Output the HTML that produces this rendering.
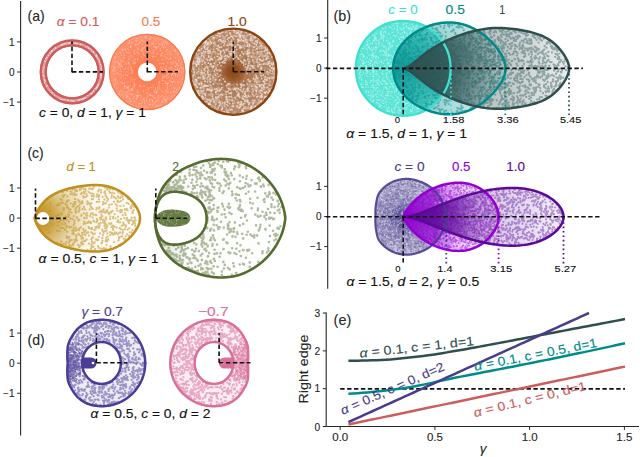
<!DOCTYPE html><html><head><meta charset="utf-8"><style>html,body{margin:0;padding:0;background:#fff;width:640px;height:457px;overflow:hidden;position:relative}</style></head><body><svg width="640" height="457" viewBox="0 0 640 457" style="display:block;position:absolute;left:0;top:0">
<rect width="640" height="457" fill="#fff"/>
<g font-family="&apos;Liberation Sans&apos;, sans-serif">
<line x1="20.6" y1="1" x2="20.6" y2="435.5" stroke="#262626" stroke-width="1.1"/>
<line x1="17.1" y1="41.9" x2="20.6" y2="41.9" stroke="#262626" stroke-width="1"/>
<text x="14.50" y="45.50" font-size="10.00" fill="#262626" stroke="#262626" stroke-width="0.12" text-anchor="end" >1</text>
<line x1="17.1" y1="72.0" x2="20.6" y2="72.0" stroke="#262626" stroke-width="1"/>
<text x="14.50" y="75.60" font-size="10.00" fill="#262626" stroke="#262626" stroke-width="0.12" text-anchor="end" >0</text>
<line x1="17.1" y1="102.1" x2="20.6" y2="102.1" stroke="#262626" stroke-width="1"/>
<text x="14.50" y="105.70" font-size="10.00" fill="#262626" stroke="#262626" stroke-width="0.12" text-anchor="end" >&#8722;1</text>
<line x1="17.1" y1="188.0" x2="20.6" y2="188.0" stroke="#262626" stroke-width="1"/>
<text x="14.50" y="191.60" font-size="10.00" fill="#262626" stroke="#262626" stroke-width="0.12" text-anchor="end" >1</text>
<line x1="17.1" y1="218.1" x2="20.6" y2="218.1" stroke="#262626" stroke-width="1"/>
<text x="14.50" y="221.70" font-size="10.00" fill="#262626" stroke="#262626" stroke-width="0.12" text-anchor="end" >0</text>
<line x1="17.1" y1="248.2" x2="20.6" y2="248.2" stroke="#262626" stroke-width="1"/>
<text x="14.50" y="251.80" font-size="10.00" fill="#262626" stroke="#262626" stroke-width="0.12" text-anchor="end" >&#8722;1</text>
<line x1="17.1" y1="333.1" x2="20.6" y2="333.1" stroke="#262626" stroke-width="1"/>
<text x="14.50" y="336.70" font-size="10.00" fill="#262626" stroke="#262626" stroke-width="0.12" text-anchor="end" >1</text>
<line x1="17.1" y1="363.2" x2="20.6" y2="363.2" stroke="#262626" stroke-width="1"/>
<text x="14.50" y="366.80" font-size="10.00" fill="#262626" stroke="#262626" stroke-width="0.12" text-anchor="end" >0</text>
<line x1="17.1" y1="393.3" x2="20.6" y2="393.3" stroke="#262626" stroke-width="1"/>
<text x="14.50" y="396.90" font-size="10.00" fill="#262626" stroke="#262626" stroke-width="0.12" text-anchor="end" >&#8722;1</text>
<line x1="327.7" y1="0" x2="327.7" y2="288.7" stroke="#262626" stroke-width="1.1"/>
<line x1="324.2" y1="38.0" x2="327.7" y2="38.0" stroke="#262626" stroke-width="1"/>
<text x="321.50" y="41.60" font-size="10.00" fill="#262626" stroke="#262626" stroke-width="0.12" text-anchor="end" >1</text>
<line x1="324.2" y1="68.1" x2="327.7" y2="68.1" stroke="#262626" stroke-width="1"/>
<text x="321.50" y="71.70" font-size="10.00" fill="#262626" stroke="#262626" stroke-width="0.12" text-anchor="end" >0</text>
<line x1="324.2" y1="98.2" x2="327.7" y2="98.2" stroke="#262626" stroke-width="1"/>
<text x="321.50" y="101.80" font-size="10.00" fill="#262626" stroke="#262626" stroke-width="0.12" text-anchor="end" >&#8722;1</text>
<line x1="324.2" y1="186.4" x2="327.7" y2="186.4" stroke="#262626" stroke-width="1"/>
<text x="321.50" y="190.00" font-size="10.00" fill="#262626" stroke="#262626" stroke-width="0.12" text-anchor="end" >1</text>
<line x1="324.2" y1="216.5" x2="327.7" y2="216.5" stroke="#262626" stroke-width="1"/>
<text x="321.50" y="220.10" font-size="10.00" fill="#262626" stroke="#262626" stroke-width="0.12" text-anchor="end" >0</text>
<line x1="324.2" y1="246.6" x2="327.7" y2="246.6" stroke="#262626" stroke-width="1"/>
<text x="321.50" y="250.20" font-size="10.00" fill="#262626" stroke="#262626" stroke-width="0.12" text-anchor="end" >&#8722;1</text>
<text x="27.50" y="21.40" font-size="15.00" fill="#262626" stroke="#262626" stroke-width="0.12" text-anchor="start" textLength="17.1" lengthAdjust="spacingAndGlyphs" >(a)</text>
<text x="333.50" y="21.10" font-size="15.00" fill="#262626" stroke="#262626" stroke-width="0.12" text-anchor="start" textLength="17.5" lengthAdjust="spacingAndGlyphs" >(b)</text>
<text x="27.50" y="157.60" font-size="15.00" fill="#262626" stroke="#262626" stroke-width="0.12" text-anchor="start" textLength="16.2" lengthAdjust="spacingAndGlyphs" >(c)</text>
<text x="27.50" y="345.20" font-size="15.00" fill="#262626" stroke="#262626" stroke-width="0.12" text-anchor="start" textLength="17.2" lengthAdjust="spacingAndGlyphs" >(d)</text>
<path d="M39.70,71.90 a32.50,32.50 0 1,0 65.00,0 a32.50,32.50 0 1,0 -65.00,0ZM46.80,71.90 a25.40,25.40 0 1,0 50.80,0 a25.40,25.40 0 1,0 -50.80,0Z" fill="#cd5c5c" fill-opacity="0.60" fill-rule="evenodd"/>
<path d="M44.3,80.5h0 M98.0,58.6h0 M42.9,70.5h0 M83.8,98.6h0 M51.8,50.2h0 M96.0,87.9h0 M97.3,88.0h0 M62.4,45.6h0 M102.1,68.5h0 M55.5,47.7h0 M87.6,95.3h0 M44.5,66.9h0 M82.7,98.4h0 M100.7,77.4h0 M44.4,82.8h0 M43.0,68.4h0 M42.7,71.9h0 M44.6,79.5h0 M102.4,71.5h0 M88.1,47.0h0 M60.8,98.0h0 M65.4,99.2h0 M75.2,43.2h0 M88.7,48.2h0 M101.0,64.1h0 M100.7,72.0h0 M96.7,56.4h0 M100.9,68.3h0 M98.5,84.9h0 M77.3,43.8h0 M96.7,86.9h0 M101.1,65.3h0 M93.3,91.2h0 M94.8,88.6h0 M80.5,44.7h0 M45.2,61.3h0 M83.0,99.5h0 M92.2,93.5h0 M93.7,91.2h0 M78.8,99.7h0 M101.5,66.5h0 M62.2,100.1h0 M79.3,99.9h0 M90.1,48.6h0 M96.6,89.7h0 M78.7,99.7h0 M76.3,43.5h0 M64.1,98.9h0 M96.9,87.6h0 M73.5,101.2h0 M52.1,92.8h0 M100.3,64.5h0 M45.5,58.4h0 M83.8,97.8h0 M97.2,55.7h0 M72.3,100.3h0 M70.2,41.9h0 M82.1,100.3h0 M93.9,52.1h0 M47.3,85.3h0 M101.4,79.2h0 M74.4,101.4h0 M70.9,101.7h0 M48.7,55.6h0 M85.6,98.3h0 M98.1,83.8h0 M44.4,61.0h0 M50.7,53.1h0 M96.9,57.8h0 M100.6,74.9h0 M45.7,81.3h0 M85.1,97.7h0 M46.8,59.5h0 M52.8,94.7h0 M101.4,68.3h0 M61.6,44.6h0 M90.0,93.6h0 M102.0,75.3h0 M63.1,43.2h0 M101.3,75.8h0 M42.8,75.2h0 M59.5,99.3h0 M98.2,85.2h0 M69.8,42.0h0 M69.8,42.4h0 M80.3,43.0h0 M54.6,95.6h0 M96.5,54.4h0 M46.4,86.7h0 M91.3,49.8h0 M51.8,51.5h0 M46.7,57.3h0 M98.0,86.1h0 M102.1,70.6h0 M68.3,43.3h0 M69.5,42.8h0 M44.4,82.8h0 M97.8,86.8h0 M101.0,77.4h0 M43.9,75.3h0 M62.9,44.3h0 M49.6,52.1h0 M71.2,99.9h0 M62.9,99.9h0 M80.5,99.0h0 M96.6,55.5h0 M44.2,82.6h0 M58.5,98.0h0 M81.4,99.3h0 M82.5,43.7h0 M93.3,52.2h0 M47.3,57.6h0 M91.3,93.9h0 M87.7,46.4h0 M64.9,42.7h0 M67.4,99.9h0 M45.0,80.6h0 M78.7,100.1h0 M51.7,51.2h0 M60.3,99.3h0 M101.0,68.6h0 M97.2,84.6h0 M91.8,51.8h0 M64.7,43.6h0 M61.4,99.6h0 M100.3,75.3h0 M45.3,79.8h0 M85.9,46.9h0 M90.0,93.7h0 M52.3,50.9h0 M52.0,50.4h0 M82.8,43.7h0 M60.8,45.8h0 M44.2,76.3h0 M101.2,73.9h0 M65.9,44.2h0 M68.2,100.4h0 M62.7,44.3h0 M49.9,52.4h0 M48.9,90.3h0 M95.6,56.2h0 M99.2,59.7h0 M92.1,93.0h0 M51.1,50.6h0 M51.3,92.3h0 M93.8,51.4h0 M99.5,61.9h0 M55.7,48.7h0 M67.0,42.6h0 M53.6,48.9h0" stroke="#fff" stroke-width="1.20" stroke-linecap="round" fill="none" opacity="0.70"/>
<circle cx="72.2" cy="71.9" r="31.4" fill="none" stroke="#cd5c5c" stroke-width="2.4"/>
<circle cx="72.2" cy="71.9" r="26.5" fill="none" stroke="#cd5c5c" stroke-width="2.4"/>
<circle cx="72.2" cy="71.9" r="1" fill="#cd5c5c"/>
<defs><radialGradient id="gco"><stop offset="0" stop-color="#fc7a4f" stop-opacity="1"/><stop offset="0.5" stop-color="#fc7a4f" stop-opacity="0.92"/><stop offset="1" stop-color="#fc7a4f" stop-opacity="0.8"/></radialGradient></defs>
<path d="M109.00,71.90 a38.20,38.20 0 1,0 76.40,0 a38.20,38.20 0 1,0 -76.40,0ZM137.90,71.90 a9.30,9.30 0 1,0 18.60,0 a9.30,9.30 0 1,0 -18.60,0Z" fill="url(#gco)" fill-rule="evenodd"/>
<circle cx="147.2" cy="71.9" r="0.9" fill="#fc7a4f"/>
<path d="M155.4,106.8h0 M184.1,67.4h0 M114.2,64.1h0 M131.8,104.5h0 M162.5,52.3h0 M170.6,85.3h0 M115.3,61.5h0 M132.1,73.1h0 M153.2,56.5h0 M153.4,52.7h0 M129.9,101.1h0 M159.5,86.9h0 M114.6,68.5h0 M164.4,44.8h0 M173.7,62.5h0 M163.6,66.5h0 M152.4,100.3h0 M139.0,103.7h0 M128.7,49.8h0 M163.6,47.3h0 M137.5,95.6h0 M167.4,42.3h0 M156.3,105.7h0 M175.5,66.2h0 M128.4,62.6h0 M119.5,65.6h0 M135.2,62.6h0 M175.3,66.4h0 M119.5,91.9h0 M121.3,61.1h0 M141.2,56.4h0 M121.6,65.5h0 M182.1,62.2h0 M143.9,99.4h0 M165.9,91.1h0 M161.6,39.1h0 M123.4,75.4h0 M158.2,100.6h0 M163.9,63.4h0 M149.9,57.2h0 M154.7,92.3h0 M137.9,49.6h0 M128.3,96.2h0 M173.2,92.0h0 M167.7,91.8h0 M147.1,92.8h0 M120.8,66.8h0 M128.5,90.5h0 M127.8,68.3h0 M156.0,101.6h0 M128.5,49.8h0 M165.4,47.3h0 M160.8,54.8h0 M145.2,37.7h0 M166.9,58.1h0 M132.8,105.2h0 M154.7,108.6h0 M161.6,59.6h0 M149.4,104.6h0 M146.1,89.6h0 M160.3,48.8h0 M151.8,53.8h0 M121.0,90.3h0 M168.0,74.2h0 M132.3,39.1h0 M165.2,68.3h0 M113.9,70.7h0 M115.2,71.3h0 M153.5,87.5h0 M159.4,81.5h0 M120.1,62.8h0 M129.7,63.8h0 M155.6,91.2h0 M167.3,40.4h0 M163.0,64.1h0 M181.2,85.8h0 M114.7,79.8h0 M134.4,96.3h0 M120.6,69.3h0 M135.5,63.3h0 M136.6,38.6h0 M158.6,96.7h0 M145.4,45.8h0 M153.9,90.6h0 M132.6,70.7h0 M173.9,50.7h0 M137.3,38.1h0 M129.2,52.9h0 M124.2,55.3h0 M181.2,68.2h0 M145.3,107.9h0 M146.0,38.2h0 M157.6,47.8h0 M175.5,50.4h0 M135.8,40.4h0 M149.7,45.8h0 M144.3,55.4h0 M132.1,95.1h0 M172.2,73.6h0 M127.3,48.3h0 M151.3,108.3h0 M134.8,50.6h0 M131.2,46.8h0 M121.9,66.6h0 M178.4,71.9h0 M137.1,40.0h0 M162.0,70.0h0 M122.5,50.0h0 M146.1,98.0h0 M167.0,78.4h0 M134.6,84.4h0 M147.0,107.8h0 M120.1,63.1h0 M176.3,65.8h0 M178.3,70.9h0 M153.4,56.1h0 M119.9,52.7h0 M182.1,82.1h0 M162.0,95.3h0 M160.9,96.5h0 M134.7,61.4h0 M172.2,62.9h0 M117.3,66.8h0 M131.7,89.3h0 M130.6,47.4h0 M140.4,103.8h0 M143.0,85.9h0 M147.7,87.6h0 M165.6,99.6h0 M119.6,94.7h0 M147.0,55.9h0 M183.7,69.3h0 M179.4,87.9h0 M122.1,83.8h0 M169.0,68.2h0 M111.1,66.6h0 M142.5,44.7h0 M181.3,67.3h0 M132.6,60.8h0 M127.8,52.7h0 M151.8,87.3h0 M128.9,68.6h0 M117.5,83.0h0 M125.4,78.1h0 M124.1,58.8h0 M152.3,43.4h0 M183.9,71.4h0 M145.0,50.0h0 M174.2,95.3h0 M153.8,41.8h0 M132.7,89.6h0 M135.4,44.7h0 M121.2,55.0h0 M147.6,51.3h0 M147.4,109.1h0 M177.8,54.0h0 M163.1,75.9h0 M143.7,98.3h0 M134.4,59.4h0 M130.9,67.5h0 M174.5,88.4h0 M117.8,62.2h0 M127.7,91.8h0 M153.3,95.9h0 M146.1,37.1h0 M163.7,80.2h0 M158.4,43.2h0 M149.7,50.7h0 M127.2,82.2h0 M156.5,48.3h0 M126.0,41.2h0 M133.8,98.0h0 M146.3,35.7h0 M124.4,83.0h0 M176.2,92.2h0 M162.4,80.1h0 M121.5,60.9h0 M137.9,50.2h0 M149.9,55.1h0 M154.4,102.6h0 M167.9,83.6h0 M142.2,40.1h0 M143.3,90.7h0 M126.7,97.4h0 M134.9,85.6h0 M139.7,43.1h0 M179.0,54.0h0 M170.3,57.9h0 M155.0,49.4h0 M136.5,95.7h0 M180.0,57.6h0 M147.5,97.1h0 M130.5,90.8h0 M126.8,87.6h0 M157.2,99.8h0 M155.7,44.0h0 M162.5,46.5h0 M162.1,101.8h0 M164.2,56.1h0 M175.6,75.9h0 M118.6,63.8h0 M177.9,65.3h0 M152.7,56.3h0 M114.7,62.1h0 M162.0,80.6h0 M144.3,36.2h0 M173.9,87.7h0 M167.7,97.9h0 M134.0,54.0h0 M153.4,104.8h0 M114.0,67.4h0 M127.8,87.0h0 M178.3,65.6h0 M118.1,73.1h0 M141.3,40.0h0 M169.9,58.5h0 M161.8,43.8h0 M167.9,44.7h0 M165.1,41.1h0 M177.3,63.7h0 M115.1,67.0h0 M155.8,46.7h0 M130.3,81.2h0 M145.1,34.6h0 M133.0,86.0h0 M154.7,97.5h0 M137.5,107.6h0 M169.4,80.6h0 M170.7,92.6h0 M150.5,51.8h0 M172.5,82.4h0 M116.1,53.8h0 M164.8,76.0h0 M155.8,91.5h0 M150.2,104.4h0 M129.3,59.8h0 M156.4,93.1h0 M162.8,101.4h0 M136.1,99.0h0 M158.6,46.5h0 M144.9,107.5h0 M168.4,59.2h0 M112.0,61.1h0 M125.8,74.2h0 M182.1,83.2h0 M155.4,47.5h0 M119.0,67.0h0 M141.5,108.8h0 M135.1,53.5h0 M174.8,73.8h0 M123.6,96.5h0 M140.2,42.2h0 M158.0,88.3h0 M137.4,92.2h0 M166.7,50.9h0 M122.8,43.6h0 M144.2,100.8h0 M166.8,99.2h0 M181.7,72.2h0 M166.8,43.5h0 M167.1,83.2h0 M143.5,54.6h0 M119.8,75.3h0 M176.1,63.6h0 M162.0,53.4h0 M153.7,46.2h0 M162.4,63.2h0 M157.0,53.1h0 M119.4,64.1h0 M166.2,100.9h0 M138.2,94.1h0 M168.3,82.8h0 M115.3,78.6h0 M126.8,96.6h0 M167.6,87.9h0 M111.3,80.7h0 M162.3,44.3h0 M172.7,73.9h0 M141.7,50.6h0 M122.0,61.2h0 M184.5,74.4h0 M153.7,51.8h0 M129.8,56.3h0 M126.5,92.4h0 M139.9,95.4h0 M122.5,91.7h0 M146.4,92.8h0 M144.4,47.7h0 M175.1,61.9h0 M143.2,47.8h0 M155.3,56.4h0 M158.4,85.5h0 M133.0,42.7h0 M158.3,95.5h0 M162.9,46.1h0 M165.5,83.5h0 M157.5,87.4h0 M133.2,81.2h0 M170.6,59.1h0 M116.0,69.6h0 M150.8,37.6h0 M128.8,88.0h0 M134.7,79.6h0 M121.0,90.8h0 M180.9,68.1h0 M130.9,46.1h0 M171.5,74.7h0 M130.0,98.1h0 M167.3,87.7h0 M113.3,69.9h0 M161.1,44.7h0 M165.5,100.0h0 M171.2,55.1h0 M130.2,94.5h0 M167.7,97.2h0 M175.7,69.5h0 M139.7,38.0h0 M159.1,106.5h0 M132.6,56.9h0 M166.4,83.0h0 M118.6,57.0h0 M129.9,103.8h0 M129.5,93.0h0 M173.6,98.0h0 M170.9,98.9h0 M118.7,63.9h0 M126.1,63.5h0 M178.7,51.7h0 M159.7,44.2h0 M172.0,96.0h0 M138.6,106.7h0 M148.9,101.7h0 M157.2,54.0h0 M131.0,66.9h0 M167.1,76.0h0 M183.6,68.9h0 M134.2,51.9h0 M131.5,42.9h0 M125.0,92.3h0 M152.1,58.0h0 M155.8,98.1h0 M163.2,92.1h0 M128.9,63.4h0 M124.7,69.1h0 M124.9,61.8h0 M137.4,59.8h0 M138.0,55.0h0 M176.6,64.2h0 M121.3,76.9h0 M124.3,49.4h0 M148.9,38.7h0 M109.9,75.2h0 M165.7,42.1h0 M124.6,86.4h0 M114.3,57.4h0 M118.7,67.2h0 M114.5,86.7h0 M140.2,86.5h0 M141.7,36.5h0 M143.8,41.8h0 M147.5,48.1h0 M133.3,62.6h0 M166.5,91.0h0 M121.2,71.5h0 M177.7,82.2h0 M125.5,68.3h0 M138.2,96.3h0 M148.7,88.5h0 M178.6,52.4h0 M129.4,41.5h0 M117.1,88.1h0 M153.0,104.5h0 M114.4,57.3h0 M174.9,91.6h0 M167.9,92.3h0 M160.6,67.6h0 M148.1,95.5h0 M139.7,86.6h0 M174.4,50.8h0 M127.2,87.0h0 M133.6,63.8h0 M182.3,78.9h0 M137.1,98.3h0 M181.2,56.9h0 M126.4,75.5h0 M137.0,106.7h0 M163.8,59.3h0 M160.3,50.6h0 M127.4,75.4h0 M174.4,46.2h0 M156.4,101.5h0 M160.0,105.0h0 M164.3,77.5h0 M143.6,48.2h0 M175.8,51.2h0 M142.9,53.5h0 M135.0,37.5h0 M131.1,77.7h0 M151.2,95.4h0 M142.1,51.7h0 M156.4,91.8h0 M129.8,42.7h0 M125.2,94.6h0 M169.8,51.9h0 M150.3,95.4h0 M175.6,57.8h0 M142.0,102.6h0 M178.6,91.8h0 M120.3,82.5h0 M131.7,68.9h0 M128.4,58.3h0 M147.0,106.1h0 M167.1,84.0h0 M148.0,49.7h0 M141.9,100.7h0 M161.1,104.9h0 M162.5,70.7h0 M114.9,79.8h0 M120.0,96.0h0 M126.9,71.9h0 M117.9,61.1h0 M127.2,96.2h0 M153.1,43.9h0 M112.3,70.7h0 M135.7,45.6h0 M166.4,65.9h0 M150.9,52.3h0 M130.1,58.1h0 M115.9,84.2h0 M154.9,38.8h0 M149.7,99.9h0 M152.6,101.4h0 M131.7,72.0h0 M120.5,53.3h0 M115.4,56.3h0 M155.5,89.5h0 M175.2,75.0h0 M122.4,82.7h0 M144.4,105.9h0 M179.5,87.7h0 M120.7,59.6h0 M152.9,50.6h0 M161.7,90.9h0 M170.4,78.2h0 M126.3,52.0h0 M144.4,101.9h0 M176.5,90.1h0 M157.8,91.7h0 M164.4,99.0h0 M163.7,42.3h0 M171.6,81.8h0 M133.1,88.0h0 M162.6,69.0h0 M113.8,74.1h0 M166.4,70.2h0 M115.4,81.1h0 M168.6,77.3h0 M162.0,59.7h0 M128.7,86.6h0 M132.1,79.7h0 M183.8,79.9h0 M149.9,39.1h0 M150.0,94.1h0 M126.3,64.8h0 M111.9,80.6h0 M131.1,90.4h0 M177.6,68.3h0 M172.5,78.4h0 M137.6,58.7h0 M129.4,98.7h0 M167.1,49.2h0 M168.0,53.9h0 M119.9,93.6h0 M122.4,94.9h0 M152.6,96.1h0 M159.1,98.7h0 M158.0,89.9h0 M153.3,98.8h0 M137.4,97.2h0 M179.1,70.6h0 M160.9,55.9h0 M134.7,83.2h0 M138.1,48.4h0 M144.9,86.5h0 M156.6,92.5h0 M118.8,94.5h0 M142.2,49.6h0 M134.6,86.9h0 M170.4,62.2h0 M150.4,39.3h0 M159.6,63.7h0 M135.9,95.0h0 M178.0,89.6h0 M131.9,101.8h0 M131.1,69.9h0 M129.9,85.5h0 M166.0,76.8h0 M134.6,63.3h0 M137.0,96.5h0 M128.9,66.7h0 M141.1,50.1h0 M142.3,40.6h0 M159.9,88.7h0 M141.0,103.8h0 M125.9,86.3h0 M161.6,55.7h0 M140.7,95.8h0 M150.5,87.2h0 M177.8,76.7h0 M115.8,58.1h0 M170.5,68.3h0 M129.9,40.1h0 M154.0,103.3h0 M128.8,40.1h0 M162.0,55.8h0 M135.5,59.0h0 M123.9,83.3h0 M171.1,81.4h0 M133.9,96.8h0 M143.5,91.3h0 M124.5,87.9h0 M163.0,99.3h0 M148.3,89.4h0 M132.7,94.2h0 M164.7,96.3h0 M138.4,43.8h0 M142.6,57.7h0 M127.6,87.8h0 M171.4,82.0h0 M173.8,81.4h0 M123.5,57.7h0 M137.0,91.8h0 M171.7,75.6h0 M170.3,53.2h0 M144.8,103.5h0 M158.0,97.3h0 M119.7,47.5h0 M127.8,94.6h0 M178.6,60.0h0 M125.8,49.8h0 M124.8,85.9h0 M141.5,106.1h0 M165.9,54.3h0 M160.3,63.5h0 M165.9,93.3h0 M138.1,95.4h0 M166.4,69.1h0 M154.9,92.2h0 M137.9,52.1h0 M176.4,72.1h0 M129.9,85.5h0 M115.9,73.2h0 M117.8,62.7h0 M115.0,59.0h0 M171.2,67.1h0 M126.9,101.1h0 M134.6,101.9h0 M136.4,41.7h0 M180.9,64.1h0 M163.8,97.8h0 M117.6,73.6h0 M131.3,88.9h0 M147.0,42.9h0 M149.0,94.1h0 M138.0,90.0h0 M128.6,70.3h0 M162.6,78.4h0 M173.1,91.3h0 M167.9,89.6h0 M151.1,44.3h0 M165.6,102.0h0 M158.2,60.1h0 M146.5,100.4h0 M154.7,47.1h0 M142.4,50.0h0 M142.0,48.1h0 M130.4,100.8h0 M166.2,43.0h0 M123.0,61.0h0 M139.0,42.2h0 M163.8,42.1h0 M165.2,90.0h0 M136.6,52.8h0 M153.0,85.3h0 M115.8,53.2h0 M165.8,68.4h0 M137.1,47.4h0 M129.6,52.8h0 M181.3,56.7h0 M178.2,81.7h0 M158.8,82.5h0 M139.8,103.9h0 M165.7,71.2h0 M139.9,85.1h0 M120.3,64.5h0 M130.5,89.0h0 M158.1,38.8h0 M141.8,97.2h0 M122.5,49.3h0 M172.8,68.8h0 M137.1,44.4h0 M153.2,53.5h0 M155.4,88.0h0 M167.6,62.8h0 M128.8,73.3h0 M140.6,85.2h0 M129.6,64.2h0 M131.0,55.6h0 M151.1,99.5h0 M132.2,88.8h0 M162.9,77.1h0 M165.9,57.0h0 M165.2,81.6h0 M109.9,75.8h0 M157.6,105.6h0 M120.9,74.5h0 M156.3,47.6h0 M174.7,82.3h0 M130.2,46.2h0 M141.0,107.9h0 M171.9,43.8h0 M114.7,84.0h0 M144.0,51.9h0 M166.9,75.3h0 M159.6,83.4h0 M126.2,97.7h0 M136.7,98.5h0 M168.4,73.3h0 M161.2,68.2h0 M113.4,66.1h0 M155.9,40.1h0 M119.6,92.1h0 M162.9,42.3h0 M165.0,70.3h0 M172.1,63.9h0 M141.0,50.4h0 M159.8,63.8h0 M128.0,61.8h0 M127.8,88.3h0 M128.3,43.3h0 M126.7,95.3h0 M133.1,90.2h0 M167.2,58.3h0 M167.6,85.6h0 M146.1,50.7h0 M145.9,42.7h0 M138.6,53.6h0 M162.3,83.8h0 M131.4,93.5h0 M175.5,73.6h0" stroke="#fff" stroke-width="1.10" stroke-linecap="round" fill="none" opacity="0.45"/>
<circle cx="147.2" cy="71.9" r="37.6" fill="none" stroke="#fc7a4f" stroke-width="1.3"/>
<defs><radialGradient id="gbr"><stop offset="0" stop-color="#8b4513" stop-opacity="1"/><stop offset="0.15" stop-color="#8b4513" stop-opacity="0.92"/><stop offset="0.32" stop-color="#8b4513" stop-opacity="0.62"/><stop offset="0.55" stop-color="#8b4513" stop-opacity="0.48"/><stop offset="1" stop-color="#8b4513" stop-opacity="0.4"/></radialGradient></defs>
<circle cx="233.3" cy="71.7" r="43.2" fill="url(#gbr)"/>
<path d="M212.9,85.9h0 M192.5,62.0h0 M244.6,110.5h0 M217.2,105.5h0 M266.5,98.6h0 M195.1,89.6h0 M238.6,99.1h0 M228.1,53.5h0 M228.1,106.9h0 M256.9,63.7h0 M243.9,95.6h0 M250.7,70.5h0 M215.5,51.6h0 M220.6,55.6h0 M203.1,44.6h0 M254.5,44.8h0 M200.7,70.7h0 M263.0,97.6h0 M222.5,44.5h0 M219.0,47.4h0 M217.4,85.8h0 M206.9,52.3h0 M223.6,70.8h0 M213.0,50.8h0 M205.5,53.2h0 M249.4,64.3h0 M191.3,80.1h0 M231.4,47.2h0 M229.7,29.1h0 M200.5,94.8h0 M263.2,102.3h0 M211.9,72.9h0 M252.0,42.3h0 M269.6,56.7h0 M242.5,42.0h0 M245.7,71.2h0 M258.2,45.2h0 M233.1,110.4h0 M202.9,80.7h0 M246.4,56.9h0 M226.9,105.8h0 M262.2,86.1h0 M240.3,42.1h0 M235.3,110.2h0 M256.5,41.8h0 M194.3,59.2h0 M238.4,54.8h0 M223.5,82.7h0 M258.4,77.6h0 M259.3,42.2h0 M247.5,84.6h0 M202.9,97.3h0 M203.0,44.3h0 M271.8,90.4h0 M242.5,104.7h0 M259.6,45.9h0 M244.8,105.1h0 M226.0,75.1h0 M220.1,92.6h0 M217.3,54.8h0 M204.6,50.0h0 M240.2,86.6h0 M223.0,43.8h0 M244.1,83.1h0 M264.8,59.5h0 M220.9,87.2h0 M269.2,70.5h0 M231.0,45.5h0 M223.0,97.6h0 M254.1,99.0h0 M198.6,89.5h0 M208.6,87.6h0 M191.6,70.0h0 M212.7,101.5h0 M236.4,104.5h0 M224.6,111.0h0 M224.3,110.5h0 M220.3,45.4h0 M258.2,60.7h0 M231.9,38.2h0 M221.6,75.6h0 M212.9,83.1h0 M194.1,87.0h0 M223.7,106.4h0 M223.0,52.4h0 M219.2,80.5h0 M250.9,58.1h0 M210.8,83.9h0 M250.3,35.8h0 M206.3,54.4h0 M266.4,95.5h0 M255.7,85.6h0 M207.4,97.7h0 M220.8,49.2h0 M266.9,46.6h0 M267.3,76.7h0 M207.5,76.8h0 M209.2,77.1h0 M217.2,42.1h0 M275.1,63.8h0 M260.7,70.4h0 M249.8,41.0h0 M220.3,30.8h0 M260.3,83.7h0 M204.8,92.0h0 M241.8,113.6h0 M240.0,97.4h0 M250.4,93.2h0 M232.6,58.0h0 M250.7,101.9h0 M206.7,45.7h0 M232.5,110.5h0 M228.7,34.0h0 M255.0,92.0h0 M273.0,75.7h0 M271.6,57.8h0 M258.9,75.6h0 M202.4,64.6h0 M262.6,96.3h0 M223.5,101.0h0 M256.4,94.7h0 M242.9,81.9h0 M209.5,69.9h0 M237.1,50.0h0 M223.3,77.7h0 M239.2,100.3h0 M205.8,61.2h0 M242.2,59.6h0 M243.8,57.3h0 M264.2,65.9h0 M205.1,90.5h0 M261.0,39.8h0 M226.9,75.6h0 M255.5,103.8h0 M229.7,35.4h0 M250.8,98.0h0 M248.4,74.4h0 M220.0,111.8h0 M208.6,40.7h0 M260.3,79.7h0 M253.2,82.4h0 M264.8,98.3h0 M218.9,98.4h0 M210.3,38.3h0 M264.1,60.9h0 M192.4,71.5h0 M214.3,86.5h0 M231.8,49.3h0 M214.0,92.8h0 M207.4,75.5h0 M206.8,84.1h0 M270.8,83.8h0 M262.5,83.6h0 M206.9,63.6h0 M235.8,86.2h0 M216.2,89.4h0 M212.1,73.8h0 M233.2,41.4h0 M261.1,73.3h0 M240.2,70.2h0 M198.2,48.4h0 M211.1,96.7h0 M216.9,89.4h0 M207.6,50.6h0 M221.1,99.8h0 M196.0,67.9h0 M246.8,76.4h0 M233.0,94.6h0 M241.3,44.4h0 M250.9,50.4h0 M225.4,106.4h0 M270.0,93.5h0 M245.6,49.8h0 M217.3,107.3h0 M241.6,38.0h0 M268.6,84.9h0 M265.9,81.8h0 M194.1,58.4h0 M227.6,65.0h0 M267.6,56.7h0 M227.3,68.4h0 M231.0,43.6h0 M215.1,33.1h0 M244.7,65.1h0 M239.0,43.4h0 M233.6,44.8h0 M206.1,81.0h0 M251.6,88.5h0 M232.1,58.9h0 M262.7,97.9h0 M217.2,43.9h0 M245.3,82.1h0 M217.8,110.8h0 M194.9,56.4h0 M240.1,99.0h0 M194.9,62.8h0 M262.1,99.9h0 M223.8,73.4h0 M208.9,82.8h0 M214.3,34.8h0 M197.5,73.1h0 M204.3,96.3h0 M262.6,94.5h0 M249.9,100.4h0 M240.9,96.3h0 M246.6,93.9h0 M207.0,54.7h0 M208.2,92.9h0 M247.7,49.8h0 M207.3,56.6h0 M258.2,68.6h0 M226.3,51.4h0 M230.7,108.5h0 M213.3,61.5h0 M269.3,87.1h0 M207.0,97.1h0 M202.3,85.6h0 M193.8,56.2h0 M258.1,55.9h0 M212.0,73.5h0 M233.6,56.8h0 M219.5,108.9h0 M268.5,79.6h0 M204.0,58.3h0 M224.5,87.0h0 M269.2,60.2h0 M238.3,58.0h0 M237.7,51.4h0 M243.2,101.8h0 M221.0,61.5h0 M236.4,38.8h0 M266.7,47.3h0 M223.5,47.2h0 M268.2,60.6h0 M223.2,110.3h0 M230.0,49.2h0 M233.3,80.3h0 M211.6,66.5h0 M227.4,93.1h0 M253.8,94.0h0 M230.0,95.0h0 M228.0,102.2h0 M246.0,58.8h0 M258.6,41.0h0 M208.6,51.4h0 M230.1,40.2h0 M211.2,36.9h0 M236.9,49.4h0 M272.5,85.6h0 M208.4,100.8h0 M236.3,100.8h0 M208.0,98.5h0 M262.3,61.0h0 M209.6,61.3h0 M238.0,113.4h0 M265.4,98.4h0 M226.2,60.9h0 M245.4,63.1h0 M218.7,65.3h0 M257.7,70.0h0 M241.8,62.9h0 M227.0,60.8h0 M265.5,77.8h0 M268.8,67.8h0 M256.8,41.6h0 M220.1,69.9h0 M214.3,68.4h0 M207.6,67.3h0 M213.4,71.8h0 M225.5,44.7h0 M220.0,72.9h0 M201.0,74.4h0 M265.3,66.1h0 M249.3,89.8h0 M214.8,102.8h0 M272.7,55.8h0 M272.7,58.9h0 M259.5,39.4h0 M263.5,75.5h0 M203.2,52.4h0 M207.6,49.7h0 M246.0,66.0h0 M191.5,66.6h0 M248.5,74.8h0 M261.9,40.8h0 M242.9,73.2h0 M250.5,40.3h0 M200.6,67.6h0 M235.1,33.0h0 M246.0,71.8h0 M244.9,30.8h0 M247.2,47.6h0 M220.1,93.9h0 M271.0,75.3h0 M230.7,104.7h0 M208.3,67.6h0 M220.0,45.6h0 M237.3,111.9h0 M241.2,87.4h0 M232.7,101.8h0 M238.6,47.0h0 M235.9,106.6h0 M231.3,103.0h0 M232.1,112.0h0 M241.9,91.3h0 M225.3,95.6h0 M228.1,36.6h0 M241.3,40.8h0 M266.5,89.6h0 M234.0,92.5h0 M196.6,93.6h0 M215.3,90.7h0 M269.6,49.0h0 M220.5,82.6h0 M242.7,34.7h0 M213.1,104.3h0 M216.1,87.9h0 M202.3,51.1h0 M194.8,77.6h0 M263.9,74.4h0 M224.2,80.2h0 M248.1,62.9h0 M244.4,110.5h0 M273.6,61.5h0 M210.6,106.5h0 M256.2,100.1h0 M251.8,65.1h0 M256.7,98.5h0 M260.5,46.9h0 M261.1,62.5h0 M222.2,83.2h0 M227.3,113.0h0 M250.7,80.1h0 M226.8,80.9h0 M226.6,89.7h0 M255.9,93.7h0 M201.7,63.5h0 M235.7,40.3h0 M246.1,67.3h0 M235.5,84.8h0 M219.6,106.7h0 M260.7,57.6h0 M246.8,93.0h0 M211.6,61.7h0 M244.6,30.8h0 M200.8,80.1h0 M250.1,47.3h0 M248.5,110.6h0 M242.2,70.5h0 M235.5,44.2h0 M250.6,77.5h0 M250.5,104.5h0 M235.3,80.0h0 M240.6,109.5h0 M198.4,71.9h0 M214.6,75.9h0 M257.4,74.0h0 M255.1,77.5h0 M213.8,53.7h0 M199.6,77.5h0 M222.6,95.5h0 M257.9,49.7h0 M205.7,87.6h0 M208.8,77.9h0 M251.7,60.6h0 M269.9,56.1h0 M246.7,59.4h0 M190.7,69.3h0 M228.8,89.8h0 M229.7,50.5h0 M217.8,62.7h0 M255.5,64.1h0 M262.7,92.2h0 M214.7,98.3h0 M192.0,72.4h0 M206.5,69.3h0 M263.9,72.0h0 M229.4,104.3h0 M213.3,49.9h0 M259.2,88.1h0 M198.9,75.7h0 M256.2,67.3h0 M220.4,76.6h0 M239.9,51.3h0 M251.7,37.8h0 M232.1,112.6h0 M204.9,71.0h0 M193.9,57.5h0 M203.2,73.6h0 M223.3,109.9h0 M207.7,71.2h0 M240.1,91.2h0 M252.8,38.3h0 M274.1,66.2h0 M218.0,36.4h0 M224.0,34.0h0 M239.3,53.8h0 M242.9,49.5h0 M234.8,112.9h0 M264.0,76.1h0 M212.1,103.7h0 M201.7,45.4h0 M264.9,57.4h0 M265.7,85.6h0 M266.2,98.7h0 M250.2,54.0h0 M247.4,104.8h0 M235.5,29.1h0 M221.7,60.4h0 M231.6,59.9h0 M258.8,43.8h0 M242.2,32.4h0 M195.4,54.1h0 M213.7,48.3h0 M213.8,89.0h0 M251.2,74.3h0 M239.3,51.3h0 M211.7,40.5h0 M222.6,42.4h0 M224.0,92.8h0 M246.6,103.8h0 M217.0,33.2h0 M213.2,107.9h0 M253.5,59.2h0 M265.8,61.6h0 M270.2,62.9h0 M221.7,91.9h0 M203.3,67.4h0 M272.3,80.5h0 M204.1,65.1h0 M232.5,49.6h0 M243.6,103.0h0 M234.7,96.8h0 M243.7,76.6h0 M213.9,96.5h0 M266.1,60.8h0 M209.4,86.0h0 M236.0,101.5h0 M248.8,67.6h0 M200.7,86.3h0 M235.8,39.5h0 M207.0,39.4h0 M251.5,59.0h0 M191.8,60.7h0 M214.1,68.3h0 M234.5,59.9h0 M252.2,97.8h0 M228.1,108.0h0 M229.7,47.2h0 M237.0,37.1h0 M225.3,43.4h0 M219.5,77.9h0 M191.8,78.3h0 M242.3,64.1h0 M254.0,81.6h0 M223.5,44.6h0 M253.0,92.2h0 M199.9,55.2h0 M204.7,91.6h0 M219.1,40.9h0 M268.2,82.2h0 M241.4,80.1h0 M225.2,73.1h0 M257.8,83.8h0 M218.5,74.7h0 M271.4,60.3h0 M200.2,74.5h0 M216.2,110.8h0 M251.0,88.3h0 M240.6,111.1h0 M205.4,70.2h0 M200.7,95.8h0 M231.5,110.0h0 M225.7,43.6h0 M214.2,93.2h0 M209.7,78.9h0 M213.4,52.1h0 M220.7,107.5h0 M204.6,80.0h0 M254.6,51.6h0 M204.3,100.4h0 M271.1,66.0h0 M204.5,92.2h0 M231.9,47.8h0 M226.5,30.3h0 M213.6,42.4h0 M201.2,85.6h0 M239.0,109.1h0 M192.0,61.3h0 M213.5,102.2h0 M261.3,74.7h0 M235.6,49.3h0 M217.5,58.0h0 M198.9,97.3h0 M246.8,110.5h0 M264.1,83.8h0 M250.4,36.2h0 M207.5,92.7h0 M224.4,35.1h0 M232.6,38.8h0 M232.9,108.0h0 M203.7,59.7h0 M250.1,70.3h0 M238.1,47.2h0 M227.2,30.2h0 M228.3,103.9h0 M203.2,66.3h0 M250.3,101.4h0 M260.9,49.9h0 M223.9,109.2h0 M218.1,80.0h0 M210.1,53.5h0 M191.2,63.7h0 M195.2,53.9h0 M210.7,101.7h0 M254.8,82.7h0 M220.5,38.2h0 M246.0,48.0h0 M229.4,97.6h0 M224.6,69.6h0 M208.6,96.6h0 M247.9,91.4h0 M262.3,41.9h0 M233.3,90.7h0 M243.5,81.0h0 M243.4,36.0h0 M230.6,102.0h0 M230.1,62.9h0 M250.1,35.5h0 M242.0,106.9h0 M225.3,47.5h0 M248.3,57.3h0 M209.0,75.7h0 M197.0,85.6h0 M202.7,57.3h0 M254.2,70.0h0 M239.1,105.3h0 M258.1,105.9h0 M217.6,96.0h0 M197.7,88.1h0 M263.9,53.7h0 M245.7,94.7h0 M227.7,51.8h0 M263.1,44.7h0 M237.2,97.8h0 M238.2,108.0h0 M267.8,82.2h0 M269.8,86.9h0 M201.4,62.8h0 M242.2,77.8h0 M207.6,105.7h0 M201.0,48.2h0 M247.0,77.4h0 M269.0,76.4h0 M243.6,92.3h0 M215.4,40.5h0 M220.2,98.4h0 M225.4,103.2h0 M217.1,92.4h0 M233.5,95.5h0 M232.7,79.8h0 M221.0,102.6h0 M231.5,87.1h0 M250.2,47.2h0 M208.8,69.9h0 M261.7,47.3h0 M208.1,47.3h0 M222.4,43.0h0 M210.0,85.9h0 M203.5,70.9h0 M202.2,66.0h0 M243.1,32.2h0 M234.7,80.4h0 M230.2,80.9h0 M243.1,39.1h0 M229.0,90.8h0 M260.0,42.7h0 M218.8,38.9h0 M232.3,42.4h0 M207.5,91.1h0 M264.6,42.5h0 M267.4,52.1h0 M252.9,81.6h0 M264.7,65.9h0 M208.9,69.4h0 M253.5,47.9h0 M246.5,70.9h0 M241.1,71.4h0 M249.6,93.6h0 M223.4,59.9h0 M194.8,55.8h0 M198.7,86.5h0 M205.6,53.7h0 M247.0,97.9h0 M262.0,50.9h0 M239.3,100.2h0 M208.8,64.8h0 M202.9,55.6h0 M254.0,74.0h0 M221.9,54.5h0 M267.1,88.3h0 M212.1,108.1h0 M219.4,66.3h0 M218.5,54.6h0 M247.8,37.9h0 M233.9,59.9h0 M270.9,79.9h0 M246.0,87.2h0 M251.2,75.1h0 M191.8,78.7h0 M223.5,92.0h0 M242.4,54.7h0 M210.9,46.2h0 M243.2,67.4h0 M208.4,61.2h0 M243.2,51.8h0 M229.1,52.9h0 M191.0,73.0h0 M234.8,94.9h0 M264.1,54.1h0 M251.0,79.5h0 M235.2,95.3h0 M253.5,41.8h0 M268.4,67.2h0 M214.5,52.2h0 M227.1,41.8h0 M261.7,82.7h0 M209.7,92.7h0 M242.2,74.5h0 M259.8,68.8h0 M224.9,87.0h0 M198.9,49.1h0 M246.3,99.5h0 M195.6,71.8h0 M213.4,63.1h0 M246.9,105.8h0 M268.6,90.6h0 M252.4,75.8h0 M194.5,79.7h0 M206.1,46.3h0 M235.8,35.1h0 M270.4,84.2h0 M244.2,86.3h0 M242.4,73.9h0 M252.6,52.9h0 M242.7,77.4h0 M252.4,44.1h0 M242.2,66.6h0 M251.2,87.0h0 M238.9,86.1h0 M243.9,104.6h0 M242.4,87.8h0 M207.2,65.8h0 M252.6,98.1h0 M206.1,70.3h0 M223.0,73.4h0 M218.5,58.7h0 M229.5,78.0h0 M258.6,50.2h0 M208.4,91.7h0 M248.8,65.6h0 M206.3,96.0h0 M208.1,97.8h0 M242.1,66.0h0 M228.2,95.0h0 M233.4,33.5h0 M220.4,32.4h0 M244.1,96.9h0 M256.0,41.6h0 M265.6,99.4h0 M230.9,31.7h0 M211.5,97.4h0 M272.7,61.2h0 M197.4,52.8h0 M272.8,71.4h0 M209.8,36.7h0 M250.5,93.5h0 M218.0,65.2h0 M235.6,59.7h0 M217.2,54.8h0 M218.4,101.9h0 M243.8,98.9h0 M260.0,38.3h0 M231.2,98.1h0 M226.5,53.4h0 M244.9,55.5h0 M209.4,62.8h0 M239.5,71.7h0 M258.4,72.0h0 M226.5,114.0h0 M225.2,62.2h0 M228.8,50.8h0 M196.9,75.9h0 M259.2,39.1h0 M211.5,83.5h0 M213.7,86.5h0 M231.7,42.1h0 M226.3,55.5h0 M242.0,30.3h0 M243.2,104.2h0 M238.6,80.3h0 M216.8,81.6h0 M229.3,39.2h0 M214.0,34.1h0 M247.0,77.0h0 M262.0,78.3h0 M249.4,39.8h0 M195.2,59.9h0 M222.5,82.9h0 M227.6,64.6h0 M234.5,81.2h0 M239.8,82.2h0 M217.2,68.5h0 M202.2,48.0h0 M224.4,84.9h0 M215.8,39.3h0 M257.4,50.2h0 M198.5,52.0h0 M214.5,33.6h0 M224.6,108.6h0 M213.3,49.6h0 M263.2,73.7h0 M230.5,105.2h0 M202.3,69.9h0 M248.8,77.7h0 M205.4,49.5h0 M271.6,69.4h0 M226.0,100.1h0 M194.7,70.3h0 M200.7,97.1h0 M205.9,74.5h0 M207.3,75.0h0 M244.3,71.7h0 M222.4,79.6h0 M225.6,55.9h0 M250.1,94.6h0 M203.1,49.2h0 M210.8,79.9h0 M205.9,101.7h0 M235.0,79.1h0 M256.1,51.8h0 M244.6,84.1h0 M262.1,48.0h0 M265.9,85.7h0 M239.8,100.0h0 M224.3,64.7h0 M256.6,61.7h0 M256.8,101.6h0 M241.2,78.2h0 M216.1,47.4h0 M264.4,49.3h0 M236.2,82.2h0 M209.6,53.7h0 M220.3,110.8h0 M242.2,105.2h0 M270.3,90.1h0 M265.6,60.9h0 M217.6,104.9h0 M264.9,49.8h0 M263.1,79.5h0 M253.7,96.4h0 M271.4,59.3h0 M233.5,103.9h0 M225.7,88.6h0 M231.8,34.1h0 M218.7,95.9h0 M221.2,36.9h0 M217.9,75.3h0 M248.6,82.2h0 M247.4,44.6h0 M217.0,50.9h0 M220.5,85.5h0 M266.6,66.4h0 M258.3,97.9h0 M205.6,52.1h0 M237.5,38.2h0 M263.5,42.0h0 M204.3,91.0h0 M213.6,91.5h0 M210.1,97.6h0 M217.7,92.5h0 M255.3,40.1h0 M215.6,36.3h0 M207.1,94.4h0 M233.1,96.4h0 M264.4,94.5h0 M254.6,60.2h0 M221.9,82.6h0 M254.9,98.6h0 M244.0,63.1h0 M232.2,109.3h0 M239.4,111.6h0 M215.3,95.6h0 M240.4,94.4h0 M212.6,82.3h0 M232.0,62.2h0 M208.5,42.1h0 M224.3,89.1h0 M243.0,80.8h0 M242.1,39.3h0 M262.5,74.5h0 M213.1,57.3h0 M260.9,77.8h0 M207.6,105.4h0 M207.0,103.6h0 M255.5,47.5h0 M260.5,99.3h0 M260.6,89.1h0 M245.0,79.9h0 M218.2,81.2h0 M266.2,70.0h0 M266.9,46.4h0 M235.0,37.0h0 M195.8,78.1h0 M224.6,56.0h0 M205.8,66.4h0 M197.0,68.2h0 M221.1,41.4h0 M242.8,33.7h0 M247.8,81.2h0 M250.6,77.0h0 M256.9,65.5h0 M205.8,82.8h0 M211.9,62.5h0 M237.8,46.9h0 M255.1,39.8h0 M265.4,71.9h0 M267.1,94.1h0 M254.0,81.3h0 M237.2,38.6h0 M219.3,47.4h0 M213.3,69.1h0 M211.5,77.0h0 M226.5,58.2h0 M246.2,86.8h0 M201.0,64.9h0 M276.0,72.5h0 M247.1,48.6h0 M254.5,104.6h0 M252.1,69.0h0 M234.8,32.8h0 M252.1,63.9h0 M246.6,84.3h0 M238.1,112.3h0 M258.6,55.7h0 M251.4,90.4h0 M235.2,106.5h0 M226.2,34.4h0 M206.2,83.0h0 M207.2,77.0h0 M199.0,81.7h0 M227.3,47.4h0 M217.5,64.6h0 M259.4,79.3h0 M227.1,79.3h0 M258.3,85.3h0 M270.2,57.7h0 M257.6,76.4h0 M216.7,89.7h0 M255.0,96.9h0 M247.6,48.8h0 M240.0,85.2h0 M270.9,75.3h0 M237.7,108.2h0 M236.8,58.4h0 M242.5,94.6h0 M237.7,34.9h0 M223.8,99.4h0 M215.0,95.3h0 M239.4,49.9h0 M248.6,33.4h0 M199.4,46.7h0 M250.5,64.6h0 M253.3,70.6h0 M238.7,56.6h0 M223.9,99.1h0 M252.2,41.5h0 M245.0,110.8h0 M253.9,48.5h0 M255.7,79.1h0 M225.9,98.9h0 M264.5,59.9h0 M238.8,60.0h0 M234.3,108.6h0 M221.9,89.6h0 M243.8,76.1h0 M206.0,88.5h0 M207.0,90.9h0 M231.2,79.6h0 M221.7,49.1h0 M206.5,73.1h0 M231.9,83.0h0 M226.4,94.7h0 M240.4,78.0h0 M224.9,72.7h0 M252.3,53.6h0 M203.8,82.6h0 M248.0,73.9h0 M240.4,40.2h0 M207.6,72.8h0 M233.5,40.9h0 M243.7,33.7h0 M262.2,49.0h0 M219.7,45.5h0 M201.1,64.8h0 M194.8,65.5h0 M240.5,62.8h0 M233.7,37.7h0 M199.9,47.9h0 M261.8,80.9h0 M203.6,101.3h0 M249.9,99.6h0 M256.4,101.2h0 M196.4,74.2h0 M219.1,109.6h0 M254.4,72.6h0 M229.1,31.6h0 M237.2,48.9h0 M265.1,89.4h0 M231.9,59.7h0 M262.2,59.1h0 M262.7,78.0h0 M225.4,84.5h0 M264.6,44.3h0 M254.0,92.1h0 M228.1,106.7h0 M252.8,87.8h0 M208.0,87.7h0 M202.6,84.9h0 M271.9,56.5h0 M266.1,50.1h0 M236.3,93.4h0 M199.7,80.4h0 M213.0,55.7h0 M257.8,70.4h0 M247.4,73.4h0 M242.6,107.4h0 M239.0,62.8h0 M235.1,93.4h0 M242.6,32.0h0 M232.1,86.6h0 M274.8,62.9h0 M227.1,42.5h0 M232.5,33.9h0 M210.3,70.4h0 M198.6,66.2h0 M217.7,102.6h0 M258.9,105.5h0 M238.4,92.2h0 M273.9,61.3h0 M268.5,53.8h0 M256.0,39.9h0 M221.3,66.4h0 M228.8,32.6h0 M238.9,62.5h0 M267.5,85.6h0 M192.7,74.8h0 M262.4,70.0h0 M217.4,40.2h0 M224.1,46.8h0 M225.2,62.0h0 M263.0,50.1h0 M242.9,43.7h0 M241.4,99.8h0 M219.7,42.6h0 M238.4,75.9h0 M215.7,84.8h0 M236.3,92.4h0 M202.2,89.9h0 M263.7,53.2h0 M273.1,76.9h0 M204.7,48.4h0 M213.6,54.6h0 M226.4,82.6h0 M227.3,61.7h0 M216.1,34.4h0 M216.7,42.4h0 M248.3,32.3h0 M249.7,32.2h0 M225.6,73.7h0 M207.3,49.0h0 M255.4,46.0h0 M228.9,76.8h0 M249.9,41.8h0 M266.5,68.6h0 M256.1,41.4h0 M262.8,70.0h0 M255.3,55.1h0 M258.3,73.5h0 M207.8,106.2h0 M215.0,85.9h0 M228.0,58.1h0 M223.9,97.5h0 M257.1,95.3h0 M199.1,89.7h0 M210.6,107.7h0 M243.9,101.5h0 M234.5,79.5h0 M220.3,110.3h0 M225.5,101.0h0 M210.8,68.3h0 M221.1,69.0h0 M219.6,90.8h0 M248.4,37.0h0 M223.1,39.9h0 M258.1,44.1h0 M248.8,77.3h0 M232.8,32.2h0 M271.2,69.2h0 M251.2,99.0h0 M209.4,48.0h0 M261.4,103.4h0 M210.5,70.2h0 M260.2,68.5h0 M265.3,86.7h0 M232.0,92.5h0 M222.4,103.6h0 M218.3,103.6h0 M268.8,47.7h0 M265.0,45.2h0 M232.5,110.8h0 M261.2,89.4h0 M246.4,78.4h0 M248.8,66.5h0 M226.9,40.9h0 M271.7,72.0h0 M270.9,86.8h0 M246.1,43.9h0 M224.5,74.8h0 M230.1,61.8h0 M192.5,64.9h0 M226.4,57.5h0 M226.8,36.1h0 M215.2,105.0h0 M208.6,58.4h0 M210.4,68.0h0 M223.9,111.2h0 M211.1,102.4h0 M220.2,86.2h0 M275.5,72.1h0 M233.7,29.1h0 M222.9,65.2h0 M239.1,81.3h0 M207.3,49.6h0 M256.3,65.1h0 M235.5,92.5h0 M239.0,79.2h0 M205.1,72.8h0 M205.0,102.6h0 M218.0,107.8h0 M218.7,68.7h0 M266.5,77.9h0 M241.3,63.7h0 M226.9,51.3h0 M218.2,35.4h0 M230.2,50.0h0 M256.8,106.8h0 M269.0,50.8h0 M222.3,68.8h0 M205.4,101.8h0 M255.1,81.5h0 M272.3,82.3h0 M225.0,82.5h0 M220.8,87.5h0 M202.3,85.5h0 M225.3,59.5h0 M221.8,69.2h0 M197.1,85.6h0 M230.2,110.7h0 M234.3,99.1h0 M235.0,65.3h0 M203.3,61.1h0 M224.1,30.8h0 M226.1,51.9h0 M242.8,100.3h0 M227.0,103.3h0 M263.7,90.9h0 M223.5,77.3h0 M263.5,100.3h0 M256.9,38.9h0 M200.5,99.0h0 M251.0,103.9h0 M252.3,64.4h0 M249.6,72.1h0 M266.7,91.1h0 M209.7,53.1h0 M259.4,94.5h0 M244.2,84.4h0 M204.5,52.4h0 M245.6,34.5h0 M249.1,90.1h0 M252.1,95.6h0 M272.8,78.8h0 M217.2,36.5h0 M192.3,74.7h0 M253.2,37.9h0 M240.4,52.3h0 M226.7,81.4h0 M236.0,41.9h0 M256.9,69.7h0 M196.9,88.5h0 M270.1,64.4h0 M263.9,43.9h0 M228.7,105.4h0 M266.0,85.5h0 M262.8,62.6h0 M253.2,97.6h0 M260.4,83.5h0 M258.0,85.3h0 M248.6,37.9h0 M251.1,48.3h0 M222.4,75.9h0 M241.2,40.0h0 M218.8,81.2h0 M221.4,74.9h0 M243.1,80.9h0 M218.2,79.4h0 M249.1,41.8h0 M254.9,47.8h0 M245.8,91.3h0 M251.0,43.7h0 M212.4,44.4h0 M252.4,77.6h0 M197.3,88.2h0 M264.5,60.1h0 M232.6,82.7h0 M207.3,61.6h0 M251.7,63.2h0 M235.6,79.5h0 M271.4,78.6h0 M245.6,58.8h0 M266.0,74.9h0 M234.1,105.6h0 M265.0,52.1h0 M227.0,104.8h0 M224.1,108.1h0 M231.2,111.8h0 M215.6,35.1h0 M209.5,106.4h0 M213.8,60.6h0 M218.5,52.2h0 M241.2,78.5h0 M216.5,57.8h0 M264.0,94.0h0 M256.8,100.9h0 M229.5,97.8h0 M269.1,55.6h0 M254.9,35.0h0 M200.2,46.5h0 M209.6,48.7h0 M221.3,95.8h0 M213.4,62.4h0 M208.2,40.5h0 M229.4,51.0h0 M259.4,76.3h0 M197.0,87.6h0 M203.4,62.6h0 M207.9,51.8h0 M219.2,42.6h0 M212.9,64.7h0 M253.9,91.9h0 M265.0,44.3h0 M224.5,103.3h0 M204.2,68.3h0 M250.0,106.2h0 M251.5,82.5h0 M229.7,91.5h0 M238.0,84.3h0 M214.8,68.9h0 M212.3,45.5h0 M212.0,50.4h0 M215.1,56.2h0 M198.4,79.7h0 M241.3,107.8h0 M196.8,50.0h0 M209.4,50.3h0 M236.0,48.2h0 M213.4,92.3h0 M229.8,35.3h0 M249.9,110.3h0 M263.7,68.3h0 M267.4,70.7h0 M222.9,81.0h0 M266.4,75.3h0 M226.6,38.4h0 M239.2,43.5h0 M231.6,38.1h0 M211.9,47.7h0 M217.2,43.6h0 M263.2,90.8h0 M225.1,44.4h0 M262.9,66.0h0 M248.9,98.6h0 M221.8,86.0h0 M247.8,59.5h0 M228.9,53.6h0 M190.6,67.1h0 M267.2,92.8h0 M275.8,73.3h0 M257.8,55.9h0 M214.2,49.2h0 M246.8,94.1h0 M195.9,86.2h0 M257.3,92.6h0 M201.6,77.4h0 M242.1,39.4h0 M214.6,109.3h0 M214.6,58.3h0 M195.0,59.9h0 M266.6,81.7h0 M209.7,73.5h0 M244.8,89.7h0 M207.1,82.5h0 M214.8,58.0h0 M211.5,51.2h0 M244.2,34.6h0 M236.7,114.1h0 M209.0,64.4h0 M232.3,108.1h0 M200.4,85.5h0 M231.8,111.6h0 M229.7,111.7h0 M207.7,82.1h0 M205.6,57.0h0 M202.3,62.1h0 M268.7,60.2h0 M269.0,95.1h0 M244.8,72.8h0 M243.0,50.7h0 M251.8,75.2h0 M193.7,72.9h0 M251.5,74.0h0 M244.8,72.6h0 M221.2,99.6h0 M267.4,64.9h0 M253.6,45.4h0 M263.3,52.8h0 M235.0,98.3h0 M218.1,73.7h0 M260.1,57.8h0 M242.7,100.7h0 M241.1,50.0h0 M221.2,64.3h0 M234.4,91.1h0 M197.5,70.5h0 M238.4,107.2h0 M201.2,52.5h0 M258.6,71.0h0 M262.6,71.0h0 M214.4,70.6h0 M263.2,89.4h0 M241.3,77.7h0 M260.9,87.8h0 M240.9,93.1h0 M236.4,42.8h0 M254.7,100.1h0 M267.4,70.6h0 M203.4,82.5h0 M221.8,34.0h0 M238.2,50.2h0 M236.1,57.0h0 M254.7,94.0h0 M246.3,101.5h0 M224.4,112.5h0 M197.7,87.5h0 M260.8,61.7h0 M236.9,41.4h0 M220.2,81.3h0 M210.9,37.0h0 M223.9,48.8h0 M207.5,67.6h0 M203.9,95.6h0 M263.4,73.0h0 M215.9,70.4h0 M230.8,49.6h0 M215.2,84.3h0 M209.9,55.3h0 M221.8,45.7h0 M240.0,40.2h0 M257.4,90.4h0 M232.9,95.7h0 M261.8,62.0h0 M232.0,53.9h0 M222.4,60.2h0 M236.2,87.8h0 M273.8,78.1h0 M259.2,65.8h0 M270.2,74.6h0 M227.6,62.4h0 M234.6,59.1h0 M237.3,109.5h0 M235.6,50.4h0 M194.8,69.7h0 M208.3,52.6h0 M238.3,83.3h0 M245.2,100.8h0 M209.0,55.0h0 M211.9,47.1h0 M216.2,49.5h0 M250.6,45.2h0" stroke="#9a4e1c" stroke-width="2.30" stroke-linecap="round" fill="none" opacity="0.45"/>
<path d="M264.5,42.5h0 M251.3,38.0h0 M221.2,41.0h0 M233.6,89.6h0 M220.6,51.5h0 M208.3,50.4h0 M210.1,53.2h0 M235.0,97.4h0 M220.0,33.3h0 M222.4,95.4h0 M205.2,81.2h0 M207.8,43.7h0 M237.6,32.9h0 M226.8,29.8h0 M204.7,81.3h0 M218.1,50.4h0 M247.3,46.0h0 M203.2,60.5h0 M224.8,81.4h0 M227.8,102.2h0 M251.9,65.8h0 M268.1,47.4h0 M239.7,47.6h0 M273.6,76.6h0 M256.6,82.4h0 M266.6,58.2h0 M251.0,36.3h0 M247.1,100.2h0 M256.6,87.4h0 M194.1,72.7h0 M224.6,106.4h0 M248.6,90.4h0 M264.7,83.8h0 M201.7,52.7h0 M196.8,91.9h0 M227.6,38.8h0 M248.2,56.5h0 M224.7,103.5h0 M199.1,47.1h0 M226.8,58.1h0 M262.1,61.2h0 M243.8,108.2h0 M205.6,42.8h0 M210.4,64.1h0 M203.2,77.4h0 M213.2,98.7h0 M247.5,91.1h0 M243.5,81.1h0 M196.3,65.8h0 M199.7,95.3h0 M205.6,49.3h0 M224.1,111.6h0 M210.3,104.2h0 M234.9,113.7h0 M224.6,52.3h0 M231.0,51.5h0 M212.1,90.3h0 M219.3,95.5h0 M248.6,96.1h0 M265.6,93.2h0 M210.9,101.0h0 M195.1,90.3h0 M260.0,46.5h0 M255.6,37.0h0 M259.7,59.3h0 M219.7,62.7h0 M215.8,91.7h0 M224.2,62.9h0 M233.7,55.1h0 M205.7,86.2h0 M252.4,42.4h0 M254.8,100.4h0 M236.5,106.2h0 M197.3,93.5h0 M209.9,79.5h0 M217.8,110.9h0 M219.6,91.0h0 M198.3,63.9h0 M249.0,65.6h0 M215.5,104.3h0 M196.9,72.8h0 M225.3,56.2h0 M253.5,78.3h0 M226.2,91.9h0 M229.1,89.7h0 M265.1,77.0h0 M234.3,51.3h0 M264.2,92.5h0 M250.6,81.1h0 M207.8,73.2h0 M240.2,40.7h0 M205.6,67.6h0 M272.0,78.5h0 M203.0,96.9h0 M256.7,90.1h0 M213.7,66.7h0 M270.5,90.5h0 M273.1,55.5h0 M197.4,61.4h0 M208.4,53.3h0 M249.9,102.8h0 M199.5,84.3h0 M257.9,78.3h0 M262.2,96.5h0 M208.3,75.0h0 M239.6,40.2h0 M226.1,99.3h0 M249.1,71.9h0 M274.4,81.4h0 M257.0,49.0h0 M263.7,59.9h0 M225.8,55.3h0 M201.6,85.1h0 M203.5,90.9h0 M213.6,101.3h0 M241.5,101.9h0 M204.3,85.8h0 M255.6,79.7h0 M228.8,51.4h0 M190.9,78.0h0 M204.5,47.9h0 M238.8,29.7h0 M211.5,90.3h0 M233.7,57.9h0 M209.1,76.5h0 M198.3,58.7h0 M253.7,47.4h0 M227.3,56.0h0 M210.9,36.6h0 M209.8,50.9h0 M204.2,69.7h0 M242.8,91.5h0 M242.2,40.9h0 M266.9,80.0h0 M250.5,40.7h0 M251.1,109.8h0 M246.5,100.7h0 M213.2,76.9h0 M231.0,93.1h0 M240.6,84.5h0 M211.5,43.3h0 M232.9,113.7h0 M206.4,85.8h0 M265.1,56.1h0 M196.5,79.7h0 M231.7,45.8h0 M267.1,87.5h0 M232.9,37.5h0 M261.2,96.9h0 M250.8,106.3h0 M208.0,47.4h0 M258.0,84.3h0 M231.3,53.4h0 M261.6,78.7h0 M254.3,43.8h0 M235.4,88.5h0 M253.9,37.7h0 M226.6,50.4h0 M233.4,58.9h0 M245.6,94.9h0 M247.2,67.8h0 M253.2,103.4h0 M235.2,47.2h0 M268.8,90.1h0 M273.7,64.1h0 M217.6,64.8h0 M231.1,36.4h0 M251.9,38.6h0 M190.8,71.0h0 M204.1,78.9h0 M208.2,42.4h0 M197.7,49.8h0 M227.8,112.2h0 M252.9,52.9h0 M267.0,77.8h0 M202.5,42.9h0 M198.6,58.4h0 M234.5,50.9h0 M218.4,45.8h0 M238.5,95.9h0 M209.0,100.1h0 M208.4,63.2h0 M269.6,84.8h0 M234.3,32.1h0 M236.9,56.1h0 M227.3,101.7h0 M221.8,109.4h0 M237.0,84.3h0 M218.7,76.3h0 M267.1,77.8h0 M207.4,51.7h0 M263.3,85.9h0 M207.8,68.0h0 M236.7,91.7h0 M205.7,74.6h0 M202.4,53.3h0 M227.7,105.6h0 M231.3,109.3h0 M243.0,104.3h0 M229.9,33.0h0 M192.8,63.8h0 M271.8,68.3h0 M217.8,90.7h0 M219.9,58.0h0 M241.1,87.4h0 M216.7,48.6h0 M267.6,53.2h0 M206.9,66.4h0 M226.7,85.6h0 M264.3,97.6h0 M229.5,83.9h0 M261.3,68.2h0 M238.0,41.8h0 M249.8,68.4h0 M198.5,77.6h0 M274.1,78.0h0 M214.3,102.4h0 M248.1,79.7h0 M266.3,91.7h0 M271.9,57.0h0 M216.2,68.4h0 M238.7,40.4h0 M240.4,37.4h0 M214.1,63.2h0 M243.9,84.9h0 M210.3,82.2h0 M247.9,67.4h0 M234.4,53.0h0 M266.3,96.7h0 M239.8,105.1h0 M208.5,57.1h0 M221.7,87.6h0 M223.9,45.4h0 M201.7,48.5h0 M259.5,85.2h0 M208.2,104.9h0 M217.4,56.6h0 M220.6,75.1h0 M217.0,70.2h0 M253.9,96.0h0 M211.4,66.4h0 M210.8,58.7h0 M228.8,57.0h0 M249.7,46.4h0 M245.1,94.1h0 M221.1,59.0h0 M252.8,59.7h0 M219.4,80.5h0 M192.7,83.2h0 M241.5,91.3h0 M199.6,61.5h0 M247.5,89.6h0 M214.6,57.4h0 M269.2,78.0h0 M259.7,43.0h0 M247.2,53.9h0 M220.7,103.5h0 M207.3,48.5h0 M211.2,64.1h0 M234.5,88.7h0 M264.8,83.6h0 M268.0,92.6h0 M252.6,66.6h0 M267.3,64.3h0 M261.6,72.7h0 M216.6,91.6h0 M254.9,81.4h0 M263.3,75.0h0 M210.2,74.4h0 M269.5,53.1h0 M194.4,71.8h0 M210.4,101.8h0 M238.1,44.8h0 M231.6,44.4h0 M246.9,97.7h0 M261.3,95.9h0 M233.0,103.2h0 M245.6,39.9h0 M264.5,51.5h0 M220.1,36.6h0 M218.2,33.2h0 M203.7,51.7h0 M202.4,61.7h0 M257.2,62.4h0 M244.9,101.1h0 M219.4,105.9h0 M225.2,62.4h0 M242.2,105.2h0 M204.6,93.6h0 M215.3,75.2h0 M217.6,32.2h0 M262.3,90.6h0 M207.2,49.1h0 M201.5,70.6h0 M273.6,69.0h0 M197.4,87.3h0 M214.0,37.9h0 M249.7,71.5h0 M238.8,94.3h0 M250.6,34.0h0 M237.9,102.6h0 M261.8,48.0h0 M198.4,50.5h0 M248.7,63.7h0 M258.1,66.3h0 M204.9,46.8h0 M226.3,96.6h0 M265.3,50.1h0 M250.6,69.1h0 M207.0,45.0h0 M269.1,61.6h0 M229.9,89.3h0 M244.6,93.2h0 M209.5,60.4h0 M243.5,85.5h0 M217.9,35.7h0 M256.1,94.1h0 M260.7,68.3h0 M195.1,63.3h0 M273.3,77.7h0 M239.0,34.7h0 M216.0,97.9h0 M248.1,65.9h0 M263.9,89.1h0 M252.5,65.8h0 M244.8,100.0h0 M241.4,39.4h0 M225.0,58.7h0 M243.9,103.8h0 M230.5,54.5h0 M255.3,85.8h0 M210.3,85.4h0 M241.3,86.2h0 M207.6,38.4h0 M205.8,40.8h0 M257.5,96.4h0 M207.0,101.6h0 M205.2,51.7h0 M269.5,50.1h0 M252.7,94.4h0 M261.8,88.7h0 M239.2,107.8h0 M225.5,81.7h0 M247.8,59.4h0 M229.6,103.6h0 M269.1,85.1h0 M229.4,53.5h0 M219.4,58.5h0 M216.1,68.4h0 M227.3,101.3h0 M199.2,61.9h0 M257.3,59.8h0 M220.1,89.9h0 M231.1,44.0h0 M238.5,92.9h0 M198.5,90.7h0 M197.1,86.6h0 M200.1,77.7h0 M232.3,100.7h0 M230.6,54.9h0 M210.3,78.5h0 M226.5,97.7h0 M244.1,103.5h0 M256.1,77.6h0 M231.5,93.0h0 M251.7,40.4h0 M248.0,59.2h0 M243.2,95.8h0 M193.8,69.6h0 M253.6,37.1h0 M247.2,73.2h0 M218.0,97.0h0 M260.6,72.8h0 M261.4,100.8h0 M239.8,97.2h0 M251.4,107.2h0 M256.1,91.1h0 M237.7,95.1h0 M270.2,70.4h0 M231.0,44.4h0 M275.2,65.7h0 M218.1,54.3h0 M264.6,81.6h0 M193.3,75.1h0 M272.5,71.3h0 M235.4,114.3h0 M222.2,62.2h0 M244.3,112.4h0 M243.9,35.7h0 M226.1,60.1h0 M256.9,61.8h0 M237.7,39.4h0 M201.1,74.1h0 M267.8,52.3h0 M201.8,96.3h0 M245.6,96.0h0 M226.8,85.3h0 M223.3,78.9h0 M271.8,64.0h0 M217.5,73.8h0 M230.2,109.8h0 M228.5,88.6h0 M203.1,86.6h0 M253.0,91.7h0 M198.0,58.6h0 M197.6,95.3h0 M231.9,109.4h0 M269.6,91.4h0 M213.1,65.8h0 M249.4,34.4h0 M261.1,101.3h0 M259.8,64.7h0 M242.6,35.8h0 M207.4,60.1h0 M218.2,107.9h0 M241.8,30.7h0 M263.7,85.6h0 M227.0,49.8h0 M273.8,77.1h0 M240.4,35.5h0 M218.5,97.6h0 M240.0,55.5h0 M227.0,35.5h0 M192.4,81.4h0 M205.8,41.8h0 M243.3,99.0h0 M225.0,102.2h0 M234.4,28.9h0 M267.1,50.3h0 M270.2,66.0h0 M231.9,54.4h0 M207.1,88.9h0 M265.7,96.9h0 M216.8,88.7h0 M261.7,87.7h0 M211.6,107.6h0 M213.6,49.5h0 M241.6,84.4h0 M220.2,39.8h0 M201.6,72.7h0 M198.5,93.6h0 M255.2,79.6h0 M240.4,46.5h0 M218.7,97.6h0 M222.5,108.1h0 M260.6,90.4h0 M227.3,45.3h0 M229.8,44.5h0 M220.4,59.2h0 M219.6,101.9h0 M209.9,52.0h0 M265.1,79.3h0 M249.7,53.2h0 M242.3,105.2h0 M235.3,89.5h0 M264.4,87.3h0 M261.5,45.9h0 M199.1,50.1h0 M247.5,51.7h0 M202.1,100.6h0 M266.2,59.3h0 M214.8,52.0h0 M255.7,86.1h0 M237.5,106.4h0 M213.7,42.8h0 M243.7,65.2h0 M238.2,88.8h0 M205.1,101.8h0 M195.3,79.5h0 M244.5,96.7h0 M241.0,47.5h0 M229.1,37.8h0 M225.4,60.1h0 M206.0,104.6h0 M215.6,89.3h0 M267.2,71.6h0 M223.0,42.3h0 M213.0,51.8h0 M229.4,96.8h0 M238.5,107.8h0 M249.2,81.5h0 M190.5,69.8h0 M240.3,36.5h0 M232.1,49.4h0 M220.0,70.8h0 M219.2,69.9h0 M247.4,84.2h0 M215.8,97.2h0 M236.6,88.1h0 M263.6,100.7h0 M274.4,67.8h0 M247.8,88.5h0 M242.9,62.6h0 M254.3,100.2h0 M273.8,62.5h0 M248.0,50.0h0 M229.0,30.2h0 M267.6,46.7h0 M236.2,33.3h0 M224.5,43.6h0 M196.0,53.3h0 M220.9,65.7h0 M195.1,84.8h0 M225.4,41.6h0 M268.0,56.5h0 M239.2,107.8h0 M241.9,62.5h0 M260.7,60.2h0 M240.8,61.1h0 M222.3,95.0h0 M240.5,106.6h0 M243.4,37.8h0 M248.9,61.8h0 M226.7,99.8h0 M243.3,35.6h0 M273.6,69.4h0 M196.5,64.6h0 M246.7,42.5h0 M216.1,35.6h0 M243.3,54.0h0 M269.4,78.6h0 M242.0,51.8h0 M255.7,41.2h0 M243.7,89.1h0 M214.3,42.6h0 M255.4,106.4h0 M241.8,110.3h0 M251.0,65.4h0 M223.3,40.3h0 M259.2,56.5h0 M213.4,83.9h0 M248.3,50.1h0 M245.5,64.1h0 M243.6,63.1h0 M226.3,30.3h0 M218.6,102.3h0 M219.5,80.0h0 M250.0,45.1h0 M237.9,58.0h0 M245.4,91.5h0 M238.8,59.2h0 M261.1,75.6h0 M203.1,97.8h0 M248.2,53.4h0 M231.9,44.2h0 M236.9,36.3h0 M261.1,84.8h0 M206.3,85.8h0 M199.1,59.3h0 M207.1,90.2h0 M250.2,39.7h0 M240.1,90.0h0 M227.6,113.3h0 M202.5,98.1h0 M269.0,63.7h0 M207.7,99.3h0 M191.3,71.2h0 M198.2,71.4h0 M219.4,39.7h0 M247.9,101.7h0 M200.8,87.4h0 M236.7,49.6h0 M216.8,89.3h0 M263.7,64.2h0 M193.1,84.8h0 M241.5,32.4h0 M214.2,71.3h0 M221.5,84.0h0 M208.8,89.5h0 M191.1,77.2h0 M213.0,67.5h0 M248.9,104.3h0 M204.4,68.8h0 M204.3,72.9h0 M218.4,41.1h0 M263.3,81.2h0 M233.3,105.4h0 M196.3,80.5h0 M269.9,63.4h0 M209.8,50.3h0 M261.6,96.0h0 M242.5,98.3h0 M212.2,59.4h0 M254.7,46.8h0 M246.7,69.4h0 M207.6,77.6h0 M201.8,55.7h0 M198.1,49.1h0 M207.3,81.8h0 M233.3,38.7h0 M228.4,112.8h0 M235.8,88.1h0 M193.3,62.0h0 M257.3,40.7h0 M208.8,51.3h0 M228.1,91.7h0 M196.3,85.6h0 M193.1,57.5h0 M243.4,40.5h0 M208.7,55.8h0 M266.3,49.9h0 M251.1,108.6h0 M221.1,47.0h0 M232.3,42.3h0 M222.3,41.9h0 M205.1,41.4h0 M257.3,52.0h0 M205.3,95.7h0 M224.5,56.4h0 M208.4,70.2h0 M220.9,55.0h0 M226.2,94.6h0 M227.0,104.4h0 M256.3,45.0h0 M210.3,41.5h0 M210.4,90.4h0 M220.3,53.5h0 M234.1,30.3h0 M245.1,60.7h0 M253.1,60.1h0 M257.0,97.0h0 M221.2,89.2h0 M208.0,51.3h0 M202.2,64.4h0 M204.8,46.0h0 M226.6,35.6h0 M247.7,44.5h0 M221.5,57.5h0 M259.7,86.6h0 M223.5,50.5h0 M257.8,65.3h0 M202.6,73.4h0 M253.2,68.0h0 M233.0,106.7h0 M215.8,92.3h0 M261.3,102.1h0 M201.8,83.6h0 M234.5,113.4h0 M262.0,94.2h0 M263.0,84.7h0 M214.2,109.1h0 M196.5,86.6h0 M256.3,76.0h0 M261.1,69.3h0 M256.9,77.5h0 M212.3,96.3h0 M214.3,89.2h0 M202.9,76.6h0 M246.4,101.0h0 M203.6,56.1h0 M231.4,41.4h0 M242.9,112.4h0 M252.3,89.1h0 M208.0,86.2h0 M243.1,110.6h0 M222.6,102.8h0 M218.4,59.5h0 M215.7,79.8h0 M197.3,61.9h0 M258.7,38.6h0 M256.4,91.6h0 M219.2,47.5h0 M262.8,60.9h0 M244.3,59.9h0 M205.4,95.2h0 M249.8,44.9h0 M257.2,42.2h0 M201.8,90.8h0 M215.0,69.8h0 M265.4,48.2h0 M251.5,57.0h0 M235.8,57.3h0 M207.6,71.7h0 M205.0,70.7h0 M205.0,62.5h0 M235.3,36.2h0 M229.5,93.4h0 M235.3,98.1h0 M205.1,86.1h0 M237.3,29.2h0 M231.5,97.1h0 M220.7,70.2h0 M223.7,60.8h0 M205.2,52.8h0 M201.6,100.4h0 M228.2,84.0h0 M251.8,86.4h0 M230.4,34.3h0 M208.6,104.0h0 M245.3,91.5h0 M204.0,57.7h0 M239.8,46.6h0 M261.8,51.4h0 M220.8,40.6h0 M241.2,104.0h0 M245.6,67.1h0 M220.8,94.4h0 M232.1,109.9h0 M221.7,56.1h0 M221.9,32.8h0" stroke="#fff" stroke-width="1.80" stroke-linecap="round" fill="none" opacity="0.60"/>
<circle cx="233.3" cy="71.7" r="43.1" fill="none" stroke="#8b4513" stroke-width="2.4"/>
<path d="M72.0,71.9 V41.5 M72.0,71.9 H103.0" stroke="#111" stroke-width="1.60" stroke-dasharray="4.4,2.5" fill="none"/>
<path d="M147.3,71.8 V41.6 M147.3,71.8 H178.0" stroke="#111" stroke-width="1.60" stroke-dasharray="4.4,2.5" fill="none"/>
<path d="M233.3,71.7 V41.7 M233.3,71.7 H264.0" stroke="#111" stroke-width="1.60" stroke-dasharray="4.4,2.5" fill="none"/>
<text x="56.80" y="26.00" font-size="12.50" fill="#cd5c5c" stroke="#cd5c5c" stroke-width="0.12" text-anchor="start" textLength="42.7" lengthAdjust="spacingAndGlyphs" ><tspan font-style="italic">&#945;</tspan> = 0.1</text>
<text x="141.40" y="25.80" font-size="12.50" fill="#fc7a4f" stroke="#fc7a4f" stroke-width="0.12" text-anchor="start" textLength="18.8" lengthAdjust="spacingAndGlyphs" >0.5</text>
<text x="227.40" y="25.80" font-size="12.50" fill="#8b4513" stroke="#8b4513" stroke-width="0.12" text-anchor="start" textLength="19.2" lengthAdjust="spacingAndGlyphs" >1.0</text>
<text x="39.10" y="117.30" font-size="12.50" fill="#111" stroke="#111" stroke-width="0.12" text-anchor="start" textLength="106.7" lengthAdjust="spacingAndGlyphs" ><tspan font-style="italic">c</tspan> = 0, <tspan font-style="italic">d</tspan> = 1, <tspan font-style="italic">&#947;</tspan> = 1</text>
<circle cx="403.2" cy="68.4" r="47.5" fill="#40e0d0" fill-opacity="0.85"/>
<path d="M412.7,104.2h0 M407.9,69.0h0 M394.4,74.7h0 M442.0,77.6h0 M426.3,65.2h0 M439.3,93.7h0 M404.0,49.8h0 M416.3,28.1h0 M405.1,61.6h0 M412.5,48.0h0 M441.2,66.8h0 M434.1,45.8h0 M439.6,72.7h0 M407.5,62.2h0 M444.8,74.3h0 M406.4,55.6h0 M399.2,46.8h0 M398.0,46.2h0 M363.4,55.7h0 M386.0,46.9h0 M407.9,48.8h0 M424.2,50.0h0 M420.9,46.2h0 M416.6,55.3h0 M404.0,47.2h0 M407.0,82.4h0 M435.7,45.5h0 M409.8,74.7h0 M438.4,66.5h0 M394.6,59.6h0 M447.3,75.9h0 M406.1,94.5h0 M413.0,70.1h0 M418.1,46.0h0 M423.9,98.8h0 M427.2,31.5h0 M386.4,108.1h0 M431.1,35.3h0 M375.9,90.2h0 M417.6,24.2h0 M406.0,39.1h0 M436.9,71.8h0 M357.4,58.6h0 M439.6,88.9h0 M381.0,82.6h0 M428.0,73.9h0 M367.1,44.5h0 M424.9,33.0h0 M391.6,109.0h0 M394.6,35.7h0 M417.3,54.2h0 M430.4,55.7h0 M434.1,99.0h0 M372.9,72.8h0 M398.1,33.0h0 M442.0,53.5h0 M413.7,27.1h0 M420.5,33.7h0 M418.5,65.5h0 M400.7,41.9h0 M370.5,100.8h0 M413.0,91.6h0 M425.7,59.1h0 M407.9,49.9h0 M417.8,61.9h0 M429.9,48.8h0 M392.1,29.1h0 M357.8,61.3h0 M391.9,104.3h0 M389.9,44.5h0 M413.6,54.9h0 M420.0,89.0h0 M428.5,53.6h0 M404.7,47.6h0 M394.9,107.3h0 M379.9,61.3h0 M441.6,63.9h0 M432.6,71.6h0 M389.1,89.1h0 M417.6,57.2h0 M436.1,89.2h0 M422.9,65.9h0 M419.2,102.8h0 M394.6,91.0h0 M421.6,68.6h0 M428.6,66.9h0 M367.5,70.6h0 M427.0,36.8h0 M399.6,99.9h0 M389.2,55.5h0 M421.9,75.3h0 M383.2,36.0h0 M395.7,105.0h0 M421.6,86.0h0 M369.8,100.7h0 M358.1,70.6h0 M394.1,107.7h0 M414.9,42.6h0 M362.3,65.8h0 M408.1,65.3h0 M410.8,27.2h0 M390.0,99.4h0 M383.4,39.1h0 M437.9,59.5h0 M387.2,56.0h0 M420.1,32.4h0 M425.7,55.0h0 M359.6,83.3h0 M380.2,104.9h0 M373.2,84.2h0 M397.2,25.9h0 M382.7,50.5h0 M429.0,93.9h0 M376.1,56.5h0 M386.3,40.8h0 M406.7,33.9h0 M385.7,48.8h0 M399.7,109.7h0 M425.4,61.8h0 M373.9,81.2h0 M428.6,89.5h0 M403.9,89.3h0 M387.5,110.5h0 M425.8,96.7h0 M406.9,107.7h0 M400.3,110.8h0 M397.9,110.8h0 M386.1,69.9h0 M408.9,73.1h0 M435.5,101.1h0 M373.3,87.8h0 M405.6,59.4h0 M409.9,29.2h0 M386.4,52.3h0 M364.3,56.7h0 M390.7,60.2h0 M445.6,73.5h0 M378.1,63.6h0 M390.3,67.0h0 M372.9,91.4h0 M443.9,80.5h0 M406.7,70.5h0 M421.1,55.9h0 M363.4,63.9h0 M433.0,84.8h0 M360.6,70.2h0 M372.9,49.6h0 M377.9,79.2h0 M423.0,104.5h0 M403.7,27.1h0 M368.2,37.9h0 M384.0,35.5h0 M436.2,55.2h0 M401.3,95.1h0 M373.2,68.5h0 M360.1,67.0h0 M443.5,74.7h0 M384.6,80.9h0 M403.4,68.2h0 M416.0,88.3h0 M420.4,96.6h0 M374.4,40.0h0 M435.4,62.3h0 M368.8,47.0h0 M433.9,46.5h0 M430.8,57.2h0 M409.0,85.7h0 M423.7,40.9h0 M419.3,37.0h0 M379.2,94.6h0 M370.6,60.3h0 M366.9,76.2h0 M372.7,55.3h0 M448.2,63.3h0 M403.3,24.4h0 M380.9,31.4h0 M414.5,35.9h0 M372.8,34.9h0 M425.8,82.7h0 M383.7,51.0h0 M382.2,72.9h0 M409.7,33.9h0 M370.6,80.3h0 M382.5,84.0h0 M406.6,23.2h0 M389.7,80.8h0 M376.8,99.6h0 M356.7,70.8h0 M410.2,39.1h0 M449.0,72.7h0 M368.5,92.4h0 M434.7,81.4h0 M434.2,101.0h0 M381.5,108.7h0 M386.7,41.0h0 M376.0,68.4h0 M376.0,85.5h0 M389.3,107.6h0 M408.9,68.0h0 M427.7,74.2h0 M398.6,37.7h0 M431.4,80.5h0 M399.8,114.3h0 M399.8,91.1h0 M371.6,55.2h0 M415.5,45.7h0 M416.8,89.0h0 M381.7,94.0h0 M437.1,64.6h0 M409.4,82.9h0 M373.3,70.8h0 M416.1,101.8h0 M381.4,37.2h0 M395.6,36.8h0 M380.5,67.4h0 M420.6,31.3h0 M372.5,65.7h0 M405.2,37.9h0 M418.3,74.5h0 M415.2,29.7h0 M405.3,46.9h0 M382.4,28.5h0 M421.2,83.1h0 M382.0,43.1h0 M449.5,73.4h0 M421.7,44.5h0 M444.8,88.9h0 M404.0,31.9h0 M397.2,23.7h0 M376.0,94.9h0 M366.7,40.7h0 M388.3,112.4h0 M371.7,60.5h0 M406.3,25.7h0 M409.1,28.0h0 M386.2,51.7h0 M384.3,52.4h0 M384.4,36.6h0 M385.9,86.4h0 M389.3,43.0h0 M384.2,46.8h0 M408.0,27.9h0 M434.8,93.1h0 M434.7,66.1h0 M376.2,38.4h0 M418.7,111.6h0 M367.1,84.2h0 M441.1,50.9h0 M391.4,95.9h0 M407.3,80.3h0 M361.6,79.9h0 M370.2,98.8h0 M429.0,82.4h0 M416.8,113.2h0 M434.1,88.7h0 M360.3,77.3h0 M449.5,63.3h0 M371.4,55.5h0 M389.0,46.7h0 M421.7,36.8h0 M399.6,68.4h0 M385.8,95.1h0 M376.8,96.9h0 M428.2,80.5h0 M378.7,84.1h0 M427.4,103.1h0 M369.0,40.7h0 M362.1,86.6h0 M389.9,87.0h0 M371.7,81.4h0 M381.8,62.6h0 M411.7,110.8h0 M374.2,95.0h0 M421.7,29.2h0 M376.8,87.8h0 M402.8,56.0h0 M438.8,46.5h0 M442.1,55.5h0 M394.5,99.9h0 M427.3,38.7h0 M393.8,73.8h0 M417.9,89.1h0 M392.9,57.2h0 M372.8,80.2h0 M387.2,95.3h0 M433.5,54.9h0 M365.5,41.2h0 M357.0,73.9h0 M398.9,73.3h0 M435.3,100.1h0 M399.3,65.6h0 M370.4,43.8h0 M373.7,47.8h0 M407.4,45.6h0 M381.5,31.8h0 M397.4,63.9h0 M401.9,64.2h0 M422.4,75.0h0 M422.2,27.7h0 M383.8,47.2h0 M401.5,60.8h0 M417.0,112.0h0 M412.0,40.0h0 M413.6,67.9h0 M382.8,97.0h0 M380.9,50.2h0 M442.9,66.4h0 M424.7,67.5h0 M381.1,54.7h0 M404.1,50.4h0 M404.6,23.8h0 M392.6,32.3h0 M401.2,71.3h0 M440.2,63.2h0 M383.9,101.1h0 M367.4,57.1h0 M426.2,108.5h0 M373.7,100.0h0 M421.7,72.6h0 M397.9,97.1h0 M400.6,110.3h0 M443.2,55.9h0 M406.8,61.8h0 M393.9,56.0h0 M386.0,83.8h0 M418.7,79.8h0 M405.2,84.5h0 M356.8,66.4h0 M421.4,90.0h0 M432.8,42.6h0 M414.5,98.6h0 M374.7,39.1h0 M376.6,71.6h0 M440.2,54.3h0 M450.0,68.4h0 M429.4,102.4h0 M393.7,83.5h0 M413.7,113.3h0 M420.9,55.2h0 M373.1,69.8h0 M437.5,71.6h0 M406.9,42.1h0 M370.0,43.8h0 M384.8,65.8h0 M444.7,46.9h0 M377.7,91.0h0 M384.3,60.4h0 M408.0,44.5h0 M378.1,97.1h0 M401.5,74.4h0 M417.9,91.2h0 M366.7,91.0h0 M380.3,33.6h0 M370.5,43.3h0 M432.6,95.3h0 M403.3,73.1h0 M426.5,76.9h0 M363.4,64.6h0 M375.3,65.6h0 M386.5,76.1h0 M418.2,50.1h0 M393.3,68.3h0 M439.9,73.8h0 M442.3,58.1h0 M377.1,82.4h0 M387.2,70.1h0 M448.6,74.1h0 M419.1,74.4h0 M391.9,23.6h0 M396.2,60.4h0 M375.6,61.6h0 M405.2,48.3h0 M407.7,77.0h0 M392.8,97.5h0 M399.0,108.1h0 M428.2,86.5h0 M371.5,87.6h0 M439.5,85.9h0 M418.6,72.4h0 M424.8,72.8h0 M431.3,36.1h0 M400.4,80.5h0 M362.7,74.3h0 M425.2,89.0h0 M416.1,77.6h0 M400.8,62.8h0 M412.8,53.2h0 M431.3,72.8h0 M397.1,69.8h0 M422.9,100.0h0 M432.8,88.0h0 M403.9,28.7h0 M400.7,92.5h0 M397.6,103.5h0 M390.0,67.0h0 M381.1,33.7h0 M410.5,33.0h0 M370.1,48.7h0 M376.6,44.0h0 M447.3,76.0h0 M418.2,44.7h0 M417.2,43.2h0 M400.8,49.7h0 M429.0,59.0h0 M387.3,37.8h0 M422.0,33.6h0 M413.1,63.2h0 M421.4,26.6h0 M440.8,82.0h0 M433.5,94.0h0 M372.2,50.9h0 M372.4,97.6h0 M445.3,75.3h0 M405.2,62.8h0 M367.7,39.3h0 M374.8,71.1h0 M378.4,57.6h0 M363.2,48.6h0 M365.8,86.8h0 M376.6,73.5h0 M359.3,74.6h0 M388.4,106.8h0 M374.4,49.3h0 M402.3,67.0h0 M383.5,37.2h0 M403.1,24.2h0 M391.7,45.7h0 M423.0,60.5h0 M413.4,76.8h0 M423.0,109.0h0 M409.0,86.7h0 M408.5,28.6h0 M434.6,71.1h0 M403.3,110.4h0 M395.4,65.7h0 M428.6,63.2h0 M396.7,90.6h0 M440.5,64.4h0 M422.2,74.2h0 M408.0,41.5h0 M382.7,45.4h0 M376.8,40.5h0 M432.9,84.5h0 M385.2,31.4h0 M419.5,91.6h0 M416.5,88.6h0 M412.4,24.2h0 M430.9,103.3h0 M371.9,57.4h0 M433.0,100.6h0 M433.5,40.2h0 M431.9,37.7h0 M388.9,95.6h0 M434.2,59.0h0 M395.0,86.8h0 M388.8,44.0h0 M373.8,78.9h0 M423.9,42.3h0 M426.1,78.2h0 M410.0,70.9h0 M394.9,22.8h0 M406.8,83.6h0 M417.1,36.5h0 M436.9,60.3h0 M360.8,84.9h0 M402.5,80.0h0 M386.7,77.2h0 M425.2,42.9h0 M366.9,82.4h0 M439.1,88.5h0 M410.9,71.4h0 M415.0,28.2h0 M427.2,29.8h0 M402.0,94.0h0 M429.7,49.4h0 M416.2,72.3h0 M402.7,77.4h0 M398.0,57.0h0 M427.9,82.2h0 M431.5,31.7h0 M403.5,68.1h0 M388.0,77.9h0 M392.4,57.5h0 M416.1,86.4h0 M440.9,55.7h0 M402.7,63.8h0 M448.9,70.0h0 M366.7,68.2h0 M415.4,28.8h0 M410.6,86.4h0 M388.9,72.1h0 M393.4,35.7h0 M416.1,72.3h0 M431.9,100.0h0 M427.3,59.1h0 M407.0,51.7h0 M363.7,56.4h0 M436.3,50.6h0 M370.3,63.5h0 M416.0,96.0h0 M360.5,65.3h0 M389.0,23.6h0 M447.4,53.8h0 M359.3,78.0h0 M375.5,47.5h0 M423.6,40.9h0 M386.4,49.9h0 M394.4,29.1h0 M444.2,45.6h0 M390.7,27.4h0 M432.5,39.2h0 M363.4,56.3h0 M400.1,76.0h0 M427.1,44.5h0 M435.2,36.4h0 M401.6,48.3h0 M409.5,45.0h0 M407.3,45.4h0 M430.3,63.5h0 M404.4,83.4h0 M380.2,39.1h0 M394.5,92.0h0 M425.0,64.6h0 M413.3,45.4h0 M445.3,81.6h0 M431.7,56.1h0 M410.6,88.2h0 M406.2,92.9h0 M381.8,95.2h0 M386.1,69.8h0 M369.7,59.3h0 M373.9,72.4h0 M418.0,86.0h0 M420.7,89.1h0 M412.8,35.8h0 M407.4,47.8h0 M356.7,69.1h0 M447.8,65.3h0 M427.7,80.0h0 M359.7,73.0h0 M384.2,106.5h0 M419.1,109.1h0 M435.9,76.2h0 M400.2,71.2h0 M386.2,101.6h0 M388.1,62.7h0 M413.4,50.6h0 M413.4,26.5h0 M430.2,91.9h0 M373.7,74.8h0 M430.3,41.2h0 M397.8,29.9h0 M418.9,87.0h0 M361.8,79.0h0 M438.8,38.2h0 M441.5,47.1h0 M427.3,39.5h0 M437.0,62.3h0 M387.0,33.8h0 M399.6,68.0h0 M410.9,29.0h0 M396.1,89.4h0 M440.3,77.3h0 M425.8,42.2h0 M376.1,69.6h0 M378.0,81.0h0 M383.4,55.2h0 M392.3,65.0h0 M378.7,43.5h0 M360.1,54.6h0 M446.0,55.4h0 M387.4,91.3h0 M377.8,92.6h0 M430.4,96.1h0 M410.6,31.4h0 M419.8,76.0h0 M401.9,93.5h0 M373.4,56.7h0 M415.6,105.7h0 M380.9,61.1h0 M405.5,64.7h0 M363.6,55.8h0 M443.7,56.7h0 M404.6,107.6h0 M411.7,111.1h0 M385.4,55.5h0 M409.2,77.0h0 M412.3,105.8h0 M404.8,73.1h0 M398.2,52.9h0 M447.3,82.2h0 M402.7,29.8h0 M416.3,25.5h0 M400.5,41.3h0 M393.0,42.2h0 M377.3,62.5h0 M367.5,45.1h0 M423.9,31.0h0 M435.8,60.1h0 M376.1,94.0h0 M391.6,55.9h0 M444.3,67.9h0 M397.1,76.8h0 M437.2,80.7h0 M386.2,102.5h0 M383.6,63.4h0 M430.0,101.5h0 M375.9,46.4h0 M404.5,74.2h0 M407.0,65.3h0 M429.5,45.0h0 M397.1,84.9h0 M439.9,45.3h0 M389.6,65.6h0 M381.4,69.6h0 M402.2,54.4h0 M367.3,73.0h0 M435.6,57.3h0 M380.2,99.3h0 M371.0,74.4h0 M428.2,69.4h0 M383.7,77.7h0 M387.8,84.3h0 M431.0,96.8h0 M428.9,33.0h0 M381.6,84.2h0 M416.0,105.4h0 M397.6,27.1h0 M406.8,51.8h0 M362.3,54.1h0 M429.0,85.7h0 M398.2,98.7h0 M395.9,82.2h0 M409.6,76.9h0 M447.1,77.9h0 M380.8,34.4h0 M408.2,36.9h0 M389.2,111.5h0 M373.4,40.7h0 M419.1,68.8h0 M441.6,52.2h0 M427.5,60.4h0 M374.4,56.3h0 M400.8,65.6h0 M411.8,86.3h0 M370.2,82.4h0 M433.6,60.0h0 M381.5,45.1h0 M413.3,32.7h0 M376.1,49.7h0 M420.9,91.2h0 M407.3,35.3h0 M389.5,27.1h0 M449.9,64.7h0 M435.0,44.5h0 M382.1,34.9h0 M392.7,85.8h0 M408.1,51.8h0 M368.3,47.0h0 M428.5,38.0h0 M419.1,68.7h0 M395.0,76.1h0 M382.7,100.3h0 M374.7,35.0h0 M367.3,52.3h0 M373.2,58.7h0 M407.8,36.2h0 M400.6,62.2h0 M408.3,99.8h0 M394.8,107.9h0 M410.6,111.3h0 M403.3,84.5h0 M365.2,58.6h0 M417.9,40.7h0 M447.4,58.7h0 M409.5,94.6h0 M385.6,87.4h0 M425.1,94.3h0 M386.1,53.3h0 M411.0,63.4h0 M400.6,74.6h0 M427.5,34.9h0 M376.2,33.3h0 M404.9,40.8h0 M398.3,93.6h0 M382.8,28.9h0 M377.9,87.7h0 M389.0,110.3h0 M370.8,49.9h0 M402.7,52.8h0 M384.0,31.1h0 M403.7,91.8h0 M414.7,55.5h0 M390.6,47.5h0 M365.1,65.8h0 M406.4,96.2h0 M441.5,55.3h0 M424.3,103.9h0 M382.5,38.1h0 M429.6,49.8h0 M403.4,21.5h0 M411.0,62.8h0 M375.9,39.5h0 M385.4,51.2h0 M388.1,53.9h0 M392.2,111.6h0 M407.8,78.8h0 M387.5,89.2h0 M396.5,35.5h0 M422.4,108.8h0 M372.1,92.5h0 M429.3,54.0h0 M405.0,113.4h0 M405.6,103.7h0 M394.0,82.3h0 M401.9,88.1h0 M425.3,88.9h0 M427.6,41.5h0 M417.6,96.1h0 M426.3,38.1h0 M407.9,22.8h0 M447.5,82.3h0 M379.3,78.0h0 M385.6,73.8h0 M430.1,102.1h0 M406.8,69.9h0 M434.2,39.1h0 M415.0,39.8h0 M386.5,95.7h0 M429.5,88.2h0 M421.8,35.3h0 M389.1,91.4h0 M375.4,37.4h0 M401.2,37.4h0 M380.9,36.1h0 M376.1,31.0h0 M395.0,53.2h0 M369.4,38.1h0 M394.1,28.1h0 M384.1,25.6h0 M425.7,32.9h0 M400.3,34.2h0 M422.4,29.4h0 M374.6,36.9h0 M427.9,93.8h0 M434.6,61.4h0 M395.5,54.5h0 M417.6,66.9h0 M422.5,62.5h0 M435.4,77.7h0 M381.6,61.1h0 M378.0,107.5h0 M360.6,59.1h0 M396.6,78.4h0 M365.9,84.5h0 M368.7,47.5h0 M385.6,28.3h0 M441.1,85.9h0 M443.6,77.1h0 M407.7,63.3h0 M407.8,52.4h0 M372.8,76.4h0 M441.5,78.3h0 M375.4,73.9h0 M371.5,102.2h0 M427.2,56.8h0 M386.6,105.0h0 M397.2,28.7h0 M419.0,61.0h0 M375.9,39.4h0 M405.9,44.8h0 M387.5,63.7h0 M443.6,76.9h0 M396.8,99.6h0 M429.1,88.3h0 M424.6,83.3h0 M430.9,44.0h0 M406.3,39.1h0 M378.3,80.2h0 M414.3,79.3h0 M385.4,32.7h0 M370.5,65.7h0 M420.9,79.7h0 M401.6,72.1h0 M371.0,69.2h0 M416.9,83.8h0 M426.1,63.3h0 M442.3,85.0h0 M381.9,61.9h0 M375.6,80.8h0 M392.7,64.7h0 M390.7,38.0h0 M411.6,89.6h0 M389.0,33.5h0 M414.0,80.0h0 M407.8,99.3h0 M412.5,109.7h0 M409.2,70.1h0 M375.6,51.7h0 M390.4,46.4h0 M381.9,38.6h0 M366.0,73.7h0 M397.2,96.9h0 M424.3,108.8h0 M418.1,108.5h0 M386.6,75.0h0 M390.0,60.9h0 M415.9,109.8h0 M362.3,60.9h0 M423.3,95.4h0 M415.2,47.8h0 M408.8,105.5h0 M411.5,77.5h0 M392.2,91.9h0 M447.4,66.0h0 M416.7,71.3h0 M380.1,106.6h0 M363.2,60.9h0 M443.1,75.2h0 M392.9,41.0h0 M391.2,91.7h0 M420.3,79.7h0 M445.5,56.1h0 M382.9,79.8h0 M443.6,87.8h0 M436.8,99.3h0 M358.3,81.4h0 M379.3,85.4h0 M430.2,97.1h0 M374.1,56.4h0 M371.0,99.3h0 M422.4,73.9h0 M407.8,90.6h0 M398.9,38.3h0 M402.8,74.3h0 M375.7,43.4h0 M361.3,83.8h0 M432.6,46.0h0 M374.5,62.0h0 M382.9,92.6h0 M379.4,45.8h0 M394.3,102.2h0 M423.2,32.3h0 M419.1,82.9h0 M371.8,47.9h0 M425.0,99.3h0 M417.7,51.3h0 M425.7,108.1h0 M408.6,79.9h0 M412.7,108.8h0 M402.1,33.1h0 M402.0,61.2h0 M420.1,67.1h0 M378.9,40.1h0 M426.6,75.1h0 M428.6,39.5h0 M398.1,32.3h0 M372.4,54.2h0 M366.1,69.6h0 M385.9,55.1h0 M365.4,80.3h0 M363.0,84.2h0 M406.3,47.3h0 M417.3,88.0h0 M438.5,96.5h0 M443.0,53.7h0 M368.3,62.0h0 M442.4,85.3h0 M366.5,92.0h0 M432.2,64.7h0 M417.2,103.3h0 M396.0,95.6h0 M409.8,95.2h0 M435.9,35.3h0 M373.9,76.5h0 M388.9,49.3h0 M376.4,56.4h0 M412.6,23.9h0 M372.2,70.8h0 M390.4,86.7h0 M442.0,92.0h0 M416.7,78.1h0 M374.3,35.4h0 M398.0,85.6h0 M399.7,68.4h0 M378.7,58.0h0 M390.8,63.8h0 M435.1,67.3h0 M367.4,41.8h0 M434.6,99.3h0 M384.7,54.2h0 M396.9,55.6h0 M426.1,85.8h0 M413.2,107.7h0 M412.4,40.8h0 M404.0,46.6h0 M365.8,82.4h0 M416.7,93.9h0 M369.9,76.1h0 M366.5,61.5h0 M390.2,54.8h0 M394.6,69.8h0 M366.6,71.0h0 M363.3,87.3h0 M359.6,66.9h0 M399.0,64.9h0 M427.2,28.6h0 M389.6,66.6h0 M372.5,64.5h0 M389.2,34.5h0 M411.5,62.4h0 M368.0,71.7h0 M377.4,74.9h0 M386.2,88.9h0 M387.8,92.7h0 M387.9,93.8h0 M426.9,61.4h0 M401.3,29.5h0 M383.9,46.0h0 M431.2,95.2h0 M415.5,93.2h0 M396.7,81.5h0 M405.3,103.9h0 M403.0,106.2h0 M392.5,45.3h0 M371.2,61.8h0 M385.3,31.7h0 M385.6,111.0h0 M429.5,60.9h0 M378.3,68.1h0 M387.5,79.6h0 M382.6,79.9h0 M428.3,47.7h0 M377.0,74.7h0 M410.1,104.2h0 M432.6,64.8h0 M402.6,95.4h0 M410.3,32.8h0 M392.1,32.3h0 M419.2,94.7h0 M416.0,26.5h0 M394.3,23.0h0 M420.4,92.2h0 M375.1,88.7h0 M417.2,109.2h0 M428.3,64.2h0 M396.5,59.2h0 M370.7,95.2h0 M405.1,93.2h0 M401.3,43.6h0 M380.5,32.5h0 M423.8,68.5h0 M392.4,113.1h0 M390.5,54.8h0 M377.1,47.5h0 M379.5,69.5h0 M395.6,65.6h0 M434.7,54.4h0 M413.2,69.5h0 M445.3,77.4h0 M443.7,55.3h0 M374.4,40.9h0 M383.5,101.1h0 M362.1,87.5h0 M393.1,42.4h0 M376.2,33.8h0 M408.4,28.3h0 M445.1,52.2h0 M385.9,26.6h0 M402.1,74.1h0 M368.1,87.2h0 M404.5,98.6h0 M397.5,54.0h0 M416.1,59.7h0 M399.0,44.6h0 M415.8,107.1h0 M388.7,56.0h0 M374.6,87.3h0 M394.7,63.1h0 M403.3,43.8h0 M442.3,70.2h0 M407.4,103.4h0 M418.3,100.2h0 M367.4,49.5h0 M376.2,69.5h0 M380.8,105.8h0 M375.9,58.0h0 M394.3,51.3h0 M422.9,67.7h0 M431.0,54.5h0 M434.8,99.8h0 M394.1,109.5h0 M408.0,103.3h0 M377.7,103.0h0 M384.7,98.5h0 M391.7,110.2h0 M438.6,57.1h0 M409.5,49.2h0 M442.3,60.7h0 M405.9,42.6h0 M424.9,71.7h0 M382.3,34.3h0 M424.1,60.9h0 M431.9,61.4h0 M408.3,89.0h0 M366.7,66.5h0 M370.6,96.1h0 M388.2,54.9h0 M364.2,47.1h0 M390.3,46.3h0 M376.1,47.9h0 M424.3,32.9h0 M403.7,82.4h0 M427.4,44.4h0 M413.3,76.5h0 M418.1,63.6h0 M398.6,65.0h0 M427.4,30.9h0 M381.5,67.8h0 M395.3,78.9h0 M393.1,112.4h0 M365.8,48.5h0 M396.1,106.9h0 M368.6,69.3h0 M430.5,67.3h0 M431.6,44.9h0 M386.8,73.0h0 M435.9,94.8h0 M413.5,88.3h0 M438.1,96.6h0 M372.3,42.6h0 M394.4,112.1h0 M385.7,97.9h0 M383.9,87.9h0 M409.9,77.4h0 M372.0,101.4h0 M376.1,33.3h0 M437.1,70.5h0 M399.6,39.4h0 M443.0,85.9h0 M437.5,58.1h0 M401.4,69.5h0 M412.1,55.1h0 M435.4,93.1h0 M419.1,75.4h0 M378.9,76.1h0 M418.8,45.6h0 M399.9,27.9h0 M419.5,62.1h0 M376.7,88.2h0 M431.3,41.9h0 M431.6,78.4h0 M393.4,25.4h0 M423.1,77.3h0 M429.0,33.7h0 M448.7,57.7h0 M396.5,22.5h0 M374.6,68.7h0 M424.4,90.0h0 M397.7,86.4h0 M434.6,40.5h0 M392.4,75.6h0 M421.3,74.8h0 M389.8,102.8h0 M414.2,46.9h0 M409.5,49.3h0 M438.9,58.1h0 M368.5,95.5h0 M373.2,101.5h0 M428.4,102.6h0 M410.0,81.9h0 M406.3,27.3h0 M402.7,36.1h0 M373.9,96.7h0 M414.0,38.2h0 M396.1,105.1h0 M363.0,57.0h0 M379.0,42.4h0 M370.3,90.3h0 M386.4,87.9h0 M390.4,93.8h0 M379.5,90.9h0 M406.8,33.2h0 M429.7,41.6h0 M360.9,72.0h0 M411.2,81.7h0 M423.3,26.1h0 M383.5,40.7h0 M439.1,46.7h0 M393.5,41.0h0 M424.9,32.8h0 M400.0,92.3h0 M390.2,42.7h0 M404.4,39.3h0 M424.6,97.9h0 M411.9,70.6h0 M411.5,55.4h0 M407.0,79.2h0 M435.9,49.2h0 M370.0,63.2h0 M360.8,50.7h0 M404.2,101.8h0 M411.5,114.2h0 M439.1,52.3h0 M373.1,87.0h0 M425.7,59.7h0 M433.3,82.0h0 M378.2,100.4h0 M381.0,101.3h0 M434.5,99.4h0 M407.7,43.8h0 M391.9,111.6h0 M372.0,94.6h0 M409.7,22.2h0 M410.4,110.0h0 M393.7,88.2h0 M436.6,98.5h0 M412.3,100.3h0 M427.4,108.1h0 M373.6,53.3h0 M402.7,21.8h0 M382.8,103.3h0 M447.9,67.5h0 M404.8,31.9h0 M406.7,109.1h0 M385.2,83.1h0 M433.0,64.2h0 M396.8,88.5h0 M372.9,53.2h0 M379.1,99.6h0 M426.6,59.3h0 M366.9,69.6h0 M383.1,80.6h0 M436.7,55.3h0 M386.9,99.1h0 M436.7,86.6h0 M387.7,108.5h0 M424.1,27.2h0 M372.1,96.2h0 M414.4,102.0h0 M418.9,108.6h0 M438.7,38.0h0 M379.4,103.8h0 M446.1,57.8h0 M428.3,41.2h0 M404.3,33.0h0 M415.1,34.8h0 M396.2,23.7h0 M448.1,79.2h0 M388.0,42.6h0 M429.9,67.5h0 M409.4,25.3h0 M390.5,65.3h0 M435.2,40.6h0 M360.8,72.0h0 M366.4,66.6h0 M396.4,46.3h0 M422.4,26.1h0 M383.8,68.0h0 M388.0,64.3h0 M445.5,70.3h0 M378.1,66.2h0 M385.4,28.3h0 M443.2,49.6h0 M363.8,60.9h0 M428.0,56.3h0 M419.4,104.3h0 M411.6,29.4h0 M419.9,45.4h0 M400.0,87.7h0 M360.8,75.5h0 M418.2,107.7h0 M427.7,79.0h0 M398.5,112.7h0 M366.8,44.2h0 M418.0,26.2h0 M428.1,50.4h0 M431.0,77.8h0 M380.2,95.8h0 M365.0,63.0h0 M362.5,63.6h0 M382.7,71.2h0 M437.8,91.4h0 M401.8,60.5h0 M424.4,104.7h0 M387.3,24.5h0 M414.4,71.7h0 M400.3,94.7h0 M439.9,69.9h0 M386.1,82.8h0 M436.2,88.3h0 M414.3,36.8h0 M424.7,77.7h0 M424.2,64.6h0 M411.8,36.0h0 M386.8,59.9h0 M369.6,47.9h0 M398.5,107.2h0 M423.8,31.0h0 M393.0,97.5h0 M423.7,45.0h0 M387.1,83.9h0 M412.1,56.3h0 M387.7,59.8h0 M388.2,96.1h0 M442.2,75.0h0 M420.5,100.8h0 M366.4,65.5h0 M395.9,79.8h0 M406.2,26.5h0 M394.6,53.2h0 M412.8,105.3h0 M363.6,72.2h0 M399.6,57.7h0 M374.3,63.8h0 M367.3,84.8h0 M383.9,103.4h0 M379.1,41.3h0 M373.9,89.8h0 M404.7,81.4h0 M389.7,71.7h0 M396.2,66.6h0 M365.9,69.7h0 M363.2,54.7h0 M403.4,27.8h0 M415.8,77.8h0 M428.2,53.5h0 M415.9,53.1h0 M373.0,85.4h0 M431.1,44.7h0 M360.9,69.5h0 M404.2,78.8h0 M427.7,52.8h0 M432.0,88.4h0 M379.2,43.2h0 M398.8,102.0h0 M438.5,71.4h0 M405.9,67.9h0 M422.8,69.9h0 M409.1,101.8h0 M366.3,69.5h0 M414.1,47.5h0 M428.4,81.5h0 M388.8,63.2h0 M408.1,29.9h0 M399.3,110.2h0 M363.5,62.9h0 M381.2,82.2h0 M373.7,70.7h0 M395.8,100.7h0 M376.2,82.6h0 M402.4,40.9h0 M392.5,45.7h0 M427.5,45.6h0 M383.9,81.5h0 M367.9,37.6h0 M387.6,83.8h0 M433.4,76.8h0 M383.1,74.4h0 M398.8,110.6h0 M444.6,86.7h0 M378.0,56.9h0 M376.2,62.7h0 M405.2,41.6h0 M414.4,95.6h0 M428.2,54.0h0 M384.0,35.3h0 M420.5,66.9h0 M412.8,26.7h0 M365.9,91.8h0 M417.2,107.9h0 M396.9,77.5h0 M396.5,103.8h0 M384.0,67.6h0 M430.2,56.4h0 M397.0,30.7h0 M446.6,68.5h0 M400.4,36.9h0 M394.7,54.5h0 M373.7,55.5h0 M389.5,81.7h0 M398.9,90.4h0 M382.9,90.7h0 M401.2,52.4h0 M413.3,66.1h0 M433.5,87.1h0 M391.6,77.0h0 M396.1,91.2h0 M370.0,73.2h0 M406.2,105.7h0 M386.4,58.7h0 M421.5,78.2h0 M402.6,77.9h0 M377.7,29.8h0 M397.2,71.2h0 M424.8,58.7h0 M387.7,111.5h0 M436.6,53.5h0 M405.7,109.0h0 M397.1,25.3h0 M393.0,86.9h0 M378.2,83.3h0 M377.7,84.3h0 M375.4,57.8h0 M432.6,74.7h0 M405.6,64.6h0 M416.7,98.2h0 M369.0,55.0h0 M403.5,36.3h0 M366.4,81.9h0 M386.0,53.0h0 M412.2,28.9h0 M368.5,91.8h0 M390.8,83.5h0 M371.6,85.8h0 M404.5,31.7h0 M368.3,44.8h0 M393.2,72.1h0 M374.4,71.3h0 M403.8,60.1h0 M417.4,69.3h0 M363.1,62.8h0 M413.8,68.8h0 M405.4,51.3h0 M438.2,65.0h0 M442.1,55.3h0 M379.7,81.4h0 M422.4,67.1h0 M415.6,34.0h0 M435.7,64.6h0 M424.2,46.8h0 M441.5,44.0h0 M425.5,49.5h0 M444.5,78.2h0 M425.2,72.8h0 M428.2,48.0h0 M391.8,83.7h0 M361.8,48.5h0 M374.7,37.9h0 M408.5,60.9h0 M412.3,83.2h0 M397.8,102.6h0 M396.3,64.7h0 M380.1,91.3h0 M379.9,51.1h0 M398.0,23.0h0 M376.9,60.2h0 M361.1,87.1h0 M376.1,80.3h0 M385.2,66.9h0 M361.6,53.8h0 M379.8,27.9h0 M434.9,61.4h0 M372.4,42.4h0 M398.3,75.9h0 M404.3,101.6h0 M406.2,86.9h0 M376.6,102.5h0 M404.8,23.8h0 M387.2,110.4h0 M383.6,32.7h0 M448.8,61.6h0 M410.2,55.4h0 M380.6,51.7h0 M443.9,67.3h0 M423.1,79.1h0 M379.3,106.6h0 M402.0,69.9h0 M382.1,73.6h0 M406.5,103.4h0 M418.8,65.2h0 M376.2,56.0h0 M431.4,65.6h0 M417.7,38.7h0 M388.0,40.1h0 M388.7,48.2h0 M392.2,85.7h0 M428.2,106.0h0 M414.0,98.7h0 M417.2,28.9h0 M372.4,43.6h0 M366.3,45.8h0 M419.1,91.3h0 M398.4,72.7h0 M416.5,85.7h0 M396.5,55.5h0 M405.2,76.0h0 M369.0,64.6h0 M403.3,92.9h0 M424.2,79.9h0 M403.3,37.5h0 M388.2,50.5h0 M401.0,28.3h0 M394.1,114.2h0 M388.3,48.5h0 M401.8,80.4h0 M438.5,86.2h0 M385.1,81.2h0 M429.4,99.6h0 M412.9,104.5h0" stroke="#fff" stroke-width="1.30" stroke-linecap="round" fill="none" opacity="0.50"/>
<defs><radialGradient id="gte" cx="403" cy="68" r="105" gradientUnits="userSpaceOnUse"><stop offset="0" stop-color="#008b8b" stop-opacity="0.85"/><stop offset="0.45" stop-color="#008b8b" stop-opacity="0.4"/><stop offset="1" stop-color="#008b8b" stop-opacity="0.1"/></radialGradient></defs>
<path d="M393.20,68.40 L393.23,66.80 L393.34,65.21 L393.51,63.61 L393.76,62.03 L394.07,60.46 L394.45,58.89 L394.91,57.34 L395.42,55.81 L396.01,54.29 L396.66,52.80 L397.38,51.32 L398.16,49.87 L399.01,48.44 L399.92,47.04 L400.89,45.66 L401.92,44.32 L403.01,43.00 L404.16,41.71 L405.36,40.45 L406.62,39.22 L407.93,38.02 L409.30,36.86 L410.71,35.74 L412.17,34.64 L413.68,33.59 L415.23,32.57 L416.83,31.59 L418.46,30.65 L420.14,29.75 L421.85,28.89 L423.59,28.08 L425.37,27.31 L427.18,26.60 L429.01,25.93 L430.87,25.31 L432.75,24.75 L434.66,24.24 L436.58,23.80 L438.52,23.41 L440.47,23.09 L442.43,22.83 L444.40,22.64 L446.38,22.51 L448.36,22.46 L450.34,22.48 L452.32,22.57 L454.30,22.74 L456.27,22.98 L458.23,23.29 L460.18,23.68 L462.12,24.15 L464.04,24.68 L465.95,25.29 L467.83,25.97 L469.69,26.72 L471.52,27.54 L473.33,28.42 L475.11,29.36 L476.85,30.36 L478.56,31.41 L480.24,32.51 L481.87,33.65 L483.47,34.84 L485.02,36.06 L486.53,37.31 L487.99,38.60 L489.40,39.90 L490.77,41.22 L492.08,42.56 L493.34,43.91 L494.54,45.26 L495.69,46.62 L496.78,47.97 L497.81,49.32 L498.78,50.67 L499.69,52.01 L500.54,53.34 L501.32,54.65 L502.04,55.96 L502.69,57.25 L503.28,58.53 L503.79,59.79 L504.25,61.05 L504.63,62.29 L504.94,63.52 L505.19,64.75 L505.36,65.97 L505.47,67.19 L505.50,68.40 L505.47,69.61 L505.36,70.83 L505.19,72.05 L504.94,73.28 L504.63,74.51 L504.25,75.75 L503.79,77.01 L503.28,78.27 L502.69,79.55 L502.04,80.84 L501.32,82.15 L500.54,83.46 L499.69,84.79 L498.78,86.13 L497.81,87.48 L496.78,88.83 L495.69,90.18 L494.54,91.54 L493.34,92.89 L492.08,94.24 L490.77,95.58 L489.40,96.90 L487.99,98.20 L486.53,99.49 L485.02,100.74 L483.47,101.96 L481.87,103.15 L480.24,104.29 L478.56,105.39 L476.85,106.44 L475.11,107.44 L473.33,108.38 L471.52,109.26 L469.69,110.08 L467.83,110.83 L465.95,111.51 L464.04,112.12 L462.12,112.65 L460.18,113.12 L458.23,113.51 L456.27,113.82 L454.30,114.06 L452.32,114.23 L450.34,114.32 L448.36,114.34 L446.38,114.29 L444.40,114.16 L442.43,113.97 L440.47,113.71 L438.52,113.39 L436.58,113.00 L434.66,112.56 L432.75,112.05 L430.87,111.49 L429.01,110.87 L427.18,110.20 L425.37,109.49 L423.59,108.72 L421.85,107.91 L420.14,107.05 L418.46,106.15 L416.83,105.21 L415.23,104.23 L413.68,103.21 L412.17,102.16 L410.71,101.06 L409.30,99.94 L407.93,98.78 L406.62,97.58 L405.36,96.35 L404.16,95.09 L403.01,93.80 L401.92,92.48 L400.89,91.14 L399.92,89.76 L399.01,88.36 L398.16,86.93 L397.38,85.48 L396.66,84.00 L396.01,82.51 L395.42,80.99 L394.91,79.46 L394.45,77.91 L394.07,76.34 L393.76,74.77 L393.51,73.19 L393.34,71.59 L393.23,70.00Z" fill="url(#gte)"/>
<path d="M467.4,57.6h0 M499.5,60.2h0 M434.9,95.4h0 M470.6,52.3h0 M450.2,58.7h0 M484.0,51.3h0 M442.6,93.7h0 M405.9,94.8h0 M455.4,84.8h0 M469.6,44.8h0 M493.0,79.4h0 M433.3,32.2h0 M425.9,35.0h0 M404.7,42.5h0 M403.9,50.8h0 M458.4,57.0h0 M470.0,43.7h0 M466.3,48.3h0 M441.3,45.7h0 M462.4,27.6h0 M404.7,43.4h0 M415.9,56.8h0 M430.8,50.8h0 M480.5,57.5h0 M494.3,86.9h0 M492.5,62.2h0 M431.1,75.8h0 M469.7,98.3h0 M455.2,33.9h0 M496.7,66.1h0 M406.5,71.5h0 M426.3,50.8h0 M457.8,82.8h0 M467.8,63.7h0 M479.4,78.2h0 M445.7,36.4h0 M427.5,29.2h0 M490.7,64.3h0 M455.7,98.4h0 M479.6,102.2h0 M446.5,76.3h0 M408.7,45.0h0 M407.3,91.1h0 M454.4,45.4h0 M478.2,57.6h0 M480.5,98.7h0 M408.2,68.7h0 M451.2,54.9h0 M417.5,46.9h0 M502.7,67.8h0 M440.5,90.5h0 M475.4,95.9h0 M481.2,50.8h0 M420.7,68.6h0 M476.2,47.1h0 M419.3,57.9h0 M413.1,34.6h0 M460.7,72.9h0 M409.3,90.5h0 M439.5,72.8h0 M492.5,68.4h0 M405.4,53.1h0 M443.9,53.3h0 M418.3,51.4h0 M405.3,69.6h0 M459.0,23.5h0 M464.8,36.2h0 M453.4,79.5h0 M499.5,74.6h0 M421.7,30.3h0 M477.7,55.0h0 M428.3,72.3h0 M468.6,78.1h0 M467.5,102.4h0 M468.3,82.9h0 M423.6,54.3h0 M498.0,51.4h0 M444.5,111.1h0 M465.1,70.3h0 M407.9,74.5h0 M473.0,37.8h0 M409.3,78.9h0 M491.0,50.2h0 M479.7,81.3h0 M407.5,87.3h0 M425.7,38.1h0 M444.6,25.7h0 M493.2,77.2h0 M434.8,66.1h0 M411.4,85.6h0 M485.1,63.5h0 M399.4,52.9h0 M490.9,87.2h0 M397.8,68.5h0 M457.4,107.9h0 M440.1,54.3h0 M452.6,30.6h0 M438.7,51.4h0 M413.1,99.4h0 M457.6,88.6h0 M461.2,43.1h0 M424.5,39.5h0 M463.8,50.6h0 M407.8,97.9h0 M430.1,84.4h0 M491.9,53.0h0 M453.3,64.1h0 M453.9,85.3h0 M479.4,57.3h0 M471.2,102.9h0 M450.5,65.7h0 M445.3,39.3h0 M461.4,46.6h0 M435.1,107.9h0 M425.6,53.1h0 M467.1,77.9h0 M422.6,38.6h0 M409.2,58.7h0 M479.5,98.9h0 M415.4,87.6h0 M414.3,64.1h0 M407.5,44.3h0 M484.6,88.4h0 M448.7,104.0h0 M405.7,49.7h0 M469.0,34.3h0 M443.4,61.7h0 M413.0,47.8h0 M422.5,72.4h0 M431.3,74.7h0 M430.1,88.7h0 M491.8,79.1h0 M486.9,65.1h0 M477.0,31.1h0 M450.5,61.8h0 M399.0,64.1h0 M406.0,86.8h0 M487.8,60.9h0 M456.0,58.6h0 M460.4,111.5h0 M419.7,77.2h0 M399.5,61.7h0 M434.4,72.6h0 M421.3,39.0h0 M452.4,97.4h0 M502.0,60.4h0 M420.6,52.0h0 M483.4,35.2h0 M495.6,68.1h0 M459.8,80.4h0 M477.3,42.0h0 M433.1,73.0h0 M464.0,88.9h0 M418.5,40.5h0 M469.0,61.5h0 M433.2,54.6h0 M427.2,39.6h0 M444.5,100.0h0 M397.1,66.5h0 M396.3,74.7h0 M415.0,36.6h0 M435.2,32.4h0 M495.8,65.3h0 M445.7,32.1h0 M406.2,54.9h0 M502.4,77.1h0 M438.1,78.5h0 M446.1,100.1h0 M403.4,75.3h0 M428.0,60.8h0 M460.4,98.9h0 M454.0,30.3h0 M405.0,83.5h0 M438.1,100.2h0 M402.4,63.6h0 M412.0,37.4h0 M444.2,93.9h0 M482.0,59.2h0 M432.2,46.3h0 M470.8,56.6h0 M472.3,33.1h0 M418.3,72.7h0 M487.6,62.5h0 M404.4,57.2h0 M432.1,55.0h0 M442.2,35.6h0 M409.1,40.5h0 M440.0,35.8h0 M409.6,75.8h0 M456.8,48.0h0 M472.4,71.4h0 M416.5,101.7h0 M457.2,35.4h0 M449.2,26.8h0 M427.8,104.0h0 M437.2,68.4h0 M396.8,63.0h0 M444.9,113.0h0 M485.4,45.2h0 M461.0,66.3h0 M418.1,40.4h0 M439.5,97.6h0 M471.6,57.0h0 M484.8,99.8h0 M431.4,106.6h0 M433.3,42.4h0 M417.9,70.9h0 M410.9,93.3h0 M494.8,55.8h0 M495.5,64.1h0 M461.4,105.8h0 M428.3,72.0h0 M475.9,40.9h0 M499.2,61.0h0 M423.0,39.3h0 M442.6,44.8h0 M417.0,64.2h0 M440.2,112.0h0 M440.6,26.4h0 M399.8,88.1h0 M452.4,76.9h0 M413.3,60.2h0 M456.7,90.8h0 M427.6,64.5h0 M416.9,77.5h0 M481.2,73.9h0 M489.5,44.5h0 M481.9,87.5h0 M490.4,73.0h0 M427.4,57.7h0 M473.9,49.2h0 M450.7,93.5h0 M434.8,55.8h0 M404.8,84.4h0 M441.7,56.6h0 M415.8,100.0h0 M408.4,62.8h0 M428.3,73.6h0 M495.1,69.4h0 M490.1,60.1h0 M487.5,44.3h0 M436.1,43.3h0 M435.5,67.6h0 M438.7,48.5h0 M475.4,80.8h0 M403.2,51.6h0 M427.5,44.1h0 M436.4,41.9h0 M446.9,47.6h0 M452.3,112.6h0 M411.1,42.0h0 M446.4,114.2h0 M413.2,96.2h0 M484.9,53.7h0 M493.8,59.2h0 M460.1,93.9h0 M478.4,74.2h0 M431.0,37.8h0 M440.0,110.7h0 M447.8,112.9h0 M450.5,81.8h0 M461.4,74.1h0 M466.6,67.9h0 M440.0,109.8h0 M436.0,79.6h0 M405.5,43.6h0 M447.9,24.7h0 M494.7,74.7h0 M465.3,110.8h0 M426.6,61.1h0 M482.2,48.4h0 M406.1,72.5h0 M412.8,100.2h0 M435.6,46.7h0 M485.4,43.8h0 M420.2,56.0h0 M396.2,77.4h0 M440.1,99.9h0 M488.2,69.5h0 M461.2,109.3h0 M433.8,108.7h0 M453.4,29.4h0 M412.7,92.5h0 M409.3,93.8h0 M436.2,77.2h0 M458.3,60.0h0 M458.3,108.8h0 M493.8,49.2h0 M429.7,62.8h0 M448.0,62.7h0 M477.6,95.6h0 M460.8,26.9h0 M443.9,50.8h0 M445.3,104.6h0 M437.4,88.4h0 M469.2,93.2h0 M477.9,44.7h0 M466.4,55.9h0 M439.5,77.6h0 M443.8,28.2h0 M461.9,48.7h0 M454.4,53.7h0 M490.5,65.2h0 M418.2,95.3h0 M447.9,78.7h0 M431.8,54.4h0 M433.9,90.9h0 M399.7,76.7h0 M444.2,56.3h0 M481.4,95.7h0 M478.9,95.3h0 M488.9,51.6h0 M456.1,50.1h0 M473.1,67.5h0 M415.3,78.0h0 M470.8,60.6h0 M484.9,66.0h0 M408.6,52.6h0 M394.3,69.4h0 M422.5,107.7h0 M446.7,65.6h0 M403.6,74.8h0 M438.6,92.7h0 M473.9,82.2h0 M486.4,63.6h0 M427.9,28.5h0 M439.9,90.3h0 M415.5,46.1h0 M483.5,86.8h0 M425.2,69.5h0 M471.7,83.7h0 M486.1,60.0h0 M497.9,80.5h0 M457.7,111.3h0 M459.4,70.2h0 M493.2,69.8h0 M436.5,37.6h0 M411.6,58.3h0 M446.7,82.4h0 M408.8,42.4h0 M435.3,28.9h0 M458.8,99.7h0 M494.4,80.3h0 M459.2,97.5h0 M453.6,69.7h0 M491.1,81.2h0 M449.6,23.9h0 M494.6,64.7h0 M397.3,78.0h0 M468.7,74.7h0 M406.4,65.7h0 M446.4,50.3h0 M471.4,99.4h0 M395.4,58.1h0 M419.6,70.6h0 M434.8,88.3h0 M437.6,37.2h0 M479.5,47.8h0 M437.8,94.2h0 M435.2,35.8h0 M440.2,33.2h0 M454.8,23.8h0 M412.8,97.4h0 M458.7,63.8h0 M422.5,46.8h0 M477.8,57.9h0 M397.0,52.7h0 M438.5,105.6h0 M431.1,77.3h0 M447.7,68.2h0 M486.3,39.2h0 M408.8,43.2h0 M433.1,48.8h0 M418.3,40.7h0 M460.9,55.6h0 M463.9,39.0h0 M431.5,40.5h0 M486.2,47.5h0 M427.1,34.0h0 M456.6,47.6h0 M469.7,58.6h0 M460.6,70.8h0 M488.9,39.7h0 M455.4,85.2h0 M439.1,36.8h0 M477.6,32.7h0 M440.5,40.0h0 M472.8,86.3h0 M482.0,70.8h0 M461.2,105.6h0 M439.9,109.5h0 M425.8,60.5h0 M443.2,88.7h0 M459.1,24.9h0 M435.5,98.4h0 M442.4,52.5h0 M421.2,91.3h0 M425.0,66.8h0 M486.5,96.1h0 M479.6,38.4h0 M456.3,48.7h0 M438.4,58.0h0 M487.6,92.5h0 M442.2,91.3h0 M483.4,47.8h0 M414.8,70.0h0 M399.6,89.3h0 M431.9,60.5h0 M492.6,43.5h0 M458.0,27.2h0 M480.6,47.0h0 M432.8,105.9h0 M402.9,53.9h0 M497.4,67.0h0 M457.9,26.3h0 M409.5,47.1h0 M434.3,58.6h0 M463.0,75.1h0 M412.8,61.8h0 M416.6,101.4h0 M451.1,67.0h0 M435.4,102.2h0 M441.5,36.4h0 M437.3,30.2h0 M427.7,46.1h0 M500.6,64.8h0 M428.9,95.5h0 M462.7,110.8h0 M437.6,102.6h0 M411.8,72.4h0 M450.9,63.8h0 M460.1,108.8h0 M426.4,53.9h0 M426.0,80.4h0 M413.7,70.2h0 M419.7,33.2h0 M468.9,35.4h0 M433.0,62.1h0 M473.1,59.1h0 M402.8,59.7h0 M469.3,77.8h0 M396.1,61.1h0 M474.0,38.4h0 M433.0,94.9h0 M487.9,48.6h0 M479.6,91.2h0 M409.3,53.2h0 M440.4,67.5h0 M432.0,26.5h0 M437.0,72.5h0 M483.5,60.2h0 M416.3,96.0h0 M444.1,51.2h0 M451.4,31.6h0 M420.3,58.6h0 M414.7,90.8h0 M446.9,79.3h0 M441.6,42.3h0 M436.9,66.8h0 M397.0,61.1h0 M419.3,85.7h0 M498.6,62.2h0 M400.3,75.1h0 M459.6,60.6h0 M456.5,99.2h0 M419.9,55.8h0 M470.3,38.3h0 M425.0,96.5h0 M479.9,60.6h0 M476.4,38.6h0 M461.3,74.1h0 M451.9,44.6h0 M404.9,47.5h0 M456.5,27.1h0 M498.1,86.0h0 M489.6,64.1h0 M448.7,83.0h0 M417.8,49.2h0 M437.9,92.6h0 M499.3,84.2h0 M409.0,95.0h0 M438.8,32.2h0 M447.4,69.2h0 M419.1,87.9h0 M422.6,40.7h0 M440.2,62.2h0 M432.7,73.4h0 M495.2,74.9h0 M407.0,68.5h0 M453.5,68.3h0 M421.8,57.4h0 M429.8,76.3h0 M504.3,63.2h0 M432.7,28.6h0 M408.8,45.2h0 M455.6,80.9h0 M436.7,98.0h0 M488.4,70.0h0 M419.3,35.2h0 M447.9,84.6h0 M436.1,83.5h0 M434.8,81.1h0 M466.5,52.5h0 M500.1,72.4h0 M453.2,51.7h0 M423.1,46.9h0 M486.2,82.8h0 M451.3,79.5h0 M397.4,60.2h0 M441.2,109.5h0 M456.6,73.0h0 M441.8,83.6h0 M495.2,65.0h0 M443.8,70.2h0 M457.3,96.2h0 M480.1,54.5h0 M411.3,91.5h0 M452.6,45.9h0 M421.1,35.5h0 M458.8,72.4h0 M403.6,72.8h0 M489.3,44.3h0 M466.5,61.7h0 M408.5,79.9h0 M499.2,78.6h0 M480.4,33.5h0 M478.5,104.8h0 M413.2,63.8h0 M490.0,85.0h0 M438.7,109.1h0 M459.5,70.3h0 M459.4,73.7h0 M482.4,93.9h0 M446.9,93.5h0 M417.5,56.2h0 M428.0,60.8h0 M417.7,96.5h0 M463.8,92.3h0 M438.9,24.3h0 M432.7,48.0h0 M436.3,51.7h0 M432.0,101.9h0 M397.5,53.5h0 M455.9,49.9h0 M467.0,90.9h0 M433.3,86.3h0 M426.9,62.0h0 M454.2,68.3h0 M478.9,43.3h0 M467.1,72.5h0 M484.6,72.2h0 M424.8,98.0h0 M439.4,51.6h0 M431.1,104.3h0 M469.3,93.0h0 M465.0,100.0h0 M397.4,69.7h0 M472.9,49.4h0 M441.2,37.3h0 M466.3,95.8h0 M444.5,102.3h0 M455.9,90.3h0 M428.2,59.9h0 M436.8,107.3h0 M421.5,91.7h0 M470.6,108.3h0 M488.6,75.0h0 M491.3,83.4h0 M431.1,25.6h0 M460.8,108.0h0 M416.0,35.3h0 M425.6,103.3h0 M468.6,76.3h0 M456.7,71.1h0 M446.3,102.6h0 M407.9,98.0h0 M446.5,94.5h0 M394.9,75.3h0 M409.4,59.5h0 M467.7,101.7h0 M477.9,58.9h0 M490.2,81.2h0 M483.7,79.2h0 M449.4,71.6h0 M444.3,70.3h0 M456.4,56.5h0 M446.8,87.0h0 M459.3,85.2h0 M424.1,46.5h0 M436.8,28.1h0 M494.6,51.5h0 M463.8,30.2h0 M460.2,82.4h0 M441.4,91.7h0 M409.6,68.7h0 M395.1,71.3h0 M450.8,62.4h0 M463.9,57.0h0 M459.4,46.1h0 M431.4,38.8h0 M476.2,106.4h0 M495.1,50.5h0 M501.6,59.1h0 M476.1,82.1h0 M399.8,62.4h0 M477.8,32.9h0 M444.7,95.2h0 M432.6,72.0h0 M397.4,71.6h0 M492.6,64.3h0 M442.4,109.3h0 M491.1,91.0h0 M423.1,29.8h0 M490.1,70.8h0 M458.9,56.2h0 M464.8,46.2h0 M479.9,79.0h0 M484.3,60.8h0 M464.7,50.5h0 M438.8,40.9h0 M445.5,62.4h0 M444.5,78.1h0 M429.2,66.0h0 M418.4,92.9h0 M469.8,99.0h0 M460.9,64.2h0 M453.0,40.1h0 M454.6,63.5h0 M485.4,63.4h0 M454.6,86.1h0 M484.9,39.8h0 M468.4,43.3h0 M489.2,42.9h0 M460.2,64.8h0 M461.8,40.8h0 M456.7,111.1h0 M428.2,49.2h0 M464.2,85.7h0 M472.8,78.7h0 M449.0,100.5h0 M409.2,40.3h0 M490.4,45.1h0 M417.7,51.1h0 M464.2,44.2h0 M438.9,80.5h0 M495.7,81.4h0 M455.3,32.8h0 M461.5,100.2h0 M489.2,49.8h0 M497.5,85.7h0 M500.2,83.4h0 M421.1,73.9h0 M469.8,72.0h0 M437.1,103.0h0 M434.4,61.4h0 M475.5,47.0h0 M478.6,78.4h0 M492.4,84.0h0 M449.7,25.4h0 M434.2,103.2h0 M454.1,85.4h0 M470.9,31.8h0 M472.1,107.8h0 M429.8,109.2h0 M414.3,53.3h0 M435.2,95.2h0 M459.9,39.2h0 M486.9,71.7h0 M478.7,68.5h0 M406.2,96.9h0 M459.6,26.4h0 M427.2,33.2h0 M405.4,43.2h0 M400.6,48.7h0 M438.7,63.2h0 M468.2,70.5h0 M444.2,112.2h0 M421.6,30.9h0 M452.4,76.2h0 M451.4,39.8h0 M492.9,82.1h0 M463.0,35.8h0 M481.0,89.3h0 M491.9,51.6h0 M468.6,43.2h0 M467.2,50.2h0 M459.6,85.1h0 M483.0,76.7h0 M498.0,50.4h0 M439.4,91.9h0 M470.6,39.0h0 M454.5,82.3h0 M407.3,92.5h0 M493.1,52.5h0 M459.1,43.4h0 M481.2,56.9h0 M473.0,66.9h0 M461.2,49.5h0 M410.8,40.5h0 M446.6,43.9h0 M475.5,84.1h0 M399.8,74.8h0 M438.5,102.7h0 M458.6,27.7h0 M448.6,84.8h0 M462.7,107.7h0 M426.3,105.6h0 M407.1,69.5h0 M454.4,65.9h0 M447.8,101.1h0 M487.0,37.9h0 M438.0,54.5h0 M411.5,98.4h0 M490.1,87.4h0 M498.5,56.1h0 M404.1,92.8h0 M454.9,54.6h0 M479.9,70.3h0 M453.8,88.3h0 M412.7,88.1h0 M426.7,80.7h0 M442.8,84.2h0 M409.6,94.7h0 M464.7,73.8h0 M429.5,51.9h0 M423.3,93.4h0 M437.3,32.8h0 M438.7,51.9h0 M433.9,55.4h0 M452.2,25.1h0 M498.8,59.8h0 M428.4,51.1h0 M401.3,55.6h0 M420.0,66.2h0 M412.2,76.4h0 M440.2,63.4h0 M469.0,95.0h0 M475.4,41.9h0 M498.1,78.0h0 M459.6,42.6h0 M465.6,48.1h0 M467.0,89.2h0 M493.8,82.6h0 M412.6,89.3h0 M417.4,98.9h0 M487.2,92.0h0 M487.6,95.5h0 M483.1,96.0h0 M446.2,110.6h0 M435.8,92.6h0" stroke="#008b8b" stroke-width="2.20" stroke-linecap="round" fill="none" opacity="0.50"/>
<defs><radialGradient id="gsl" cx="403" cy="68" r="166" gradientUnits="userSpaceOnUse"><stop offset="0" stop-color="#2f4f4f" stop-opacity="1"/><stop offset="0.3" stop-color="#2f4f4f" stop-opacity="0.85"/><stop offset="0.55" stop-color="#2f4f4f" stop-opacity="0.35"/><stop offset="1" stop-color="#2f4f4f" stop-opacity="0.1"/></radialGradient></defs>
<path d="M403.20,68.40 L403.25,68.40 L403.41,68.39 L403.66,68.37 L404.03,68.32 L404.49,68.23 L405.05,68.07 L405.72,67.84 L406.49,67.53 L407.35,67.10 L408.32,66.57 L409.38,65.92 L410.54,65.15 L411.79,64.25 L413.13,63.24 L414.57,62.12 L416.09,60.90 L417.70,59.60 L419.40,58.22 L421.18,56.79 L423.04,55.32 L424.98,53.83 L426.99,52.32 L429.08,50.82 L431.25,49.34 L433.47,47.88 L435.77,46.46 L438.13,45.07 L440.55,43.72 L443.02,42.42 L445.55,41.16 L448.13,39.95 L450.75,38.79 L453.43,37.67 L456.14,36.59 L458.89,35.56 L461.67,34.58 L464.48,33.65 L467.32,32.77 L470.19,31.95 L473.07,31.20 L475.97,30.52 L478.89,29.91 L481.81,29.38 L484.74,28.93 L487.66,28.57 L490.59,28.30 L493.51,28.11 L496.43,28.01 L499.33,27.99 L502.21,28.05 L505.08,28.18 L507.92,28.38 L510.73,28.63 L513.51,28.95 L516.26,29.31 L518.97,29.72 L521.65,30.17 L524.27,30.66 L526.85,31.20 L529.38,31.78 L531.85,32.40 L534.27,33.08 L536.63,33.82 L538.93,34.63 L541.15,35.51 L543.32,36.46 L545.41,37.50 L547.42,38.62 L549.36,39.82 L551.22,41.11 L553.00,42.48 L554.70,43.92 L556.31,45.41 L557.83,46.96 L559.27,48.54 L560.61,50.15 L561.86,51.76 L563.02,53.37 L564.08,54.95 L565.05,56.50 L565.91,58.01 L566.68,59.47 L567.35,60.88 L567.91,62.23 L568.37,63.54 L568.74,64.79 L568.99,66.02 L569.15,67.22 L569.20,68.40 L569.15,69.58 L568.99,70.78 L568.74,72.01 L568.37,73.26 L567.91,74.57 L567.35,75.92 L566.68,77.33 L565.91,78.79 L565.05,80.30 L564.08,81.85 L563.02,83.43 L561.86,85.04 L560.61,86.65 L559.27,88.26 L557.83,89.84 L556.31,91.39 L554.70,92.88 L553.00,94.32 L551.22,95.69 L549.36,96.98 L547.42,98.18 L545.41,99.30 L543.32,100.34 L541.15,101.29 L538.93,102.17 L536.63,102.98 L534.27,103.72 L531.85,104.40 L529.38,105.02 L526.85,105.60 L524.27,106.14 L521.65,106.63 L518.97,107.08 L516.26,107.49 L513.51,107.85 L510.73,108.17 L507.92,108.42 L505.08,108.62 L502.21,108.75 L499.33,108.81 L496.43,108.79 L493.51,108.69 L490.59,108.50 L487.66,108.23 L484.74,107.87 L481.81,107.42 L478.89,106.89 L475.97,106.28 L473.07,105.60 L470.19,104.85 L467.32,104.03 L464.48,103.15 L461.67,102.22 L458.89,101.24 L456.14,100.21 L453.43,99.13 L450.75,98.01 L448.13,96.85 L445.55,95.64 L443.02,94.38 L440.55,93.08 L438.13,91.73 L435.77,90.34 L433.47,88.92 L431.25,87.46 L429.08,85.98 L426.99,84.48 L424.98,82.97 L423.04,81.48 L421.18,80.01 L419.40,78.58 L417.70,77.20 L416.09,75.90 L414.57,74.68 L413.13,73.56 L411.79,72.55 L410.54,71.65 L409.38,70.88 L408.32,70.23 L407.35,69.70 L406.49,69.27 L405.72,68.96 L405.05,68.73 L404.49,68.57 L404.03,68.48 L403.66,68.43 L403.41,68.41 L403.25,68.40Z" fill="url(#gsl)"/>
<path d="M531.7,42.9h0 M552.8,81.4h0 M528.7,68.0h0 M479.7,100.7h0 M493.8,32.4h0 M539.6,63.7h0 M485.6,36.5h0 M478.6,93.1h0 M522.1,95.4h0 M554.9,69.4h0 M490.0,76.2h0 M533.6,49.4h0 M510.7,43.8h0 M469.3,47.0h0 M501.6,68.8h0 M523.6,100.3h0 M486.3,49.8h0 M536.5,47.8h0 M502.3,48.8h0 M499.8,102.4h0 M502.1,31.6h0 M479.6,58.1h0 M487.5,67.8h0 M482.9,90.2h0 M472.7,32.5h0 M510.7,99.3h0 M517.6,76.8h0 M531.9,95.1h0 M546.5,77.2h0 M564.5,61.4h0 M488.7,69.3h0 M518.6,61.3h0 M525.7,34.3h0 M558.8,77.6h0 M501.9,104.3h0 M481.3,58.2h0 M529.3,80.4h0 M493.4,53.9h0 M513.0,72.9h0 M488.5,73.8h0 M479.7,82.0h0 M489.2,67.9h0 M493.7,84.5h0 M538.0,48.9h0 M562.1,70.5h0 M505.2,85.2h0 M543.7,61.7h0 M523.3,60.8h0 M481.3,61.3h0 M502.1,89.0h0 M555.5,81.5h0 M506.0,93.5h0 M440.6,63.1h0 M445.4,78.4h0 M481.3,53.9h0 M481.8,38.5h0 M506.4,100.0h0 M483.4,32.6h0 M527.3,42.9h0 M547.4,61.0h0 M460.7,84.6h0 M522.7,51.5h0 M501.8,28.5h0 M536.1,67.2h0 M502.1,54.7h0 M547.6,82.0h0 M477.2,51.8h0 M520.4,69.6h0 M498.5,70.8h0 M468.7,37.3h0 M513.8,99.7h0 M480.1,79.3h0 M540.5,91.1h0 M503.5,60.3h0 M534.6,34.2h0 M548.7,76.4h0 M530.6,52.0h0 M489.4,100.1h0 M466.2,77.8h0 M480.8,43.5h0 M476.6,53.3h0 M523.4,102.2h0 M457.0,79.2h0 M554.1,89.0h0 M517.7,105.7h0 M548.2,42.1h0 M511.6,46.2h0 M527.1,32.4h0 M515.5,46.0h0 M489.5,60.2h0 M475.3,51.7h0 M488.1,60.6h0 M538.6,42.6h0 M506.5,61.7h0 M503.8,48.4h0 M502.1,99.5h0 M472.5,91.3h0 M551.7,62.1h0 M492.1,37.2h0 M444.9,61.3h0 M469.0,55.3h0 M506.3,56.4h0 M482.6,80.1h0 M491.4,77.2h0 M468.9,85.9h0 M463.6,83.0h0 M499.6,73.5h0 M507.7,47.0h0 M486.6,100.1h0 M543.8,57.9h0 M544.2,84.9h0 M501.6,87.0h0 M545.5,95.6h0 M497.1,82.4h0 M459.9,51.2h0 M539.8,57.5h0 M503.1,82.6h0 M506.7,34.0h0 M548.3,74.2h0 M529.1,80.9h0 M553.5,89.6h0 M477.6,104.6h0 M507.1,36.5h0 M479.3,61.2h0 M514.6,45.0h0 M465.6,83.8h0 M497.9,56.3h0 M513.4,54.0h0 M454.9,85.0h0 M479.4,64.0h0 M489.2,52.1h0 M505.4,61.0h0 M458.1,46.7h0 M521.9,48.2h0 M478.1,73.8h0 M537.5,36.0h0 M475.4,86.4h0 M518.2,35.3h0 M509.2,29.6h0 M499.5,84.5h0 M504.7,68.7h0 M509.1,92.7h0 M497.7,38.7h0 M490.9,37.1h0 M465.6,36.3h0 M463.4,56.6h0 M505.1,107.4h0 M509.0,93.4h0 M560.4,83.0h0 M515.7,40.9h0 M456.1,40.5h0 M549.8,40.5h0 M469.4,45.7h0 M525.5,103.3h0 M547.8,90.8h0 M553.3,90.4h0 M512.1,43.1h0 M550.7,75.6h0 M516.2,75.4h0 M494.3,83.7h0 M536.6,51.1h0 M552.0,94.4h0 M499.3,90.5h0 M509.1,89.0h0 M498.9,65.9h0 M508.1,75.5h0 M510.9,74.4h0 M501.6,83.9h0 M559.9,86.3h0 M537.8,54.0h0 M540.2,66.9h0 M500.8,41.1h0 M540.3,77.6h0 M546.9,91.6h0 M523.3,33.6h0 M521.3,79.1h0 M531.3,62.4h0 M506.3,70.7h0 M512.1,60.9h0 M525.6,104.2h0 M546.6,96.1h0 M547.3,55.6h0 M484.6,65.3h0 M490.2,55.6h0 M462.7,102.3h0 M485.2,57.7h0 M470.8,34.0h0 M522.8,44.9h0 M475.9,83.0h0 M490.8,99.2h0 M547.6,69.9h0 M520.4,90.3h0 M486.4,51.7h0 M528.8,54.4h0 M486.8,97.5h0 M525.2,85.5h0 M519.5,45.7h0 M540.1,37.1h0 M448.9,72.5h0 M526.4,75.2h0 M466.1,58.7h0 M514.9,59.0h0 M470.4,65.6h0 M496.0,87.1h0 M500.3,101.7h0 M495.1,94.6h0 M530.8,60.5h0 M517.1,96.4h0 M522.2,72.5h0 M481.6,70.4h0 M550.3,43.6h0 M476.2,73.6h0 M519.5,60.7h0 M473.8,69.0h0 M495.1,42.0h0 M532.0,67.7h0 M546.1,62.6h0 M542.3,71.4h0 M523.9,56.9h0 M508.7,82.4h0 M474.1,44.9h0 M542.7,63.6h0 M468.4,55.1h0 M465.3,34.9h0 M498.7,49.8h0 M501.5,46.5h0 M532.0,92.9h0 M506.6,99.9h0 M522.7,72.5h0 M536.0,88.8h0 M465.1,54.7h0 M559.5,59.1h0 M521.7,52.6h0 M503.2,45.1h0 M527.3,50.0h0 M472.1,36.5h0 M524.5,104.8h0 M543.9,74.1h0 M513.9,40.8h0 M539.9,97.2h0 M540.2,88.1h0 M550.9,46.5h0 M493.8,57.3h0 M501.4,95.5h0 M560.1,83.9h0 M533.7,88.8h0 M512.9,100.8h0 M466.2,60.4h0 M514.3,103.7h0 M506.6,107.4h0 M531.5,93.4h0 M514.0,93.0h0 M504.3,92.8h0 M515.1,32.2h0 M544.5,74.8h0 M524.6,50.7h0 M506.5,97.0h0 M487.7,48.7h0 M503.7,103.6h0 M538.5,77.4h0 M509.1,90.7h0 M508.4,85.4h0 M521.2,79.0h0 M485.6,59.4h0 M557.3,90.0h0 M471.2,35.5h0 M534.3,93.0h0 M520.3,76.0h0 M530.9,60.7h0 M561.4,72.6h0 M527.9,35.2h0 M537.5,66.3h0 M487.5,81.7h0 M500.8,86.5h0 M549.5,43.1h0 M494.8,40.1h0 M505.9,34.9h0 M513.0,100.7h0 M511.4,70.0h0 M498.9,108.2h0 M527.7,70.0h0 M490.5,31.6h0 M534.9,102.7h0 M534.2,67.7h0 M534.7,90.7h0 M510.5,92.8h0 M508.6,59.7h0 M476.9,69.2h0 M531.5,49.4h0 M483.8,63.0h0 M490.9,51.9h0 M492.1,100.8h0 M504.8,68.3h0 M558.8,85.3h0 M516.8,55.6h0 M490.9,100.0h0 M566.0,70.0h0 M531.0,100.8h0 M547.0,78.4h0 M492.9,43.6h0 M441.4,50.6h0 M468.4,90.2h0 M513.4,31.1h0 M530.9,97.7h0 M568.3,70.8h0 M526.4,33.4h0 M474.6,66.7h0 M478.6,48.4h0 M506.8,60.6h0 M442.3,80.8h0 M459.0,66.4h0 M525.1,53.8h0 M510.2,93.7h0 M509.7,48.8h0 M535.7,80.2h0 M490.6,49.5h0 M495.9,44.7h0 M481.4,104.3h0 M483.6,69.3h0 M538.9,49.5h0 M492.9,51.8h0 M548.9,88.6h0 M521.2,76.0h0 M468.5,63.3h0 M519.0,100.1h0 M517.4,87.4h0 M534.4,80.9h0 M505.8,86.3h0 M519.2,74.0h0 M494.8,74.3h0 M546.1,92.2h0 M513.9,84.1h0 M548.6,41.6h0 M486.9,96.2h0 M556.4,82.5h0 M544.5,80.9h0 M525.7,86.7h0 M468.4,88.1h0 M500.7,56.8h0 M488.1,106.9h0 M459.8,48.9h0 M472.4,71.2h0 M488.7,66.9h0 M491.8,49.5h0 M490.5,55.3h0 M514.6,59.6h0 M522.5,66.5h0 M485.0,34.8h0 M469.8,44.2h0 M485.5,38.9h0 M557.1,51.2h0 M504.9,53.8h0 M482.8,68.8h0 M531.7,52.0h0 M559.2,57.1h0 M487.9,90.0h0 M448.5,82.3h0 M490.1,30.9h0 M468.3,96.9h0 M556.1,90.4h0 M520.1,42.6h0 M536.1,82.9h0 M555.6,47.3h0 M469.7,42.3h0 M503.2,42.6h0 M519.5,31.5h0 M445.9,78.5h0 M522.8,70.8h0 M523.7,42.3h0 M499.3,29.5h0 M508.5,92.3h0 M529.6,48.3h0 M542.7,67.5h0 M490.0,71.1h0 M500.2,92.9h0 M490.5,44.3h0 M481.8,71.2h0 M542.3,76.2h0 M456.3,76.7h0 M472.6,52.4h0 M481.1,71.6h0 M502.2,98.4h0 M514.2,79.8h0 M504.5,44.4h0 M516.6,102.3h0 M502.5,104.8h0 M549.2,90.9h0 M530.5,77.0h0 M548.0,77.7h0 M490.1,105.0h0 M560.5,79.0h0 M515.7,32.5h0 M500.2,31.4h0 M566.7,77.0h0 M494.9,52.0h0 M486.1,55.8h0 M477.3,61.4h0 M548.4,51.9h0 M471.5,39.2h0 M477.5,83.0h0 M518.8,88.0h0 M490.5,31.3h0 M557.2,71.8h0 M509.0,53.2h0 M492.6,65.5h0 M462.7,51.1h0 M486.1,94.3h0 M509.9,37.5h0 M515.0,29.4h0 M517.0,30.2h0 M525.3,48.3h0 M506.9,106.4h0 M510.3,54.8h0 M527.7,50.7h0 M527.3,48.7h0 M475.1,67.6h0 M494.8,61.2h0 M495.0,56.7h0 M542.3,66.5h0 M499.9,52.9h0 M490.5,34.3h0 M466.7,70.0h0 M505.5,96.3h0 M481.0,32.7h0 M506.1,58.8h0 M507.1,50.8h0 M486.9,61.4h0 M557.9,55.6h0 M471.7,54.6h0 M528.7,49.5h0 M504.2,88.5h0 M555.2,56.9h0 M493.3,59.2h0 M509.9,82.6h0 M544.6,67.6h0 M531.1,43.9h0 M544.6,56.4h0 M526.5,90.2h0 M538.3,66.5h0 M480.4,98.3h0 M511.8,69.5h0 M478.7,106.5h0 M560.7,76.5h0 M496.8,100.3h0 M517.5,65.7h0 M464.3,38.1h0 M489.4,78.6h0 M536.2,87.4h0 M556.0,73.9h0 M503.0,60.1h0 M448.7,92.9h0 M538.4,84.3h0 M509.2,44.1h0 M469.7,57.1h0 M464.1,82.2h0 M497.6,38.7h0 M531.4,40.7h0 M554.1,70.6h0 M532.5,36.2h0 M510.9,48.6h0 M517.6,82.4h0 M511.5,61.3h0 M556.1,84.3h0 M450.5,62.3h0 M518.8,87.8h0 M507.1,84.3h0 M504.4,80.4h0 M552.9,90.6h0 M478.8,78.5h0 M478.7,70.0h0 M538.4,70.3h0 M519.8,36.5h0 M454.3,94.4h0 M528.1,50.1h0 M479.9,71.9h0 M489.7,93.1h0 M530.8,103.3h0 M468.3,94.4h0 M469.8,73.2h0 M556.4,49.1h0 M517.6,73.6h0 M509.9,34.1h0 M468.8,99.9h0 M483.5,68.2h0 M484.5,82.6h0 M560.1,85.2h0 M534.1,66.4h0 M563.2,77.6h0 M526.2,97.0h0 M490.7,29.9h0 M474.2,74.1h0 M531.9,78.8h0 M546.4,47.7h0 M512.7,54.2h0 M544.7,98.8h0 M480.5,32.0h0 M515.6,80.9h0 M483.9,77.1h0 M479.4,42.9h0 M489.9,82.9h0 M503.9,87.5h0 M521.1,60.7h0 M501.9,49.9h0 M539.6,84.9h0 M479.5,97.3h0 M507.9,77.7h0 M498.8,66.5h0 M467.3,46.8h0 M491.3,51.1h0 M464.1,83.5h0 M477.4,53.6h0 M461.1,78.8h0 M558.0,80.5h0 M485.3,77.4h0 M552.1,48.3h0 M533.4,88.2h0 M521.3,95.7h0 M472.0,98.2h0 M528.0,88.0h0 M561.2,78.0h0 M490.9,66.0h0 M530.9,42.9h0 M537.7,70.2h0 M523.3,101.7h0 M558.2,78.4h0 M476.2,40.2h0 M534.0,94.9h0 M505.7,42.2h0 M538.3,75.8h0 M510.2,74.7h0 M522.4,45.8h0 M450.5,41.3h0 M523.9,64.0h0 M487.8,44.1h0 M506.7,102.4h0 M519.7,86.5h0 M491.9,43.8h0 M492.7,41.4h0 M500.9,48.1h0 M483.9,30.9h0 M544.0,86.8h0 M529.3,81.7h0 M536.3,69.5h0 M552.3,74.8h0 M533.1,79.4h0 M468.5,52.0h0 M514.0,78.7h0 M547.3,55.7h0 M501.7,59.9h0 M548.1,96.7h0 M551.2,85.6h0 M490.6,46.0h0 M523.2,46.4h0 M472.5,51.6h0 M481.9,43.5h0 M502.8,107.5h0 M473.1,45.1h0 M488.7,95.2h0 M478.7,35.9h0 M533.6,102.1h0 M529.1,72.6h0 M490.9,28.8h0 M509.3,106.0h0 M478.3,66.4h0 M479.1,95.9h0 M511.6,99.0h0 M461.4,90.9h0 M508.3,67.1h0 M469.7,34.7h0 M483.3,39.8h0 M463.0,45.7h0 M517.0,78.6h0 M559.4,62.3h0 M524.6,39.5h0 M519.0,31.8h0 M527.5,92.3h0 M491.4,104.2h0 M546.1,84.2h0 M475.6,53.5h0 M473.6,52.3h0 M480.8,87.5h0 M462.4,52.1h0 M468.4,94.5h0 M505.7,56.5h0 M499.2,53.8h0 M524.4,52.3h0 M512.7,96.5h0 M492.9,99.7h0 M460.2,48.3h0 M507.0,86.4h0 M497.0,73.0h0 M484.0,64.6h0 M484.8,32.8h0 M498.8,40.4h0 M559.7,75.4h0 M477.6,43.7h0 M479.8,81.5h0 M481.5,41.4h0 M523.4,73.2h0 M495.0,64.5h0 M514.9,31.8h0 M567.8,62.0h0 M495.2,31.2h0 M491.6,81.4h0 M470.7,41.8h0 M477.8,88.0h0 M524.2,94.9h0 M477.7,48.6h0 M535.5,55.8h0 M543.8,67.8h0 M558.2,71.0h0 M472.4,71.9h0 M520.3,95.4h0 M532.5,67.2h0 M483.7,76.3h0 M464.9,75.7h0 M461.8,44.7h0 M509.1,30.4h0 M508.8,83.0h0 M536.7,49.5h0 M511.7,33.8h0 M505.7,71.3h0 M471.6,59.2h0 M494.9,57.6h0 M517.9,58.3h0 M532.0,68.0h0 M531.1,57.0h0 M529.4,96.2h0 M547.0,75.9h0 M483.5,106.3h0 M558.4,89.1h0 M522.6,79.3h0 M477.0,75.9h0 M559.1,62.2h0 M544.0,66.8h0 M557.5,80.9h0 M449.5,75.6h0 M556.5,77.5h0 M514.0,106.3h0 M489.5,98.5h0 M468.4,51.9h0 M472.8,56.3h0 M538.7,38.1h0 M519.1,82.3h0 M552.5,92.3h0 M510.4,64.5h0 M534.2,37.3h0 M542.7,73.8h0 M497.2,62.9h0 M526.0,36.0h0 M513.8,51.7h0 M469.8,74.6h0 M447.9,51.4h0 M535.4,92.1h0 M488.5,51.0h0 M518.1,98.1h0 M522.7,81.9h0 M509.5,90.0h0 M492.4,61.7h0 M522.2,101.5h0 M504.5,87.5h0 M510.7,78.4h0 M479.5,103.9h0 M501.5,83.9h0 M530.0,43.4h0 M519.2,35.8h0 M485.3,97.5h0 M547.0,91.6h0 M484.7,65.1h0 M558.2,49.7h0 M550.9,83.0h0 M498.0,49.0h0 M491.7,99.3h0 M531.9,54.4h0 M484.8,63.4h0 M522.1,49.0h0 M495.7,65.1h0 M511.7,107.3h0 M513.9,97.9h0 M522.3,60.5h0 M503.4,29.8h0 M503.3,51.7h0 M478.4,70.3h0 M542.0,52.9h0 M501.6,34.6h0 M553.9,48.0h0 M517.6,100.5h0 M529.3,61.8h0 M549.3,66.0h0 M479.7,79.6h0 M529.9,40.7h0 M503.0,59.5h0 M515.1,51.4h0 M540.8,39.6h0 M479.1,81.6h0 M494.2,60.1h0 M519.7,101.0h0 M511.5,72.6h0 M511.1,29.3h0 M553.0,79.5h0 M540.5,72.1h0 M517.5,92.7h0 M544.6,46.2h0 M545.3,79.4h0 M483.4,57.1h0 M554.4,65.7h0 M539.5,52.6h0 M510.9,38.5h0 M502.4,41.6h0 M563.6,63.8h0 M550.0,62.1h0 M489.6,72.6h0 M476.1,30.6h0 M562.8,62.1h0 M512.8,104.6h0 M486.4,51.1h0 M480.9,56.0h0 M565.0,59.4h0 M511.3,32.6h0 M466.4,94.1h0 M541.7,52.0h0 M531.1,39.3h0 M457.0,41.2h0 M490.3,102.7h0 M537.9,72.5h0 M522.9,86.0h0 M502.1,86.7h0 M558.0,58.1h0 M543.0,93.2h0 M500.2,62.8h0 M485.3,94.7h0 M534.8,51.1h0 M543.7,54.3h0 M486.8,95.2h0 M504.1,47.3h0 M537.2,99.3h0 M556.3,86.1h0 M518.7,70.0h0 M490.2,30.0h0 M499.3,38.5h0 M497.4,74.2h0 M481.9,38.3h0 M539.7,72.0h0 M498.3,39.7h0 M527.9,87.4h0 M489.6,28.5h0 M488.7,56.8h0 M476.1,50.1h0 M515.6,45.3h0 M465.2,99.8h0 M485.1,56.2h0 M447.5,93.5h0 M454.2,40.7h0 M501.9,30.7h0 M455.3,80.4h0 M514.0,37.9h0 M517.6,80.6h0 M528.8,74.3h0 M516.1,69.0h0 M504.3,56.9h0 M558.1,64.2h0 M515.0,48.7h0 M499.1,56.4h0 M495.9,82.9h0 M446.7,66.4h0 M460.5,100.8h0 M472.8,62.1h0 M485.6,84.0h0 M535.4,38.0h0 M559.5,53.6h0 M470.0,54.5h0 M554.4,66.4h0 M534.7,46.7h0 M527.6,41.0h0 M500.4,77.9h0 M517.8,38.2h0 M519.2,68.9h0 M481.5,47.7h0 M491.9,59.3h0 M543.8,38.6h0 M465.5,46.6h0 M472.7,38.7h0 M498.2,36.9h0 M555.5,53.9h0 M480.9,103.8h0 M480.7,39.8h0 M495.5,82.3h0 M499.5,57.3h0 M485.3,39.5h0 M516.5,52.0h0 M530.6,43.7h0 M492.0,76.3h0 M491.7,37.6h0 M524.4,70.7h0 M559.1,58.9h0 M544.6,72.3h0 M474.5,103.7h0 M536.1,47.7h0 M490.3,30.2h0 M492.5,89.4h0 M506.3,53.7h0 M471.8,41.9h0 M545.6,66.4h0 M554.7,49.4h0 M481.5,39.4h0 M450.0,96.3h0 M488.5,99.9h0 M476.1,60.2h0 M527.0,79.3h0 M542.8,53.2h0 M516.0,30.2h0 M529.7,85.0h0 M549.1,65.8h0 M555.0,65.5h0 M525.2,56.1h0 M494.6,69.1h0 M520.0,73.7h0 M468.3,45.5h0 M507.8,31.3h0 M537.5,66.4h0 M507.6,64.9h0 M523.8,53.4h0 M554.4,86.6h0 M553.6,64.3h0 M552.1,46.2h0 M538.6,70.7h0 M506.3,35.8h0 M478.7,62.2h0 M548.5,96.9h0 M535.4,65.8h0 M456.5,92.3h0 M528.7,92.7h0 M507.9,40.5h0 M548.2,86.7h0 M528.2,79.6h0 M529.2,98.8h0 M463.4,53.1h0 M553.8,76.2h0 M519.4,91.9h0 M487.2,99.4h0 M485.9,90.8h0 M503.8,98.9h0 M509.4,89.3h0 M511.6,93.6h0 M503.7,34.4h0 M443.8,43.0h0 M524.5,33.3h0 M545.0,58.3h0 M529.2,62.3h0 M511.8,38.6h0 M522.2,81.8h0 M501.2,28.2h0 M560.2,61.8h0 M541.7,76.5h0 M551.5,86.1h0 M544.1,85.4h0 M521.2,30.3h0 M509.0,35.9h0 M468.2,54.8h0 M556.0,68.1h0 M511.2,86.1h0 M548.4,41.7h0 M488.0,106.2h0 M552.0,52.4h0 M511.0,46.6h0 M543.1,58.5h0 M532.9,34.8h0 M531.6,47.7h0 M474.5,96.5h0 M541.9,40.6h0 M457.6,47.6h0 M524.4,105.1h0 M509.1,94.8h0 M467.4,100.4h0 M493.6,86.7h0 M503.8,69.1h0 M547.4,88.9h0 M517.5,53.4h0 M479.9,32.7h0 M449.6,68.9h0 M489.8,39.9h0 M496.2,32.2h0 M546.8,69.8h0 M483.2,67.3h0 M540.1,69.6h0 M481.9,69.8h0 M548.3,56.4h0 M556.7,65.9h0 M505.4,85.1h0 M476.8,82.9h0 M538.8,62.1h0 M491.5,94.7h0 M519.1,61.2h0 M478.1,63.3h0 M520.4,47.4h0 M475.5,80.9h0 M471.3,65.5h0 M473.2,92.5h0 M477.5,33.0h0 M474.5,53.8h0 M485.3,36.1h0 M465.0,41.5h0 M489.4,86.9h0 M468.7,72.6h0 M521.9,82.2h0 M515.3,77.7h0 M561.5,78.1h0 M525.7,94.0h0 M518.6,61.4h0 M481.0,35.3h0 M467.3,96.0h0 M501.7,96.9h0 M494.0,61.7h0 M504.6,95.1h0 M467.8,46.9h0 M551.6,87.5h0 M469.7,52.4h0 M449.5,74.6h0 M534.4,57.6h0 M503.8,47.2h0 M507.7,91.7h0 M531.1,65.9h0 M490.0,54.9h0 M519.3,90.8h0 M556.6,66.4h0 M548.6,59.9h0 M472.9,87.1h0 M521.8,40.6h0 M525.1,87.4h0 M508.9,105.4h0 M511.9,46.2h0 M534.7,35.0h0 M521.5,32.7h0 M473.0,102.6h0 M520.3,78.9h0 M545.7,91.5h0 M512.8,103.3h0 M475.0,98.5h0 M559.3,69.2h0 M519.6,49.0h0 M499.8,64.2h0 M501.0,35.6h0 M479.3,48.0h0 M545.9,53.6h0 M533.7,78.4h0 M504.5,107.5h0 M474.1,69.4h0 M546.9,43.9h0 M498.4,46.4h0 M488.4,41.8h0 M541.9,97.2h0 M462.2,48.5h0 M481.5,48.4h0 M451.5,45.5h0 M524.5,77.2h0 M543.7,73.3h0 M502.6,51.5h0 M529.4,48.3h0 M479.3,49.5h0 M485.4,62.6h0 M483.3,72.3h0 M455.7,96.0h0 M553.1,49.2h0 M499.8,88.7h0 M494.5,77.5h0 M538.3,86.8h0 M502.4,68.4h0 M529.5,75.8h0 M472.0,85.8h0 M540.4,39.7h0 M509.9,73.7h0 M536.6,57.8h0 M549.1,91.7h0 M491.6,80.9h0 M521.1,72.0h0 M480.0,70.4h0 M505.4,103.1h0 M498.5,45.8h0 M506.4,64.6h0 M502.2,46.9h0 M481.5,78.2h0 M446.8,72.0h0 M449.3,94.7h0 M490.6,61.3h0 M512.8,37.6h0 M528.6,73.7h0 M504.5,43.9h0 M529.4,65.7h0 M557.7,59.2h0 M531.8,58.9h0 M495.3,54.3h0 M500.5,43.4h0 M491.5,70.2h0 M556.8,54.2h0 M488.5,45.0h0 M471.6,96.1h0 M480.7,46.6h0 M489.9,89.5h0 M502.4,32.2h0 M451.3,89.4h0 M470.2,96.0h0 M543.7,71.0h0 M520.0,102.3h0 M490.2,101.6h0 M528.4,43.6h0 M501.7,37.1h0 M536.6,39.9h0 M516.1,36.6h0 M514.2,39.3h0 M537.2,75.5h0 M494.2,35.4h0 M543.0,79.7h0 M530.8,84.6h0 M454.4,88.2h0 M518.2,36.6h0 M500.9,40.1h0 M505.4,31.9h0 M538.7,59.3h0 M465.8,50.4h0 M542.9,50.9h0 M550.9,85.9h0 M493.4,108.5h0 M523.0,40.8h0 M502.4,83.6h0 M519.7,89.5h0 M511.0,65.3h0 M529.5,84.5h0 M487.7,102.7h0 M518.5,59.5h0 M505.9,44.7h0 M480.4,105.2h0 M456.4,63.4h0 M503.4,83.9h0 M523.4,95.7h0 M504.5,83.2h0 M492.7,77.2h0 M471.4,39.7h0 M486.0,37.7h0 M468.8,69.7h0 M531.6,64.5h0 M501.0,99.6h0 M456.0,88.9h0 M495.8,63.7h0 M553.3,91.5h0 M510.5,32.9h0 M518.8,29.9h0 M517.2,46.8h0 M480.9,96.9h0 M520.4,83.5h0 M478.4,55.9h0 M505.0,91.7h0 M526.4,42.7h0 M527.2,40.9h0 M496.4,108.0h0 M529.3,39.1h0 M481.5,91.7h0 M522.7,47.7h0 M484.0,103.8h0 M551.9,48.2h0 M539.2,72.9h0 M498.8,48.9h0 M522.1,104.1h0 M523.0,51.3h0 M555.8,48.5h0 M498.8,104.4h0 M534.8,77.7h0 M494.3,64.6h0 M497.7,58.7h0 M485.7,103.0h0 M480.2,32.3h0 M536.0,90.3h0 M535.0,58.8h0 M536.3,77.5h0 M545.3,62.8h0 M485.2,93.6h0 M544.3,49.6h0 M561.3,60.1h0 M529.4,89.0h0 M545.5,65.3h0 M535.4,51.9h0 M485.1,74.0h0 M541.7,66.1h0 M545.3,87.8h0 M533.4,81.1h0 M526.2,38.8h0 M532.5,61.6h0 M517.5,103.1h0 M489.9,101.2h0 M522.8,45.4h0 M497.5,72.2h0 M508.8,102.5h0 M554.1,89.1h0 M480.7,39.2h0 M527.5,61.8h0 M485.5,97.3h0 M516.4,39.3h0 M503.2,82.7h0 M513.4,104.2h0 M500.1,70.5h0 M472.6,85.8h0 M559.1,62.0h0 M558.5,65.3h0 M480.1,36.8h0 M508.9,62.9h0 M503.8,56.9h0 M490.1,105.0h0 M490.5,87.7h0 M471.9,59.1h0 M545.3,69.7h0 M472.2,81.5h0 M522.5,67.5h0 M500.7,90.3h0 M533.8,87.7h0 M568.0,67.0h0 M505.4,77.3h0 M485.7,53.0h0 M535.7,82.6h0 M531.0,85.4h0 M497.6,82.4h0 M489.7,78.1h0 M480.8,54.7h0 M560.9,72.0h0 M502.7,87.1h0 M507.0,103.9h0 M520.8,98.6h0 M542.9,60.6h0 M482.5,73.4h0 M494.0,89.2h0 M546.7,42.9h0 M541.8,52.9h0 M477.8,44.4h0 M539.4,99.1h0 M521.2,60.8h0 M551.4,84.8h0 M565.4,66.5h0 M508.4,34.7h0 M482.6,103.1h0 M517.6,76.1h0 M484.5,64.5h0 M519.6,44.3h0 M484.6,47.3h0 M453.6,93.8h0 M488.8,32.6h0 M525.2,91.3h0 M516.5,63.7h0 M463.8,47.4h0 M512.6,83.3h0 M511.0,91.2h0 M505.5,39.0h0 M532.9,103.0h0" stroke="#466a6a" stroke-width="2.30" stroke-linecap="round" fill="none" opacity="0.50"/>
<circle cx="403.2" cy="68.4" r="47.4" fill="none" stroke="#40e0d0" stroke-width="2.3"/>
<path d="M393.20,68.40 L393.23,66.80 L393.34,65.21 L393.51,63.61 L393.76,62.03 L394.07,60.46 L394.45,58.89 L394.91,57.34 L395.42,55.81 L396.01,54.29 L396.66,52.80 L397.38,51.32 L398.16,49.87 L399.01,48.44 L399.92,47.04 L400.89,45.66 L401.92,44.32 L403.01,43.00 L404.16,41.71 L405.36,40.45 L406.62,39.22 L407.93,38.02 L409.30,36.86 L410.71,35.74 L412.17,34.64 L413.68,33.59 L415.23,32.57 L416.83,31.59 L418.46,30.65 L420.14,29.75 L421.85,28.89 L423.59,28.08 L425.37,27.31 L427.18,26.60 L429.01,25.93 L430.87,25.31 L432.75,24.75 L434.66,24.24 L436.58,23.80 L438.52,23.41 L440.47,23.09 L442.43,22.83 L444.40,22.64 L446.38,22.51 L448.36,22.46 L450.34,22.48 L452.32,22.57 L454.30,22.74 L456.27,22.98 L458.23,23.29 L460.18,23.68 L462.12,24.15 L464.04,24.68 L465.95,25.29 L467.83,25.97 L469.69,26.72 L471.52,27.54 L473.33,28.42 L475.11,29.36 L476.85,30.36 L478.56,31.41 L480.24,32.51 L481.87,33.65 L483.47,34.84 L485.02,36.06 L486.53,37.31 L487.99,38.60 L489.40,39.90 L490.77,41.22 L492.08,42.56 L493.34,43.91 L494.54,45.26 L495.69,46.62 L496.78,47.97 L497.81,49.32 L498.78,50.67 L499.69,52.01 L500.54,53.34 L501.32,54.65 L502.04,55.96 L502.69,57.25 L503.28,58.53 L503.79,59.79 L504.25,61.05 L504.63,62.29 L504.94,63.52 L505.19,64.75 L505.36,65.97 L505.47,67.19 L505.50,68.40 L505.47,69.61 L505.36,70.83 L505.19,72.05 L504.94,73.28 L504.63,74.51 L504.25,75.75 L503.79,77.01 L503.28,78.27 L502.69,79.55 L502.04,80.84 L501.32,82.15 L500.54,83.46 L499.69,84.79 L498.78,86.13 L497.81,87.48 L496.78,88.83 L495.69,90.18 L494.54,91.54 L493.34,92.89 L492.08,94.24 L490.77,95.58 L489.40,96.90 L487.99,98.20 L486.53,99.49 L485.02,100.74 L483.47,101.96 L481.87,103.15 L480.24,104.29 L478.56,105.39 L476.85,106.44 L475.11,107.44 L473.33,108.38 L471.52,109.26 L469.69,110.08 L467.83,110.83 L465.95,111.51 L464.04,112.12 L462.12,112.65 L460.18,113.12 L458.23,113.51 L456.27,113.82 L454.30,114.06 L452.32,114.23 L450.34,114.32 L448.36,114.34 L446.38,114.29 L444.40,114.16 L442.43,113.97 L440.47,113.71 L438.52,113.39 L436.58,113.00 L434.66,112.56 L432.75,112.05 L430.87,111.49 L429.01,110.87 L427.18,110.20 L425.37,109.49 L423.59,108.72 L421.85,107.91 L420.14,107.05 L418.46,106.15 L416.83,105.21 L415.23,104.23 L413.68,103.21 L412.17,102.16 L410.71,101.06 L409.30,99.94 L407.93,98.78 L406.62,97.58 L405.36,96.35 L404.16,95.09 L403.01,93.80 L401.92,92.48 L400.89,91.14 L399.92,89.76 L399.01,88.36 L398.16,86.93 L397.38,85.48 L396.66,84.00 L396.01,82.51 L395.42,80.99 L394.91,79.46 L394.45,77.91 L394.07,76.34 L393.76,74.77 L393.51,73.19 L393.34,71.59 L393.23,70.00Z" fill="none" stroke="#008b8b" stroke-width="2.50" stroke-linejoin="round" />
<path d="M403.20,68.40 L403.25,68.40 L403.41,68.39 L403.66,68.37 L404.03,68.32 L404.49,68.23 L405.05,68.07 L405.72,67.84 L406.49,67.53 L407.35,67.10 L408.32,66.57 L409.38,65.92 L410.54,65.15 L411.79,64.25 L413.13,63.24 L414.57,62.12 L416.09,60.90 L417.70,59.60 L419.40,58.22 L421.18,56.79 L423.04,55.32 L424.98,53.83 L426.99,52.32 L429.08,50.82 L431.25,49.34 L433.47,47.88 L435.77,46.46 L438.13,45.07 L440.55,43.72 L443.02,42.42 L445.55,41.16 L448.13,39.95 L450.75,38.79 L453.43,37.67 L456.14,36.59 L458.89,35.56 L461.67,34.58 L464.48,33.65 L467.32,32.77 L470.19,31.95 L473.07,31.20 L475.97,30.52 L478.89,29.91 L481.81,29.38 L484.74,28.93 L487.66,28.57 L490.59,28.30 L493.51,28.11 L496.43,28.01 L499.33,27.99 L502.21,28.05 L505.08,28.18 L507.92,28.38 L510.73,28.63 L513.51,28.95 L516.26,29.31 L518.97,29.72 L521.65,30.17 L524.27,30.66 L526.85,31.20 L529.38,31.78 L531.85,32.40 L534.27,33.08 L536.63,33.82 L538.93,34.63 L541.15,35.51 L543.32,36.46 L545.41,37.50 L547.42,38.62 L549.36,39.82 L551.22,41.11 L553.00,42.48 L554.70,43.92 L556.31,45.41 L557.83,46.96 L559.27,48.54 L560.61,50.15 L561.86,51.76 L563.02,53.37 L564.08,54.95 L565.05,56.50 L565.91,58.01 L566.68,59.47 L567.35,60.88 L567.91,62.23 L568.37,63.54 L568.74,64.79 L568.99,66.02 L569.15,67.22 L569.20,68.40 L569.15,69.58 L568.99,70.78 L568.74,72.01 L568.37,73.26 L567.91,74.57 L567.35,75.92 L566.68,77.33 L565.91,78.79 L565.05,80.30 L564.08,81.85 L563.02,83.43 L561.86,85.04 L560.61,86.65 L559.27,88.26 L557.83,89.84 L556.31,91.39 L554.70,92.88 L553.00,94.32 L551.22,95.69 L549.36,96.98 L547.42,98.18 L545.41,99.30 L543.32,100.34 L541.15,101.29 L538.93,102.17 L536.63,102.98 L534.27,103.72 L531.85,104.40 L529.38,105.02 L526.85,105.60 L524.27,106.14 L521.65,106.63 L518.97,107.08 L516.26,107.49 L513.51,107.85 L510.73,108.17 L507.92,108.42 L505.08,108.62 L502.21,108.75 L499.33,108.81 L496.43,108.79 L493.51,108.69 L490.59,108.50 L487.66,108.23 L484.74,107.87 L481.81,107.42 L478.89,106.89 L475.97,106.28 L473.07,105.60 L470.19,104.85 L467.32,104.03 L464.48,103.15 L461.67,102.22 L458.89,101.24 L456.14,100.21 L453.43,99.13 L450.75,98.01 L448.13,96.85 L445.55,95.64 L443.02,94.38 L440.55,93.08 L438.13,91.73 L435.77,90.34 L433.47,88.92 L431.25,87.46 L429.08,85.98 L426.99,84.48 L424.98,82.97 L423.04,81.48 L421.18,80.01 L419.40,78.58 L417.70,77.20 L416.09,75.90 L414.57,74.68 L413.13,73.56 L411.79,72.55 L410.54,71.65 L409.38,70.88 L408.32,70.23 L407.35,69.70 L406.49,69.27 L405.72,68.96 L405.05,68.73 L404.49,68.57 L404.03,68.48 L403.66,68.43 L403.41,68.41 L403.25,68.40Z" fill="none" stroke="#2f4f4f" stroke-width="2.50" stroke-linejoin="round" />
<path d="M326,68.4 H583" stroke="#111" stroke-width="1.6" stroke-dasharray="4.4,2.5"/>
<path d="M403.2,68.4 V116.3" stroke="#111" stroke-width="1.6" stroke-dasharray="4.4,2.5"/>
<path d="M450.9,69.4 V116.3" stroke="#40e0d0" stroke-width="1.8" stroke-dasharray="1.6,2.8"/>
<path d="M505.3,69.4 V116.3" stroke="#008b8b" stroke-width="1.8" stroke-dasharray="1.6,2.8"/>
<path d="M569.0,69.4 V116.3" stroke="#2f4f4f" stroke-width="1.8" stroke-dasharray="1.6,2.8"/>
<text x="397.50" y="123.00" font-size="9.50" fill="#111" stroke="#111" stroke-width="0.12" text-anchor="middle" >0</text>
<text x="453.60" y="123.00" font-size="9.50" fill="#111" stroke="#111" stroke-width="0.12" text-anchor="middle" textLength="21.5" lengthAdjust="spacingAndGlyphs" >1.58</text>
<text x="507.90" y="123.00" font-size="9.50" fill="#111" stroke="#111" stroke-width="0.12" text-anchor="middle" textLength="21.9" lengthAdjust="spacingAndGlyphs" >3.36</text>
<text x="570.60" y="123.00" font-size="9.50" fill="#111" stroke="#111" stroke-width="0.12" text-anchor="middle" textLength="21.4" lengthAdjust="spacingAndGlyphs" >5.45</text>
<text x="388.30" y="13.60" font-size="12.50" fill="#40e0d0" stroke="#40e0d0" stroke-width="0.12" text-anchor="start" textLength="29.3" lengthAdjust="spacingAndGlyphs" ><tspan font-style="italic">c</tspan> = 0</text>
<text x="445.60" y="13.60" font-size="12.50" fill="#008b8b" stroke="#008b8b" stroke-width="0.12" text-anchor="start" textLength="19.3" lengthAdjust="spacingAndGlyphs" >0.5</text>
<text x="499.20" y="13.60" font-size="12.50" fill="#2f4f4f" stroke="#2f4f4f" stroke-width="0.12" text-anchor="start" textLength="5.9" lengthAdjust="spacingAndGlyphs" >1</text>
<text x="346.30" y="138.00" font-size="12.50" fill="#111" stroke="#111" stroke-width="0.12" text-anchor="start" textLength="120.7" lengthAdjust="spacingAndGlyphs" ><tspan font-style="italic">&#945;</tspan> = 1.5, <tspan font-style="italic">d</tspan> = 1, <tspan font-style="italic">&#947;</tspan> = 1</text>
<defs><radialGradient id="gsq" cx="403" cy="217" r="48" gradientUnits="userSpaceOnUse"><stop offset="0" stop-color="#483d8b" stop-opacity="0.95"/><stop offset="0.35" stop-color="#483d8b" stop-opacity="0.6"/><stop offset="1" stop-color="#483d8b" stop-opacity="0.35"/></radialGradient></defs>
<path d="M446.20,216.80 L446.17,216.13 L446.13,215.45 L446.07,214.78 L446.01,214.11 L445.93,213.44 L445.84,212.77 L445.74,212.11 L445.62,211.44 L445.49,210.78 L445.35,210.13 L445.20,209.47 L445.03,208.82 L444.86,208.18 L444.67,207.53 L444.47,206.90 L444.25,206.26 L444.03,205.63 L443.80,205.01 L443.55,204.39 L443.30,203.77 L443.03,203.16 L442.76,202.55 L442.48,201.95 L442.19,201.35 L441.89,200.76 L441.59,200.18 L441.27,199.59 L440.95,199.02 L440.62,198.44 L440.28,197.88 L439.93,197.32 L439.57,196.76 L439.20,196.22 L438.82,195.67 L438.43,195.14 L438.04,194.61 L437.64,194.09 L437.23,193.58 L436.81,193.07 L436.38,192.57 L435.94,192.08 L435.49,191.59 L435.04,191.12 L434.58,190.65 L434.11,190.19 L433.64,189.74 L433.15,189.29 L432.66,188.86 L432.16,188.43 L431.65,188.01 L431.14,187.61 L430.62,187.21 L430.09,186.82 L429.56,186.44 L429.02,186.07 L428.47,185.71 L427.92,185.36 L427.36,185.01 L426.80,184.68 L426.23,184.36 L425.66,184.05 L425.08,183.74 L424.49,183.45 L423.91,183.16 L423.31,182.89 L422.72,182.62 L422.12,182.37 L421.51,182.12 L420.90,181.88 L420.29,181.66 L419.68,181.44 L419.06,181.22 L418.44,181.01 L417.82,180.81 L417.20,180.61 L416.57,180.42 L415.94,180.24 L415.31,180.07 L414.67,179.90 L414.03,179.75 L413.39,179.60 L412.75,179.47 L412.10,179.35 L411.45,179.24 L410.79,179.15 L410.14,179.07 L409.48,179.00 L408.82,178.95 L408.16,178.92 L407.50,178.90 L406.84,178.90 L406.18,178.91 L405.52,178.93 L404.85,178.96 L404.19,179.00 L403.53,179.06 L402.87,179.13 L402.22,179.21 L401.56,179.30 L400.91,179.40 L400.25,179.52 L399.60,179.65 L398.95,179.79 L398.31,179.94 L397.67,180.10 L397.03,180.28 L396.39,180.46 L395.76,180.66 L395.13,180.87 L394.50,181.09 L393.88,181.33 L393.27,181.58 L392.66,181.85 L392.06,182.12 L391.47,182.42 L390.88,182.72 L390.30,183.03 L389.72,183.36 L389.15,183.70 L388.59,184.05 L388.03,184.40 L387.49,184.77 L386.95,185.15 L386.41,185.54 L385.89,185.93 L385.37,186.34 L384.86,186.75 L384.36,187.18 L383.87,187.62 L383.39,188.06 L382.91,188.52 L382.45,188.98 L382.00,189.46 L381.56,189.94 L381.14,190.44 L380.72,190.94 L380.32,191.45 L379.93,191.97 L379.55,192.50 L379.19,193.04 L378.85,193.60 L378.55,194.18 L378.27,194.77 L378.01,195.38 L377.78,195.99 L377.58,196.62 L377.39,197.25 L377.22,197.88 L377.07,198.51 L376.93,199.15 L376.80,199.78 L376.68,200.41 L376.57,201.04 L376.45,201.66 L376.34,202.27 L376.23,202.88 L376.12,203.48 L376.02,204.08 L375.92,204.68 L375.84,205.28 L375.77,205.87 L375.70,206.47 L375.64,207.06 L375.59,207.65 L375.55,208.24 L375.51,208.82 L375.48,209.41 L375.45,209.99 L375.42,210.56 L375.40,211.14 L375.38,211.71 L375.37,212.28 L375.36,212.85 L375.37,213.42 L375.37,213.99 L375.39,214.55 L375.41,215.12 L375.44,215.68 L375.47,216.24 L375.50,216.80 L375.47,217.36 L375.44,217.92 L375.41,218.48 L375.39,219.05 L375.37,219.61 L375.37,220.18 L375.36,220.75 L375.37,221.32 L375.38,221.89 L375.40,222.46 L375.42,223.04 L375.45,223.61 L375.48,224.19 L375.51,224.78 L375.55,225.36 L375.59,225.95 L375.64,226.54 L375.70,227.13 L375.77,227.73 L375.84,228.32 L375.92,228.92 L376.02,229.52 L376.12,230.12 L376.23,230.72 L376.34,231.33 L376.45,231.94 L376.57,232.56 L376.68,233.19 L376.80,233.82 L376.93,234.45 L377.07,235.09 L377.22,235.72 L377.39,236.35 L377.58,236.98 L377.78,237.61 L378.01,238.22 L378.27,238.83 L378.55,239.42 L378.85,240.00 L379.19,240.56 L379.55,241.10 L379.93,241.63 L380.32,242.15 L380.72,242.66 L381.14,243.16 L381.56,243.66 L382.00,244.14 L382.45,244.62 L382.91,245.08 L383.39,245.54 L383.87,245.98 L384.36,246.42 L384.86,246.85 L385.37,247.26 L385.89,247.67 L386.41,248.06 L386.95,248.45 L387.49,248.83 L388.03,249.20 L388.59,249.55 L389.15,249.90 L389.72,250.24 L390.30,250.57 L390.88,250.88 L391.47,251.18 L392.06,251.48 L392.66,251.75 L393.27,252.02 L393.88,252.27 L394.50,252.51 L395.13,252.73 L395.76,252.94 L396.39,253.14 L397.03,253.32 L397.67,253.50 L398.31,253.66 L398.95,253.81 L399.60,253.95 L400.25,254.08 L400.91,254.20 L401.56,254.30 L402.22,254.39 L402.87,254.47 L403.53,254.54 L404.19,254.60 L404.85,254.64 L405.52,254.67 L406.18,254.69 L406.84,254.70 L407.50,254.70 L408.16,254.68 L408.82,254.65 L409.48,254.60 L410.14,254.53 L410.79,254.45 L411.45,254.36 L412.10,254.25 L412.75,254.13 L413.39,254.00 L414.03,253.85 L414.67,253.70 L415.31,253.53 L415.94,253.36 L416.57,253.18 L417.20,252.99 L417.82,252.79 L418.44,252.59 L419.06,252.38 L419.68,252.16 L420.29,251.94 L420.90,251.72 L421.51,251.48 L422.12,251.23 L422.72,250.98 L423.31,250.71 L423.91,250.44 L424.49,250.15 L425.08,249.86 L425.66,249.55 L426.23,249.24 L426.80,248.92 L427.36,248.59 L427.92,248.24 L428.47,247.89 L429.02,247.53 L429.56,247.16 L430.09,246.78 L430.62,246.39 L431.14,245.99 L431.65,245.59 L432.16,245.17 L432.66,244.74 L433.15,244.31 L433.64,243.86 L434.11,243.41 L434.58,242.95 L435.04,242.48 L435.49,242.01 L435.94,241.52 L436.38,241.03 L436.81,240.53 L437.23,240.02 L437.64,239.51 L438.04,238.99 L438.43,238.46 L438.82,237.93 L439.20,237.38 L439.57,236.84 L439.93,236.28 L440.28,235.72 L440.62,235.16 L440.95,234.58 L441.27,234.01 L441.59,233.42 L441.89,232.84 L442.19,232.25 L442.48,231.65 L442.76,231.05 L443.03,230.44 L443.30,229.83 L443.55,229.21 L443.80,228.59 L444.03,227.97 L444.25,227.34 L444.47,226.70 L444.67,226.07 L444.86,225.42 L445.03,224.78 L445.20,224.13 L445.35,223.47 L445.49,222.82 L445.62,222.16 L445.74,221.49 L445.84,220.83 L445.93,220.16 L446.01,219.49 L446.07,218.82 L446.13,218.15 L446.17,217.47Z" fill="url(#gsq)"/>
<path d="M393.0,241.9h0 M400.2,220.0h0 M397.4,212.2h0 M391.3,215.1h0 M427.1,221.0h0 M381.2,206.4h0 M389.0,225.5h0 M391.7,195.4h0 M378.7,207.2h0 M390.8,213.9h0 M407.2,248.9h0 M440.3,207.8h0 M433.7,242.8h0 M429.5,207.8h0 M408.8,207.1h0 M403.3,237.2h0 M386.4,202.4h0 M388.2,186.6h0 M387.3,216.9h0 M379.4,219.6h0 M439.5,234.6h0 M396.0,220.0h0 M418.0,235.4h0 M395.0,246.2h0 M393.8,187.5h0 M405.3,206.3h0 M379.6,230.6h0 M428.1,246.4h0 M429.6,195.4h0 M406.0,241.7h0 M383.7,193.7h0 M393.5,205.0h0 M413.9,221.6h0 M395.0,249.1h0 M379.0,215.4h0 M405.1,206.9h0 M407.3,207.4h0 M399.4,180.0h0 M435.3,230.3h0 M410.5,221.9h0 M431.8,207.7h0 M434.9,209.4h0 M404.7,203.4h0 M394.8,188.4h0 M402.1,207.8h0 M420.1,192.9h0 M438.3,214.8h0 M398.9,217.1h0 M404.6,239.1h0 M417.8,244.9h0 M409.9,183.9h0 M411.0,239.2h0 M432.8,240.4h0 M387.8,225.1h0 M415.2,235.2h0 M410.2,202.2h0 M439.5,235.0h0 M431.3,206.5h0 M420.4,229.4h0 M397.4,204.0h0 M398.3,239.1h0 M420.9,225.3h0 M394.9,202.5h0 M426.2,197.2h0 M383.3,222.9h0 M390.2,192.5h0 M377.8,207.6h0 M406.9,253.9h0 M386.4,241.9h0 M434.7,242.2h0 M426.0,206.0h0 M402.5,213.7h0 M404.0,229.0h0 M407.0,187.8h0 M402.1,186.5h0 M401.3,220.2h0 M416.0,180.6h0 M384.8,202.7h0 M399.6,208.6h0 M424.2,230.7h0 M403.7,215.2h0 M404.1,190.0h0 M397.6,206.8h0 M431.4,213.3h0 M382.9,199.8h0 M397.9,239.3h0 M435.7,204.6h0 M432.9,214.8h0 M408.2,221.9h0 M384.6,223.9h0 M435.6,226.5h0 M396.0,206.2h0 M426.1,235.4h0 M381.8,201.8h0 M431.2,233.7h0 M421.6,228.6h0 M401.6,196.0h0 M405.0,248.2h0 M391.2,210.0h0 M394.7,223.3h0 M420.7,215.0h0 M379.9,224.3h0 M386.5,237.0h0 M435.2,229.5h0 M392.6,237.4h0 M396.6,249.3h0 M424.5,209.9h0 M430.2,190.9h0 M441.4,213.1h0 M405.2,181.7h0 M384.6,200.6h0 M411.5,237.4h0 M405.5,253.9h0 M386.4,229.5h0 M416.6,192.9h0 M432.4,220.4h0 M377.6,208.2h0 M385.1,242.9h0 M417.7,232.5h0 M385.3,190.9h0 M379.4,220.9h0 M422.9,229.5h0 M412.8,210.6h0 M419.3,232.9h0 M394.0,225.5h0 M444.6,222.5h0 M429.1,217.3h0 M403.9,236.7h0 M427.4,189.8h0 M430.7,187.4h0 M431.7,226.2h0 M402.4,191.4h0 M392.9,242.6h0 M380.2,240.2h0 M418.4,236.5h0 M406.1,229.3h0 M382.5,221.4h0 M403.5,180.5h0 M415.7,189.0h0 M402.4,247.7h0 M428.6,226.2h0 M425.0,232.2h0 M426.1,214.1h0 M401.2,198.3h0 M386.6,206.4h0 M392.7,213.7h0 M401.7,193.8h0 M426.5,242.5h0 M404.2,192.6h0 M415.3,231.8h0 M388.4,198.5h0 M418.9,192.6h0 M396.6,239.6h0 M379.8,240.5h0 M421.5,213.6h0 M414.9,211.3h0 M395.3,246.8h0 M417.8,230.3h0 M395.0,240.3h0 M396.4,182.2h0 M408.0,238.2h0 M431.2,195.2h0 M411.5,224.5h0 M428.7,216.5h0 M384.5,214.9h0 M433.9,232.5h0 M414.2,209.7h0 M418.6,213.1h0 M421.8,183.2h0 M377.5,213.1h0 M444.9,222.4h0 M413.4,224.6h0 M418.0,183.3h0 M401.9,216.3h0 M399.0,221.1h0 M408.3,218.9h0 M403.1,195.1h0 M418.2,220.9h0 M379.6,216.1h0 M423.1,247.0h0 M438.3,232.8h0 M429.2,217.1h0 M420.8,232.4h0 M385.4,223.8h0 M386.3,213.5h0 M381.9,241.4h0 M442.8,218.2h0 M409.9,193.7h0 M430.5,233.9h0 M436.7,195.8h0 M439.4,200.9h0 M412.6,242.1h0 M419.6,249.4h0 M386.4,209.9h0 M387.5,224.5h0 M375.9,226.0h0 M390.7,222.2h0 M393.5,212.8h0 M429.6,197.7h0 M386.1,235.7h0 M432.5,200.3h0 M402.7,197.9h0 M395.9,246.1h0 M411.3,183.9h0 M380.4,192.3h0 M418.5,225.9h0 M398.5,187.4h0 M423.3,215.2h0 M401.5,214.0h0 M411.3,195.7h0 M396.2,228.0h0 M388.7,206.4h0 M425.7,229.1h0 M391.1,212.4h0 M417.4,240.0h0 M417.9,185.6h0 M439.0,212.7h0 M381.9,224.5h0 M423.3,250.4h0 M396.2,207.2h0 M423.9,222.1h0 M394.7,248.1h0 M417.1,252.9h0 M381.9,204.1h0 M444.7,208.9h0 M411.6,213.1h0 M405.8,223.0h0 M399.1,244.9h0 M394.2,209.0h0 M385.9,220.3h0 M425.8,242.5h0 M396.2,202.5h0 M399.0,251.4h0 M434.2,215.7h0 M412.3,236.8h0 M404.0,251.8h0 M379.9,193.8h0 M384.6,225.8h0 M381.1,241.7h0 M417.2,200.3h0 M435.3,237.5h0 M394.9,204.7h0 M384.1,222.1h0 M430.6,201.5h0 M395.9,204.7h0 M408.4,254.4h0 M428.8,187.6h0 M383.0,216.6h0 M396.3,188.2h0 M390.4,209.1h0 M420.0,221.3h0 M417.9,218.2h0 M425.1,186.5h0 M397.3,253.3h0 M399.5,239.2h0 M394.4,189.5h0 M416.7,215.6h0 M435.4,211.6h0 M441.3,212.7h0 M410.8,210.9h0 M415.9,220.5h0 M424.7,238.5h0 M425.7,201.4h0 M388.8,213.6h0 M378.1,236.1h0 M375.9,227.0h0 M388.8,228.7h0 M409.0,188.0h0 M420.4,204.2h0 M400.9,248.3h0 M405.8,206.4h0 M435.0,212.1h0 M412.2,227.8h0 M376.4,210.6h0 M416.2,193.0h0 M434.2,212.4h0 M407.1,243.4h0 M422.8,219.4h0 M420.4,217.2h0 M410.0,231.8h0 M445.4,211.0h0 M421.3,232.4h0 M416.7,204.1h0 M390.7,242.0h0 M383.5,209.1h0 M417.6,182.0h0 M385.7,221.1h0 M377.1,232.0h0 M423.5,226.4h0 M437.9,194.5h0 M385.0,229.3h0 M382.6,196.2h0 M397.0,205.5h0 M443.2,215.8h0 M424.1,241.0h0 M386.9,237.2h0 M440.4,199.0h0 M389.8,243.6h0 M387.1,187.1h0 M405.6,237.0h0 M386.2,227.8h0 M441.3,205.4h0 M386.3,198.9h0 M435.7,205.4h0 M415.7,222.6h0 M408.1,250.1h0 M391.3,241.4h0 M394.3,202.8h0 M397.2,222.2h0 M383.0,199.9h0 M406.1,218.6h0 M391.0,246.2h0 M394.5,221.0h0 M389.5,188.4h0 M426.4,195.4h0 M418.3,196.1h0 M392.6,234.2h0 M405.5,241.6h0 M424.7,238.0h0 M407.3,202.8h0 M420.1,209.3h0 M390.3,211.7h0 M398.3,235.0h0 M416.5,183.3h0 M396.2,238.7h0 M424.4,230.4h0 M408.5,191.5h0 M398.3,221.8h0 M382.2,211.3h0 M382.5,221.8h0 M418.9,211.1h0 M400.2,249.4h0 M386.1,227.9h0 M403.2,242.8h0 M412.7,250.5h0 M405.2,196.2h0 M406.2,200.9h0 M405.0,239.7h0 M438.1,232.3h0 M380.4,194.8h0 M392.5,243.6h0 M398.1,224.8h0 M429.8,219.3h0 M395.3,207.8h0 M438.2,206.2h0 M413.4,179.9h0 M397.8,220.8h0 M387.1,235.6h0 M385.5,201.7h0 M403.9,252.0h0 M375.9,222.3h0 M428.4,241.0h0 M445.5,216.4h0 M408.1,202.5h0 M383.5,191.8h0 M427.3,239.2h0 M403.9,197.7h0 M409.4,183.3h0 M392.0,189.4h0 M442.5,210.9h0 M402.0,217.7h0 M441.2,200.2h0 M416.6,242.4h0 M427.4,228.0h0 M405.0,199.2h0 M424.1,213.8h0 M384.2,246.2h0 M381.2,213.1h0 M422.6,189.5h0 M437.6,208.5h0 M420.5,196.2h0 M410.2,195.7h0 M380.7,222.5h0 M413.4,206.9h0 M393.0,203.4h0 M396.8,206.3h0 M410.3,254.4h0 M439.1,196.5h0 M381.3,228.8h0 M391.6,239.8h0 M405.8,193.2h0 M391.8,191.1h0 M404.1,192.2h0 M410.2,234.7h0 M398.6,191.1h0 M436.5,211.7h0 M426.3,193.3h0 M402.1,189.2h0 M399.0,244.9h0 M424.2,194.3h0 M401.6,192.7h0 M422.9,201.7h0 M414.8,196.8h0 M427.8,196.8h0 M397.0,204.0h0 M424.0,203.0h0 M437.4,216.6h0 M401.6,229.1h0 M428.8,219.1h0 M382.5,230.9h0 M445.4,215.6h0 M389.2,209.0h0 M398.2,224.3h0 M405.0,209.5h0 M429.4,231.0h0 M382.4,192.6h0 M441.0,226.1h0 M433.0,222.7h0 M409.4,205.2h0 M419.0,215.5h0 M402.6,195.3h0 M399.7,233.3h0 M417.7,195.1h0 M406.5,220.2h0 M403.9,186.7h0 M394.0,211.5h0 M439.5,230.9h0 M407.5,248.8h0 M430.5,210.5h0 M383.6,188.1h0 M425.6,206.8h0 M412.7,205.0h0 M433.7,228.9h0 M403.7,238.0h0 M402.3,185.9h0 M408.1,253.2h0 M380.0,235.9h0 M415.1,249.4h0 M403.7,225.9h0 M416.8,193.2h0 M407.3,207.8h0 M402.5,188.4h0 M427.7,213.3h0 M436.7,194.3h0 M405.6,219.5h0 M421.7,190.6h0 M409.9,252.5h0 M429.0,220.3h0 M424.7,215.1h0 M416.9,204.4h0 M419.6,193.7h0 M379.8,237.9h0 M430.8,217.9h0 M414.8,209.7h0 M407.2,244.6h0 M378.6,214.9h0 M427.7,247.0h0 M406.2,218.7h0 M391.2,183.6h0 M394.4,217.2h0 M391.0,231.6h0 M425.1,220.8h0 M431.0,188.3h0 M432.1,203.0h0 M443.0,229.6h0 M417.9,224.8h0 M406.7,237.2h0 M406.6,244.9h0 M416.3,218.3h0 M417.4,204.4h0 M435.8,241.4h0 M410.5,236.8h0 M390.9,216.1h0 M393.0,185.3h0 M430.5,213.7h0 M396.9,230.9h0 M417.8,242.4h0 M421.7,192.5h0 M392.4,203.7h0 M396.5,200.4h0 M399.9,193.9h0 M408.6,197.3h0 M376.1,209.4h0 M403.9,182.0h0 M414.3,248.2h0 M407.1,225.7h0 M424.5,217.6h0 M406.7,221.5h0 M409.7,244.5h0 M377.9,213.4h0 M404.4,238.4h0 M414.5,185.1h0 M413.0,205.4h0 M410.3,251.9h0 M438.6,208.5h0 M437.2,202.9h0 M405.9,219.7h0 M396.6,231.2h0 M413.4,242.8h0 M427.8,200.3h0 M386.8,223.6h0 M386.8,197.8h0 M401.3,213.5h0 M413.4,214.9h0 M416.9,217.2h0 M394.2,240.6h0 M405.1,188.6h0 M413.4,182.5h0 M376.8,232.1h0 M406.0,236.8h0 M387.0,189.2h0 M422.0,198.8h0 M434.6,195.5h0 M434.9,217.6h0 M433.1,223.9h0 M433.8,232.1h0 M392.5,231.3h0 M435.4,229.8h0 M399.9,194.6h0 M431.9,196.0h0 M397.9,202.1h0 M376.1,217.9h0 M403.4,246.6h0 M405.0,241.0h0 M387.5,243.8h0 M393.3,202.3h0 M436.0,223.7h0 M420.4,249.5h0 M393.2,182.7h0 M383.2,220.8h0 M395.3,229.7h0 M412.3,245.3h0 M445.9,217.8h0 M376.3,205.5h0 M392.4,218.0h0 M437.9,216.2h0 M410.9,206.5h0 M382.2,216.8h0 M431.4,230.5h0 M379.7,226.1h0 M393.5,184.8h0 M434.1,198.7h0 M405.9,211.6h0 M418.2,203.9h0 M393.8,238.0h0 M411.9,252.4h0 M415.4,223.7h0 M414.3,195.7h0 M427.0,188.9h0 M390.5,192.9h0 M383.7,218.4h0 M387.8,229.9h0 M410.5,232.0h0 M396.6,209.9h0 M426.3,222.8h0 M413.7,198.6h0 M407.0,243.7h0 M436.7,218.1h0 M379.5,229.4h0 M427.2,235.9h0 M434.4,223.6h0 M395.7,200.3h0 M392.5,200.8h0 M394.3,187.8h0 M413.9,225.8h0 M426.0,200.4h0 M422.6,185.1h0 M419.1,217.2h0 M404.6,204.2h0 M391.2,243.0h0 M437.0,217.7h0 M410.9,219.0h0 M444.5,225.9h0 M404.3,183.2h0 M429.3,211.5h0 M378.3,204.8h0 M424.1,241.3h0 M386.9,195.5h0 M394.3,234.6h0 M422.7,212.9h0 M418.8,195.6h0 M384.6,230.1h0 M405.9,181.1h0 M426.9,199.9h0 M420.8,205.8h0 M428.1,212.7h0 M440.5,226.6h0 M417.1,185.3h0 M407.2,192.6h0 M406.4,246.9h0 M390.1,214.2h0 M378.7,198.3h0 M439.3,204.0h0 M398.6,243.1h0 M395.8,215.6h0 M404.5,204.2h0 M392.3,199.3h0 M406.9,211.0h0 M426.9,200.6h0 M395.7,201.4h0 M395.0,245.7h0 M395.5,251.4h0 M378.1,231.3h0 M412.2,218.6h0 M396.0,247.1h0 M406.7,231.3h0 M411.2,223.4h0 M423.4,241.3h0 M408.7,181.9h0 M390.8,241.4h0 M443.8,222.7h0 M408.2,202.8h0 M417.4,216.4h0 M404.9,185.7h0 M396.2,229.9h0 M401.2,234.1h0 M397.2,242.9h0 M419.4,190.7h0 M441.4,207.7h0 M441.9,208.0h0 M412.8,241.3h0 M426.8,230.5h0 M401.5,250.0h0 M430.8,231.0h0 M428.1,198.8h0 M398.0,195.6h0 M438.4,228.3h0 M381.1,209.0h0 M382.3,200.1h0 M422.5,223.5h0 M389.1,208.7h0 M402.8,225.6h0 M376.0,215.2h0 M419.5,232.1h0 M419.1,226.5h0 M398.8,204.3h0 M430.4,202.5h0 M421.5,224.2h0 M417.9,193.3h0 M420.5,191.9h0 M415.6,204.4h0 M388.5,231.8h0 M401.7,223.3h0 M421.5,188.0h0 M436.3,221.0h0 M404.9,180.6h0 M379.9,208.9h0 M417.4,230.2h0 M402.4,211.8h0 M425.7,235.7h0 M397.5,225.9h0 M411.3,214.2h0 M414.1,239.4h0 M402.9,227.7h0 M404.1,230.3h0 M390.1,238.6h0 M427.9,243.5h0 M399.0,250.5h0 M415.8,196.0h0 M392.8,208.6h0 M391.2,225.2h0 M386.5,214.4h0 M405.0,184.7h0 M390.4,226.7h0 M403.7,244.7h0 M402.0,212.4h0 M399.6,193.2h0 M400.0,189.8h0 M396.4,215.9h0 M443.2,221.0h0 M436.2,237.6h0 M434.5,210.8h0 M395.7,249.6h0 M426.3,209.9h0 M411.1,248.1h0 M434.0,214.8h0 M378.5,212.2h0 M378.1,218.7h0 M384.9,239.9h0 M431.0,188.1h0 M430.4,231.5h0 M444.0,219.6h0 M395.6,192.3h0 M396.6,216.7h0 M402.2,212.5h0 M381.4,199.4h0 M401.5,214.0h0 M394.1,207.1h0 M397.9,243.8h0 M432.1,220.0h0 M418.2,211.7h0 M389.6,238.6h0 M388.0,185.1h0 M418.4,220.4h0 M388.9,193.4h0 M422.8,242.9h0 M404.5,201.8h0 M409.7,193.1h0 M407.0,227.5h0 M401.5,194.9h0 M419.1,218.5h0 M413.1,200.3h0 M436.0,228.6h0 M416.2,189.6h0 M384.9,229.2h0 M384.6,203.2h0 M396.2,248.3h0 M379.6,220.7h0 M442.7,218.1h0 M435.1,224.9h0 M414.1,207.5h0 M395.6,250.4h0 M414.2,210.9h0 M411.1,237.9h0 M425.6,208.4h0 M431.9,238.0h0 M400.1,185.8h0 M419.2,228.7h0 M419.5,193.7h0 M410.2,192.4h0 M400.2,197.0h0 M429.6,229.7h0 M424.5,195.3h0 M426.7,194.9h0 M419.8,214.9h0 M426.8,205.5h0 M435.6,198.6h0 M420.9,200.3h0 M406.6,243.6h0 M400.1,242.6h0 M389.2,193.1h0 M381.6,195.5h0 M397.4,205.1h0 M428.8,212.8h0 M425.7,234.8h0 M410.7,223.1h0 M415.9,182.8h0 M408.0,251.2h0 M415.4,216.9h0 M382.4,190.7h0 M420.5,200.7h0 M414.5,192.1h0 M386.1,195.5h0 M398.5,251.0h0 M390.3,226.8h0 M389.9,246.7h0 M424.7,197.7h0 M424.3,249.4h0 M384.4,192.5h0 M388.5,238.9h0 M420.1,240.6h0 M409.5,252.6h0 M381.4,222.2h0 M429.0,199.6h0 M393.2,234.8h0 M430.0,240.4h0 M430.8,226.9h0 M409.6,196.3h0 M402.5,243.6h0 M402.5,225.4h0 M430.9,218.7h0 M378.1,200.0h0 M412.9,236.7h0 M388.6,237.6h0 M435.8,223.8h0 M406.6,235.3h0 M402.4,182.5h0 M407.1,200.1h0 M400.7,179.4h0 M438.0,221.1h0 M376.0,221.9h0 M434.8,194.9h0 M396.0,242.7h0 M389.1,220.2h0 M418.1,214.9h0 M392.2,221.7h0 M389.9,201.5h0 M388.5,226.9h0 M415.0,238.9h0 M396.6,239.1h0 M415.8,181.9h0 M434.3,220.5h0 M404.1,252.3h0 M416.9,220.5h0 M380.7,207.1h0 M387.5,207.9h0 M387.0,244.8h0 M421.5,247.6h0 M396.6,251.7h0 M384.1,191.6h0 M417.4,230.1h0 M422.6,235.0h0 M407.5,252.8h0 M399.2,202.9h0 M416.2,192.1h0 M428.6,238.6h0 M394.3,190.9h0 M414.4,252.0h0 M387.7,231.1h0 M397.8,245.5h0 M422.5,200.3h0 M384.5,235.0h0 M391.7,183.7h0 M384.9,242.5h0 M444.1,212.7h0 M400.6,195.4h0 M400.0,181.1h0 M392.8,246.5h0 M414.3,189.3h0 M394.3,197.5h0 M420.9,208.1h0 M397.1,199.4h0 M429.1,245.0h0 M406.6,182.4h0 M425.0,187.5h0 M415.1,253.2h0 M394.6,230.4h0 M430.5,192.0h0 M411.4,190.3h0 M405.6,190.3h0 M411.9,239.1h0 M399.7,223.3h0 M416.3,230.4h0 M398.2,210.1h0 M430.6,245.7h0 M400.1,205.4h0 M411.9,180.5h0 M392.6,230.8h0 M406.4,215.2h0 M388.1,229.3h0 M407.8,220.0h0 M400.9,188.3h0 M398.9,193.7h0 M425.2,218.8h0 M410.1,215.6h0 M429.5,236.2h0 M415.0,233.4h0 M381.5,194.9h0 M436.5,199.8h0 M436.4,226.5h0 M420.4,247.9h0 M427.4,244.7h0 M402.5,214.5h0 M435.6,219.7h0 M380.6,198.1h0 M398.6,182.5h0 M412.4,199.3h0 M382.1,213.0h0 M442.8,214.0h0 M399.3,194.8h0 M394.9,207.9h0 M421.2,184.4h0 M441.1,214.7h0 M427.5,212.3h0 M437.3,239.0h0 M407.1,202.5h0 M381.8,217.2h0 M409.1,232.5h0 M418.3,199.1h0 M407.6,179.5h0 M406.2,220.8h0 M430.4,194.5h0 M441.3,205.7h0 M410.2,233.3h0 M416.0,183.4h0 M429.3,227.8h0 M401.8,197.3h0 M384.4,224.4h0 M426.3,193.1h0 M392.7,189.9h0 M376.1,205.5h0 M395.8,251.0h0 M394.6,184.1h0 M407.5,235.8h0 M409.8,226.1h0 M407.1,246.1h0 M411.4,180.6h0 M389.3,224.2h0 M412.8,247.3h0 M425.8,219.6h0 M418.8,221.6h0 M405.8,207.9h0 M398.2,228.1h0 M416.2,230.8h0 M426.1,207.4h0 M386.3,205.2h0 M414.2,218.9h0 M390.9,209.0h0 M410.7,252.8h0 M386.3,204.0h0 M436.7,193.6h0 M412.3,220.5h0 M416.3,215.8h0 M403.1,225.1h0 M400.7,222.3h0 M384.7,235.7h0 M384.9,221.1h0 M403.4,220.2h0 M398.6,249.9h0 M423.4,183.0h0 M409.2,250.5h0 M415.9,212.2h0 M381.9,232.5h0 M396.4,252.0h0 M387.6,221.4h0 M388.1,232.9h0 M400.5,238.4h0 M439.3,223.4h0 M403.4,180.3h0 M391.8,202.7h0" stroke="#fff" stroke-width="1.30" stroke-linecap="round" fill="none" opacity="0.50"/>
<path d="M410.5,227.8h0 M385.1,236.9h0 M405.3,232.9h0 M423.4,205.3h0 M427.1,246.0h0 M437.7,238.2h0 M398.8,235.4h0 M408.4,234.0h0 M379.5,224.4h0 M395.6,219.5h0 M428.2,195.4h0 M395.9,235.5h0 M402.9,226.4h0 M398.6,231.9h0 M420.4,217.3h0 M399.9,206.2h0 M429.2,238.8h0 M397.4,204.7h0 M399.2,232.9h0 M430.8,194.4h0 M430.6,228.9h0 M408.2,245.6h0 M393.3,218.7h0 M387.3,209.6h0 M406.9,228.4h0 M423.8,187.8h0 M380.2,205.0h0 M391.7,199.2h0 M420.3,234.2h0 M422.7,236.4h0 M410.1,218.8h0 M381.8,239.4h0 M402.4,191.2h0 M397.8,250.0h0 M397.4,194.5h0 M385.8,195.3h0 M416.5,216.5h0 M394.3,241.3h0 M411.3,244.8h0 M437.4,220.2h0 M403.5,251.1h0 M405.6,206.4h0 M393.8,216.2h0 M417.2,229.4h0 M402.7,184.9h0 M431.8,217.8h0 M429.2,216.0h0 M395.2,208.2h0 M441.5,218.3h0 M411.0,251.7h0 M398.5,193.5h0 M426.3,220.0h0 M419.8,185.4h0 M387.2,215.2h0 M382.0,234.8h0 M383.8,212.1h0 M433.4,194.7h0 M411.7,184.8h0 M396.0,194.2h0 M396.1,207.2h0 M388.5,238.9h0 M419.1,185.8h0 M423.0,192.2h0 M385.3,242.8h0 M422.3,187.6h0 M380.1,219.4h0 M388.5,213.1h0 M398.0,245.0h0 M395.9,216.1h0 M433.9,232.9h0 M427.1,211.0h0 M401.9,228.7h0 M425.0,198.4h0 M381.5,206.1h0 M409.5,225.5h0 M398.3,187.1h0 M435.1,230.8h0 M384.5,212.6h0 M393.0,199.3h0 M426.6,241.1h0 M433.2,236.9h0 M410.0,237.5h0 M393.9,243.3h0 M422.6,219.3h0 M382.0,240.3h0 M395.0,236.4h0 M382.0,218.4h0 M426.5,247.4h0 M412.4,236.2h0 M390.0,227.0h0 M429.0,202.4h0 M411.2,249.2h0 M439.8,216.9h0 M432.6,242.1h0 M392.1,250.5h0 M396.8,189.4h0 M407.3,196.5h0 M411.1,202.6h0 M386.8,200.0h0 M423.9,225.8h0 M438.6,207.3h0 M408.1,192.3h0 M426.6,238.5h0 M432.3,218.1h0 M415.9,191.0h0 M388.0,232.6h0 M388.9,207.3h0 M402.6,223.7h0 M377.1,209.8h0 M440.5,206.8h0 M393.3,199.5h0 M398.1,215.0h0 M376.6,218.1h0 M405.4,231.9h0 M425.5,212.8h0 M400.9,254.0h0 M434.0,194.7h0 M411.6,204.5h0 M436.2,230.1h0 M399.8,253.8h0 M435.8,200.1h0 M416.1,181.3h0 M404.9,183.4h0 M422.1,223.0h0 M414.7,246.8h0 M407.9,200.1h0 M427.3,197.2h0 M392.0,223.6h0 M407.7,212.6h0 M425.8,186.2h0 M419.2,185.6h0 M412.8,186.5h0 M434.5,210.9h0 M398.5,227.7h0 M435.1,225.2h0 M405.1,238.9h0 M437.5,235.7h0 M399.3,226.7h0 M435.5,232.5h0 M422.8,247.1h0 M401.8,184.3h0 M422.9,216.8h0 M424.8,193.9h0 M424.0,212.7h0 M380.0,211.1h0 M417.6,229.9h0 M383.0,219.4h0 M393.6,237.3h0 M439.3,200.7h0 M420.5,232.2h0 M439.4,220.0h0 M391.7,216.9h0 M423.4,232.6h0 M393.5,202.8h0 M386.4,203.8h0 M443.2,226.7h0 M434.9,229.1h0 M411.7,203.2h0 M428.6,191.6h0 M395.5,223.4h0 M385.5,208.6h0 M398.2,183.6h0 M421.7,227.4h0 M411.0,234.3h0 M411.9,212.2h0 M434.1,209.0h0 M429.3,228.3h0 M390.5,203.9h0 M407.4,223.2h0 M406.0,217.3h0 M406.5,217.2h0 M422.7,212.2h0 M404.6,249.5h0 M406.6,203.9h0 M405.7,245.8h0 M441.6,201.7h0 M384.2,192.0h0 M405.9,206.3h0 M439.1,209.3h0 M423.2,221.7h0 M392.9,212.1h0 M425.4,238.9h0 M412.1,206.5h0 M382.1,228.8h0 M439.5,199.7h0 M429.8,216.1h0 M407.2,207.9h0 M423.7,247.5h0 M378.6,207.3h0 M375.7,225.5h0 M424.4,237.6h0 M413.7,206.4h0 M418.0,215.0h0 M416.4,181.8h0 M419.2,233.9h0 M405.3,190.4h0 M404.3,192.2h0 M420.9,241.4h0 M415.1,214.9h0 M411.0,198.4h0 M423.3,244.9h0 M430.9,230.3h0 M395.1,230.0h0 M436.3,197.4h0 M391.1,238.6h0 M422.2,187.8h0 M398.0,206.2h0 M403.9,229.0h0 M392.2,204.3h0 M434.7,230.2h0 M423.5,221.4h0 M423.9,249.7h0 M388.7,228.1h0 M390.1,212.2h0 M392.7,196.1h0 M381.0,208.8h0 M418.4,221.1h0 M386.5,222.6h0 M425.1,209.6h0 M390.4,218.3h0 M383.4,235.4h0 M401.2,225.2h0 M386.9,196.0h0 M399.7,242.3h0 M428.2,191.4h0 M388.4,226.4h0 M386.7,199.4h0 M399.3,218.7h0 M419.9,198.2h0 M390.3,239.6h0 M442.6,206.1h0 M400.8,190.3h0 M390.8,236.1h0 M435.1,227.4h0 M408.4,181.8h0 M389.6,186.7h0 M422.4,207.4h0 M434.7,199.0h0 M430.7,194.6h0 M385.1,226.5h0 M395.4,235.0h0 M418.8,185.4h0 M399.5,229.7h0 M392.4,204.1h0 M440.7,211.1h0 M395.7,238.2h0 M399.0,189.4h0 M438.1,204.3h0 M428.6,208.0h0 M410.7,183.7h0 M416.0,200.5h0 M422.2,242.5h0 M377.5,225.6h0 M391.4,220.4h0 M382.6,240.9h0 M437.2,208.3h0 M391.7,240.2h0 M418.2,243.2h0 M410.2,183.4h0 M398.1,207.3h0 M404.0,184.1h0 M407.0,241.6h0 M383.5,244.0h0 M406.0,210.9h0 M415.5,247.4h0 M394.1,186.3h0 M390.1,189.1h0 M420.8,246.6h0 M413.5,203.7h0 M378.9,227.2h0 M404.7,204.8h0 M387.1,225.0h0 M426.8,203.6h0 M407.0,218.9h0 M382.2,215.5h0 M428.8,189.4h0 M426.0,214.3h0 M435.5,236.9h0 M436.9,199.7h0 M395.2,201.8h0 M405.4,190.4h0 M399.0,195.4h0 M399.1,237.9h0 M446.0,214.9h0 M415.3,201.3h0 M405.4,209.9h0 M378.6,214.5h0 M386.0,213.3h0 M410.1,180.3h0 M381.5,242.4h0 M428.4,215.0h0 M432.8,212.9h0 M418.9,249.9h0 M425.7,207.2h0 M419.7,236.9h0 M404.4,243.4h0 M436.6,217.1h0 M402.0,251.1h0 M404.5,199.5h0 M385.3,225.3h0 M421.7,229.8h0 M423.8,243.0h0 M422.6,221.6h0 M408.3,212.4h0 M386.5,198.9h0 M428.9,187.9h0 M414.3,221.1h0 M398.4,223.1h0 M410.7,247.1h0 M409.0,245.5h0 M424.7,224.3h0 M380.1,234.1h0 M388.6,234.9h0 M423.5,187.0h0 M426.0,219.7h0 M427.5,229.6h0 M385.7,244.8h0 M384.4,228.8h0 M432.8,236.3h0 M442.0,202.4h0 M402.9,233.5h0 M395.5,192.6h0 M391.1,244.6h0 M400.3,206.4h0 M391.3,191.3h0 M404.4,181.2h0 M391.6,216.0h0 M438.8,237.9h0 M429.5,202.1h0 M381.4,201.8h0 M426.9,241.5h0 M380.7,202.9h0 M402.5,194.4h0 M431.1,202.8h0 M410.4,221.4h0 M428.8,190.1h0 M385.9,234.8h0 M400.9,227.3h0 M433.5,230.7h0 M408.0,210.5h0 M397.1,198.6h0 M382.8,206.2h0 M394.8,187.1h0 M408.4,230.9h0 M423.2,202.5h0 M423.1,199.4h0 M401.7,241.9h0 M386.3,243.7h0 M423.0,205.3h0 M410.1,179.5h0 M433.1,227.9h0 M442.5,214.7h0 M400.5,182.4h0 M433.4,232.2h0 M382.4,233.0h0 M384.3,241.4h0 M392.2,219.7h0 M431.6,188.1h0 M381.0,206.4h0 M381.7,231.3h0 M407.5,215.7h0 M441.4,224.7h0 M424.5,194.4h0 M419.3,220.0h0 M414.1,214.5h0 M385.7,241.2h0 M421.7,236.8h0 M441.2,225.9h0 M441.8,230.2h0 M409.4,204.2h0 M380.8,206.3h0 M398.7,212.7h0 M414.3,191.6h0 M441.1,211.7h0 M401.6,217.2h0 M414.7,183.3h0 M415.0,184.1h0 M376.3,213.8h0 M435.7,212.6h0 M394.7,218.6h0 M418.9,199.5h0 M383.2,222.6h0 M407.6,240.2h0 M390.4,229.1h0 M403.3,199.1h0 M416.7,242.9h0 M421.9,190.8h0 M438.2,228.5h0 M433.0,201.7h0 M424.7,225.2h0 M407.7,210.9h0 M418.9,240.8h0 M401.1,220.6h0 M407.2,238.7h0 M411.8,202.7h0 M380.1,222.5h0 M388.3,229.6h0 M382.1,234.1h0 M393.5,210.2h0 M419.5,225.4h0 M421.5,208.9h0 M411.5,186.0h0 M394.0,241.5h0 M402.7,190.8h0 M413.6,213.8h0 M384.4,217.6h0 M401.5,193.5h0 M416.3,243.9h0 M439.5,198.6h0 M397.9,220.8h0 M383.6,241.2h0 M410.2,208.4h0 M417.6,241.5h0 M387.3,188.3h0 M428.6,197.8h0 M436.2,239.7h0 M399.9,247.9h0 M442.2,202.4h0 M380.6,202.9h0 M419.4,196.4h0 M408.1,235.5h0 M386.0,200.8h0 M398.7,185.4h0 M400.7,181.3h0 M434.0,199.3h0 M436.1,192.5h0 M429.1,204.5h0 M421.9,197.8h0 M414.1,214.7h0 M383.0,226.2h0 M379.6,206.3h0 M430.6,212.0h0 M427.4,227.3h0 M391.6,221.6h0 M435.7,236.5h0 M434.1,237.7h0 M427.1,189.7h0 M392.4,186.4h0 M433.7,207.7h0 M412.5,232.5h0 M407.6,192.6h0 M386.0,205.6h0 M415.4,243.2h0 M407.7,227.5h0 M408.3,238.9h0 M407.5,183.5h0 M388.2,195.0h0 M383.4,216.9h0 M423.2,230.2h0 M378.3,204.6h0 M394.4,205.6h0 M441.0,204.3h0 M434.8,234.6h0 M425.9,208.9h0 M424.4,242.7h0 M438.7,205.9h0 M411.3,230.8h0 M404.2,179.5h0 M414.8,225.2h0 M404.3,248.9h0 M434.1,192.0h0 M386.3,215.9h0 M400.0,212.0h0 M419.2,246.2h0 M414.1,200.2h0 M394.1,242.8h0 M414.3,247.2h0 M435.0,194.3h0 M399.9,225.4h0 M398.2,236.7h0 M406.7,208.5h0 M404.0,211.7h0 M424.8,184.4h0 M432.4,228.2h0 M380.6,223.8h0 M381.7,191.1h0 M380.8,204.8h0 M414.2,230.4h0 M441.7,232.1h0 M421.3,242.6h0 M414.9,186.4h0 M412.6,181.6h0 M405.0,231.1h0 M422.8,233.9h0 M395.7,217.5h0 M422.2,250.3h0 M387.2,208.7h0 M423.0,229.9h0 M417.1,199.2h0 M396.1,197.3h0 M439.6,205.7h0 M415.9,188.1h0 M385.6,188.7h0 M403.2,253.6h0 M404.6,190.8h0 M380.2,217.9h0 M389.7,234.2h0 M434.4,222.8h0 M387.6,208.2h0 M405.9,239.7h0" stroke="#483d8b" stroke-width="1.80" stroke-linecap="round" fill="none" opacity="0.40"/>
<defs><radialGradient id="gpe" cx="403" cy="217" r="96" gradientUnits="userSpaceOnUse"><stop offset="0" stop-color="#9400d3" stop-opacity="1"/><stop offset="0.35" stop-color="#9400d3" stop-opacity="0.7"/><stop offset="0.7" stop-color="#9400d3" stop-opacity="0.22"/><stop offset="1" stop-color="#9400d3" stop-opacity="0.1"/></radialGradient></defs>
<path d="M403.20,216.80 L403.23,216.70 L403.32,216.45 L403.47,216.09 L403.67,215.62 L403.94,215.07 L404.27,214.43 L404.65,213.72 L405.09,212.95 L405.59,212.11 L406.14,211.23 L406.75,210.29 L407.42,209.32 L408.13,208.32 L408.91,207.29 L409.73,206.24 L410.61,205.18 L411.53,204.11 L412.51,203.03 L413.53,201.96 L414.60,200.89 L415.72,199.83 L416.87,198.79 L418.08,197.76 L419.32,196.75 L420.60,195.77 L421.92,194.81 L423.27,193.88 L424.66,192.97 L426.08,192.10 L427.54,191.26 L429.02,190.45 L430.53,189.67 L432.06,188.93 L433.62,188.23 L435.20,187.56 L436.80,186.93 L438.42,186.34 L440.05,185.79 L441.70,185.27 L443.35,184.81 L445.02,184.38 L446.70,184.00 L448.38,183.66 L450.06,183.37 L451.74,183.14 L453.42,182.95 L455.10,182.81 L456.78,182.73 L458.45,182.70 L460.10,182.73 L461.75,182.82 L463.38,182.96 L465.00,183.17 L466.60,183.43 L468.18,183.76 L469.74,184.14 L471.27,184.59 L472.78,185.09 L474.26,185.65 L475.72,186.26 L477.14,186.93 L478.53,187.66 L479.88,188.43 L481.20,189.25 L482.48,190.12 L483.72,191.03 L484.93,191.97 L486.08,192.95 L487.20,193.97 L488.27,195.01 L489.29,196.08 L490.27,197.17 L491.19,198.28 L492.07,199.40 L492.89,200.54 L493.67,201.68 L494.38,202.84 L495.05,204.00 L495.66,205.16 L496.21,206.33 L496.71,207.50 L497.15,208.66 L497.53,209.83 L497.86,210.99 L498.13,212.16 L498.33,213.32 L498.48,214.48 L498.57,215.64 L498.60,216.80 L498.57,217.96 L498.48,219.12 L498.33,220.28 L498.13,221.44 L497.86,222.61 L497.53,223.77 L497.15,224.94 L496.71,226.10 L496.21,227.27 L495.66,228.44 L495.05,229.60 L494.38,230.76 L493.67,231.92 L492.89,233.06 L492.07,234.20 L491.19,235.32 L490.27,236.43 L489.29,237.52 L488.27,238.59 L487.20,239.63 L486.08,240.65 L484.93,241.63 L483.72,242.57 L482.48,243.48 L481.20,244.35 L479.88,245.17 L478.53,245.94 L477.14,246.67 L475.72,247.34 L474.26,247.95 L472.78,248.51 L471.27,249.01 L469.74,249.46 L468.18,249.84 L466.60,250.17 L465.00,250.43 L463.38,250.64 L461.75,250.78 L460.10,250.87 L458.45,250.90 L456.78,250.87 L455.10,250.79 L453.42,250.65 L451.74,250.46 L450.06,250.23 L448.38,249.94 L446.70,249.60 L445.02,249.22 L443.35,248.79 L441.70,248.33 L440.05,247.81 L438.42,247.26 L436.80,246.67 L435.20,246.04 L433.62,245.37 L432.06,244.67 L430.53,243.93 L429.02,243.15 L427.54,242.34 L426.08,241.50 L424.66,240.63 L423.27,239.72 L421.92,238.79 L420.60,237.83 L419.32,236.85 L418.08,235.84 L416.87,234.81 L415.72,233.77 L414.60,232.71 L413.53,231.64 L412.51,230.57 L411.53,229.49 L410.61,228.42 L409.73,227.36 L408.91,226.31 L408.13,225.28 L407.42,224.28 L406.75,223.31 L406.14,222.37 L405.59,221.49 L405.09,220.65 L404.65,219.88 L404.27,219.17 L403.94,218.53 L403.67,217.98 L403.47,217.51 L403.32,217.15 L403.23,216.90Z" fill="url(#gpe)"/>
<path d="M460.9,234.3h0 M438.3,229.1h0 M440.5,239.2h0 M470.5,210.8h0 M461.4,241.3h0 M441.5,248.2h0 M473.1,225.3h0 M462.4,200.5h0 M468.4,210.3h0 M444.1,228.3h0 M450.8,233.4h0 M440.1,211.9h0 M479.0,233.5h0 M461.1,187.8h0 M467.4,217.5h0 M423.1,221.9h0 M439.3,199.1h0 M474.8,239.4h0 M442.2,192.0h0 M462.7,202.5h0 M462.1,225.5h0 M445.6,194.3h0 M442.7,223.1h0 M465.0,235.0h0 M474.7,187.9h0 M465.7,232.7h0 M458.5,231.3h0 M474.0,206.6h0 M417.0,232.1h0 M439.0,238.1h0 M466.9,187.1h0 M460.2,215.6h0 M481.9,225.7h0 M485.0,234.0h0 M433.0,192.6h0 M441.7,215.9h0 M476.3,216.0h0 M465.6,217.2h0 M489.2,229.9h0 M491.6,210.4h0 M470.3,217.1h0 M456.1,210.0h0 M467.7,224.1h0 M443.5,233.8h0 M465.9,194.2h0 M435.4,238.5h0 M443.5,198.1h0 M468.2,196.5h0 M477.1,229.7h0 M490.8,209.8h0 M466.5,207.4h0 M473.4,247.5h0 M435.1,234.7h0 M447.5,209.5h0 M439.2,242.0h0 M452.2,200.2h0 M453.7,238.0h0 M469.5,203.4h0 M430.7,211.2h0 M414.3,203.0h0 M460.7,198.1h0 M463.8,229.6h0 M442.3,244.2h0 M484.0,193.0h0 M462.3,239.2h0 M485.0,238.8h0 M476.7,235.3h0 M464.5,221.2h0 M447.0,235.3h0 M428.8,213.2h0 M479.8,206.7h0 M477.5,230.9h0 M484.5,238.0h0 M469.0,243.3h0 M458.2,233.8h0 M463.2,245.5h0 M444.3,190.8h0 M461.3,235.2h0 M448.9,245.8h0 M433.8,195.2h0 M465.2,223.8h0 M441.7,230.9h0 M486.7,202.8h0 M488.7,235.5h0 M488.3,199.1h0 M439.5,209.4h0 M470.5,216.1h0 M476.9,197.3h0 M479.0,245.0h0 M432.7,217.8h0 M487.8,198.3h0 M445.4,217.6h0 M440.1,218.2h0 M483.8,205.7h0 M482.2,234.8h0 M484.7,230.8h0 M480.5,194.7h0 M480.9,199.8h0 M476.9,235.8h0 M482.1,240.8h0 M462.5,200.3h0 M469.5,191.1h0 M487.8,208.9h0 M466.8,185.8h0 M484.6,229.0h0 M468.0,213.0h0 M449.0,234.5h0 M470.4,193.5h0 M452.9,199.6h0 M450.0,193.2h0 M450.8,240.1h0 M449.4,237.8h0 M458.5,243.1h0 M486.1,222.0h0 M473.8,214.3h0 M484.8,208.8h0 M478.6,216.9h0 M458.0,221.6h0 M432.0,240.6h0 M460.0,240.4h0 M461.5,216.1h0 M462.8,210.3h0 M446.5,206.2h0 M478.1,197.5h0 M475.8,243.2h0 M495.7,207.9h0 M432.5,243.7h0 M489.9,223.6h0 M448.1,206.6h0 M460.2,248.2h0 M436.1,195.1h0 M464.9,240.4h0 M466.8,233.9h0 M484.5,211.5h0 M486.0,238.4h0 M446.2,245.7h0 M455.4,217.6h0 M462.2,236.0h0 M425.8,193.2h0 M418.8,215.1h0 M459.3,237.5h0 M474.9,211.1h0 M464.6,190.9h0 M480.7,225.4h0 M448.7,196.1h0 M474.9,231.9h0 M434.9,208.9h0 M479.7,197.5h0 M463.5,185.8h0 M442.2,205.8h0 M462.3,196.9h0 M465.4,206.4h0 M435.4,241.6h0 M489.9,210.1h0 M445.5,206.2h0 M481.3,223.9h0 M442.7,224.3h0 M457.4,188.2h0 M426.3,194.8h0 M453.5,241.2h0 M443.6,238.3h0 M475.2,190.8h0 M456.1,216.7h0 M453.5,207.3h0 M457.8,184.1h0 M485.8,195.3h0 M477.8,209.3h0 M414.7,219.8h0 M473.5,196.6h0 M470.4,200.7h0 M463.4,207.6h0 M481.7,195.8h0 M435.0,198.9h0 M463.4,229.6h0 M472.8,215.9h0 M456.2,202.5h0 M432.0,189.6h0 M449.1,206.8h0 M445.1,232.7h0 M461.4,199.3h0 M463.9,241.4h0 M467.6,238.1h0 M466.6,248.7h0 M449.7,219.3h0 M474.9,243.4h0 M478.2,197.2h0 M471.6,240.0h0 M469.6,240.9h0 M487.8,232.3h0 M465.1,236.1h0 M484.7,228.3h0 M464.1,213.1h0 M425.7,238.0h0 M436.7,241.0h0 M438.4,238.2h0 M431.7,196.4h0 M440.2,219.0h0 M467.9,184.7h0 M419.7,221.7h0 M485.3,197.8h0 M451.5,229.2h0 M490.6,230.2h0 M421.7,202.8h0 M472.2,210.9h0 M447.7,248.7h0 M474.6,221.7h0 M488.1,224.5h0 M481.4,216.6h0 M466.2,200.4h0 M461.2,184.7h0 M435.0,209.4h0 M449.5,246.7h0 M488.9,213.7h0 M465.4,205.3h0 M474.3,228.0h0 M448.3,238.6h0 M466.7,245.2h0 M454.8,232.6h0 M447.0,215.6h0 M466.8,246.9h0 M447.2,239.3h0 M485.8,202.9h0 M468.4,236.0h0 M465.5,239.8h0 M454.3,221.4h0 M485.8,222.9h0 M457.3,222.9h0 M489.5,229.4h0 M427.2,236.2h0 M444.5,224.5h0 M485.0,216.2h0 M457.0,205.8h0 M444.9,246.3h0 M423.7,236.8h0 M433.0,191.4h0 M445.7,232.5h0 M454.3,195.4h0 M468.6,192.5h0 M455.5,239.7h0 M432.4,212.2h0 M450.8,198.6h0 M446.2,241.1h0 M450.3,206.8h0 M448.0,205.3h0 M466.3,247.3h0 M456.3,235.0h0 M452.8,229.2h0 M483.3,211.5h0 M457.0,228.2h0 M483.5,223.2h0 M471.8,201.4h0 M445.7,217.4h0 M473.2,232.5h0 M436.4,241.9h0 M476.9,222.6h0 M471.8,188.1h0 M450.5,217.4h0 M469.1,223.9h0 M481.3,220.4h0 M486.1,232.6h0 M437.8,189.7h0 M439.4,246.3h0 M446.3,223.6h0 M445.4,204.9h0 M480.4,228.6h0 M446.2,214.4h0 M461.7,249.8h0 M428.1,212.2h0 M429.2,199.2h0 M441.4,218.6h0 M462.4,219.5h0 M445.8,246.1h0 M451.3,223.5h0 M457.8,228.8h0 M475.1,214.4h0 M464.9,241.9h0 M430.7,195.5h0 M491.0,227.1h0 M463.6,198.9h0 M496.1,211.9h0 M462.3,249.8h0 M468.2,217.3h0 M456.0,195.1h0 M458.1,186.3h0 M495.0,228.8h0 M468.1,200.9h0 M449.9,197.5h0 M489.6,217.2h0 M496.6,215.4h0 M463.9,213.5h0 M436.0,227.6h0 M453.7,246.3h0 M496.2,210.8h0 M460.9,198.4h0 M473.3,228.4h0 M485.0,210.7h0 M472.0,192.4h0 M473.2,203.7h0 M468.3,243.1h0 M445.8,236.0h0 M461.2,219.8h0 M442.3,247.2h0 M464.2,197.4h0 M459.0,210.1h0 M480.5,191.0h0 M451.4,242.5h0 M470.1,222.4h0 M483.6,217.3h0 M445.0,222.4h0 M465.1,248.0h0 M428.6,209.4h0 M436.5,230.1h0 M458.4,241.2h0 M468.2,186.3h0 M493.9,202.9h0 M433.3,215.6h0 M442.2,199.4h0 M456.5,222.0h0 M441.9,245.8h0 M438.8,225.3h0 M491.0,203.0h0 M481.1,241.4h0 M450.9,220.5h0 M451.2,228.2h0 M471.3,202.0h0 M450.9,186.0h0 M469.7,204.3h0 M454.4,220.1h0 M487.5,231.8h0 M467.5,216.6h0 M488.6,223.5h0 M446.2,222.7h0 M464.2,224.1h0 M439.0,192.5h0 M426.3,193.9h0 M491.2,227.8h0 M468.2,238.3h0 M474.4,193.5h0 M475.4,202.6h0 M450.4,238.5h0 M470.5,212.1h0 M454.0,232.3h0 M495.2,216.4h0 M455.2,212.8h0 M459.1,188.6h0 M441.9,243.5h0 M445.0,226.2h0 M449.2,184.0h0 M422.9,201.2h0 M434.8,208.7h0 M446.3,207.5h0 M486.8,205.1h0 M486.7,222.6h0 M469.7,186.8h0 M479.2,242.6h0 M447.3,246.8h0 M485.1,235.7h0 M475.5,224.6h0 M482.8,212.1h0 M466.0,236.1h0 M452.4,211.5h0 M449.2,233.8h0 M439.1,190.6h0 M472.4,236.8h0 M442.2,198.7h0 M484.4,237.7h0 M436.8,201.2h0 M451.8,198.9h0 M475.0,220.9h0 M493.1,204.3h0 M440.5,234.7h0 M484.0,212.5h0 M455.4,241.3h0 M461.0,217.2h0 M453.8,184.7h0 M438.4,244.3h0 M451.8,213.2h0 M442.2,199.7h0 M482.8,197.5h0 M462.0,222.7h0 M459.6,229.8h0 M467.4,245.7h0 M448.9,237.8h0 M488.2,205.4h0 M468.4,221.7h0 M449.6,194.2h0 M447.2,215.2h0 M435.7,195.0h0 M441.2,196.6h0 M443.1,197.5h0 M450.7,247.3h0 M462.0,250.5h0 M462.1,246.8h0 M434.7,236.9h0 M468.6,228.1h0 M446.0,186.5h0 M483.5,203.3h0 M437.2,207.4h0 M437.1,212.7h0 M438.7,190.1h0 M475.8,189.4h0 M434.3,211.2h0 M470.3,239.3h0 M432.8,209.1h0 M477.8,213.4h0 M466.0,240.2h0 M455.7,187.6h0 M451.5,244.1h0 M416.9,201.3h0 M463.3,194.2h0 M440.9,200.8h0 M466.8,193.0h0 M451.3,196.6h0 M474.8,247.7h0 M479.2,232.5h0 M462.6,217.2h0 M463.7,233.6h0 M451.0,190.8h0 M469.9,206.5h0 M460.8,231.5h0 M477.9,221.2h0 M456.3,214.9h0 M493.4,229.7h0 M498.1,218.6h0 M456.9,231.6h0 M481.1,229.8h0 M484.9,204.7h0 M471.6,242.0h0 M435.6,195.0h0 M473.0,244.2h0 M431.8,191.2h0 M474.2,226.7h0 M457.3,240.8h0 M476.6,221.5h0 M453.4,217.9h0 M477.2,187.4h0 M419.6,221.9h0 M439.9,208.7h0 M443.3,208.1h0 M429.9,238.1h0 M457.8,214.5h0 M497.1,215.5h0 M469.4,245.4h0 M495.7,215.9h0 M441.9,190.7h0 M449.9,191.4h0 M489.3,221.6h0 M463.2,185.7h0 M464.7,232.0h0 M474.9,246.8h0 M491.6,203.9h0 M491.6,220.3h0 M446.7,249.3h0 M495.7,211.6h0 M496.6,214.8h0 M442.3,196.7h0 M441.6,243.4h0 M450.3,209.8h0 M473.9,215.8h0 M465.7,246.9h0 M438.1,212.6h0 M462.1,201.3h0 M476.0,221.2h0 M461.0,238.3h0 M427.6,196.7h0 M423.7,218.0h0 M460.8,226.3h0 M474.7,196.6h0 M458.6,192.0h0 M485.9,200.4h0 M452.1,197.1h0 M486.4,232.2h0 M485.8,231.5h0 M464.9,214.6h0 M479.7,233.1h0 M468.0,207.7h0 M488.3,208.7h0 M463.8,218.0h0 M469.0,245.2h0 M490.0,205.5h0 M454.1,209.5h0 M458.1,226.2h0 M463.6,216.4h0 M455.7,220.2h0 M433.5,213.5h0 M451.5,238.7h0 M462.2,228.0h0 M493.8,209.6h0 M456.2,240.0h0 M442.0,189.4h0 M448.8,248.1h0 M486.4,225.8h0 M441.9,230.9h0 M479.0,218.0h0 M475.1,247.4h0 M451.6,211.8h0 M434.5,234.6h0 M465.4,224.7h0 M492.8,204.6h0 M480.7,221.9h0 M475.3,241.6h0 M435.7,227.9h0 M466.7,233.8h0 M446.8,195.2h0 M457.1,194.5h0 M488.0,217.6h0 M467.0,240.2h0 M431.6,208.1h0 M451.7,199.9h0 M456.9,246.0h0 M457.8,233.3h0 M480.3,209.3h0 M442.4,188.6h0 M436.1,189.1h0 M470.7,227.5h0 M469.6,216.4h0 M432.0,214.5h0 M487.9,209.7h0 M446.1,213.3h0 M483.7,234.4h0 M447.4,214.2h0 M482.9,230.2h0 M491.8,232.1h0 M479.0,236.1h0 M438.2,191.2h0 M487.2,219.1h0 M449.6,218.8h0 M451.3,239.9h0 M471.6,194.3h0 M448.2,243.5h0 M441.9,230.1h0 M443.9,222.1h0 M455.3,205.0h0 M475.8,200.9h0 M436.4,190.3h0 M444.7,185.8h0 M440.1,201.7h0 M467.3,237.0h0 M480.0,221.5h0 M490.9,221.8h0 M491.3,218.2h0 M487.9,199.1h0 M462.8,194.2h0 M443.5,196.5h0 M482.5,215.1h0 M434.3,241.4h0 M441.5,227.6h0 M485.2,241.3h0 M470.4,188.2h0 M443.6,211.4h0 M483.0,201.3h0 M461.2,192.9h0 M454.6,183.2h0 M446.7,220.5h0 M477.4,204.0h0 M462.2,195.2h0 M454.5,198.6h0 M453.5,214.7h0 M471.2,201.9h0 M428.1,240.7h0 M442.3,223.5h0 M443.2,238.4h0 M493.1,210.5h0 M457.2,196.7h0 M465.9,184.5h0 M472.7,207.0h0 M486.0,236.1h0 M435.2,212.1h0 M474.8,230.1h0 M494.9,221.9h0 M461.9,240.1h0 M494.4,218.1h0 M497.8,219.8h0 M457.4,208.9h0 M428.1,226.4h0 M473.1,213.7h0 M480.9,206.3h0 M454.2,192.3h0 M492.0,233.7h0 M488.4,208.2h0 M452.7,215.7h0 M444.8,185.1h0 M469.4,238.3h0 M445.2,215.0h0 M481.9,230.2h0 M486.6,194.7h0 M461.5,249.6h0 M425.7,195.4h0 M434.1,196.6h0 M457.8,201.0h0 M466.7,188.8h0 M435.0,225.4h0 M458.9,221.6h0 M484.9,235.8h0 M438.3,202.2h0 M473.6,221.8h0 M461.5,230.9h0 M441.9,209.8h0 M453.9,191.3h0 M481.0,199.2h0 M473.9,203.0h0 M440.1,217.8h0 M430.7,235.3h0 M466.4,243.0h0 M492.3,222.7h0 M456.5,194.5h0 M435.4,207.9h0 M478.5,236.2h0 M470.5,208.1h0 M481.4,191.6h0 M473.2,191.9h0 M455.6,241.8h0 M466.8,186.6h0 M439.9,187.1h0 M437.3,233.4h0 M433.4,225.0h0 M445.2,228.6h0 M469.7,243.4h0 M463.5,197.3h0 M474.1,211.3h0 M426.3,231.3h0 M469.1,230.1h0 M467.0,192.8h0 M428.2,223.1h0 M462.2,200.7h0 M491.1,206.3h0 M442.1,186.4h0 M455.4,206.4h0 M463.2,214.3h0 M450.5,225.6h0 M480.2,227.2h0 M458.0,190.2h0 M463.7,190.2h0 M484.7,208.8h0 M446.2,200.9h0 M452.7,238.8h0 M444.9,223.8h0 M453.1,226.3h0 M436.5,233.3h0 M448.0,231.2h0 M465.2,198.4h0 M460.9,190.5h0 M448.4,238.5h0 M457.8,216.7h0 M455.0,188.8h0 M465.2,237.9h0 M467.0,243.2h0 M451.6,223.7h0 M484.7,202.4h0 M459.0,223.2h0 M465.3,208.0h0 M478.2,220.0h0 M465.3,209.1h0 M484.6,218.1h0 M456.0,225.3h0 M434.1,237.2h0 M493.2,230.1h0 M483.8,241.8h0 M472.4,185.7h0 M431.9,240.6h0 M451.4,230.6h0 M452.0,213.9h0 M452.5,183.7h0 M495.2,214.5h0 M451.8,208.4h0 M487.6,208.0h0 M433.9,211.0h0 M490.4,234.8h0 M451.0,237.3h0 M437.4,212.2h0 M469.7,222.4h0 M467.8,203.1h0 M455.9,217.8h0 M472.0,230.0h0 M480.4,223.9h0 M429.9,199.9h0 M482.2,202.4h0 M445.8,232.7h0 M452.7,219.6h0 M427.7,217.4h0 M463.8,193.2h0 M482.8,222.5h0 M452.7,187.8h0 M457.5,186.4h0 M442.2,246.7h0 M476.8,224.1h0 M456.5,208.4h0 M431.5,204.5h0 M431.0,239.7h0 M474.0,217.7h0 M465.3,223.0h0 M445.8,188.8h0 M454.1,237.6h0 M488.9,237.3h0 M459.8,194.6h0 M481.7,240.6h0 M468.0,218.6h0 M465.9,236.6h0 M441.4,199.1h0 M456.6,206.9h0" stroke="#9400d3" stroke-width="2.10" stroke-linecap="round" fill="none" opacity="0.50"/>
<path d="M481.1,217.9h0 M452.5,230.0h0 M469.5,190.0h0 M474.8,208.6h0 M478.2,231.3h0 M453.1,214.4h0 M486.6,224.8h0 M469.5,235.7h0 M478.8,217.2h0 M472.1,197.5h0 M484.7,207.0h0 M467.3,196.6h0 M458.1,239.7h0 M477.1,221.5h0 M468.7,187.9h0 M492.4,228.0h0 M495.1,219.4h0 M451.6,233.5h0 M469.0,232.2h0 M467.3,201.6h0 M469.8,199.7h0 M453.2,224.7h0 M452.9,249.7h0 M481.7,235.1h0 M470.4,208.3h0 M467.4,203.0h0 M471.2,202.9h0 M483.1,218.3h0 M481.1,211.1h0 M472.9,227.4h0 M468.8,240.4h0 M477.4,199.7h0 M488.5,204.4h0 M451.1,243.8h0 M460.0,206.7h0 M492.1,209.4h0 M492.7,201.7h0 M458.2,244.8h0 M457.5,217.9h0 M485.5,230.2h0 M492.2,227.7h0 M487.5,202.0h0 M477.8,218.8h0 M448.8,199.3h0 M490.2,230.6h0 M465.2,184.0h0 M453.2,191.6h0 M439.9,215.0h0 M471.8,216.2h0 M468.2,235.6h0 M443.7,187.6h0 M482.0,223.1h0 M484.7,223.9h0 M464.6,240.5h0 M451.6,245.1h0 M474.8,222.1h0 M478.3,205.1h0 M440.5,246.8h0 M473.2,196.1h0 M456.3,209.8h0 M476.2,206.4h0 M451.1,187.3h0 M461.5,206.8h0 M461.8,199.7h0 M489.0,201.4h0 M439.0,202.2h0 M472.4,240.7h0 M454.1,191.5h0 M489.1,220.6h0 M444.9,210.9h0 M467.3,221.7h0 M465.0,237.9h0 M485.9,235.1h0 M489.4,197.7h0 M480.5,222.2h0 M477.6,210.0h0 M497.2,222.5h0 M462.8,232.4h0 M476.5,193.5h0 M459.3,231.9h0 M446.7,188.7h0 M461.2,207.6h0 M486.0,195.1h0 M474.4,202.8h0 M475.8,217.4h0 M471.5,205.7h0 M438.1,207.2h0 M463.3,231.5h0 M471.3,205.5h0 M456.2,231.7h0 M471.2,222.1h0 M442.6,197.5h0 M438.9,210.9h0 M469.8,212.5h0 M452.9,230.1h0 M476.4,202.6h0 M465.6,197.2h0 M489.2,233.0h0 M488.8,200.1h0 M456.6,204.8h0 M490.1,219.9h0 M457.8,229.8h0 M445.6,224.7h0 M445.4,224.6h0 M472.8,197.5h0 M457.6,196.4h0 M467.5,228.4h0 M464.2,198.0h0 M461.6,207.0h0 M476.5,198.4h0 M488.5,201.2h0 M448.1,243.5h0 M489.2,220.4h0 M473.5,199.1h0 M479.7,203.3h0 M454.5,211.1h0 M473.5,241.3h0 M461.9,230.4h0 M485.0,234.6h0 M476.1,187.8h0 M449.8,211.8h0 M435.5,202.7h0 M449.2,225.3h0 M442.7,209.6h0 M459.6,206.8h0 M464.4,235.0h0 M487.7,206.1h0 M481.2,223.1h0 M465.3,213.1h0 M451.4,210.6h0 M461.7,191.3h0 M488.1,218.1h0 M463.4,229.1h0 M477.4,194.8h0 M474.5,247.4h0 M459.1,221.2h0 M475.3,194.7h0 M485.9,233.1h0 M471.7,229.5h0 M451.5,189.1h0 M492.0,222.5h0 M460.2,248.8h0 M457.5,241.7h0 M483.8,210.2h0 M459.6,218.5h0 M456.7,197.3h0 M461.4,198.6h0 M479.1,237.6h0 M456.6,227.5h0 M477.8,235.5h0 M467.9,185.9h0 M466.6,245.9h0 M456.4,215.9h0 M458.6,185.3h0 M462.7,193.2h0 M459.1,237.2h0 M458.4,241.4h0 M461.8,232.6h0 M491.4,212.8h0 M451.0,235.4h0 M483.4,237.9h0 M445.8,209.6h0 M459.3,206.8h0 M448.1,234.4h0 M465.4,233.1h0 M483.1,242.8h0 M438.4,186.7h0 M488.3,228.2h0 M466.7,221.7h0 M480.8,233.9h0 M473.0,196.5h0 M484.2,239.6h0 M475.8,202.2h0 M489.0,201.4h0 M477.7,203.5h0 M454.7,195.7h0 M451.9,236.7h0 M482.3,217.1h0 M468.3,190.6h0 M464.6,188.3h0 M469.6,206.1h0 M445.4,228.9h0 M442.0,236.7h0 M470.5,216.4h0 M440.6,230.2h0 M451.5,238.1h0 M439.8,217.7h0 M486.5,231.0h0 M454.3,244.4h0 M446.0,223.1h0 M495.1,229.3h0 M468.8,192.4h0 M496.1,221.0h0 M485.4,220.2h0 M474.0,190.2h0 M460.9,189.6h0 M448.8,185.6h0 M469.3,238.8h0 M461.2,250.2h0 M487.1,233.4h0 M470.5,245.2h0 M452.1,199.7h0 M452.0,227.3h0 M477.2,214.3h0 M466.2,197.2h0 M478.2,193.3h0 M483.5,212.1h0 M497.6,220.4h0 M459.1,210.7h0 M475.5,238.2h0 M440.1,228.4h0 M448.6,213.3h0 M459.2,216.2h0 M465.3,193.8h0 M459.9,240.9h0 M494.5,218.5h0 M486.7,218.7h0 M458.2,192.9h0 M456.4,204.5h0 M492.7,214.5h0 M483.7,208.6h0 M476.5,225.3h0 M498.3,218.4h0 M457.1,225.2h0 M475.1,203.5h0 M455.5,204.1h0 M451.2,184.6h0 M472.1,204.3h0 M478.5,237.9h0 M469.8,226.6h0 M468.3,236.1h0 M464.4,197.2h0 M469.7,220.2h0 M470.9,188.4h0 M470.9,201.0h0 M475.9,231.4h0 M488.9,223.4h0 M468.0,230.0h0 M490.7,232.8h0 M479.5,204.7h0 M488.1,199.4h0 M483.2,199.1h0 M444.5,205.2h0 M457.3,242.5h0 M454.0,220.5h0 M444.7,223.5h0 M450.1,249.2h0 M469.5,210.7h0 M461.9,244.0h0 M469.4,244.5h0 M433.3,222.7h0 M447.9,238.2h0 M466.5,215.5h0 M447.6,237.6h0 M465.4,244.2h0 M488.3,224.8h0 M467.4,240.6h0 M475.6,202.7h0 M467.8,233.5h0 M475.0,238.3h0 M456.7,238.6h0 M466.7,243.0h0 M452.0,249.1h0 M444.4,216.4h0 M458.9,205.5h0 M462.0,232.7h0 M449.8,206.9h0 M441.4,246.4h0 M462.9,194.7h0 M467.7,187.0h0 M466.7,243.7h0 M468.1,248.1h0 M488.7,236.4h0 M447.0,222.1h0 M440.2,202.5h0 M491.0,201.0h0 M484.1,215.4h0 M474.4,185.8h0 M459.0,246.8h0 M444.9,205.9h0 M463.1,235.1h0 M463.1,221.7h0 M447.3,193.6h0 M480.2,232.7h0 M453.5,199.2h0 M478.5,200.1h0 M494.4,223.1h0 M493.7,215.4h0 M473.2,188.7h0 M471.2,209.7h0 M449.5,232.8h0 M469.5,194.3h0 M484.3,208.5h0 M487.6,208.1h0 M461.1,211.7h0 M457.5,230.4h0 M471.9,240.8h0 M470.3,236.2h0 M483.9,240.1h0 M449.8,203.3h0" stroke="#fff" stroke-width="1.60" stroke-linecap="round" fill="none" opacity="0.50"/>
<defs><radialGradient id="gdp" cx="403" cy="217" r="161" gradientUnits="userSpaceOnUse"><stop offset="0" stop-color="#5a0a96" stop-opacity="1"/><stop offset="0.3" stop-color="#5a0a96" stop-opacity="0.75"/><stop offset="0.5" stop-color="#5a0a96" stop-opacity="0.25"/><stop offset="1" stop-color="#5a0a96" stop-opacity="0.06"/></radialGradient></defs>
<path d="M403.20,216.80 L403.25,216.80 L403.40,216.80 L403.65,216.79 L404.00,216.78 L404.45,216.76 L404.99,216.72 L405.63,216.66 L406.37,216.58 L407.21,216.47 L408.14,216.32 L409.17,216.14 L410.28,215.91 L411.49,215.63 L412.79,215.30 L414.18,214.92 L415.65,214.49 L417.20,214.00 L418.84,213.46 L420.56,212.86 L422.36,212.21 L424.23,211.51 L426.18,210.76 L428.20,209.97 L430.28,209.13 L432.44,208.26 L434.65,207.36 L436.93,206.43 L439.26,205.49 L441.65,204.52 L444.09,203.55 L446.59,202.57 L449.12,201.59 L451.70,200.62 L454.32,199.66 L456.97,198.72 L459.66,197.79 L462.38,196.89 L465.12,196.01 L467.89,195.17 L470.67,194.36 L473.47,193.58 L476.29,192.85 L479.11,192.15 L481.94,191.50 L484.76,190.90 L487.59,190.34 L490.41,189.84 L493.23,189.39 L496.03,189.00 L498.81,188.66 L501.58,188.38 L504.32,188.16 L507.04,188.00 L509.73,187.91 L512.38,187.89 L515.00,187.93 L517.58,188.04 L520.11,188.22 L522.61,188.47 L525.05,188.78 L527.44,189.17 L529.77,189.62 L532.05,190.14 L534.26,190.73 L536.42,191.38 L538.50,192.09 L540.52,192.86 L542.47,193.68 L544.34,194.55 L546.14,195.46 L547.86,196.42 L549.50,197.42 L551.05,198.45 L552.52,199.51 L553.91,200.60 L555.21,201.71 L556.42,202.83 L557.53,203.97 L558.56,205.12 L559.49,206.28 L560.33,207.44 L561.07,208.61 L561.71,209.78 L562.25,210.95 L562.70,212.12 L563.05,213.29 L563.30,214.46 L563.45,215.63 L563.50,216.80 L563.45,217.97 L563.30,219.14 L563.05,220.31 L562.70,221.48 L562.25,222.65 L561.71,223.82 L561.07,224.99 L560.33,226.16 L559.49,227.32 L558.56,228.48 L557.53,229.63 L556.42,230.77 L555.21,231.89 L553.91,233.00 L552.52,234.09 L551.05,235.15 L549.50,236.18 L547.86,237.18 L546.14,238.14 L544.34,239.05 L542.47,239.92 L540.52,240.74 L538.50,241.51 L536.42,242.22 L534.26,242.87 L532.05,243.46 L529.77,243.98 L527.44,244.43 L525.05,244.82 L522.61,245.13 L520.11,245.38 L517.58,245.56 L515.00,245.67 L512.38,245.71 L509.73,245.69 L507.04,245.60 L504.32,245.44 L501.58,245.22 L498.81,244.94 L496.03,244.60 L493.23,244.21 L490.41,243.76 L487.59,243.26 L484.76,242.70 L481.94,242.10 L479.11,241.45 L476.29,240.75 L473.47,240.02 L470.67,239.24 L467.89,238.43 L465.12,237.59 L462.38,236.71 L459.66,235.81 L456.97,234.88 L454.32,233.94 L451.70,232.98 L449.12,232.01 L446.59,231.03 L444.09,230.05 L441.65,229.08 L439.26,228.11 L436.93,227.17 L434.65,226.24 L432.44,225.34 L430.28,224.47 L428.20,223.63 L426.18,222.84 L424.23,222.09 L422.36,221.39 L420.56,220.74 L418.84,220.14 L417.20,219.60 L415.65,219.11 L414.18,218.68 L412.79,218.30 L411.49,217.97 L410.28,217.69 L409.17,217.46 L408.14,217.28 L407.21,217.13 L406.37,217.02 L405.63,216.94 L404.99,216.88 L404.45,216.84 L404.00,216.82 L403.65,216.81 L403.40,216.80 L403.25,216.80Z" fill="url(#gdp)"/>
<path d="M493.0,244.2h0 M481.3,235.7h0 M473.9,227.7h0 M526.1,224.4h0 M550.2,234.6h0 M519.6,212.5h0 M497.7,244.2h0 M456.1,214.4h0 M523.9,196.6h0 M506.7,239.7h0 M546.2,207.8h0 M500.1,206.5h0 M512.0,207.2h0 M488.6,205.9h0 M482.9,202.3h0 M525.2,229.1h0 M502.8,242.5h0 M501.6,225.5h0 M443.4,226.4h0 M489.5,240.3h0 M481.7,218.3h0 M534.4,222.2h0 M467.2,225.1h0 M504.8,194.8h0 M483.6,227.2h0 M514.4,189.2h0 M525.9,198.3h0 M472.8,217.0h0 M480.2,220.4h0 M536.3,214.9h0 M477.9,217.4h0 M506.7,228.4h0 M545.6,210.4h0 M541.0,229.8h0 M517.4,230.8h0 M467.4,206.3h0 M526.3,193.9h0 M450.9,209.6h0 M531.1,233.7h0 M521.3,189.3h0 M479.4,211.9h0 M532.6,223.7h0 M505.8,229.4h0 M488.2,197.1h0 M537.4,238.6h0 M523.2,199.4h0 M504.5,234.1h0 M502.5,207.0h0 M447.5,214.1h0 M494.9,230.8h0 M484.5,215.2h0 M504.2,194.3h0 M463.3,207.1h0 M486.1,209.7h0 M541.1,205.8h0 M517.2,239.0h0 M524.1,221.2h0 M498.4,228.8h0 M485.3,217.6h0 M529.6,236.7h0 M496.2,227.1h0 M504.0,197.4h0 M509.9,230.6h0 M537.9,201.8h0 M549.9,227.8h0 M503.0,214.5h0 M470.5,226.2h0 M518.1,237.3h0 M536.6,227.3h0 M516.8,204.2h0 M518.1,236.8h0 M522.6,233.4h0 M540.2,218.3h0 M481.9,215.6h0 M555.5,229.1h0 M512.9,229.8h0 M459.0,200.1h0 M548.9,236.4h0 M493.8,220.6h0 M518.8,219.5h0 M462.1,235.0h0 M518.7,223.6h0 M557.9,227.4h0 M497.6,218.6h0 M557.9,210.6h0 M552.1,204.3h0 M474.4,233.2h0 M493.4,195.5h0 M525.4,234.9h0 M540.5,204.2h0 M490.1,237.5h0 M555.0,207.5h0 M518.9,207.4h0 M524.4,213.0h0 M523.7,238.5h0 M502.4,195.1h0 M542.8,233.3h0 M444.0,214.7h0 M550.6,224.1h0 M471.7,218.8h0 M452.8,210.9h0 M503.8,194.1h0 M504.2,206.7h0 M517.2,212.3h0 M517.0,194.2h0 M526.8,238.4h0 M484.7,193.5h0 M522.7,200.9h0 M504.1,200.6h0 M528.5,189.6h0 M487.9,214.3h0 M508.7,208.0h0 M517.8,234.0h0 M557.5,229.6h0 M510.2,193.3h0 M465.8,220.8h0 M506.6,216.9h0 M474.8,202.7h0 M502.5,193.6h0 M556.0,229.4h0 M488.6,226.9h0 M485.2,214.5h0 M474.5,224.1h0 M523.8,216.8h0 M471.8,205.2h0 M537.1,239.5h0 M493.2,226.1h0 M495.6,203.3h0 M513.9,192.8h0 M560.3,212.9h0 M479.6,218.6h0 M506.3,237.7h0 M477.8,226.5h0 M471.8,227.6h0 M537.0,240.5h0 M497.7,242.2h0 M454.4,228.2h0 M496.5,195.4h0 M468.9,224.4h0 M510.9,225.0h0 M533.7,216.2h0 M523.0,215.7h0 M493.3,202.0h0 M484.3,194.3h0 M453.0,224.5h0 M473.5,199.4h0 M522.8,229.5h0 M496.5,238.9h0 M478.4,196.1h0 M493.3,235.9h0 M516.6,242.5h0 M507.2,208.9h0 M502.9,224.8h0 M489.9,201.0h0 M470.8,206.9h0 M502.0,189.6h0 M515.8,227.7h0 M453.9,214.1h0 M506.9,197.6h0 M512.9,202.6h0 M481.9,204.3h0 M499.4,232.7h0 M526.5,226.8h0 M494.3,226.6h0 M522.2,236.7h0 M484.9,205.8h0 M470.5,226.0h0 M530.2,210.1h0 M554.1,227.3h0 M476.6,233.5h0 M520.4,201.0h0 M484.4,198.2h0 M453.6,223.1h0 M559.3,216.7h0 M552.2,212.3h0 M551.2,233.8h0 M489.5,240.4h0 M514.4,222.8h0 M477.5,201.5h0 M561.3,221.3h0 M512.6,238.8h0 M484.1,229.6h0 M492.3,207.8h0 M506.8,236.9h0 M543.5,196.7h0 M543.6,237.4h0 M494.6,225.1h0 M475.4,216.1h0 M510.5,202.4h0 M510.1,228.0h0 M519.5,237.9h0 M499.1,199.9h0 M498.0,195.5h0 M494.8,238.4h0 M548.0,211.4h0 M461.6,205.9h0 M531.4,235.3h0 M500.7,232.5h0 M499.1,208.7h0 M461.9,219.7h0 M506.0,194.6h0 M515.7,224.0h0 M512.9,197.6h0 M524.8,210.1h0 M537.1,217.7h0 M529.1,240.1h0 M533.4,196.8h0 M475.4,218.7h0 M463.7,231.7h0 M525.0,191.8h0 M475.7,238.1h0 M494.5,209.4h0 M551.5,209.6h0 M506.4,193.5h0 M490.2,239.0h0 M507.5,237.7h0 M465.6,197.9h0 M546.7,235.0h0 M512.5,201.4h0 M476.9,221.6h0 M531.4,194.5h0 M488.5,236.9h0 M497.7,198.7h0 M546.1,219.3h0 M476.8,195.0h0 M507.7,203.8h0 M527.4,212.4h0 M516.0,228.0h0 M514.9,189.5h0 M519.4,227.9h0 M458.5,204.2h0 M488.1,232.6h0 M494.5,240.4h0 M545.9,235.3h0 M546.8,232.5h0 M482.9,196.4h0 M486.4,227.5h0 M481.8,203.3h0 M463.8,225.9h0 M486.8,219.5h0 M489.8,233.0h0 M481.9,232.1h0 M561.8,214.5h0 M515.8,217.7h0 M528.1,191.4h0 M542.9,229.1h0 M539.8,232.5h0 M516.5,232.2h0 M488.3,241.3h0 M486.4,226.9h0 M488.8,210.2h0 M515.7,219.3h0 M488.4,226.9h0 M475.9,209.2h0 M501.1,204.8h0 M458.7,205.3h0 M484.6,224.9h0 M546.1,233.3h0 M506.0,225.7h0 M518.8,243.1h0 M503.9,216.7h0 M508.5,237.9h0 M519.1,210.0h0 M488.6,197.6h0 M553.2,220.6h0 M487.8,192.3h0 M515.6,193.2h0 M523.3,219.8h0 M474.5,215.8h0 M488.9,224.7h0 M478.1,212.8h0 M559.8,209.8h0 M527.9,195.1h0 M548.9,227.9h0 M514.2,202.2h0 M489.8,226.2h0 M480.7,208.4h0 M476.4,209.3h0 M513.1,234.9h0 M485.2,241.1h0 M543.8,211.7h0 M471.8,206.9h0 M540.5,221.6h0 M442.2,219.0h0 M474.0,236.1h0 M512.4,231.6h0 M506.3,189.1h0 M532.0,201.3h0 M505.3,230.0h0 M508.9,224.1h0 M463.0,235.8h0 M478.6,238.8h0 M483.0,220.6h0 M546.5,214.2h0 M514.8,243.9h0 M498.4,239.2h0 M515.8,239.4h0 M496.5,221.2h0 M508.5,198.3h0 M492.1,229.6h0 M524.5,210.4h0 M561.8,210.6h0 M458.3,223.6h0 M507.0,203.1h0 M505.7,234.5h0 M526.4,238.3h0 M494.8,204.0h0 M553.1,213.5h0 M478.5,209.6h0 M545.1,235.2h0 M490.9,234.6h0 M532.0,197.3h0 M523.9,204.7h0 M521.7,218.3h0 M542.2,215.7h0 M490.8,224.9h0 M539.6,197.3h0 M509.6,193.5h0 M550.7,234.1h0 M519.8,189.8h0 M530.3,224.8h0 M503.4,228.3h0 M473.5,193.7h0 M515.0,228.9h0 M532.9,234.4h0 M480.0,209.8h0 M510.3,236.4h0 M503.4,222.0h0 M517.8,195.1h0 M516.1,242.5h0 M450.9,218.0h0 M530.6,197.6h0 M520.4,194.8h0 M485.0,241.6h0 M533.5,214.9h0 M471.7,230.6h0 M536.2,205.3h0 M542.8,201.2h0 M493.9,242.4h0 M452.4,231.8h0 M541.8,208.3h0 M503.1,235.7h0 M488.3,242.2h0 M541.0,213.9h0 M546.2,222.8h0 M513.2,212.7h0 M492.2,219.2h0 M532.4,220.2h0 M523.0,215.2h0 M497.4,217.2h0 M481.6,192.2h0 M496.2,190.2h0 M492.9,212.6h0 M559.8,211.7h0 M503.3,191.7h0 M512.9,237.1h0 M558.9,217.4h0 M517.9,230.4h0 M487.8,213.5h0 M508.9,203.5h0 M535.7,194.6h0 M520.7,212.4h0 M458.5,226.3h0 M544.8,199.5h0 M525.4,238.1h0 M542.2,202.3h0 M527.1,233.1h0 M471.9,219.0h0 M469.2,206.6h0 M557.1,210.9h0 M484.2,220.0h0 M512.7,204.7h0 M540.4,236.7h0 M521.5,244.3h0 M487.7,235.0h0 M518.6,211.2h0 M545.2,225.1h0 M481.7,229.2h0 M490.0,213.5h0 M515.8,241.0h0 M490.7,191.5h0 M519.0,190.8h0 M559.7,223.7h0 M465.1,209.9h0 M519.7,230.0h0 M512.6,211.0h0 M550.4,228.3h0 M480.6,222.6h0 M503.6,190.1h0 M502.5,229.8h0 M549.7,207.7h0 M481.1,204.3h0 M546.1,206.2h0 M498.2,244.0h0 M466.8,201.2h0 M486.1,239.7h0 M492.6,202.5h0 M455.8,208.6h0 M456.8,232.1h0 M538.5,232.3h0 M526.4,191.1h0 M518.3,202.3h0 M528.1,212.4h0 M514.8,199.4h0 M463.7,216.1h0 M537.0,238.8h0 M497.9,201.1h0 M520.4,194.6h0 M550.4,219.2h0 M530.2,214.0h0 M532.9,217.6h0 M517.3,228.2h0 M513.6,199.3h0 M474.2,224.3h0 M501.2,206.5h0 M448.9,221.6h0 M541.0,213.3h0 M532.9,234.9h0 M482.8,194.2h0 M547.1,214.0h0 M539.6,204.2h0 M472.5,201.6h0 M474.6,198.0h0 M552.2,231.5h0 M536.8,192.0h0 M531.3,227.0h0 M519.0,237.6h0 M551.5,220.5h0 M483.3,214.0h0 M525.6,227.1h0 M522.2,204.9h0 M516.2,200.1h0 M557.6,219.2h0 M505.1,210.8h0 M485.2,191.9h0 M535.2,220.4h0 M527.4,207.7h0 M467.1,230.9h0 M526.9,235.7h0 M471.6,217.5h0 M526.5,209.1h0 M538.5,232.8h0 M498.3,212.1h0 M507.5,204.9h0 M510.5,244.8h0 M504.4,241.0h0 M509.4,191.0h0 M499.3,230.8h0 M520.2,198.7h0 M496.5,219.5h0 M487.9,236.9h0 M497.1,194.1h0 M532.0,192.1h0 M449.3,213.5h0 M475.7,211.0h0 M524.5,212.5h0 M499.8,200.2h0 M481.2,235.6h0 M481.4,233.5h0 M501.0,218.9h0 M470.8,225.2h0 M540.1,239.4h0 M485.6,208.1h0 M555.1,230.0h0 M506.9,213.8h0 M493.8,243.7h0 M543.2,234.9h0 M497.2,213.0h0 M537.9,198.8h0 M475.2,220.8h0 M491.3,236.6h0 M507.8,231.2h0 M482.2,241.3h0 M531.6,242.9h0 M545.9,216.2h0 M457.4,228.2h0 M563.1,218.6h0 M513.7,209.7h0 M492.7,203.5h0 M524.1,229.8h0 M520.5,202.5h0 M486.3,211.8h0 M532.2,220.7h0 M501.6,240.7h0 M560.4,211.8h0 M558.3,221.5h0 M461.3,235.0h0 M467.0,218.6h0 M494.3,229.5h0 M518.1,227.9h0 M514.7,218.3h0 M469.9,236.0h0 M469.8,199.3h0 M475.0,218.6h0 M546.3,206.4h0 M512.1,221.9h0 M486.8,195.3h0 M490.8,212.8h0 M472.4,229.7h0 M458.9,230.2h0 M483.9,225.9h0 M500.3,215.4h0 M556.4,221.0h0 M490.1,219.8h0 M463.8,217.4h0 M458.3,204.9h0 M474.7,199.7h0 M548.1,231.3h0 M489.0,227.7h0 M491.2,195.9h0 M545.6,202.5h0 M505.5,211.0h0 M546.1,208.6h0 M499.5,197.7h0 M555.5,219.8h0 M550.3,224.1h0 M452.4,225.6h0 M512.1,240.4h0 M479.7,234.5h0 M549.1,228.3h0 M475.0,230.8h0 M552.9,227.3h0 M522.5,219.6h0 M497.0,242.6h0 M484.1,215.9h0 M485.4,214.0h0 M475.7,203.7h0 M478.7,231.1h0 M516.0,205.4h0 M481.3,225.6h0 M482.4,236.1h0 M534.2,236.0h0 M502.1,209.0h0 M501.1,236.6h0 M519.8,221.5h0 M506.0,188.4h0 M551.4,215.0h0 M478.0,193.2h0 M440.3,221.7h0 M544.2,195.2h0 M478.4,217.2h0 M481.7,231.6h0 M546.4,196.9h0 M516.1,199.6h0 M554.0,214.3h0 M511.1,199.8h0 M515.1,219.2h0 M533.5,217.5h0 M522.4,192.5h0 M514.1,237.8h0 M559.1,207.7h0 M523.7,220.8h0 M497.4,226.1h0 M491.4,191.0h0 M515.5,242.6h0 M489.4,243.4h0 M494.7,206.4h0 M517.8,192.6h0 M486.3,224.6h0 M515.0,242.6h0 M523.3,218.2h0 M476.8,233.5h0 M498.7,190.9h0 M495.7,189.8h0 M463.4,204.0h0 M548.9,227.9h0 M548.6,216.3h0 M522.4,223.7h0 M540.0,195.0h0 M450.3,226.4h0 M491.4,233.3h0 M484.8,208.1h0 M496.7,209.2h0 M502.7,205.3h0 M490.5,229.2h0 M552.9,203.7h0 M550.7,224.8h0 M517.9,226.9h0 M499.3,221.2h0 M455.3,215.6h0 M545.5,213.6h0 M493.4,214.4h0 M536.8,203.8h0 M539.9,217.5h0 M457.3,204.2h0 M558.0,210.3h0 M512.9,191.8h0 M537.7,206.9h0 M549.2,227.6h0 M552.6,222.3h0 M509.6,188.9h0 M526.1,210.1h0 M478.8,232.9h0 M507.2,235.7h0 M461.8,208.3h0 M462.8,226.4h0 M509.9,233.6h0 M493.6,222.9h0 M538.0,197.4h0 M558.2,213.0h0 M548.7,229.1h0 M528.5,198.0h0 M507.1,217.7h0 M545.1,216.6h0 M536.5,194.7h0 M519.4,213.0h0 M500.2,201.2h0 M561.9,213.2h0 M507.1,211.3h0 M494.5,244.2h0 M482.0,214.0h0 M474.5,194.5h0 M504.9,200.1h0 M500.1,220.9h0 M445.5,226.2h0 M476.5,228.9h0 M552.5,229.5h0 M460.3,227.3h0 M512.4,231.6h0 M477.1,238.2h0 M525.5,196.3h0 M520.9,229.5h0 M517.3,230.4h0 M487.7,211.8h0 M516.8,239.6h0 M545.0,209.1h0 M447.5,213.9h0 M479.8,206.8h0 M511.1,215.8h0 M552.2,206.9h0 M466.0,227.3h0 M533.7,226.6h0 M478.9,240.2h0 M471.6,199.9h0 M505.7,218.4h0 M510.0,211.5h0 M514.5,222.8h0 M543.5,223.8h0 M471.4,221.9h0 M511.1,244.8h0 M521.0,237.4h0 M515.8,214.6h0 M527.9,191.4h0 M550.3,206.5h0 M457.4,219.1h0 M496.7,236.0h0 M516.6,223.0h0 M524.5,238.4h0 M530.2,237.8h0 M551.3,213.6h0 M485.0,209.7h0 M518.2,198.1h0 M508.0,232.0h0 M506.6,199.8h0 M507.5,217.5h0 M546.6,212.4h0 M490.7,235.2h0 M523.8,233.7h0 M490.5,220.7h0 M498.6,213.7h0 M554.7,217.5h0 M532.6,236.9h0 M520.9,192.4h0 M527.8,239.6h0 M545.7,237.1h0 M512.0,206.3h0 M479.1,196.6h0 M501.4,227.8h0 M503.6,228.4h0 M481.5,193.1h0 M442.7,223.5h0 M536.2,222.7h0 M540.2,209.4h0 M488.2,214.5h0 M548.8,233.2h0 M533.3,237.7h0 M540.2,207.5h0 M515.0,242.0h0 M496.8,220.9h0 M522.2,220.3h0 M501.2,235.8h0 M550.7,215.0h0 M495.1,197.8h0 M528.0,227.3h0 M532.6,240.0h0 M535.8,200.0h0 M531.1,236.2h0 M475.6,231.0h0 M523.9,195.7h0 M444.1,225.1h0 M522.7,205.3h0 M546.7,222.5h0 M532.7,230.7h0 M510.3,237.8h0 M496.2,192.6h0 M529.6,192.7h0 M531.7,233.9h0 M449.1,203.5h0 M538.4,198.9h0 M508.5,223.0h0 M533.7,200.7h0 M507.5,241.3h0 M508.3,239.0h0 M542.2,194.7h0 M528.2,220.9h0 M502.4,208.7h0 M543.3,239.0h0 M550.3,201.5h0 M513.6,207.5h0 M486.7,209.9h0 M547.8,225.3h0 M533.8,204.3h0 M543.4,230.9h0 M559.5,219.6h0 M498.1,229.9h0 M487.4,240.1h0 M530.9,219.9h0 M509.3,243.3h0 M527.3,204.9h0 M530.0,221.2h0 M547.2,237.0h0 M512.0,223.9h0 M473.3,201.9h0 M509.9,228.9h0 M499.0,198.8h0 M455.8,214.2h0 M542.0,230.7h0 M480.3,209.8h0 M540.9,202.5h0 M500.6,215.2h0 M535.8,213.1h0 M536.1,220.8h0 M508.3,209.7h0 M499.6,199.4h0 M556.6,204.8h0 M491.0,199.3h0 M479.2,241.0h0 M460.0,223.5h0 M473.6,204.8h0 M494.6,240.0h0 M509.6,238.4h0 M518.4,221.6h0 M553.6,210.8h0 M500.1,212.9h0 M520.6,188.3h0 M463.0,214.9h0 M489.7,210.8h0 M509.7,229.1h0 M460.1,207.9h0 M495.0,220.8h0 M528.9,205.4h0 M527.6,221.8h0 M497.3,211.3h0 M521.9,216.1h0 M497.4,232.7h0 M493.2,231.1h0 M549.2,198.4h0 M505.3,206.8h0 M519.0,193.2h0 M476.5,210.4h0 M508.9,203.1h0 M523.1,231.8h0 M491.4,217.0h0 M516.4,227.4h0 M530.3,211.8h0 M537.9,224.0h0 M533.5,205.7h0 M540.4,237.1h0 M511.3,235.1h0 M541.5,210.8h0 M508.4,225.0h0 M489.8,200.5h0 M486.6,192.9h0 M488.9,212.8h0 M487.8,195.1h0 M542.7,227.1h0 M527.6,191.8h0 M509.5,201.5h0 M534.7,201.7h0 M493.4,243.4h0 M504.2,195.9h0 M535.0,195.9h0 M529.0,232.2h0 M486.0,226.2h0 M500.6,194.1h0 M484.9,199.7h0 M459.7,224.7h0 M492.3,203.8h0 M480.6,198.5h0 M484.7,237.5h0 M511.6,216.2h0 M487.6,215.7h0 M495.1,208.7h0 M524.5,200.1h0 M492.0,206.6h0 M506.0,214.1h0 M539.3,221.0h0 M503.2,229.2h0 M533.0,194.4h0 M536.6,197.3h0" stroke="#7a3cb0" stroke-width="2.20" stroke-linecap="round" fill="none" opacity="0.55"/>
<path d="M446.20,216.80 L446.17,216.13 L446.13,215.45 L446.07,214.78 L446.01,214.11 L445.93,213.44 L445.84,212.77 L445.74,212.11 L445.62,211.44 L445.49,210.78 L445.35,210.13 L445.20,209.47 L445.03,208.82 L444.86,208.18 L444.67,207.53 L444.47,206.90 L444.25,206.26 L444.03,205.63 L443.80,205.01 L443.55,204.39 L443.30,203.77 L443.03,203.16 L442.76,202.55 L442.48,201.95 L442.19,201.35 L441.89,200.76 L441.59,200.18 L441.27,199.59 L440.95,199.02 L440.62,198.44 L440.28,197.88 L439.93,197.32 L439.57,196.76 L439.20,196.22 L438.82,195.67 L438.43,195.14 L438.04,194.61 L437.64,194.09 L437.23,193.58 L436.81,193.07 L436.38,192.57 L435.94,192.08 L435.49,191.59 L435.04,191.12 L434.58,190.65 L434.11,190.19 L433.64,189.74 L433.15,189.29 L432.66,188.86 L432.16,188.43 L431.65,188.01 L431.14,187.61 L430.62,187.21 L430.09,186.82 L429.56,186.44 L429.02,186.07 L428.47,185.71 L427.92,185.36 L427.36,185.01 L426.80,184.68 L426.23,184.36 L425.66,184.05 L425.08,183.74 L424.49,183.45 L423.91,183.16 L423.31,182.89 L422.72,182.62 L422.12,182.37 L421.51,182.12 L420.90,181.88 L420.29,181.66 L419.68,181.44 L419.06,181.22 L418.44,181.01 L417.82,180.81 L417.20,180.61 L416.57,180.42 L415.94,180.24 L415.31,180.07 L414.67,179.90 L414.03,179.75 L413.39,179.60 L412.75,179.47 L412.10,179.35 L411.45,179.24 L410.79,179.15 L410.14,179.07 L409.48,179.00 L408.82,178.95 L408.16,178.92 L407.50,178.90 L406.84,178.90 L406.18,178.91 L405.52,178.93 L404.85,178.96 L404.19,179.00 L403.53,179.06 L402.87,179.13 L402.22,179.21 L401.56,179.30 L400.91,179.40 L400.25,179.52 L399.60,179.65 L398.95,179.79 L398.31,179.94 L397.67,180.10 L397.03,180.28 L396.39,180.46 L395.76,180.66 L395.13,180.87 L394.50,181.09 L393.88,181.33 L393.27,181.58 L392.66,181.85 L392.06,182.12 L391.47,182.42 L390.88,182.72 L390.30,183.03 L389.72,183.36 L389.15,183.70 L388.59,184.05 L388.03,184.40 L387.49,184.77 L386.95,185.15 L386.41,185.54 L385.89,185.93 L385.37,186.34 L384.86,186.75 L384.36,187.18 L383.87,187.62 L383.39,188.06 L382.91,188.52 L382.45,188.98 L382.00,189.46 L381.56,189.94 L381.14,190.44 L380.72,190.94 L380.32,191.45 L379.93,191.97 L379.55,192.50 L379.19,193.04 L378.85,193.60 L378.55,194.18 L378.27,194.77 L378.01,195.38 L377.78,195.99 L377.58,196.62 L377.39,197.25 L377.22,197.88 L377.07,198.51 L376.93,199.15 L376.80,199.78 L376.68,200.41 L376.57,201.04 L376.45,201.66 L376.34,202.27 L376.23,202.88 L376.12,203.48 L376.02,204.08 L375.92,204.68 L375.84,205.28 L375.77,205.87 L375.70,206.47 L375.64,207.06 L375.59,207.65 L375.55,208.24 L375.51,208.82 L375.48,209.41 L375.45,209.99 L375.42,210.56 L375.40,211.14 L375.38,211.71 L375.37,212.28 L375.36,212.85 L375.37,213.42 L375.37,213.99 L375.39,214.55 L375.41,215.12 L375.44,215.68 L375.47,216.24 L375.50,216.80 L375.47,217.36 L375.44,217.92 L375.41,218.48 L375.39,219.05 L375.37,219.61 L375.37,220.18 L375.36,220.75 L375.37,221.32 L375.38,221.89 L375.40,222.46 L375.42,223.04 L375.45,223.61 L375.48,224.19 L375.51,224.78 L375.55,225.36 L375.59,225.95 L375.64,226.54 L375.70,227.13 L375.77,227.73 L375.84,228.32 L375.92,228.92 L376.02,229.52 L376.12,230.12 L376.23,230.72 L376.34,231.33 L376.45,231.94 L376.57,232.56 L376.68,233.19 L376.80,233.82 L376.93,234.45 L377.07,235.09 L377.22,235.72 L377.39,236.35 L377.58,236.98 L377.78,237.61 L378.01,238.22 L378.27,238.83 L378.55,239.42 L378.85,240.00 L379.19,240.56 L379.55,241.10 L379.93,241.63 L380.32,242.15 L380.72,242.66 L381.14,243.16 L381.56,243.66 L382.00,244.14 L382.45,244.62 L382.91,245.08 L383.39,245.54 L383.87,245.98 L384.36,246.42 L384.86,246.85 L385.37,247.26 L385.89,247.67 L386.41,248.06 L386.95,248.45 L387.49,248.83 L388.03,249.20 L388.59,249.55 L389.15,249.90 L389.72,250.24 L390.30,250.57 L390.88,250.88 L391.47,251.18 L392.06,251.48 L392.66,251.75 L393.27,252.02 L393.88,252.27 L394.50,252.51 L395.13,252.73 L395.76,252.94 L396.39,253.14 L397.03,253.32 L397.67,253.50 L398.31,253.66 L398.95,253.81 L399.60,253.95 L400.25,254.08 L400.91,254.20 L401.56,254.30 L402.22,254.39 L402.87,254.47 L403.53,254.54 L404.19,254.60 L404.85,254.64 L405.52,254.67 L406.18,254.69 L406.84,254.70 L407.50,254.70 L408.16,254.68 L408.82,254.65 L409.48,254.60 L410.14,254.53 L410.79,254.45 L411.45,254.36 L412.10,254.25 L412.75,254.13 L413.39,254.00 L414.03,253.85 L414.67,253.70 L415.31,253.53 L415.94,253.36 L416.57,253.18 L417.20,252.99 L417.82,252.79 L418.44,252.59 L419.06,252.38 L419.68,252.16 L420.29,251.94 L420.90,251.72 L421.51,251.48 L422.12,251.23 L422.72,250.98 L423.31,250.71 L423.91,250.44 L424.49,250.15 L425.08,249.86 L425.66,249.55 L426.23,249.24 L426.80,248.92 L427.36,248.59 L427.92,248.24 L428.47,247.89 L429.02,247.53 L429.56,247.16 L430.09,246.78 L430.62,246.39 L431.14,245.99 L431.65,245.59 L432.16,245.17 L432.66,244.74 L433.15,244.31 L433.64,243.86 L434.11,243.41 L434.58,242.95 L435.04,242.48 L435.49,242.01 L435.94,241.52 L436.38,241.03 L436.81,240.53 L437.23,240.02 L437.64,239.51 L438.04,238.99 L438.43,238.46 L438.82,237.93 L439.20,237.38 L439.57,236.84 L439.93,236.28 L440.28,235.72 L440.62,235.16 L440.95,234.58 L441.27,234.01 L441.59,233.42 L441.89,232.84 L442.19,232.25 L442.48,231.65 L442.76,231.05 L443.03,230.44 L443.30,229.83 L443.55,229.21 L443.80,228.59 L444.03,227.97 L444.25,227.34 L444.47,226.70 L444.67,226.07 L444.86,225.42 L445.03,224.78 L445.20,224.13 L445.35,223.47 L445.49,222.82 L445.62,222.16 L445.74,221.49 L445.84,220.83 L445.93,220.16 L446.01,219.49 L446.07,218.82 L446.13,218.15 L446.17,217.47Z" fill="none" stroke="#483d8b" stroke-width="2.20" stroke-linejoin="round" stroke-opacity="0.9"/>
<path d="M403.20,216.80 L403.23,216.70 L403.32,216.45 L403.47,216.09 L403.67,215.62 L403.94,215.07 L404.27,214.43 L404.65,213.72 L405.09,212.95 L405.59,212.11 L406.14,211.23 L406.75,210.29 L407.42,209.32 L408.13,208.32 L408.91,207.29 L409.73,206.24 L410.61,205.18 L411.53,204.11 L412.51,203.03 L413.53,201.96 L414.60,200.89 L415.72,199.83 L416.87,198.79 L418.08,197.76 L419.32,196.75 L420.60,195.77 L421.92,194.81 L423.27,193.88 L424.66,192.97 L426.08,192.10 L427.54,191.26 L429.02,190.45 L430.53,189.67 L432.06,188.93 L433.62,188.23 L435.20,187.56 L436.80,186.93 L438.42,186.34 L440.05,185.79 L441.70,185.27 L443.35,184.81 L445.02,184.38 L446.70,184.00 L448.38,183.66 L450.06,183.37 L451.74,183.14 L453.42,182.95 L455.10,182.81 L456.78,182.73 L458.45,182.70 L460.10,182.73 L461.75,182.82 L463.38,182.96 L465.00,183.17 L466.60,183.43 L468.18,183.76 L469.74,184.14 L471.27,184.59 L472.78,185.09 L474.26,185.65 L475.72,186.26 L477.14,186.93 L478.53,187.66 L479.88,188.43 L481.20,189.25 L482.48,190.12 L483.72,191.03 L484.93,191.97 L486.08,192.95 L487.20,193.97 L488.27,195.01 L489.29,196.08 L490.27,197.17 L491.19,198.28 L492.07,199.40 L492.89,200.54 L493.67,201.68 L494.38,202.84 L495.05,204.00 L495.66,205.16 L496.21,206.33 L496.71,207.50 L497.15,208.66 L497.53,209.83 L497.86,210.99 L498.13,212.16 L498.33,213.32 L498.48,214.48 L498.57,215.64 L498.60,216.80 L498.57,217.96 L498.48,219.12 L498.33,220.28 L498.13,221.44 L497.86,222.61 L497.53,223.77 L497.15,224.94 L496.71,226.10 L496.21,227.27 L495.66,228.44 L495.05,229.60 L494.38,230.76 L493.67,231.92 L492.89,233.06 L492.07,234.20 L491.19,235.32 L490.27,236.43 L489.29,237.52 L488.27,238.59 L487.20,239.63 L486.08,240.65 L484.93,241.63 L483.72,242.57 L482.48,243.48 L481.20,244.35 L479.88,245.17 L478.53,245.94 L477.14,246.67 L475.72,247.34 L474.26,247.95 L472.78,248.51 L471.27,249.01 L469.74,249.46 L468.18,249.84 L466.60,250.17 L465.00,250.43 L463.38,250.64 L461.75,250.78 L460.10,250.87 L458.45,250.90 L456.78,250.87 L455.10,250.79 L453.42,250.65 L451.74,250.46 L450.06,250.23 L448.38,249.94 L446.70,249.60 L445.02,249.22 L443.35,248.79 L441.70,248.33 L440.05,247.81 L438.42,247.26 L436.80,246.67 L435.20,246.04 L433.62,245.37 L432.06,244.67 L430.53,243.93 L429.02,243.15 L427.54,242.34 L426.08,241.50 L424.66,240.63 L423.27,239.72 L421.92,238.79 L420.60,237.83 L419.32,236.85 L418.08,235.84 L416.87,234.81 L415.72,233.77 L414.60,232.71 L413.53,231.64 L412.51,230.57 L411.53,229.49 L410.61,228.42 L409.73,227.36 L408.91,226.31 L408.13,225.28 L407.42,224.28 L406.75,223.31 L406.14,222.37 L405.59,221.49 L405.09,220.65 L404.65,219.88 L404.27,219.17 L403.94,218.53 L403.67,217.98 L403.47,217.51 L403.32,217.15 L403.23,216.90Z" fill="none" stroke="#9400d3" stroke-width="2.50" stroke-linejoin="round" />
<path d="M403.20,216.80 L403.25,216.80 L403.40,216.80 L403.65,216.79 L404.00,216.78 L404.45,216.76 L404.99,216.72 L405.63,216.66 L406.37,216.58 L407.21,216.47 L408.14,216.32 L409.17,216.14 L410.28,215.91 L411.49,215.63 L412.79,215.30 L414.18,214.92 L415.65,214.49 L417.20,214.00 L418.84,213.46 L420.56,212.86 L422.36,212.21 L424.23,211.51 L426.18,210.76 L428.20,209.97 L430.28,209.13 L432.44,208.26 L434.65,207.36 L436.93,206.43 L439.26,205.49 L441.65,204.52 L444.09,203.55 L446.59,202.57 L449.12,201.59 L451.70,200.62 L454.32,199.66 L456.97,198.72 L459.66,197.79 L462.38,196.89 L465.12,196.01 L467.89,195.17 L470.67,194.36 L473.47,193.58 L476.29,192.85 L479.11,192.15 L481.94,191.50 L484.76,190.90 L487.59,190.34 L490.41,189.84 L493.23,189.39 L496.03,189.00 L498.81,188.66 L501.58,188.38 L504.32,188.16 L507.04,188.00 L509.73,187.91 L512.38,187.89 L515.00,187.93 L517.58,188.04 L520.11,188.22 L522.61,188.47 L525.05,188.78 L527.44,189.17 L529.77,189.62 L532.05,190.14 L534.26,190.73 L536.42,191.38 L538.50,192.09 L540.52,192.86 L542.47,193.68 L544.34,194.55 L546.14,195.46 L547.86,196.42 L549.50,197.42 L551.05,198.45 L552.52,199.51 L553.91,200.60 L555.21,201.71 L556.42,202.83 L557.53,203.97 L558.56,205.12 L559.49,206.28 L560.33,207.44 L561.07,208.61 L561.71,209.78 L562.25,210.95 L562.70,212.12 L563.05,213.29 L563.30,214.46 L563.45,215.63 L563.50,216.80 L563.45,217.97 L563.30,219.14 L563.05,220.31 L562.70,221.48 L562.25,222.65 L561.71,223.82 L561.07,224.99 L560.33,226.16 L559.49,227.32 L558.56,228.48 L557.53,229.63 L556.42,230.77 L555.21,231.89 L553.91,233.00 L552.52,234.09 L551.05,235.15 L549.50,236.18 L547.86,237.18 L546.14,238.14 L544.34,239.05 L542.47,239.92 L540.52,240.74 L538.50,241.51 L536.42,242.22 L534.26,242.87 L532.05,243.46 L529.77,243.98 L527.44,244.43 L525.05,244.82 L522.61,245.13 L520.11,245.38 L517.58,245.56 L515.00,245.67 L512.38,245.71 L509.73,245.69 L507.04,245.60 L504.32,245.44 L501.58,245.22 L498.81,244.94 L496.03,244.60 L493.23,244.21 L490.41,243.76 L487.59,243.26 L484.76,242.70 L481.94,242.10 L479.11,241.45 L476.29,240.75 L473.47,240.02 L470.67,239.24 L467.89,238.43 L465.12,237.59 L462.38,236.71 L459.66,235.81 L456.97,234.88 L454.32,233.94 L451.70,232.98 L449.12,232.01 L446.59,231.03 L444.09,230.05 L441.65,229.08 L439.26,228.11 L436.93,227.17 L434.65,226.24 L432.44,225.34 L430.28,224.47 L428.20,223.63 L426.18,222.84 L424.23,222.09 L422.36,221.39 L420.56,220.74 L418.84,220.14 L417.20,219.60 L415.65,219.11 L414.18,218.68 L412.79,218.30 L411.49,217.97 L410.28,217.69 L409.17,217.46 L408.14,217.28 L407.21,217.13 L406.37,217.02 L405.63,216.94 L404.99,216.88 L404.45,216.84 L404.00,216.82 L403.65,216.81 L403.40,216.80 L403.25,216.80Z" fill="none" stroke="#5a0a96" stroke-width="2.50" stroke-linejoin="round" />
<path d="M326,216.8 H600" stroke="#111" stroke-width="1.6" stroke-dasharray="4.4,2.5"/>
<path d="M403.2,216.8 V264.5" stroke="#111" stroke-width="1.6" stroke-dasharray="4.4,2.5"/>
<path d="M446.3,217.8 V264.5" stroke="#483d8b" stroke-width="1.8" stroke-dasharray="1.6,2.8"/>
<path d="M498.6,217.8 V264.5" stroke="#9400d3" stroke-width="1.8" stroke-dasharray="1.6,2.8"/>
<path d="M563.5,217.8 V264.5" stroke="#5a0a96" stroke-width="1.8" stroke-dasharray="1.6,2.8"/>
<text x="397.80" y="271.50" font-size="9.50" fill="#111" stroke="#111" stroke-width="0.12" text-anchor="middle" >0</text>
<text x="444.90" y="271.50" font-size="9.50" fill="#111" stroke="#111" stroke-width="0.12" text-anchor="middle" textLength="15.3" lengthAdjust="spacingAndGlyphs" >1.4</text>
<text x="501.20" y="271.50" font-size="9.50" fill="#111" stroke="#111" stroke-width="0.12" text-anchor="middle" textLength="21.9" lengthAdjust="spacingAndGlyphs" >3.15</text>
<text x="565.30" y="271.50" font-size="9.50" fill="#111" stroke="#111" stroke-width="0.12" text-anchor="middle" textLength="21.5" lengthAdjust="spacingAndGlyphs" >5.27</text>
<text x="394.50" y="171.25" font-size="12.50" fill="#483d8b" stroke="#483d8b" stroke-width="0.12" text-anchor="start" textLength="30.0" lengthAdjust="spacingAndGlyphs" ><tspan font-style="italic">c</tspan> = 0</text>
<text x="452.00" y="171.25" font-size="12.50" fill="#9400d3" stroke="#9400d3" stroke-width="0.12" text-anchor="start" textLength="18.5" lengthAdjust="spacingAndGlyphs" >0.5</text>
<text x="506.25" y="171.25" font-size="12.50" fill="#5a0a96" stroke="#5a0a96" stroke-width="0.12" text-anchor="start" textLength="18.8" lengthAdjust="spacingAndGlyphs" >1.0</text>
<text x="346.40" y="285.60" font-size="12.50" fill="#111" stroke="#111" stroke-width="0.12" text-anchor="start" textLength="132.9" lengthAdjust="spacingAndGlyphs" ><tspan font-style="italic">&#945;</tspan> = 1.5, <tspan font-style="italic">d</tspan> = 2, <tspan font-style="italic">&#947;</tspan> = 0.5</text>
<defs><radialGradient id="ggd" cx="36" cy="218.3" r="106" gradientUnits="userSpaceOnUse"><stop offset="0" stop-color="#c0901e" stop-opacity="1"/><stop offset="0.15" stop-color="#c0901e" stop-opacity="0.85"/><stop offset="0.35" stop-color="#c0901e" stop-opacity="0.35"/><stop offset="0.55" stop-color="#c0901e" stop-opacity="0.08"/><stop offset="1" stop-color="#c0901e" stop-opacity="0.02"/></radialGradient></defs>
<path d="M34.60,218.30 L34.63,218.08 L34.73,217.63 L34.90,217.03 L35.12,216.30 L35.42,215.46 L35.78,214.53 L36.20,213.53 L36.69,212.47 L37.24,211.36 L37.85,210.21 L38.52,209.03 L39.26,207.84 L40.05,206.65 L40.91,205.45 L41.82,204.27 L42.78,203.11 L43.81,201.97 L44.88,200.87 L46.01,199.80 L47.20,198.76 L48.43,197.77 L49.71,196.83 L51.03,195.93 L52.41,195.07 L53.82,194.26 L55.28,193.49 L56.78,192.77 L58.31,192.09 L59.88,191.45 L61.49,190.85 L63.13,190.28 L64.79,189.75 L66.49,189.25 L68.21,188.78 L69.96,188.33 L71.72,187.91 L73.51,187.52 L75.31,187.15 L77.13,186.81 L78.96,186.49 L80.81,186.19 L82.66,185.93 L84.51,185.69 L86.37,185.48 L88.23,185.31 L90.09,185.17 L91.94,185.07 L93.79,185.02 L95.64,185.01 L97.47,185.05 L99.29,185.14 L101.09,185.29 L102.88,185.49 L104.64,185.76 L106.39,186.08 L108.11,186.47 L109.81,186.92 L111.47,187.43 L113.11,188.01 L114.72,188.65 L116.29,189.35 L117.82,190.10 L119.32,190.91 L120.78,191.77 L122.19,192.68 L123.57,193.63 L124.89,194.63 L126.17,195.65 L127.40,196.71 L128.59,197.79 L129.72,198.89 L130.79,200.00 L131.82,201.12 L132.78,202.25 L133.69,203.38 L134.55,204.51 L135.34,205.63 L136.08,206.75 L136.75,207.85 L137.36,208.94 L137.91,210.03 L138.40,211.09 L138.82,212.15 L139.18,213.20 L139.48,214.23 L139.70,215.26 L139.87,216.27 L139.97,217.29 L140.00,218.30 L139.97,219.31 L139.87,220.33 L139.70,221.34 L139.48,222.37 L139.18,223.40 L138.82,224.45 L138.40,225.51 L137.91,226.57 L137.36,227.66 L136.75,228.75 L136.08,229.85 L135.34,230.97 L134.55,232.09 L133.69,233.22 L132.78,234.35 L131.82,235.48 L130.79,236.60 L129.72,237.71 L128.59,238.81 L127.40,239.89 L126.17,240.95 L124.89,241.97 L123.57,242.97 L122.19,243.92 L120.78,244.83 L119.32,245.69 L117.82,246.50 L116.29,247.25 L114.72,247.95 L113.11,248.59 L111.47,249.17 L109.81,249.68 L108.11,250.13 L106.39,250.52 L104.64,250.84 L102.88,251.11 L101.09,251.31 L99.29,251.46 L97.47,251.55 L95.64,251.59 L93.79,251.58 L91.94,251.53 L90.09,251.43 L88.23,251.29 L86.37,251.12 L84.51,250.91 L82.66,250.67 L80.81,250.41 L78.96,250.11 L77.13,249.79 L75.31,249.45 L73.51,249.08 L71.72,248.69 L69.96,248.27 L68.21,247.82 L66.49,247.35 L64.79,246.85 L63.13,246.32 L61.49,245.75 L59.88,245.15 L58.31,244.51 L56.78,243.83 L55.28,243.11 L53.82,242.34 L52.41,241.53 L51.03,240.67 L49.71,239.77 L48.43,238.83 L47.20,237.84 L46.01,236.80 L44.88,235.73 L43.81,234.63 L42.78,233.49 L41.82,232.33 L40.91,231.15 L40.05,229.95 L39.26,228.76 L38.52,227.57 L37.85,226.39 L37.24,225.24 L36.69,224.13 L36.20,223.07 L35.78,222.07 L35.42,221.14 L35.12,220.30 L34.90,219.57 L34.73,218.97 L34.63,218.52Z M36.60,218.50 a6.40,6.40 0 1,0 12.80,0 a6.40,6.40 0 1,0 -12.80,0Z" fill="url(#ggd)" fill-rule="evenodd"/>
<path d="M68.8,209.3h0 M61.4,199.8h0 M103.6,233.1h0 M67.9,237.8h0 M85.5,235.0h0 M111.8,233.6h0 M72.4,218.8h0 M111.2,212.7h0 M76.9,240.5h0 M124.1,224.6h0 M127.9,198.7h0 M105.0,191.4h0 M60.6,220.0h0 M121.6,211.9h0 M85.3,223.4h0 M60.6,199.1h0 M100.7,219.0h0 M102.9,235.4h0 M86.1,214.4h0 M96.9,201.9h0 M76.2,238.5h0 M83.1,238.4h0 M70.3,245.6h0 M74.9,189.4h0 M118.4,240.6h0 M93.2,214.7h0 M119.0,222.3h0 M79.4,202.0h0 M106.1,196.3h0 M86.9,232.8h0 M75.6,189.3h0 M105.7,203.2h0 M111.5,197.7h0 M98.2,191.5h0 M95.1,249.2h0 M78.3,211.6h0 M110.3,248.6h0 M65.6,244.2h0 M105.1,228.3h0 M74.3,220.9h0 M58.3,225.7h0 M96.8,218.9h0 M70.7,247.8h0 M105.1,212.7h0 M60.4,243.9h0 M105.1,231.2h0 M76.4,194.7h0 M79.5,205.2h0 M117.9,200.6h0 M109.1,214.2h0 M79.9,245.8h0 M66.7,219.9h0 M79.6,201.4h0 M69.5,240.0h0 M58.2,215.1h0 M79.1,234.7h0 M92.7,189.0h0 M79.4,210.0h0 M72.7,206.6h0 M118.0,216.7h0 M90.8,213.8h0 M75.3,199.2h0 M117.4,221.8h0 M87.4,204.0h0 M107.0,197.9h0 M90.2,216.1h0 M107.2,241.1h0 M63.4,196.9h0 M105.5,195.6h0 M78.7,211.8h0 M69.1,214.9h0 M97.2,194.4h0 M79.3,247.1h0 M107.3,211.3h0 M82.2,201.5h0 M66.6,237.7h0 M93.8,186.9h0 M115.5,218.3h0 M68.6,216.8h0 M105.1,211.8h0 M85.4,240.8h0 M133.8,210.2h0 M109.3,191.4h0 M118.8,201.8h0 M93.0,237.5h0 M52.7,195.6h0 M94.5,229.8h0 M83.5,229.2h0 M92.1,233.1h0 M111.0,211.9h0 M91.4,245.6h0 M79.2,209.5h0 M91.3,239.6h0 M83.7,224.0h0 M86.5,215.7h0 M67.0,191.1h0 M128.6,203.8h0 M59.5,231.3h0 M100.4,219.4h0 M81.4,215.7h0 M73.3,232.4h0 M49.5,232.3h0 M70.6,209.3h0 M65.5,204.1h0 M90.9,248.8h0 M102.4,238.2h0 M68.3,207.9h0 M82.9,234.5h0 M116.7,208.4h0 M63.3,243.9h0 M77.1,191.0h0 M120.7,197.3h0 M73.8,225.0h0 M108.9,207.6h0 M103.2,212.1h0 M69.5,237.1h0 M97.1,226.7h0 M107.5,186.4h0 M94.7,221.8h0 M61.9,199.8h0 M101.5,243.3h0 M84.2,221.6h0 M75.8,189.3h0 M93.4,246.8h0 M70.4,218.7h0 M114.7,226.6h0 M116.3,233.0h0 M66.4,227.0h0 M98.9,199.4h0 M88.7,227.3h0 M85.0,209.4h0 M103.3,248.7h0 M67.3,200.6h0 M94.7,233.7h0 M120.2,232.4h0 M61.9,213.3h0 M104.4,192.5h0 M119.7,228.2h0 M114.3,193.5h0 M92.1,227.8h0 M70.1,241.2h0 M58.8,204.9h0 M113.0,228.4h0 M93.1,234.2h0 M120.9,193.7h0 M65.2,223.7h0 M108.1,199.2h0 M97.2,220.2h0 M107.6,212.2h0 M87.4,201.4h0 M96.9,222.1h0 M129.8,232.3h0 M125.9,225.5h0 M98.9,227.9h0 M81.6,215.1h0 M80.9,236.0h0 M75.7,212.8h0 M100.8,211.1h0 M104.9,187.5h0 M52.5,224.6h0 M91.3,232.3h0 M113.0,225.6h0 M86.5,218.2h0 M68.0,214.6h0 M74.0,242.8h0 M72.9,230.3h0 M65.3,244.0h0 M74.4,223.0h0 M126.9,217.9h0 M110.7,224.4h0 M68.9,200.3h0 M75.6,210.3h0 M88.1,232.5h0 M133.0,221.7h0 M61.0,244.5h0 M92.9,199.1h0 M117.4,201.5h0 M84.0,230.9h0 M118.4,197.6h0 M87.4,195.8h0 M120.3,206.1h0 M93.6,243.3h0 M95.5,227.3h0 M107.4,233.3h0 M69.7,227.6h0 M89.9,221.6h0 M107.8,239.9h0 M94.5,230.2h0 M128.6,220.1h0 M108.3,239.3h0 M78.2,200.2h0 M94.7,242.4h0 M89.2,251.0h0 M109.1,212.8h0 M119.1,237.1h0 M101.7,215.8h0 M121.0,236.6h0 M110.2,235.0h0 M113.0,233.8h0 M58.9,214.6h0 M63.4,228.2h0 M93.6,234.0h0 M104.6,249.4h0 M98.0,240.2h0 M73.8,234.0h0 M78.1,245.0h0 M67.1,205.5h0 M88.8,227.2h0 M90.9,222.6h0 M115.6,204.2h0 M76.5,235.2h0 M90.3,203.7h0 M71.7,240.1h0 M109.3,204.9h0 M103.6,219.4h0 M98.3,196.6h0 M130.8,208.3h0 M81.8,238.7h0 M81.1,194.0h0 M103.0,231.3h0 M134.8,205.2h0 M85.0,192.0h0 M126.5,219.7h0 M133.7,220.9h0 M93.6,194.3h0 M125.7,214.9h0 M91.8,250.3h0 M89.8,222.1h0 M112.1,192.6h0 M75.6,227.7h0 M122.8,215.2h0 M107.1,189.6h0 M114.0,201.8h0 M62.9,202.8h0 M79.9,190.0h0 M103.0,204.4h0 M63.6,220.6h0 M85.7,190.2h0 M59.8,221.9h0 M62.8,195.6h0 M128.9,235.7h0 M112.8,189.4h0 M75.4,241.4h0 M90.0,193.1h0 M99.2,189.6h0 M96.9,207.8h0 M120.2,198.0h0 M51.2,196.6h0 M106.5,210.5h0 M95.9,239.6h0 M91.6,188.8h0 M131.3,206.3h0 M114.2,242.1h0 M114.0,197.0h0 M104.3,223.6h0 M92.7,217.6h0 M99.5,225.4h0 M70.4,194.1h0 M114.7,214.1h0 M77.2,218.2h0 M101.2,190.3h0 M99.1,208.6h0 M105.7,241.3h0 M73.7,229.6h0 M121.8,225.9h0 M113.3,234.7h0 M98.9,236.8h0 M103.1,202.1h0 M102.3,251.0h0 M91.8,238.0h0 M69.2,227.0h0 M92.7,209.0h0 M89.4,189.1h0 M57.6,222.6h0 M98.0,246.1h0 M75.5,249.1h0 M82.5,203.2h0 M110.2,192.9h0 M92.5,213.1h0 M68.0,207.6h0 M131.6,232.7h0 M104.5,199.7h0 M111.9,204.3h0 M123.0,199.6h0 M89.5,188.3h0 M107.1,226.8h0 M106.8,211.7h0 M73.9,228.3h0 M106.5,225.2h0 M133.6,206.7h0 M111.1,223.4h0 M76.1,236.2h0 M87.5,215.8h0 M81.9,244.3h0 M74.2,230.3h0 M123.0,232.1h0 M75.5,210.9h0 M75.8,230.7h0 M132.7,212.0h0 M93.8,196.4h0 M57.2,231.0h0 M134.3,221.8h0 M96.3,209.6h0 M121.0,218.9h0 M72.4,194.4h0 M113.2,216.8h0 M88.8,228.0h0 M91.9,229.1h0 M61.4,245.4h0 M84.2,240.9h0 M101.2,248.7h0 M98.8,247.9h0 M67.0,236.4h0 M135.6,220.4h0 M91.6,244.4h0 M74.5,239.9h0 M102.6,196.9h0 M89.0,235.6h0 M119.0,238.5h0 M88.4,191.8h0 M66.4,202.0h0 M114.3,197.4h0 M95.4,215.0h0 M105.5,203.5h0 M106.6,230.6h0 M104.9,221.1h0 M126.7,202.9h0 M120.2,212.3h0 M95.9,228.5h0 M83.6,188.7h0 M64.7,195.0h0 M66.2,217.1h0 M103.6,203.5h0 M102.3,216.3h0 M87.3,223.0h0 M55.1,193.8h0 M118.7,233.3h0 M126.4,208.9h0 M83.1,244.1h0 M105.9,217.5h0 M99.4,212.2h0 M70.2,209.7h0 M67.0,207.4h0 M73.0,245.2h0 M112.0,232.8h0 M99.5,225.2h0 M123.6,205.7h0 M57.5,242.4h0 M77.1,229.6h0 M46.1,225.3h0 M73.3,205.7h0 M120.1,210.9h0 M72.9,189.4h0 M98.6,227.6h0 M79.2,219.8h0 M105.5,223.5h0 M123.4,223.3h0 M119.5,245.3h0 M73.0,244.0h0 M71.5,227.0h0 M92.1,193.6h0 M121.9,210.1h0 M65.9,216.6h0 M66.1,244.9h0 M79.0,230.1h0 M116.0,198.5h0 M90.8,206.5h0 M82.4,237.4h0 M131.8,201.3h0 M74.4,193.5h0 M79.5,207.6h0 M139.5,218.6h0 M106.1,237.8h0 M106.8,188.4h0 M98.6,226.4h0 M106.0,240.2h0 M75.5,191.2h0 M110.4,216.6h0 M80.9,227.3h0 M63.9,208.2h0 M130.6,220.1h0 M81.1,189.0h0 M71.5,212.7h0 M81.5,238.6h0 M132.4,230.2h0 M49.9,210.8h0 M76.7,240.5h0 M125.7,236.3h0 M69.0,242.8h0 M104.6,186.8h0 M67.1,231.8h0 M84.1,193.3h0 M113.1,218.3h0 M72.4,233.7h0 M99.5,207.1h0 M74.7,241.3h0 M134.6,217.5h0 M74.6,195.1h0 M114.8,234.0h0 M125.0,240.8h0 M82.5,209.2h0 M99.1,195.2h0 M117.8,234.4h0 M112.6,210.9h0 M106.6,244.8h0 M96.6,196.6h0 M73.8,204.0h0 M63.7,210.1h0 M81.8,241.7h0 M74.2,202.1h0 M131.2,206.0h0 M121.3,209.8h0 M83.6,197.5h0 M125.6,227.1h0 M120.9,229.2h0 M75.6,201.9h0 M117.9,196.2h0 M106.2,248.7h0 M69.2,211.9h0 M103.0,222.4h0 M100.5,223.0h0 M81.2,242.9h0 M133.6,223.3h0 M92.0,199.2h0 M82.3,242.7h0 M88.5,203.2h0 M107.1,225.5h0 M109.1,223.4h0 M122.8,229.8h0 M127.1,234.3h0 M120.9,244.5h0 M110.9,248.4h0 M134.7,218.2h0 M87.4,249.8h0 M96.6,239.5h0 M99.1,195.1h0 M90.2,204.6h0 M74.8,198.7h0 M127.0,209.3h0 M67.6,247.4h0 M76.2,239.1h0 M67.5,196.5h0 M60.9,191.4h0 M125.6,239.4h0 M101.3,214.3h0 M124.8,209.4h0 M100.1,233.4h0 M110.1,218.9h0 M107.1,240.5h0 M111.9,195.4h0 M120.2,222.3h0 M127.5,229.7h0 M95.8,214.6h0 M101.1,218.1h0 M97.1,221.5h0 M104.0,248.2h0 M69.0,221.6h0 M61.5,214.4h0 M134.9,205.7h0 M107.1,212.6h0 M60.8,203.0h0 M128.9,223.1h0 M114.9,232.3h0 M106.4,228.1h0 M118.5,192.9h0 M66.7,241.9h0 M77.7,206.3h0 M122.0,195.1h0 M104.0,222.8h0 M83.9,213.3h0 M81.7,193.2h0 M131.3,219.9h0 M98.7,223.8h0 M130.4,207.8h0 M101.6,211.8h0 M129.5,221.0h0 M70.7,191.4h0 M76.0,211.3h0 M132.1,224.6h0 M111.0,188.6h0 M90.4,228.6h0 M124.3,218.1h0 M110.2,232.2h0 M90.9,223.2h0 M111.5,227.1h0 M93.4,221.2h0 M62.7,192.5h0 M116.5,227.6h0 M73.8,216.1h0 M131.6,217.7h0 M84.2,218.0h0 M105.2,193.6h0 M123.3,222.7h0 M65.1,229.9h0 M75.5,204.0h0 M124.9,209.8h0 M80.2,188.6h0 M131.3,208.3h0 M138.8,212.2h0 M99.1,196.5h0 M109.8,188.8h0 M102.1,210.8h0 M78.6,220.7h0 M117.3,205.7h0 M110.5,246.3h0 M102.8,210.2h0 M92.0,208.1h0 M102.4,240.8h0 M88.7,222.4h0 M117.3,210.9h0 M107.3,200.8h0 M123.9,238.7h0 M122.1,236.4h0 M107.7,236.7h0 M104.5,226.0h0 M123.3,225.0h0 M83.4,196.2h0 M81.6,236.7h0 M78.4,220.4h0 M86.7,239.6h0 M83.7,191.8h0 M71.7,192.2h0 M58.1,203.8h0 M56.2,216.1h0 M83.9,207.0h0 M122.4,233.7h0 M120.9,201.1h0 M124.9,212.8h0 M82.0,186.9h0 M62.5,224.2h0 M109.8,189.0h0 M91.5,247.0h0 M69.2,245.5h0 M71.0,245.7h0 M85.7,230.7h0 M74.5,220.5h0 M135.8,229.0h0 M84.3,232.2h0 M128.0,221.4h0 M135.1,225.9h0 M61.2,241.7h0 M101.1,192.7h0 M132.6,213.3h0 M92.4,246.8h0 M80.9,203.2h0 M86.4,194.2h0 M134.6,206.0h0 M124.9,229.3h0 M131.9,204.8h0 M113.1,229.8h0 M66.7,225.8h0 M113.0,226.2h0 M118.2,220.2h0 M103.7,209.5h0 M120.7,210.1h0 M88.5,221.7h0 M64.6,218.0h0 M78.6,233.8h0 M73.2,204.1h0 M89.8,209.5h0 M85.1,188.9h0 M93.7,220.6h0 M122.6,196.9h0 M91.5,203.1h0 M127.5,210.4h0 M73.9,206.3h0 M82.1,233.0h0 M92.0,241.7h0 M70.7,203.4h0 M100.6,250.8h0 M85.1,234.7h0 M73.7,248.5h0 M75.5,209.0h0 M72.1,230.6h0 M79.7,189.8h0 M106.2,219.0h0 M60.9,227.8h0 M76.3,207.7h0 M50.2,203.5h0 M79.4,228.5h0 M76.7,217.5h0 M101.9,242.8h0 M106.3,225.5h0 M99.2,201.8h0 M85.6,197.1h0 M118.1,191.0h0 M96.2,215.2h0 M100.1,217.6h0 M91.8,196.0h0 M94.2,251.1h0 M108.7,188.2h0 M107.5,210.6h0 M135.1,223.7h0 M57.3,205.6h0 M68.0,201.2h0 M102.6,220.1h0 M129.3,228.3h0 M86.9,213.2h0 M102.2,229.7h0 M89.1,243.7h0" stroke="#c0901e" stroke-width="2.30" stroke-linecap="round" fill="none" opacity="0.55"/>
<path d="M34.60,218.30 L34.63,218.08 L34.73,217.63 L34.90,217.03 L35.12,216.30 L35.42,215.46 L35.78,214.53 L36.20,213.53 L36.69,212.47 L37.24,211.36 L37.85,210.21 L38.52,209.03 L39.26,207.84 L40.05,206.65 L40.91,205.45 L41.82,204.27 L42.78,203.11 L43.81,201.97 L44.88,200.87 L46.01,199.80 L47.20,198.76 L48.43,197.77 L49.71,196.83 L51.03,195.93 L52.41,195.07 L53.82,194.26 L55.28,193.49 L56.78,192.77 L58.31,192.09 L59.88,191.45 L61.49,190.85 L63.13,190.28 L64.79,189.75 L66.49,189.25 L68.21,188.78 L69.96,188.33 L71.72,187.91 L73.51,187.52 L75.31,187.15 L77.13,186.81 L78.96,186.49 L80.81,186.19 L82.66,185.93 L84.51,185.69 L86.37,185.48 L88.23,185.31 L90.09,185.17 L91.94,185.07 L93.79,185.02 L95.64,185.01 L97.47,185.05 L99.29,185.14 L101.09,185.29 L102.88,185.49 L104.64,185.76 L106.39,186.08 L108.11,186.47 L109.81,186.92 L111.47,187.43 L113.11,188.01 L114.72,188.65 L116.29,189.35 L117.82,190.10 L119.32,190.91 L120.78,191.77 L122.19,192.68 L123.57,193.63 L124.89,194.63 L126.17,195.65 L127.40,196.71 L128.59,197.79 L129.72,198.89 L130.79,200.00 L131.82,201.12 L132.78,202.25 L133.69,203.38 L134.55,204.51 L135.34,205.63 L136.08,206.75 L136.75,207.85 L137.36,208.94 L137.91,210.03 L138.40,211.09 L138.82,212.15 L139.18,213.20 L139.48,214.23 L139.70,215.26 L139.87,216.27 L139.97,217.29 L140.00,218.30 L139.97,219.31 L139.87,220.33 L139.70,221.34 L139.48,222.37 L139.18,223.40 L138.82,224.45 L138.40,225.51 L137.91,226.57 L137.36,227.66 L136.75,228.75 L136.08,229.85 L135.34,230.97 L134.55,232.09 L133.69,233.22 L132.78,234.35 L131.82,235.48 L130.79,236.60 L129.72,237.71 L128.59,238.81 L127.40,239.89 L126.17,240.95 L124.89,241.97 L123.57,242.97 L122.19,243.92 L120.78,244.83 L119.32,245.69 L117.82,246.50 L116.29,247.25 L114.72,247.95 L113.11,248.59 L111.47,249.17 L109.81,249.68 L108.11,250.13 L106.39,250.52 L104.64,250.84 L102.88,251.11 L101.09,251.31 L99.29,251.46 L97.47,251.55 L95.64,251.59 L93.79,251.58 L91.94,251.53 L90.09,251.43 L88.23,251.29 L86.37,251.12 L84.51,250.91 L82.66,250.67 L80.81,250.41 L78.96,250.11 L77.13,249.79 L75.31,249.45 L73.51,249.08 L71.72,248.69 L69.96,248.27 L68.21,247.82 L66.49,247.35 L64.79,246.85 L63.13,246.32 L61.49,245.75 L59.88,245.15 L58.31,244.51 L56.78,243.83 L55.28,243.11 L53.82,242.34 L52.41,241.53 L51.03,240.67 L49.71,239.77 L48.43,238.83 L47.20,237.84 L46.01,236.80 L44.88,235.73 L43.81,234.63 L42.78,233.49 L41.82,232.33 L40.91,231.15 L40.05,229.95 L39.26,228.76 L38.52,227.57 L37.85,226.39 L37.24,225.24 L36.69,224.13 L36.20,223.07 L35.78,222.07 L35.42,221.14 L35.12,220.30 L34.90,219.57 L34.73,218.97 L34.63,218.52Z" fill="none" stroke="#c0901e" stroke-width="2.50" stroke-linejoin="round" />
<defs><radialGradient id="gol" cx="155.5" cy="218.2" r="130" gradientUnits="userSpaceOnUse"><stop offset="0" stop-color="#556b2f" stop-opacity="0.8"/><stop offset="0.12" stop-color="#556b2f" stop-opacity="0.25"/><stop offset="0.35" stop-color="#556b2f" stop-opacity="0.03"/><stop offset="1" stop-color="#556b2f" stop-opacity="0"/></radialGradient></defs>
<path d="M285.30,218.20 L285.24,217.63 L285.18,217.06 L285.12,216.49 L285.04,215.93 L284.97,215.36 L284.89,214.80 L284.80,214.24 L284.71,213.68 L284.61,213.12 L284.51,212.56 L284.40,212.00 L284.29,211.44 L284.17,210.89 L284.05,210.34 L283.93,209.78 L283.79,209.23 L283.66,208.69 L283.52,208.14 L283.37,207.60 L283.22,207.05 L283.07,206.51 L282.91,205.97 L282.74,205.44 L282.57,204.90 L282.40,204.37 L282.22,203.84 L282.03,203.31 L281.84,202.78 L281.65,202.26 L281.45,201.74 L281.24,201.22 L281.03,200.70 L280.82,200.18 L280.60,199.67 L280.38,199.16 L280.15,198.66 L279.92,198.15 L279.69,197.65 L279.45,197.15 L279.21,196.65 L278.96,196.16 L278.71,195.66 L278.46,195.17 L278.20,194.68 L277.94,194.20 L277.68,193.72 L277.41,193.24 L277.15,192.76 L276.87,192.28 L276.60,191.81 L276.32,191.34 L276.04,190.87 L275.75,190.40 L275.46,189.94 L275.17,189.48 L274.87,189.02 L274.57,188.57 L274.27,188.12 L273.96,187.67 L273.65,187.22 L273.34,186.78 L273.02,186.34 L272.70,185.90 L272.38,185.47 L272.05,185.04 L271.72,184.61 L271.39,184.19 L271.05,183.76 L270.72,183.34 L270.37,182.93 L270.03,182.51 L269.68,182.10 L269.33,181.70 L268.98,181.29 L268.62,180.89 L268.26,180.49 L267.90,180.10 L267.54,179.70 L267.17,179.31 L266.81,178.92 L266.44,178.54 L266.06,178.16 L265.69,177.78 L265.31,177.40 L264.93,177.03 L264.54,176.66 L264.15,176.30 L263.76,175.94 L263.37,175.58 L262.97,175.23 L262.58,174.87 L262.17,174.53 L261.77,174.18 L261.36,173.84 L260.96,173.50 L260.54,173.17 L260.13,172.84 L259.71,172.51 L259.30,172.19 L258.87,171.87 L258.45,171.55 L258.03,171.24 L257.60,170.93 L257.17,170.63 L256.74,170.32 L256.30,170.02 L255.87,169.73 L255.43,169.43 L254.99,169.15 L254.55,168.86 L254.10,168.58 L253.66,168.30 L253.21,168.02 L252.76,167.75 L252.31,167.48 L251.86,167.21 L251.41,166.95 L250.95,166.69 L250.49,166.44 L250.03,166.18 L249.57,165.93 L249.11,165.69 L248.64,165.44 L248.18,165.21 L247.71,164.97 L247.24,164.74 L246.77,164.51 L246.30,164.29 L245.82,164.07 L245.34,163.85 L244.87,163.64 L244.39,163.43 L243.90,163.22 L243.42,163.02 L242.94,162.83 L242.45,162.64 L241.96,162.45 L241.47,162.27 L240.98,162.09 L240.49,161.91 L239.99,161.74 L239.50,161.58 L239.00,161.42 L238.50,161.27 L238.00,161.12 L237.50,160.97 L236.99,160.83 L236.49,160.70 L235.98,160.57 L235.48,160.44 L234.97,160.32 L234.46,160.21 L233.95,160.11 L233.43,160.02 L232.92,159.93 L232.40,159.85 L231.89,159.77 L231.37,159.70 L230.86,159.63 L230.34,159.57 L229.82,159.51 L229.30,159.45 L228.79,159.40 L228.27,159.34 L227.76,159.29 L227.24,159.24 L226.72,159.19 L226.21,159.14 L225.69,159.10 L225.17,159.06 L224.66,159.03 L224.14,159.00 L223.62,158.98 L223.10,158.96 L222.59,158.94 L222.07,158.93 L221.55,158.92 L221.03,158.92 L220.52,158.92 L220.00,158.92 L219.48,158.93 L218.97,158.95 L218.45,158.96 L217.93,158.99 L217.42,159.01 L216.90,159.04 L216.38,159.08 L215.87,159.11 L215.35,159.16 L214.84,159.20 L214.32,159.26 L213.81,159.31 L213.30,159.37 L212.78,159.43 L212.27,159.50 L211.76,159.57 L211.25,159.65 L210.74,159.73 L210.23,159.81 L209.72,159.90 L209.21,159.99 L208.70,160.08 L208.19,160.17 L207.69,160.26 L207.18,160.36 L206.67,160.45 L206.16,160.55 L205.65,160.65 L205.14,160.76 L204.64,160.87 L204.13,160.98 L203.62,161.09 L203.12,161.21 L202.61,161.33 L202.11,161.46 L201.61,161.59 L201.11,161.73 L200.61,161.87 L200.11,162.02 L199.61,162.18 L199.11,162.34 L198.62,162.50 L198.13,162.67 L197.64,162.85 L197.15,163.03 L196.66,163.21 L196.17,163.39 L195.68,163.58 L195.20,163.77 L194.71,163.96 L194.22,164.16 L193.74,164.36 L193.25,164.55 L192.77,164.75 L192.28,164.95 L191.79,165.14 L191.30,165.34 L190.81,165.53 L190.32,165.73 L189.82,165.93 L189.33,166.14 L188.84,166.34 L188.35,166.55 L187.86,166.76 L187.36,166.97 L186.87,167.19 L186.38,167.41 L185.90,167.64 L185.41,167.87 L184.92,168.11 L184.44,168.35 L183.96,168.59 L183.48,168.85 L183.01,169.11 L182.53,169.37 L182.06,169.64 L181.59,169.91 L181.12,170.19 L180.65,170.47 L180.19,170.75 L179.72,171.04 L179.26,171.33 L178.79,171.62 L178.33,171.92 L177.87,172.23 L177.42,172.54 L176.96,172.85 L176.51,173.17 L176.06,173.49 L175.62,173.82 L175.18,174.15 L174.74,174.49 L174.30,174.83 L173.87,175.18 L173.44,175.54 L173.02,175.90 L172.60,176.27 L172.19,176.64 L171.78,177.02 L171.38,177.40 L170.97,177.78 L170.57,178.17 L170.17,178.56 L169.77,178.96 L169.38,179.36 L168.99,179.76 L168.60,180.17 L168.22,180.58 L167.84,180.99 L167.46,181.41 L167.08,181.83 L166.72,182.26 L166.35,182.69 L165.99,183.13 L165.64,183.57 L165.29,184.01 L164.94,184.46 L164.60,184.92 L164.27,185.37 L163.95,185.84 L163.63,186.31 L163.31,186.78 L163.01,187.26 L162.71,187.74 L162.42,188.23 L162.14,188.72 L161.86,189.21 L161.60,189.72 L161.34,190.22 L161.09,190.73 L160.85,191.24 L160.62,191.76 L160.39,192.28 L160.17,192.80 L159.95,193.33 L159.73,193.85 L159.52,194.38 L159.32,194.91 L159.12,195.44 L158.92,195.97 L158.73,196.50 L158.54,197.04 L158.36,197.58 L158.18,198.11 L158.01,198.65 L157.84,199.20 L157.68,199.74 L157.52,200.28 L157.36,200.83 L157.21,201.38 L157.07,201.93 L156.93,202.48 L156.80,203.03 L156.67,203.58 L156.54,204.13 L156.42,204.69 L156.30,205.24 L156.19,205.80 L156.09,206.35 L155.99,206.91 L155.89,207.47 L155.80,208.03 L155.71,208.59 L155.63,209.15 L155.56,209.72 L155.48,210.28 L155.42,210.84 L155.36,211.41 L155.30,211.97 L155.25,212.53 L155.20,213.10 L155.16,213.67 L155.12,214.23 L155.09,214.80 L155.06,215.36 L155.04,215.93 L155.02,216.50 L155.01,217.07 L155.00,217.63 L155.00,218.20 L155.00,218.77 L155.01,219.33 L155.02,219.90 L155.04,220.47 L155.06,221.04 L155.09,221.60 L155.12,222.17 L155.16,222.73 L155.20,223.30 L155.25,223.87 L155.30,224.43 L155.36,224.99 L155.42,225.56 L155.48,226.12 L155.56,226.68 L155.63,227.25 L155.71,227.81 L155.80,228.37 L155.89,228.93 L155.99,229.49 L156.09,230.05 L156.19,230.60 L156.30,231.16 L156.42,231.71 L156.54,232.27 L156.67,232.82 L156.80,233.37 L156.93,233.92 L157.07,234.47 L157.21,235.02 L157.36,235.57 L157.52,236.12 L157.68,236.66 L157.84,237.20 L158.01,237.75 L158.18,238.29 L158.36,238.82 L158.54,239.36 L158.73,239.90 L158.92,240.43 L159.12,240.96 L159.32,241.49 L159.52,242.02 L159.73,242.55 L159.95,243.07 L160.17,243.60 L160.39,244.12 L160.62,244.64 L160.85,245.16 L161.09,245.67 L161.34,246.18 L161.60,246.68 L161.86,247.19 L162.14,247.68 L162.42,248.17 L162.71,248.66 L163.01,249.14 L163.31,249.62 L163.63,250.09 L163.95,250.56 L164.27,251.03 L164.60,251.48 L164.94,251.94 L165.29,252.39 L165.64,252.83 L165.99,253.27 L166.35,253.71 L166.72,254.14 L167.08,254.57 L167.46,254.99 L167.84,255.41 L168.22,255.82 L168.60,256.23 L168.99,256.64 L169.38,257.04 L169.77,257.44 L170.17,257.84 L170.57,258.23 L170.97,258.62 L171.38,259.00 L171.78,259.38 L172.19,259.76 L172.60,260.13 L173.02,260.50 L173.44,260.86 L173.87,261.22 L174.30,261.57 L174.74,261.91 L175.18,262.25 L175.62,262.58 L176.06,262.91 L176.51,263.23 L176.96,263.55 L177.42,263.86 L177.87,264.17 L178.33,264.48 L178.79,264.78 L179.26,265.07 L179.72,265.36 L180.19,265.65 L180.65,265.93 L181.12,266.21 L181.59,266.49 L182.06,266.76 L182.53,267.03 L183.01,267.29 L183.48,267.55 L183.96,267.81 L184.44,268.05 L184.92,268.29 L185.41,268.53 L185.90,268.76 L186.38,268.99 L186.87,269.21 L187.36,269.43 L187.86,269.64 L188.35,269.85 L188.84,270.06 L189.33,270.26 L189.82,270.47 L190.32,270.67 L190.81,270.87 L191.30,271.06 L191.79,271.26 L192.28,271.45 L192.77,271.65 L193.25,271.85 L193.74,272.04 L194.22,272.24 L194.71,272.44 L195.20,272.63 L195.68,272.82 L196.17,273.01 L196.66,273.19 L197.15,273.37 L197.64,273.55 L198.13,273.73 L198.62,273.90 L199.11,274.06 L199.61,274.22 L200.11,274.38 L200.61,274.53 L201.11,274.67 L201.61,274.81 L202.11,274.94 L202.61,275.07 L203.12,275.19 L203.62,275.31 L204.13,275.42 L204.64,275.53 L205.14,275.64 L205.65,275.75 L206.16,275.85 L206.67,275.95 L207.18,276.04 L207.69,276.14 L208.19,276.23 L208.70,276.32 L209.21,276.41 L209.72,276.50 L210.23,276.59 L210.74,276.67 L211.25,276.75 L211.76,276.83 L212.27,276.90 L212.78,276.97 L213.30,277.03 L213.81,277.09 L214.32,277.14 L214.84,277.20 L215.35,277.24 L215.87,277.29 L216.38,277.32 L216.90,277.36 L217.42,277.39 L217.93,277.41 L218.45,277.44 L218.97,277.45 L219.48,277.47 L220.00,277.48 L220.52,277.48 L221.03,277.48 L221.55,277.48 L222.07,277.47 L222.59,277.46 L223.10,277.44 L223.62,277.42 L224.14,277.40 L224.66,277.37 L225.17,277.34 L225.69,277.30 L226.21,277.26 L226.72,277.21 L227.24,277.16 L227.76,277.11 L228.27,277.06 L228.79,277.00 L229.30,276.95 L229.82,276.89 L230.34,276.83 L230.86,276.77 L231.37,276.70 L231.89,276.63 L232.40,276.55 L232.92,276.47 L233.43,276.38 L233.95,276.29 L234.46,276.19 L234.97,276.08 L235.48,275.96 L235.98,275.83 L236.49,275.70 L236.99,275.57 L237.50,275.43 L238.00,275.28 L238.50,275.13 L239.00,274.98 L239.50,274.82 L239.99,274.66 L240.49,274.49 L240.98,274.31 L241.47,274.13 L241.96,273.95 L242.45,273.76 L242.94,273.57 L243.42,273.38 L243.90,273.18 L244.39,272.97 L244.87,272.76 L245.34,272.55 L245.82,272.33 L246.30,272.11 L246.77,271.89 L247.24,271.66 L247.71,271.43 L248.18,271.19 L248.64,270.96 L249.11,270.71 L249.57,270.47 L250.03,270.22 L250.49,269.96 L250.95,269.71 L251.41,269.45 L251.86,269.19 L252.31,268.92 L252.76,268.65 L253.21,268.38 L253.66,268.10 L254.10,267.82 L254.55,267.54 L254.99,267.25 L255.43,266.97 L255.87,266.67 L256.30,266.38 L256.74,266.08 L257.17,265.77 L257.60,265.47 L258.03,265.16 L258.45,264.85 L258.87,264.53 L259.30,264.21 L259.71,263.89 L260.13,263.56 L260.54,263.23 L260.96,262.90 L261.36,262.56 L261.77,262.22 L262.17,261.87 L262.58,261.53 L262.97,261.17 L263.37,260.82 L263.76,260.46 L264.15,260.10 L264.54,259.74 L264.93,259.37 L265.31,259.00 L265.69,258.62 L266.06,258.24 L266.44,257.86 L266.81,257.48 L267.17,257.09 L267.54,256.70 L267.90,256.30 L268.26,255.91 L268.62,255.51 L268.98,255.11 L269.33,254.70 L269.68,254.30 L270.03,253.89 L270.37,253.47 L270.72,253.06 L271.05,252.64 L271.39,252.21 L271.72,251.79 L272.05,251.36 L272.38,250.93 L272.70,250.50 L273.02,250.06 L273.34,249.62 L273.65,249.18 L273.96,248.73 L274.27,248.28 L274.57,247.83 L274.87,247.38 L275.17,246.92 L275.46,246.46 L275.75,246.00 L276.04,245.53 L276.32,245.06 L276.60,244.59 L276.87,244.12 L277.15,243.64 L277.41,243.16 L277.68,242.68 L277.94,242.20 L278.20,241.72 L278.46,241.23 L278.71,240.74 L278.96,240.24 L279.21,239.75 L279.45,239.25 L279.69,238.75 L279.92,238.25 L280.15,237.74 L280.38,237.24 L280.60,236.73 L280.82,236.22 L281.03,235.70 L281.24,235.18 L281.45,234.66 L281.65,234.14 L281.84,233.62 L282.03,233.09 L282.22,232.56 L282.40,232.03 L282.57,231.50 L282.74,230.96 L282.91,230.43 L283.07,229.89 L283.22,229.35 L283.37,228.80 L283.52,228.26 L283.66,227.71 L283.79,227.17 L283.93,226.62 L284.05,226.06 L284.17,225.51 L284.29,224.96 L284.40,224.40 L284.51,223.84 L284.61,223.28 L284.71,222.72 L284.80,222.16 L284.89,221.60 L284.97,221.04 L285.04,220.47 L285.12,219.91 L285.18,219.34 L285.24,218.77Z M155.00,218.20 L155.02,216.95 L155.06,215.70 L155.14,214.46 L155.26,213.22 L155.40,212.00 L155.58,210.80 L155.78,209.62 L156.02,208.46 L156.29,207.33 L156.59,206.23 L156.92,205.16 L157.28,204.12 L157.67,203.12 L158.09,202.16 L158.53,201.23 L159.01,200.35 L159.51,199.51 L160.03,198.71 L160.59,197.96 L161.17,197.25 L161.77,196.59 L162.40,195.97 L163.05,195.40 L163.72,194.88 L164.41,194.39 L165.12,193.96 L165.86,193.56 L166.61,193.21 L167.38,192.90 L168.16,192.63 L168.97,192.40 L169.78,192.20 L170.61,192.05 L171.45,191.92 L172.31,191.83 L173.17,191.77 L174.05,191.74 L174.93,191.74 L175.82,191.77 L176.72,191.82 L177.62,191.90 L178.53,192.00 L179.43,192.12 L180.34,192.27 L181.26,192.43 L182.17,192.61 L183.07,192.81 L183.98,193.03 L184.88,193.27 L185.78,193.53 L186.67,193.80 L187.55,194.09 L188.43,194.39 L189.29,194.71 L190.15,195.05 L190.99,195.41 L191.82,195.78 L192.63,196.18 L193.44,196.59 L194.22,197.02 L194.99,197.47 L195.74,197.94 L196.48,198.43 L197.19,198.94 L197.88,199.47 L198.55,200.03 L199.20,200.61 L199.83,201.21 L200.43,201.83 L201.01,202.47 L201.57,203.14 L202.09,203.83 L202.59,204.54 L203.07,205.27 L203.51,206.03 L203.93,206.80 L204.32,207.59 L204.68,208.41 L205.01,209.24 L205.31,210.08 L205.58,210.94 L205.82,211.82 L206.02,212.71 L206.20,213.61 L206.34,214.51 L206.46,215.43 L206.54,216.35 L206.58,217.27 L206.60,218.20 L206.58,219.13 L206.54,220.05 L206.46,220.97 L206.34,221.89 L206.20,222.79 L206.02,223.69 L205.82,224.58 L205.58,225.46 L205.31,226.32 L205.01,227.16 L204.68,227.99 L204.32,228.81 L203.93,229.60 L203.51,230.37 L203.07,231.13 L202.59,231.86 L202.09,232.57 L201.57,233.26 L201.01,233.93 L200.43,234.57 L199.83,235.19 L199.20,235.79 L198.55,236.37 L197.88,236.93 L197.19,237.46 L196.48,237.97 L195.74,238.46 L194.99,238.93 L194.22,239.38 L193.44,239.81 L192.63,240.22 L191.82,240.62 L190.99,240.99 L190.15,241.35 L189.29,241.69 L188.43,242.01 L187.55,242.31 L186.67,242.60 L185.78,242.87 L184.88,243.13 L183.98,243.37 L183.07,243.59 L182.17,243.79 L181.26,243.97 L180.34,244.13 L179.43,244.28 L178.53,244.40 L177.62,244.50 L176.72,244.58 L175.82,244.63 L174.93,244.66 L174.05,244.66 L173.17,244.63 L172.31,244.57 L171.45,244.48 L170.61,244.35 L169.78,244.20 L168.97,244.00 L168.16,243.77 L167.38,243.50 L166.61,243.19 L165.86,242.84 L165.12,242.44 L164.41,242.01 L163.72,241.52 L163.05,241.00 L162.40,240.43 L161.77,239.81 L161.17,239.15 L160.59,238.44 L160.03,237.69 L159.51,236.89 L159.01,236.05 L158.53,235.17 L158.09,234.24 L157.67,233.28 L157.28,232.28 L156.92,231.24 L156.59,230.17 L156.29,229.07 L156.02,227.94 L155.78,226.78 L155.58,225.60 L155.40,224.40 L155.26,223.18 L155.14,221.94 L155.06,220.70 L155.02,219.45Z" fill="url(#gol)" fill-rule="evenodd"/>
<path d="M262.6,251.4h0 M180.2,180.0h0 M232.0,274.8h0 M182.0,248.8h0 M262.4,253.3h0 M160.4,240.6h0 M227.7,206.7h0 M213.3,197.8h0 M206.0,261.4h0 M213.7,224.8h0 M195.5,170.3h0 M256.8,183.5h0 M203.7,192.2h0 M200.2,194.0h0 M174.6,255.6h0 M211.0,211.5h0 M169.6,180.5h0 M207.1,172.6h0 M279.7,212.9h0 M212.9,235.6h0 M275.8,233.8h0 M189.4,259.6h0 M214.8,260.9h0 M211.0,190.3h0 M180.9,171.8h0 M219.5,183.5h0 M213.7,163.0h0 M171.1,258.7h0 M225.7,181.0h0 M258.1,208.5h0 M183.7,191.5h0 M227.5,176.6h0 M171.4,257.2h0 M245.9,193.7h0 M227.9,225.9h0 M266.0,219.3h0 M242.9,177.3h0 M255.3,214.6h0 M183.0,244.0h0 M216.8,219.1h0 M228.8,188.4h0 M204.0,170.7h0 M238.3,162.7h0 M176.8,174.8h0 M239.2,164.6h0 M192.8,254.6h0 M192.4,179.7h0 M211.3,268.9h0 M176.6,254.7h0 M209.0,253.1h0 M197.0,271.0h0 M270.3,218.0h0 M224.6,214.3h0 M165.7,244.1h0 M167.9,189.0h0 M217.5,207.8h0 M196.7,176.8h0 M257.7,216.0h0 M196.3,244.5h0 M159.9,242.5h0 M200.5,264.4h0 M166.9,250.9h0 M251.6,208.2h0 M211.4,195.7h0 M250.2,198.8h0 M258.9,177.6h0 M188.6,267.6h0 M167.9,186.8h0 M252.9,203.5h0 M178.9,188.8h0 M217.4,183.1h0 M269.9,236.0h0 M171.5,189.2h0 M202.9,186.1h0 M186.0,192.4h0 M167.3,244.6h0 M223.9,268.5h0 M227.9,228.4h0 M210.1,230.7h0 M240.0,181.3h0 M230.8,229.3h0 M260.5,224.8h0 M226.1,172.1h0 M167.6,186.2h0 M208.8,189.2h0 M262.5,211.8h0 M238.9,209.5h0 M166.1,192.6h0 M239.8,199.7h0 M215.1,162.5h0 M183.2,187.6h0 M184.7,245.6h0 M224.6,172.1h0 M201.7,191.5h0 M229.5,232.4h0 M225.6,175.0h0 M243.6,250.3h0 M240.9,256.0h0 M252.1,236.0h0 M211.4,171.9h0 M205.7,271.7h0 M168.8,189.4h0 M272.9,199.8h0 M174.1,186.9h0 M226.7,176.0h0 M194.1,243.0h0 M268.9,194.6h0 M175.7,189.3h0 M279.0,228.7h0 M217.3,210.7h0 M224.5,209.6h0 M242.8,211.1h0 M214.0,273.8h0 M274.0,218.8h0 M194.0,167.0h0 M238.8,167.2h0 M213.7,205.1h0 M275.6,236.3h0 M200.2,178.4h0 M250.5,185.4h0 M205.4,200.8h0 M180.9,187.6h0 M213.9,258.7h0 M209.6,207.4h0 M175.5,254.5h0 M210.6,260.7h0 M276.3,239.2h0 M248.8,186.4h0 M222.8,277.2h0 M234.8,166.6h0 M204.7,244.1h0 M192.0,268.6h0 M248.6,191.7h0 M250.4,234.5h0 M183.3,255.8h0 M175.4,259.4h0 M209.7,180.4h0 M200.3,177.7h0 M203.2,165.5h0 M239.6,206.8h0 M205.1,263.3h0 M157.7,201.3h0 M239.7,264.5h0 M190.1,258.6h0 M191.3,193.9h0 M269.7,193.9h0 M256.1,225.4h0 M157.0,233.9h0 M203.3,239.1h0 M232.1,248.2h0 M207.2,188.7h0 M237.1,187.3h0 M225.7,185.6h0 M189.5,172.9h0 M175.5,180.2h0 M197.8,270.7h0 M245.9,257.8h0 M234.2,179.0h0 M208.7,274.8h0 M230.3,182.8h0 M228.5,225.5h0 M197.5,179.0h0 M209.7,194.3h0 M248.1,165.5h0 M268.3,248.2h0 M277.7,227.9h0 M239.8,175.6h0 M202.3,246.6h0 M210.1,240.3h0 M257.8,210.3h0 M247.0,220.5h0 M209.3,212.5h0 M221.7,214.5h0 M173.8,245.4h0 M279.4,209.6h0 M206.0,211.0h0 M263.2,184.5h0 M260.8,186.4h0 M254.3,237.5h0 M258.5,243.4h0 M244.0,264.4h0 M166.3,184.7h0 M240.5,245.3h0 M265.3,193.4h0 M212.2,216.9h0 M201.8,243.1h0 M192.8,189.1h0 M234.4,253.0h0 M192.1,193.1h0 M201.9,259.9h0 M219.4,190.8h0 M259.3,229.3h0 M214.6,249.8h0 M237.1,243.2h0 M202.9,272.7h0 M245.6,183.1h0 M217.8,164.3h0 M229.8,269.4h0 M221.9,271.6h0 M219.4,188.2h0 M207.9,269.5h0 M229.3,228.8h0 M209.4,196.7h0 M220.6,165.9h0 M208.7,190.6h0 M181.6,247.2h0 M202.3,197.4h0 M175.8,184.5h0 M268.1,209.0h0 M176.5,255.8h0 M192.1,249.8h0 M202.5,273.7h0 M194.7,187.8h0 M232.5,236.4h0 M209.3,203.0h0 M179.6,255.7h0 M184.0,182.8h0 M216.6,225.3h0 M216.9,253.4h0 M239.4,166.2h0 M208.0,197.0h0 M212.0,183.8h0 M213.2,165.0h0 M266.6,214.8h0 M211.9,177.5h0 M210.6,172.7h0 M193.5,257.9h0 M204.8,178.3h0 M204.3,273.3h0 M180.6,251.9h0 M247.7,251.0h0 M234.2,169.1h0 M201.7,174.5h0 M276.4,193.0h0 M229.4,212.8h0 M223.5,249.1h0 M227.4,183.6h0 M176.3,191.1h0 M209.0,275.4h0 M223.8,227.5h0 M211.1,237.8h0 M180.7,180.0h0 M202.7,238.4h0 M269.0,242.1h0 M213.8,238.4h0 M197.1,192.8h0 M176.7,183.6h0 M180.6,185.9h0 M233.8,231.7h0 M243.1,238.4h0 M209.6,177.4h0 M168.7,184.8h0 M207.2,222.5h0 M220.5,253.3h0 M231.3,231.3h0 M219.7,227.2h0 M178.3,247.4h0 M225.1,172.4h0 M182.5,262.6h0 M206.3,227.0h0 M183.3,192.5h0 M164.8,245.1h0 M217.6,266.7h0 M205.4,191.7h0 M271.6,217.8h0 M221.0,221.8h0 M186.5,257.3h0 M183.0,260.0h0 M246.2,178.8h0 M200.9,237.5h0 M232.0,191.6h0 M201.3,267.7h0 M212.8,171.0h0 M214.7,168.7h0 M192.5,175.0h0 M243.0,188.0h0 M234.1,228.4h0 M218.4,228.9h0 M254.2,235.3h0 M249.1,249.9h0 M182.4,192.2h0 M263.8,186.2h0 M262.6,177.5h0 M178.8,260.9h0 M241.3,163.3h0 M208.9,163.2h0 M224.8,264.9h0 M163.5,241.9h0 M197.1,259.5h0 M275.9,194.5h0 M200.2,175.3h0 M258.0,178.4h0 M195.3,258.0h0 M188.3,186.5h0 M204.5,228.5h0 M274.2,234.5h0 M205.5,249.4h0 M166.3,253.1h0 M198.5,265.7h0 M198.2,197.1h0 M210.9,240.2h0 M236.3,248.7h0 M214.1,198.5h0 M193.5,270.7h0 M249.7,266.9h0 M200.4,186.6h0 M257.1,235.4h0 M232.5,194.4h0 M191.5,182.8h0 M239.5,188.2h0 M274.6,207.1h0 M187.8,268.2h0 M233.9,266.4h0 M170.3,251.7h0 M211.8,219.6h0 M228.6,252.4h0 M180.5,260.4h0 M245.6,215.1h0 M210.2,165.0h0 M194.7,271.6h0 M235.8,194.3h0 M277.4,235.1h0 M206.7,268.0h0 M167.4,250.6h0 M237.5,234.0h0 M170.5,252.3h0 M178.0,186.3h0 M205.0,194.0h0 M224.7,169.4h0 M211.8,200.2h0 M209.7,192.3h0 M259.7,181.0h0 M206.3,251.0h0 M181.5,245.4h0 M221.9,167.4h0 M207.6,199.4h0 M180.6,263.5h0 M213.6,208.7h0 M237.4,194.7h0 M218.4,207.5h0 M208.4,177.3h0 M201.4,183.5h0 M269.3,218.8h0 M172.6,253.2h0 M228.9,204.0h0 M255.0,183.6h0 M197.0,171.0h0 M181.6,190.0h0 M214.2,187.5h0 M212.3,245.8h0 M212.6,179.6h0 M258.3,261.9h0 M196.7,172.3h0 M280.4,226.3h0 M212.7,164.0h0 M210.1,166.9h0 M228.0,267.9h0 M176.8,260.9h0 M197.8,260.8h0 M174.6,259.9h0 M179.1,186.7h0 M172.3,187.3h0 M270.1,212.6h0 M221.8,165.9h0 M185.7,254.1h0 M230.3,253.0h0 M206.4,179.3h0 M172.9,254.2h0 M239.8,225.4h0 M200.7,255.5h0 M243.2,223.9h0 M211.4,263.1h0 M223.0,206.4h0 M230.9,173.1h0 M197.3,185.0h0 M233.6,228.9h0 M196.7,238.4h0 M217.7,211.9h0 M190.6,269.6h0 M256.2,183.7h0 M278.8,203.9h0 M230.4,160.2h0 M232.2,195.3h0 M242.1,233.7h0 M164.1,187.0h0 M182.1,187.0h0 M228.9,184.6h0 M269.1,217.9h0 M160.5,239.1h0 M245.0,186.6h0 M207.3,160.9h0 M260.0,227.2h0 M157.2,232.6h0 M252.1,253.3h0 M260.6,215.7h0 M261.0,186.8h0 M176.1,249.3h0 M187.7,263.7h0 M169.7,251.1h0 M166.1,183.2h0 M235.3,166.6h0 M240.7,188.7h0 M214.0,230.4h0 M211.2,165.8h0 M166.5,184.4h0 M250.2,202.8h0 M207.2,262.0h0 M209.5,208.7h0 M167.6,244.7h0 M258.7,230.4h0 M208.7,191.4h0 M185.8,178.9h0 M281.5,206.9h0 M179.8,176.9h0 M234.9,222.4h0 M266.8,196.2h0 M214.1,170.5h0 M213.3,164.5h0 M236.3,273.0h0 M277.7,200.9h0 M208.5,207.9h0 M170.2,256.2h0 M273.3,219.3h0 M221.9,275.0h0 M200.2,193.2h0 M168.7,247.9h0 M241.1,217.8h0 M168.6,182.3h0 M213.1,235.2h0 M267.0,252.5h0 M181.8,250.0h0 M183.5,182.7h0 M239.5,251.2h0 M233.2,263.3h0 M166.5,189.0h0 M207.6,264.2h0 M177.0,257.1h0 M195.1,251.3h0 M264.5,216.1h0 M249.7,262.4h0 M179.8,257.7h0 M210.4,230.1h0 M235.5,198.1h0 M166.4,190.7h0 M257.5,197.7h0 M246.8,176.0h0 M208.1,256.3h0 M210.0,200.1h0 M182.4,263.4h0 M168.7,251.6h0 M214.1,220.4h0 M207.8,245.8h0 M271.5,206.9h0 M207.8,256.4h0 M207.6,220.4h0 M246.1,168.2h0 M203.5,237.4h0 M176.9,181.1h0 M224.2,179.6h0 M201.1,190.6h0 M223.7,239.4h0 M180.1,258.8h0 M205.3,187.7h0 M214.9,240.3h0 M194.3,251.4h0 M191.7,192.4h0 M220.8,185.8h0 M207.5,186.7h0 M206.2,243.8h0 M174.4,189.7h0 M223.4,261.9h0 M219.6,256.7h0 M203.2,235.9h0 M207.6,246.5h0 M204.5,249.4h0 M208.7,213.0h0 M271.4,204.4h0 M213.6,266.4h0 M167.4,187.1h0 M212.3,169.4h0 M203.4,234.5h0 M229.0,203.7h0 M274.6,213.1h0 M197.2,195.8h0 M240.0,205.0h0 M228.4,175.9h0 M191.4,263.1h0 M211.8,272.3h0 M277.8,210.5h0 M201.8,195.7h0 M268.6,250.7h0 M170.1,187.2h0 M201.0,168.1h0 M194.4,193.3h0 M189.7,169.6h0 M176.2,174.6h0 M222.2,203.7h0 M201.5,194.0h0 M266.0,212.7h0 M198.8,251.1h0 M184.9,176.4h0 M200.7,172.5h0 M211.1,228.7h0 M210.8,183.1h0 M166.0,188.1h0 M271.5,197.5h0 M236.0,273.1h0 M242.9,250.0h0 M218.4,227.4h0 M187.6,257.6h0 M214.5,253.9h0 M264.4,199.0h0 M218.7,161.1h0 M201.4,244.8h0 M251.6,180.1h0 M183.6,180.5h0 M199.2,273.6h0 M207.9,217.7h0 M194.5,255.7h0 M212.5,186.6h0 M245.1,216.4h0 M227.1,234.5h0 M208.7,268.8h0 M169.9,250.8h0 M173.2,182.3h0 M196.4,181.8h0 M215.1,180.0h0 M231.5,214.0h0 M247.2,250.1h0 M187.9,248.0h0 M182.2,169.6h0 M162.4,189.7h0 M256.0,183.5h0 M227.8,224.3h0 M202.0,240.8h0 M202.3,253.7h0 M184.1,252.8h0 M196.0,248.8h0 M195.4,174.4h0 M170.4,190.0h0 M243.0,263.9h0 M185.6,249.1h0 M206.3,273.2h0 M174.3,261.5h0 M198.5,173.1h0 M206.9,172.4h0 M222.7,193.0h0 M173.2,258.2h0 M278.0,206.2h0 M273.5,192.9h0 M196.2,166.8h0 M168.8,244.1h0 M202.4,175.2h0 M231.8,175.3h0 M246.7,234.8h0 M268.0,196.5h0 M265.5,229.6h0 M212.5,244.1h0 M228.9,229.5h0 M181.9,265.5h0 M207.0,216.0h0 M178.5,182.1h0 M182.0,259.7h0 M264.5,216.9h0 M162.6,244.5h0 M236.4,254.0h0 M226.5,174.3h0 M228.2,161.8h0 M247.9,231.7h0 M238.3,208.5h0 M193.1,185.8h0 M247.8,184.2h0 M184.8,255.0h0 M176.9,188.4h0 M182.8,254.9h0 M168.2,254.0h0 M174.5,185.4h0 M229.7,253.3h0 M205.0,248.9h0 M205.9,195.1h0 M211.6,209.9h0 M194.6,186.0h0 M163.5,187.4h0 M217.6,183.0h0 M209.4,194.5h0 M195.3,266.9h0 M236.9,200.5h0 M241.3,209.5h0 M190.3,262.5h0 M203.8,242.5h0 M207.5,272.2h0 M225.6,217.2h0 M269.3,192.3h0 M170.2,180.7h0 M212.5,218.1h0 M206.7,186.9h0 M207.8,211.5h0 M213.7,273.3h0 M223.3,161.8h0 M265.4,228.7h0 M210.5,160.7h0 M182.2,188.1h0 M229.1,208.0h0 M258.4,216.7h0 M277.5,228.4h0 M203.0,269.0h0 M179.5,179.6h0 M245.7,166.5h0 M223.2,239.8h0 M173.0,259.0h0 M224.8,169.2h0 M217.8,159.3h0 M230.0,207.2h0 M212.0,200.0h0 M269.6,225.6h0 M237.0,232.3h0 M214.9,174.6h0 M263.6,199.7h0 M240.9,210.8h0 M207.3,228.3h0 M174.6,188.1h0 M273.0,230.7h0 M240.4,201.4h0 M160.3,239.6h0 M228.8,179.1h0 M210.2,261.6h0 M217.0,244.5h0 M164.0,190.8h0 M201.1,269.2h0 M223.7,191.4h0 M227.1,161.3h0 M170.6,254.7h0 M267.0,196.7h0 M274.3,240.3h0 M255.1,191.5h0 M161.0,239.6h0 M238.9,195.0h0 M268.6,184.9h0 M235.5,236.8h0 M211.9,172.6h0 M226.5,242.4h0 M185.9,268.3h0 M264.5,201.9h0 M189.7,175.4h0 M193.4,169.7h0 M227.5,243.2h0 M183.6,250.2h0 M229.5,222.1h0 M175.1,259.4h0 M260.0,180.0h0" stroke="#556b2f" stroke-width="2.60" stroke-linecap="round" fill="none" opacity="0.45"/>
<path d="M285.30,218.20 L285.24,217.63 L285.18,217.06 L285.12,216.49 L285.04,215.93 L284.97,215.36 L284.89,214.80 L284.80,214.24 L284.71,213.68 L284.61,213.12 L284.51,212.56 L284.40,212.00 L284.29,211.44 L284.17,210.89 L284.05,210.34 L283.93,209.78 L283.79,209.23 L283.66,208.69 L283.52,208.14 L283.37,207.60 L283.22,207.05 L283.07,206.51 L282.91,205.97 L282.74,205.44 L282.57,204.90 L282.40,204.37 L282.22,203.84 L282.03,203.31 L281.84,202.78 L281.65,202.26 L281.45,201.74 L281.24,201.22 L281.03,200.70 L280.82,200.18 L280.60,199.67 L280.38,199.16 L280.15,198.66 L279.92,198.15 L279.69,197.65 L279.45,197.15 L279.21,196.65 L278.96,196.16 L278.71,195.66 L278.46,195.17 L278.20,194.68 L277.94,194.20 L277.68,193.72 L277.41,193.24 L277.15,192.76 L276.87,192.28 L276.60,191.81 L276.32,191.34 L276.04,190.87 L275.75,190.40 L275.46,189.94 L275.17,189.48 L274.87,189.02 L274.57,188.57 L274.27,188.12 L273.96,187.67 L273.65,187.22 L273.34,186.78 L273.02,186.34 L272.70,185.90 L272.38,185.47 L272.05,185.04 L271.72,184.61 L271.39,184.19 L271.05,183.76 L270.72,183.34 L270.37,182.93 L270.03,182.51 L269.68,182.10 L269.33,181.70 L268.98,181.29 L268.62,180.89 L268.26,180.49 L267.90,180.10 L267.54,179.70 L267.17,179.31 L266.81,178.92 L266.44,178.54 L266.06,178.16 L265.69,177.78 L265.31,177.40 L264.93,177.03 L264.54,176.66 L264.15,176.30 L263.76,175.94 L263.37,175.58 L262.97,175.23 L262.58,174.87 L262.17,174.53 L261.77,174.18 L261.36,173.84 L260.96,173.50 L260.54,173.17 L260.13,172.84 L259.71,172.51 L259.30,172.19 L258.87,171.87 L258.45,171.55 L258.03,171.24 L257.60,170.93 L257.17,170.63 L256.74,170.32 L256.30,170.02 L255.87,169.73 L255.43,169.43 L254.99,169.15 L254.55,168.86 L254.10,168.58 L253.66,168.30 L253.21,168.02 L252.76,167.75 L252.31,167.48 L251.86,167.21 L251.41,166.95 L250.95,166.69 L250.49,166.44 L250.03,166.18 L249.57,165.93 L249.11,165.69 L248.64,165.44 L248.18,165.21 L247.71,164.97 L247.24,164.74 L246.77,164.51 L246.30,164.29 L245.82,164.07 L245.34,163.85 L244.87,163.64 L244.39,163.43 L243.90,163.22 L243.42,163.02 L242.94,162.83 L242.45,162.64 L241.96,162.45 L241.47,162.27 L240.98,162.09 L240.49,161.91 L239.99,161.74 L239.50,161.58 L239.00,161.42 L238.50,161.27 L238.00,161.12 L237.50,160.97 L236.99,160.83 L236.49,160.70 L235.98,160.57 L235.48,160.44 L234.97,160.32 L234.46,160.21 L233.95,160.11 L233.43,160.02 L232.92,159.93 L232.40,159.85 L231.89,159.77 L231.37,159.70 L230.86,159.63 L230.34,159.57 L229.82,159.51 L229.30,159.45 L228.79,159.40 L228.27,159.34 L227.76,159.29 L227.24,159.24 L226.72,159.19 L226.21,159.14 L225.69,159.10 L225.17,159.06 L224.66,159.03 L224.14,159.00 L223.62,158.98 L223.10,158.96 L222.59,158.94 L222.07,158.93 L221.55,158.92 L221.03,158.92 L220.52,158.92 L220.00,158.92 L219.48,158.93 L218.97,158.95 L218.45,158.96 L217.93,158.99 L217.42,159.01 L216.90,159.04 L216.38,159.08 L215.87,159.11 L215.35,159.16 L214.84,159.20 L214.32,159.26 L213.81,159.31 L213.30,159.37 L212.78,159.43 L212.27,159.50 L211.76,159.57 L211.25,159.65 L210.74,159.73 L210.23,159.81 L209.72,159.90 L209.21,159.99 L208.70,160.08 L208.19,160.17 L207.69,160.26 L207.18,160.36 L206.67,160.45 L206.16,160.55 L205.65,160.65 L205.14,160.76 L204.64,160.87 L204.13,160.98 L203.62,161.09 L203.12,161.21 L202.61,161.33 L202.11,161.46 L201.61,161.59 L201.11,161.73 L200.61,161.87 L200.11,162.02 L199.61,162.18 L199.11,162.34 L198.62,162.50 L198.13,162.67 L197.64,162.85 L197.15,163.03 L196.66,163.21 L196.17,163.39 L195.68,163.58 L195.20,163.77 L194.71,163.96 L194.22,164.16 L193.74,164.36 L193.25,164.55 L192.77,164.75 L192.28,164.95 L191.79,165.14 L191.30,165.34 L190.81,165.53 L190.32,165.73 L189.82,165.93 L189.33,166.14 L188.84,166.34 L188.35,166.55 L187.86,166.76 L187.36,166.97 L186.87,167.19 L186.38,167.41 L185.90,167.64 L185.41,167.87 L184.92,168.11 L184.44,168.35 L183.96,168.59 L183.48,168.85 L183.01,169.11 L182.53,169.37 L182.06,169.64 L181.59,169.91 L181.12,170.19 L180.65,170.47 L180.19,170.75 L179.72,171.04 L179.26,171.33 L178.79,171.62 L178.33,171.92 L177.87,172.23 L177.42,172.54 L176.96,172.85 L176.51,173.17 L176.06,173.49 L175.62,173.82 L175.18,174.15 L174.74,174.49 L174.30,174.83 L173.87,175.18 L173.44,175.54 L173.02,175.90 L172.60,176.27 L172.19,176.64 L171.78,177.02 L171.38,177.40 L170.97,177.78 L170.57,178.17 L170.17,178.56 L169.77,178.96 L169.38,179.36 L168.99,179.76 L168.60,180.17 L168.22,180.58 L167.84,180.99 L167.46,181.41 L167.08,181.83 L166.72,182.26 L166.35,182.69 L165.99,183.13 L165.64,183.57 L165.29,184.01 L164.94,184.46 L164.60,184.92 L164.27,185.37 L163.95,185.84 L163.63,186.31 L163.31,186.78 L163.01,187.26 L162.71,187.74 L162.42,188.23 L162.14,188.72 L161.86,189.21 L161.60,189.72 L161.34,190.22 L161.09,190.73 L160.85,191.24 L160.62,191.76 L160.39,192.28 L160.17,192.80 L159.95,193.33 L159.73,193.85 L159.52,194.38 L159.32,194.91 L159.12,195.44 L158.92,195.97 L158.73,196.50 L158.54,197.04 L158.36,197.58 L158.18,198.11 L158.01,198.65 L157.84,199.20 L157.68,199.74 L157.52,200.28 L157.36,200.83 L157.21,201.38 L157.07,201.93 L156.93,202.48 L156.80,203.03 L156.67,203.58 L156.54,204.13 L156.42,204.69 L156.30,205.24 L156.19,205.80 L156.09,206.35 L155.99,206.91 L155.89,207.47 L155.80,208.03 L155.71,208.59 L155.63,209.15 L155.56,209.72 L155.48,210.28 L155.42,210.84 L155.36,211.41 L155.30,211.97 L155.25,212.53 L155.20,213.10 L155.16,213.67 L155.12,214.23 L155.09,214.80 L155.06,215.36 L155.04,215.93 L155.02,216.50 L155.01,217.07 L155.00,217.63 L155.00,218.20 L155.00,218.77 L155.01,219.33 L155.02,219.90 L155.04,220.47 L155.06,221.04 L155.09,221.60 L155.12,222.17 L155.16,222.73 L155.20,223.30 L155.25,223.87 L155.30,224.43 L155.36,224.99 L155.42,225.56 L155.48,226.12 L155.56,226.68 L155.63,227.25 L155.71,227.81 L155.80,228.37 L155.89,228.93 L155.99,229.49 L156.09,230.05 L156.19,230.60 L156.30,231.16 L156.42,231.71 L156.54,232.27 L156.67,232.82 L156.80,233.37 L156.93,233.92 L157.07,234.47 L157.21,235.02 L157.36,235.57 L157.52,236.12 L157.68,236.66 L157.84,237.20 L158.01,237.75 L158.18,238.29 L158.36,238.82 L158.54,239.36 L158.73,239.90 L158.92,240.43 L159.12,240.96 L159.32,241.49 L159.52,242.02 L159.73,242.55 L159.95,243.07 L160.17,243.60 L160.39,244.12 L160.62,244.64 L160.85,245.16 L161.09,245.67 L161.34,246.18 L161.60,246.68 L161.86,247.19 L162.14,247.68 L162.42,248.17 L162.71,248.66 L163.01,249.14 L163.31,249.62 L163.63,250.09 L163.95,250.56 L164.27,251.03 L164.60,251.48 L164.94,251.94 L165.29,252.39 L165.64,252.83 L165.99,253.27 L166.35,253.71 L166.72,254.14 L167.08,254.57 L167.46,254.99 L167.84,255.41 L168.22,255.82 L168.60,256.23 L168.99,256.64 L169.38,257.04 L169.77,257.44 L170.17,257.84 L170.57,258.23 L170.97,258.62 L171.38,259.00 L171.78,259.38 L172.19,259.76 L172.60,260.13 L173.02,260.50 L173.44,260.86 L173.87,261.22 L174.30,261.57 L174.74,261.91 L175.18,262.25 L175.62,262.58 L176.06,262.91 L176.51,263.23 L176.96,263.55 L177.42,263.86 L177.87,264.17 L178.33,264.48 L178.79,264.78 L179.26,265.07 L179.72,265.36 L180.19,265.65 L180.65,265.93 L181.12,266.21 L181.59,266.49 L182.06,266.76 L182.53,267.03 L183.01,267.29 L183.48,267.55 L183.96,267.81 L184.44,268.05 L184.92,268.29 L185.41,268.53 L185.90,268.76 L186.38,268.99 L186.87,269.21 L187.36,269.43 L187.86,269.64 L188.35,269.85 L188.84,270.06 L189.33,270.26 L189.82,270.47 L190.32,270.67 L190.81,270.87 L191.30,271.06 L191.79,271.26 L192.28,271.45 L192.77,271.65 L193.25,271.85 L193.74,272.04 L194.22,272.24 L194.71,272.44 L195.20,272.63 L195.68,272.82 L196.17,273.01 L196.66,273.19 L197.15,273.37 L197.64,273.55 L198.13,273.73 L198.62,273.90 L199.11,274.06 L199.61,274.22 L200.11,274.38 L200.61,274.53 L201.11,274.67 L201.61,274.81 L202.11,274.94 L202.61,275.07 L203.12,275.19 L203.62,275.31 L204.13,275.42 L204.64,275.53 L205.14,275.64 L205.65,275.75 L206.16,275.85 L206.67,275.95 L207.18,276.04 L207.69,276.14 L208.19,276.23 L208.70,276.32 L209.21,276.41 L209.72,276.50 L210.23,276.59 L210.74,276.67 L211.25,276.75 L211.76,276.83 L212.27,276.90 L212.78,276.97 L213.30,277.03 L213.81,277.09 L214.32,277.14 L214.84,277.20 L215.35,277.24 L215.87,277.29 L216.38,277.32 L216.90,277.36 L217.42,277.39 L217.93,277.41 L218.45,277.44 L218.97,277.45 L219.48,277.47 L220.00,277.48 L220.52,277.48 L221.03,277.48 L221.55,277.48 L222.07,277.47 L222.59,277.46 L223.10,277.44 L223.62,277.42 L224.14,277.40 L224.66,277.37 L225.17,277.34 L225.69,277.30 L226.21,277.26 L226.72,277.21 L227.24,277.16 L227.76,277.11 L228.27,277.06 L228.79,277.00 L229.30,276.95 L229.82,276.89 L230.34,276.83 L230.86,276.77 L231.37,276.70 L231.89,276.63 L232.40,276.55 L232.92,276.47 L233.43,276.38 L233.95,276.29 L234.46,276.19 L234.97,276.08 L235.48,275.96 L235.98,275.83 L236.49,275.70 L236.99,275.57 L237.50,275.43 L238.00,275.28 L238.50,275.13 L239.00,274.98 L239.50,274.82 L239.99,274.66 L240.49,274.49 L240.98,274.31 L241.47,274.13 L241.96,273.95 L242.45,273.76 L242.94,273.57 L243.42,273.38 L243.90,273.18 L244.39,272.97 L244.87,272.76 L245.34,272.55 L245.82,272.33 L246.30,272.11 L246.77,271.89 L247.24,271.66 L247.71,271.43 L248.18,271.19 L248.64,270.96 L249.11,270.71 L249.57,270.47 L250.03,270.22 L250.49,269.96 L250.95,269.71 L251.41,269.45 L251.86,269.19 L252.31,268.92 L252.76,268.65 L253.21,268.38 L253.66,268.10 L254.10,267.82 L254.55,267.54 L254.99,267.25 L255.43,266.97 L255.87,266.67 L256.30,266.38 L256.74,266.08 L257.17,265.77 L257.60,265.47 L258.03,265.16 L258.45,264.85 L258.87,264.53 L259.30,264.21 L259.71,263.89 L260.13,263.56 L260.54,263.23 L260.96,262.90 L261.36,262.56 L261.77,262.22 L262.17,261.87 L262.58,261.53 L262.97,261.17 L263.37,260.82 L263.76,260.46 L264.15,260.10 L264.54,259.74 L264.93,259.37 L265.31,259.00 L265.69,258.62 L266.06,258.24 L266.44,257.86 L266.81,257.48 L267.17,257.09 L267.54,256.70 L267.90,256.30 L268.26,255.91 L268.62,255.51 L268.98,255.11 L269.33,254.70 L269.68,254.30 L270.03,253.89 L270.37,253.47 L270.72,253.06 L271.05,252.64 L271.39,252.21 L271.72,251.79 L272.05,251.36 L272.38,250.93 L272.70,250.50 L273.02,250.06 L273.34,249.62 L273.65,249.18 L273.96,248.73 L274.27,248.28 L274.57,247.83 L274.87,247.38 L275.17,246.92 L275.46,246.46 L275.75,246.00 L276.04,245.53 L276.32,245.06 L276.60,244.59 L276.87,244.12 L277.15,243.64 L277.41,243.16 L277.68,242.68 L277.94,242.20 L278.20,241.72 L278.46,241.23 L278.71,240.74 L278.96,240.24 L279.21,239.75 L279.45,239.25 L279.69,238.75 L279.92,238.25 L280.15,237.74 L280.38,237.24 L280.60,236.73 L280.82,236.22 L281.03,235.70 L281.24,235.18 L281.45,234.66 L281.65,234.14 L281.84,233.62 L282.03,233.09 L282.22,232.56 L282.40,232.03 L282.57,231.50 L282.74,230.96 L282.91,230.43 L283.07,229.89 L283.22,229.35 L283.37,228.80 L283.52,228.26 L283.66,227.71 L283.79,227.17 L283.93,226.62 L284.05,226.06 L284.17,225.51 L284.29,224.96 L284.40,224.40 L284.51,223.84 L284.61,223.28 L284.71,222.72 L284.80,222.16 L284.89,221.60 L284.97,221.04 L285.04,220.47 L285.12,219.91 L285.18,219.34 L285.24,218.77Z" fill="none" stroke="#556b2f" stroke-width="2.60" stroke-linejoin="round" />
<path d="M155.00,218.20 L155.02,216.95 L155.06,215.70 L155.14,214.46 L155.26,213.22 L155.40,212.00 L155.58,210.80 L155.78,209.62 L156.02,208.46 L156.29,207.33 L156.59,206.23 L156.92,205.16 L157.28,204.12 L157.67,203.12 L158.09,202.16 L158.53,201.23 L159.01,200.35 L159.51,199.51 L160.03,198.71 L160.59,197.96 L161.17,197.25 L161.77,196.59 L162.40,195.97 L163.05,195.40 L163.72,194.88 L164.41,194.39 L165.12,193.96 L165.86,193.56 L166.61,193.21 L167.38,192.90 L168.16,192.63 L168.97,192.40 L169.78,192.20 L170.61,192.05 L171.45,191.92 L172.31,191.83 L173.17,191.77 L174.05,191.74 L174.93,191.74 L175.82,191.77 L176.72,191.82 L177.62,191.90 L178.53,192.00 L179.43,192.12 L180.34,192.27 L181.26,192.43 L182.17,192.61 L183.07,192.81 L183.98,193.03 L184.88,193.27 L185.78,193.53 L186.67,193.80 L187.55,194.09 L188.43,194.39 L189.29,194.71 L190.15,195.05 L190.99,195.41 L191.82,195.78 L192.63,196.18 L193.44,196.59 L194.22,197.02 L194.99,197.47 L195.74,197.94 L196.48,198.43 L197.19,198.94 L197.88,199.47 L198.55,200.03 L199.20,200.61 L199.83,201.21 L200.43,201.83 L201.01,202.47 L201.57,203.14 L202.09,203.83 L202.59,204.54 L203.07,205.27 L203.51,206.03 L203.93,206.80 L204.32,207.59 L204.68,208.41 L205.01,209.24 L205.31,210.08 L205.58,210.94 L205.82,211.82 L206.02,212.71 L206.20,213.61 L206.34,214.51 L206.46,215.43 L206.54,216.35 L206.58,217.27 L206.60,218.20 L206.58,219.13 L206.54,220.05 L206.46,220.97 L206.34,221.89 L206.20,222.79 L206.02,223.69 L205.82,224.58 L205.58,225.46 L205.31,226.32 L205.01,227.16 L204.68,227.99 L204.32,228.81 L203.93,229.60 L203.51,230.37 L203.07,231.13 L202.59,231.86 L202.09,232.57 L201.57,233.26 L201.01,233.93 L200.43,234.57 L199.83,235.19 L199.20,235.79 L198.55,236.37 L197.88,236.93 L197.19,237.46 L196.48,237.97 L195.74,238.46 L194.99,238.93 L194.22,239.38 L193.44,239.81 L192.63,240.22 L191.82,240.62 L190.99,240.99 L190.15,241.35 L189.29,241.69 L188.43,242.01 L187.55,242.31 L186.67,242.60 L185.78,242.87 L184.88,243.13 L183.98,243.37 L183.07,243.59 L182.17,243.79 L181.26,243.97 L180.34,244.13 L179.43,244.28 L178.53,244.40 L177.62,244.50 L176.72,244.58 L175.82,244.63 L174.93,244.66 L174.05,244.66 L173.17,244.63 L172.31,244.57 L171.45,244.48 L170.61,244.35 L169.78,244.20 L168.97,244.00 L168.16,243.77 L167.38,243.50 L166.61,243.19 L165.86,242.84 L165.12,242.44 L164.41,242.01 L163.72,241.52 L163.05,241.00 L162.40,240.43 L161.77,239.81 L161.17,239.15 L160.59,238.44 L160.03,237.69 L159.51,236.89 L159.01,236.05 L158.53,235.17 L158.09,234.24 L157.67,233.28 L157.28,232.28 L156.92,231.24 L156.59,230.17 L156.29,229.07 L156.02,227.94 L155.78,226.78 L155.58,225.60 L155.40,224.40 L155.26,223.18 L155.14,221.94 L155.06,220.70 L155.02,219.45Z" fill="none" stroke="#556b2f" stroke-width="2.60" stroke-linejoin="round" />
<path d="M155.30,218.20 L155.31,218.14 L155.34,218.03 L155.40,217.87 L155.47,217.68 L155.57,217.46 L155.69,217.22 L155.83,216.95 L155.99,216.67 L156.18,216.37 L156.38,216.06 L156.60,215.75 L156.85,215.42 L157.11,215.09 L157.39,214.75 L157.70,214.42 L158.02,214.09 L158.36,213.76 L158.72,213.43 L159.09,213.12 L159.48,212.81 L159.89,212.51 L160.32,212.23 L160.76,211.95 L161.21,211.69 L161.68,211.45 L162.17,211.22 L162.66,211.00 L163.17,210.80 L163.70,210.62 L164.23,210.45 L164.77,210.30 L165.33,210.17 L165.89,210.05 L166.46,209.94 L167.04,209.85 L167.63,209.78 L168.22,209.71 L168.82,209.66 L169.42,209.63 L170.03,209.60 L170.64,209.58 L171.26,209.58 L171.87,209.58 L172.49,209.59 L173.11,209.61 L173.73,209.64 L174.34,209.67 L174.96,209.71 L175.57,209.76 L176.18,209.81 L176.78,209.87 L177.38,209.93 L177.97,210.00 L178.56,210.08 L179.14,210.16 L179.71,210.24 L180.27,210.33 L180.83,210.43 L181.37,210.54 L181.90,210.65 L182.43,210.77 L182.94,210.89 L183.43,211.03 L183.92,211.18 L184.39,211.33 L184.84,211.50 L185.28,211.67 L185.71,211.86 L186.12,212.05 L186.51,212.26 L186.88,212.48 L187.24,212.72 L187.58,212.96 L187.90,213.22 L188.21,213.49 L188.49,213.77 L188.75,214.06 L189.00,214.36 L189.22,214.67 L189.42,215.00 L189.61,215.33 L189.77,215.67 L189.91,216.01 L190.03,216.37 L190.13,216.73 L190.20,217.09 L190.26,217.46 L190.29,217.83 L190.30,218.20 L190.29,218.57 L190.26,218.94 L190.20,219.31 L190.13,219.67 L190.03,220.03 L189.91,220.39 L189.77,220.73 L189.61,221.07 L189.42,221.40 L189.22,221.73 L189.00,222.04 L188.75,222.34 L188.49,222.63 L188.21,222.91 L187.90,223.18 L187.58,223.44 L187.24,223.68 L186.88,223.92 L186.51,224.14 L186.12,224.35 L185.71,224.54 L185.28,224.73 L184.84,224.90 L184.39,225.07 L183.92,225.22 L183.43,225.37 L182.94,225.51 L182.43,225.63 L181.90,225.75 L181.37,225.86 L180.83,225.97 L180.27,226.07 L179.71,226.16 L179.14,226.24 L178.56,226.32 L177.97,226.40 L177.38,226.47 L176.78,226.53 L176.18,226.59 L175.57,226.64 L174.96,226.69 L174.34,226.73 L173.73,226.76 L173.11,226.79 L172.49,226.81 L171.87,226.82 L171.26,226.82 L170.64,226.82 L170.03,226.80 L169.42,226.77 L168.82,226.74 L168.22,226.69 L167.63,226.62 L167.04,226.55 L166.46,226.46 L165.89,226.35 L165.33,226.23 L164.77,226.10 L164.23,225.95 L163.70,225.78 L163.17,225.60 L162.66,225.40 L162.17,225.18 L161.68,224.95 L161.21,224.71 L160.76,224.45 L160.32,224.17 L159.89,223.89 L159.48,223.59 L159.09,223.28 L158.72,222.97 L158.36,222.64 L158.02,222.31 L157.70,221.98 L157.39,221.65 L157.11,221.31 L156.85,220.98 L156.60,220.65 L156.38,220.34 L156.18,220.03 L155.99,219.73 L155.83,219.45 L155.69,219.18 L155.57,218.94 L155.47,218.72 L155.40,218.53 L155.34,218.37 L155.31,218.26Z" fill="#556b2f" fill-opacity="0.90" />
<path d="M171.6,218.7h0 M176.4,223.7h0 M163.8,222.0h0 M158.6,219.5h0 M176.3,213.3h0 M184.1,224.1h0 M189.3,221.2h0 M161.5,224.0h0 M179.5,218.0h0 M170.9,214.3h0 M168.0,220.4h0 M165.1,213.4h0 M166.5,223.9h0 M160.5,213.0h0 M168.5,216.1h0 M170.7,210.2h0 M175.5,210.7h0 M170.4,216.7h0 M178.7,213.1h0 M169.5,221.0h0 M172.0,213.0h0 M175.2,212.4h0 M169.3,221.6h0 M176.7,221.2h0 M178.5,219.5h0 M172.0,217.5h0 M184.0,216.4h0 M172.7,222.8h0 M171.2,222.4h0 M156.9,217.9h0 M189.6,218.3h0 M163.9,213.1h0 M177.3,217.5h0 M166.9,224.5h0 M163.5,215.1h0 M165.0,216.0h0 M175.2,224.7h0 M174.5,226.3h0 M185.9,216.5h0 M185.5,213.0h0 M178.2,212.6h0 M171.3,213.5h0 M187.5,216.0h0 M175.0,224.8h0 M179.3,211.4h0 M187.2,216.9h0 M162.8,221.5h0 M162.7,212.5h0 M157.5,220.6h0 M163.8,223.0h0 M160.4,220.9h0 M163.5,214.4h0 M177.5,219.6h0 M161.3,224.7h0 M189.5,217.8h0 M167.2,218.2h0 M167.8,220.0h0 M168.2,217.8h0 M176.4,220.1h0 M182.6,224.5h0" stroke="#fff" stroke-width="1.20" stroke-linecap="round" fill="none" opacity="0.35"/>
<path d="M35.5,218.4 V188.4 M35.5,218.4 H66.1" stroke="#111" stroke-width="1.60" stroke-dasharray="4.4,2.5" fill="none"/>
<path d="M155.8,218.2 V188.4 M155.8,218.2 H187.0" stroke="#111" stroke-width="1.60" stroke-dasharray="4.4,2.5" fill="none"/>
<text x="66.50" y="171.00" font-size="12.50" fill="#c0901e" stroke="#c0901e" stroke-width="0.12" text-anchor="start" textLength="29.4" lengthAdjust="spacingAndGlyphs" ><tspan font-style="italic">d</tspan> = 1</text>
<text x="172.20" y="171.30" font-size="12.50" fill="#556b2f" stroke="#556b2f" stroke-width="0.12" text-anchor="start" textLength="6.8" lengthAdjust="spacingAndGlyphs" >2</text>
<text x="38.60" y="263.40" font-size="12.50" fill="#111" stroke="#111" stroke-width="0.12" text-anchor="start" textLength="120.0" lengthAdjust="spacingAndGlyphs" ><tspan font-style="italic">&#945;</tspan> = 0.5, <tspan font-style="italic">c</tspan> = 1, <tspan font-style="italic">&#947;</tspan> = 1</text>
<path d="M145.20,363.00 L145.19,362.24 L145.17,361.49 L145.14,360.73 L145.09,359.98 L145.04,359.23 L144.96,358.47 L144.88,357.72 L144.78,356.97 L144.67,356.23 L144.54,355.48 L144.40,354.74 L144.25,354.00 L144.09,353.26 L143.91,352.52 L143.72,351.79 L143.52,351.06 L143.31,350.34 L143.08,349.62 L142.84,348.90 L142.59,348.19 L142.32,347.48 L142.05,346.78 L141.76,346.08 L141.46,345.39 L141.14,344.70 L140.82,344.02 L140.48,343.34 L140.13,342.67 L139.77,342.01 L139.40,341.35 L139.02,340.70 L138.62,340.06 L138.21,339.42 L137.79,338.79 L137.36,338.17 L136.92,337.56 L136.47,336.95 L136.01,336.35 L135.53,335.76 L135.05,335.18 L134.56,334.61 L134.05,334.05 L133.54,333.50 L133.02,332.95 L132.48,332.42 L131.94,331.89 L131.39,331.38 L130.83,330.87 L130.26,330.37 L129.69,329.89 L129.10,329.41 L128.51,328.94 L127.91,328.49 L127.30,328.04 L126.68,327.61 L126.06,327.18 L125.43,326.77 L124.79,326.36 L124.15,325.97 L123.50,325.59 L122.84,325.22 L122.18,324.86 L121.51,324.51 L120.84,324.17 L120.16,323.85 L119.47,323.53 L118.78,323.23 L118.08,322.95 L117.38,322.67 L116.68,322.41 L115.96,322.15 L115.25,321.91 L114.53,321.69 L113.81,321.47 L113.08,321.27 L112.35,321.08 L111.62,320.91 L110.88,320.74 L110.14,320.59 L109.40,320.46 L108.66,320.33 L107.91,320.22 L107.16,320.12 L106.42,320.04 L105.67,319.96 L104.91,319.91 L104.16,319.86 L103.41,319.83 L102.65,319.81 L101.90,319.80 L101.15,319.81 L100.39,319.83 L99.64,319.86 L98.89,319.91 L98.13,319.96 L97.38,320.04 L96.64,320.12 L95.89,320.22 L95.14,320.33 L94.40,320.46 L93.66,320.59 L92.92,320.74 L92.18,320.91 L91.45,321.08 L90.72,321.27 L89.99,321.47 L89.27,321.69 L88.55,321.92 L87.85,322.18 L87.15,322.47 L86.46,322.77 L85.78,323.10 L85.11,323.44 L84.45,323.80 L83.80,324.17 L83.15,324.57 L82.52,324.97 L81.90,325.39 L81.29,325.82 L80.69,326.26 L80.09,326.71 L79.51,327.16 L78.94,327.64 L78.39,328.14 L77.85,328.65 L77.33,329.18 L76.83,329.73 L76.34,330.28 L75.86,330.85 L75.40,331.42 L74.96,332.01 L74.52,332.59 L74.10,333.19 L73.69,333.79 L73.29,334.39 L72.89,334.99 L72.51,335.59 L72.13,336.20 L71.76,336.80 L71.41,337.41 L71.06,338.03 L70.72,338.64 L70.40,339.26 L70.09,339.89 L69.79,340.51 L69.50,341.15 L69.23,341.78 L68.98,342.43 L68.74,343.07 L68.51,343.72 L68.31,344.38 L68.12,345.04 L67.96,345.71 L67.83,346.38 L67.72,347.06 L67.63,347.74 L67.56,348.42 L67.51,349.11 L67.47,349.78 L67.44,350.46 L67.42,351.13 L67.41,351.79 L67.40,352.45 L67.39,353.10 L67.38,353.75 L67.36,354.39 L67.34,355.02 L67.33,355.65 L67.33,356.28 L67.33,356.90 L67.34,357.53 L67.36,358.15 L67.39,358.76 L67.42,359.38 L67.46,359.99 L67.50,360.59 L67.54,361.20 L67.59,361.80 L67.65,362.40 L67.70,363.00 L67.65,363.60 L67.59,364.20 L67.54,364.80 L67.50,365.41 L67.46,366.01 L67.42,366.62 L67.39,367.24 L67.36,367.85 L67.34,368.47 L67.33,369.10 L67.33,369.72 L67.33,370.35 L67.34,370.98 L67.36,371.61 L67.38,372.25 L67.39,372.90 L67.40,373.55 L67.41,374.21 L67.42,374.87 L67.44,375.54 L67.47,376.22 L67.51,376.89 L67.56,377.58 L67.63,378.26 L67.72,378.94 L67.83,379.62 L67.96,380.29 L68.12,380.96 L68.31,381.62 L68.51,382.28 L68.74,382.93 L68.98,383.57 L69.23,384.22 L69.50,384.85 L69.79,385.49 L70.09,386.11 L70.40,386.74 L70.72,387.36 L71.06,387.97 L71.41,388.59 L71.76,389.20 L72.13,389.80 L72.51,390.41 L72.89,391.01 L73.29,391.61 L73.69,392.21 L74.10,392.81 L74.52,393.41 L74.96,393.99 L75.40,394.58 L75.86,395.15 L76.34,395.72 L76.83,396.27 L77.33,396.82 L77.85,397.35 L78.39,397.86 L78.94,398.36 L79.51,398.84 L80.09,399.29 L80.69,399.74 L81.29,400.18 L81.90,400.61 L82.52,401.03 L83.15,401.43 L83.80,401.83 L84.45,402.20 L85.11,402.56 L85.78,402.90 L86.46,403.23 L87.15,403.53 L87.85,403.82 L88.55,404.08 L89.27,404.31 L89.99,404.53 L90.72,404.73 L91.45,404.92 L92.18,405.09 L92.92,405.26 L93.66,405.41 L94.40,405.54 L95.14,405.67 L95.89,405.78 L96.64,405.88 L97.38,405.96 L98.13,406.04 L98.89,406.09 L99.64,406.14 L100.39,406.17 L101.15,406.19 L101.90,406.20 L102.65,406.19 L103.41,406.17 L104.16,406.14 L104.91,406.09 L105.67,406.04 L106.42,405.96 L107.16,405.88 L107.91,405.78 L108.66,405.67 L109.40,405.54 L110.14,405.41 L110.88,405.26 L111.62,405.09 L112.35,404.92 L113.08,404.73 L113.81,404.53 L114.53,404.31 L115.25,404.09 L115.96,403.85 L116.68,403.59 L117.38,403.33 L118.08,403.05 L118.78,402.77 L119.47,402.47 L120.16,402.15 L120.84,401.83 L121.51,401.49 L122.18,401.14 L122.84,400.78 L123.50,400.41 L124.15,400.03 L124.79,399.64 L125.43,399.23 L126.06,398.82 L126.68,398.39 L127.30,397.96 L127.91,397.51 L128.51,397.06 L129.10,396.59 L129.69,396.11 L130.26,395.63 L130.83,395.13 L131.39,394.62 L131.94,394.11 L132.48,393.58 L133.02,393.05 L133.54,392.50 L134.05,391.95 L134.56,391.39 L135.05,390.82 L135.53,390.24 L136.01,389.65 L136.47,389.05 L136.92,388.44 L137.36,387.83 L137.79,387.21 L138.21,386.58 L138.62,385.94 L139.02,385.30 L139.40,384.65 L139.77,383.99 L140.13,383.33 L140.48,382.66 L140.82,381.98 L141.14,381.30 L141.46,380.61 L141.76,379.92 L142.05,379.22 L142.32,378.52 L142.59,377.81 L142.84,377.10 L143.08,376.38 L143.31,375.66 L143.52,374.94 L143.72,374.21 L143.91,373.48 L144.09,372.74 L144.25,372.00 L144.40,371.26 L144.54,370.52 L144.67,369.77 L144.78,369.03 L144.88,368.28 L144.96,367.53 L145.04,366.77 L145.09,366.02 L145.14,365.27 L145.17,364.51 L145.19,363.76Z M82.20,363.00 a19.30,20.90 0 1,0 38.60,0 a19.30,20.90 0 1,0 -38.60,0Z" fill="#4b3d96" fill-opacity="0.10" fill-rule="evenodd"/>
<path d="M86.2,330.7h0 M126.9,342.9h0 M137.3,362.4h0 M116.4,333.0h0 M131.7,385.2h0 M123.4,388.8h0 M134.0,352.4h0 M114.1,395.2h0 M142.1,353.9h0 M77.2,336.1h0 M131.7,379.9h0 M96.1,328.1h0 M76.7,342.7h0 M75.1,343.6h0 M113.6,342.0h0 M78.0,364.2h0 M124.1,350.8h0 M77.9,366.9h0 M122.4,330.5h0 M103.1,400.8h0 M134.4,337.4h0 M122.5,363.0h0 M124.7,377.6h0 M132.7,376.8h0 M115.7,334.8h0 M108.3,397.1h0 M98.5,391.7h0 M128.4,393.7h0 M101.1,391.5h0 M68.0,375.4h0 M124.2,353.5h0 M97.9,322.5h0 M112.4,398.4h0 M120.7,340.6h0 M95.7,393.0h0 M122.2,346.2h0 M92.6,391.5h0 M85.4,339.1h0 M115.8,379.0h0 M133.7,378.0h0 M102.7,326.1h0 M113.9,401.6h0 M125.8,384.2h0 M124.0,376.7h0 M127.5,364.9h0 M76.6,366.2h0 M83.2,326.7h0 M125.5,379.8h0 M86.2,397.5h0 M95.5,336.4h0 M100.6,332.8h0 M77.1,393.7h0 M92.0,400.3h0 M131.9,371.8h0 M144.0,353.9h0 M78.1,359.9h0 M117.1,391.5h0 M97.8,327.1h0 M74.9,376.5h0 M114.2,328.7h0 M114.9,393.3h0 M120.6,345.0h0 M99.3,386.7h0 M129.3,394.7h0 M120.0,352.9h0 M121.0,373.7h0 M74.0,351.8h0 M86.0,324.6h0 M78.8,337.6h0 M102.5,389.6h0 M115.8,340.5h0 M123.2,358.4h0 M122.1,381.1h0 M137.7,362.5h0 M89.0,398.5h0 M120.5,388.0h0 M109.1,400.0h0 M99.8,323.8h0 M116.4,348.7h0 M94.8,391.8h0 M109.7,404.2h0 M69.0,366.8h0 M119.9,389.6h0 M81.7,327.8h0 M70.1,347.8h0 M93.4,328.4h0 M122.7,358.5h0 M103.8,342.2h0 M68.4,379.6h0 M69.5,379.6h0 M132.8,373.9h0 M115.3,323.0h0 M90.2,337.9h0 M121.1,388.7h0 M115.4,387.1h0 M117.0,381.5h0 M101.8,395.9h0 M138.6,359.2h0 M138.4,370.6h0 M72.9,344.2h0 M126.9,346.0h0 M143.3,369.2h0 M70.6,371.8h0 M84.9,344.6h0 M130.8,395.2h0 M113.4,339.9h0 M131.4,376.2h0 M90.8,393.2h0 M122.7,368.7h0 M97.9,399.3h0 M125.4,370.9h0 M88.1,385.1h0 M103.3,386.0h0 M139.4,359.0h0 M128.8,357.6h0 M120.6,368.2h0 M135.1,354.2h0 M120.7,370.9h0 M81.6,337.9h0 M101.3,336.7h0 M115.9,378.3h0 M83.6,371.3h0 M95.0,326.7h0 M119.8,348.1h0 M69.2,361.2h0 M115.7,346.5h0 M73.2,386.3h0 M128.5,344.6h0 M122.6,339.3h0 M77.9,374.6h0 M107.5,325.7h0 M114.5,327.5h0 M73.5,339.5h0 M79.7,395.7h0 M68.8,372.3h0 M70.4,375.8h0 M126.1,387.5h0 M80.0,373.1h0 M87.9,382.7h0 M92.5,404.4h0 M90.3,340.1h0 M121.6,327.8h0 M112.7,387.0h0 M124.1,379.4h0 M119.0,393.1h0 M75.6,365.1h0 M75.5,360.4h0 M133.5,370.3h0 M126.7,378.0h0 M84.5,400.8h0 M73.1,356.4h0 M106.2,341.9h0 M127.2,348.9h0 M83.4,390.0h0 M118.5,393.1h0 M120.8,396.9h0 M134.7,359.8h0 M132.6,359.6h0 M130.9,392.6h0 M81.2,332.5h0 M143.4,356.3h0 M79.4,344.2h0 M70.4,385.0h0 M130.1,374.1h0 M142.8,364.2h0 M110.1,397.0h0 M70.8,375.1h0 M93.8,401.9h0 M113.7,391.1h0 M87.4,336.3h0 M115.1,402.7h0 M112.8,337.7h0 M69.1,382.6h0 M99.0,335.8h0 M115.9,403.1h0 M70.5,381.7h0 M79.7,376.3h0 M103.9,387.8h0 M123.2,396.3h0 M128.3,358.3h0 M93.7,385.7h0 M110.5,331.5h0 M79.8,341.2h0 M71.0,375.5h0 M105.1,331.9h0 M139.3,352.4h0 M102.5,337.2h0 M94.1,332.6h0 M131.6,362.3h0 M132.9,368.1h0 M135.5,389.0h0 M122.5,378.1h0 M75.8,345.5h0 M108.8,341.0h0 M100.4,339.2h0 M122.6,382.0h0 M93.1,338.8h0 M73.8,362.9h0 M137.0,379.8h0 M78.5,344.8h0 M104.7,339.0h0 M70.2,381.5h0 M134.8,338.1h0 M105.0,336.0h0 M141.6,369.4h0 M94.3,384.2h0 M133.0,382.5h0 M140.5,373.8h0 M104.5,398.6h0 M122.2,381.3h0 M83.1,337.6h0 M129.0,360.8h0 M113.9,339.4h0 M81.1,331.1h0 M92.2,327.8h0 M82.6,341.9h0 M111.7,403.7h0 M82.2,326.0h0 M102.1,392.5h0 M83.9,353.1h0 M111.5,387.0h0 M115.4,377.6h0 M113.8,334.5h0 M83.4,347.1h0 M88.0,338.4h0 M125.2,340.2h0 M123.1,329.1h0 M103.3,329.1h0 M94.7,384.8h0 M97.3,326.5h0 M138.2,371.6h0 M108.4,400.9h0 M80.1,367.9h0 M125.6,393.2h0 M117.3,381.4h0 M126.1,385.9h0 M83.1,356.6h0 M136.3,363.1h0 M125.8,339.2h0 M135.3,363.0h0 M128.0,343.8h0 M96.1,321.2h0 M130.0,351.3h0 M95.4,332.2h0 M68.0,370.4h0 M69.7,370.9h0 M140.3,371.0h0 M127.8,380.0h0 M113.7,324.8h0 M110.3,322.9h0 M102.4,386.4h0 M119.3,341.6h0 M97.9,334.1h0 M139.0,352.4h0 M76.2,339.8h0 M126.7,378.3h0 M80.9,327.2h0 M103.6,396.8h0 M112.4,335.1h0 M139.3,382.2h0 M74.3,366.2h0 M109.5,396.1h0 M120.1,392.6h0 M134.3,373.3h0 M112.1,402.1h0 M109.7,326.0h0 M82.9,368.5h0 M121.0,357.4h0 M114.5,388.9h0 M138.7,376.8h0 M123.8,344.2h0 M87.7,387.0h0 M107.4,331.7h0 M106.6,399.7h0 M117.4,344.4h0 M104.0,323.0h0 M73.8,374.8h0 M117.8,384.2h0 M127.9,333.2h0 M117.6,401.9h0 M78.5,370.6h0 M84.4,379.5h0 M110.8,331.4h0 M124.1,393.7h0 M129.2,395.5h0 M107.4,331.2h0 M139.0,358.1h0 M85.0,389.3h0 M79.1,341.2h0 M107.5,401.7h0 M82.8,394.2h0 M139.0,368.4h0 M68.4,375.8h0 M76.4,344.0h0 M77.9,388.5h0 M114.0,331.0h0 M122.5,341.7h0 M73.0,378.3h0 M141.3,373.9h0 M68.5,346.9h0 M104.8,401.0h0 M106.8,334.2h0 M131.0,345.0h0 M81.7,340.5h0 M77.5,392.6h0 M103.2,400.7h0 M126.0,344.2h0 M103.6,405.8h0 M85.7,344.6h0 M136.2,357.2h0 M69.7,349.4h0 M79.0,341.2h0 M135.7,357.9h0 M123.4,350.4h0 M86.7,332.9h0 M90.9,325.4h0 M106.3,323.5h0 M99.5,392.9h0 M125.5,371.9h0 M95.7,331.9h0 M121.7,330.4h0 M123.9,386.3h0 M129.7,351.3h0 M99.4,338.6h0 M86.4,403.0h0 M135.4,377.3h0 M95.0,336.4h0 M80.8,398.5h0 M77.9,393.8h0 M73.5,378.5h0 M98.6,328.3h0 M82.6,400.6h0 M75.5,372.2h0 M114.4,403.8h0 M104.4,386.3h0 M135.0,384.0h0 M125.7,331.2h0 M138.6,378.7h0 M91.0,335.4h0 M70.6,382.4h0 M120.2,334.6h0 M140.1,350.4h0 M105.5,392.6h0 M72.9,378.4h0 M119.5,333.4h0 M70.4,361.3h0 M136.2,360.1h0 M99.4,389.2h0 M126.6,365.6h0 M123.4,361.1h0 M123.9,384.6h0 M127.4,355.7h0 M133.2,348.4h0 M128.9,343.7h0 M144.4,364.1h0 M125.1,332.8h0 M110.8,321.9h0 M93.9,393.0h0 M103.9,403.0h0 M121.8,384.7h0 M105.0,335.5h0 M83.9,347.5h0 M116.4,327.3h0 M121.6,341.2h0 M129.2,356.9h0 M86.2,349.8h0 M97.5,395.0h0 M119.0,331.5h0 M116.9,349.2h0 M115.5,348.0h0 M113.1,321.7h0 M78.1,343.4h0 M94.2,388.3h0 M99.1,320.7h0 M73.9,387.0h0 M125.8,398.8h0 M138.3,341.4h0 M70.5,382.8h0 M129.8,346.1h0 M79.9,356.4h0 M93.7,396.2h0 M82.2,395.3h0 M109.1,334.5h0 M89.2,386.8h0 M119.3,351.7h0 M74.7,367.9h0 M70.2,359.9h0 M114.4,342.4h0 M113.3,384.7h0 M109.3,340.5h0 M76.7,393.5h0 M139.6,369.1h0 M105.2,392.0h0 M80.5,370.9h0 M82.5,348.2h0 M84.5,390.9h0 M132.2,358.8h0 M100.8,387.6h0 M110.7,321.5h0 M122.1,392.6h0 M69.0,343.5h0 M142.1,365.5h0 M127.2,365.8h0 M78.5,390.1h0 M82.0,353.7h0 M118.9,380.1h0 M90.0,325.6h0 M118.4,374.4h0 M77.2,343.8h0 M75.2,366.1h0 M109.3,388.7h0 M71.1,382.8h0 M96.5,324.2h0 M128.7,362.2h0 M96.4,323.6h0 M120.8,341.2h0 M103.7,385.1h0 M69.4,383.8h0 M122.2,379.1h0 M99.3,328.5h0 M123.1,331.3h0 M79.0,340.7h0 M78.9,381.0h0 M128.7,361.7h0 M139.7,359.2h0 M97.3,337.3h0 M82.1,390.5h0 M70.4,349.5h0 M85.1,377.5h0 M118.9,398.2h0 M120.4,368.6h0 M143.2,362.7h0 M106.5,385.3h0 M120.7,371.2h0 M126.6,364.0h0 M79.3,391.4h0 M78.7,339.0h0 M72.0,384.9h0 M84.6,400.7h0 M88.9,327.5h0 M84.9,399.8h0 M108.8,336.3h0 M137.6,342.7h0 M132.7,332.8h0 M69.2,364.8h0 M75.0,353.3h0 M103.0,387.8h0 M94.6,328.8h0 M97.2,329.9h0 M95.0,390.1h0 M113.9,328.2h0 M134.5,386.4h0 M103.6,334.5h0 M72.8,372.1h0 M119.1,352.5h0 M84.5,335.5h0 M81.5,381.3h0 M108.9,334.2h0 M108.0,404.6h0 M95.6,325.7h0 M75.9,338.7h0 M135.1,388.1h0 M95.0,341.4h0 M81.2,344.8h0 M125.2,384.7h0 M107.7,340.4h0 M75.8,337.2h0 M91.9,322.5h0 M87.6,326.7h0 M116.3,340.0h0 M117.4,378.7h0 M77.1,330.1h0 M133.4,362.4h0 M81.9,340.9h0 M103.5,340.5h0 M112.3,382.2h0 M99.6,387.7h0 M142.1,369.7h0 M112.8,397.3h0 M120.1,356.5h0 M75.1,348.3h0 M109.8,402.9h0 M81.6,332.9h0 M87.2,325.8h0 M122.6,336.6h0 M133.4,368.0h0 M136.3,364.0h0 M121.5,356.8h0 M117.8,347.5h0 M69.1,342.9h0 M122.7,388.3h0 M85.8,396.2h0 M137.1,374.9h0 M78.8,333.3h0 M85.4,347.6h0 M144.3,366.1h0 M130.0,333.0h0 M129.4,360.3h0 M138.1,374.6h0 M137.3,383.0h0 M130.5,362.0h0 M81.9,345.4h0 M70.2,365.6h0 M90.6,400.2h0 M125.1,368.3h0 M144.4,356.0h0 M101.2,333.6h0 M125.2,334.4h0 M90.3,334.4h0 M69.8,358.4h0 M81.3,345.1h0 M119.7,338.9h0 M88.3,403.3h0 M93.8,323.1h0 M74.5,367.2h0 M98.7,395.6h0 M83.7,340.3h0 M92.8,390.6h0 M104.0,394.6h0 M133.0,375.4h0 M82.9,401.0h0 M76.5,374.6h0 M139.4,349.3h0 M94.3,405.3h0 M114.0,323.0h0 M74.0,361.3h0 M128.2,367.6h0 M78.9,391.7h0 M126.0,355.0h0 M92.0,387.0h0 M118.6,402.6h0 M122.8,371.4h0 M88.4,343.7h0 M119.2,354.5h0 M122.0,393.5h0 M134.4,376.4h0 M124.9,395.5h0 M80.9,355.1h0 M76.0,373.0h0 M137.3,349.5h0 M73.5,364.8h0 M133.6,383.2h0 M75.8,369.3h0 M126.4,367.4h0 M86.4,341.0h0 M92.6,386.3h0 M120.9,336.4h0 M92.6,403.9h0 M125.6,385.4h0 M101.2,326.7h0 M128.8,360.4h0 M127.1,345.2h0 M101.5,336.3h0 M86.8,328.2h0 M83.5,328.8h0 M128.2,343.1h0 M80.2,367.5h0 M77.1,334.6h0 M87.0,339.7h0 M121.9,379.1h0 M132.5,357.9h0 M106.5,394.6h0 M117.7,382.9h0 M91.6,327.4h0 M73.7,349.5h0 M109.2,394.3h0 M128.6,341.1h0 M118.2,336.1h0 M106.5,340.3h0 M128.1,353.8h0 M100.7,404.9h0 M93.0,341.0h0 M111.6,326.9h0 M103.0,388.3h0 M77.4,373.7h0 M113.5,330.7h0 M100.3,323.7h0 M86.4,386.6h0 M69.3,361.4h0 M71.9,370.6h0 M110.6,395.8h0 M108.4,389.6h0 M120.7,360.3h0 M95.6,330.2h0 M70.9,347.2h0 M113.0,332.7h0 M82.2,356.4h0 M110.0,382.9h0 M82.3,340.6h0 M73.4,371.2h0 M131.1,390.9h0 M123.3,384.9h0 M135.8,341.6h0 M125.2,369.1h0 M120.3,385.3h0 M99.8,321.4h0 M68.6,372.6h0 M79.0,373.3h0 M114.4,331.4h0 M95.4,388.0h0 M70.9,364.9h0 M126.7,356.0h0 M78.2,356.3h0 M117.6,327.7h0 M120.4,382.1h0 M100.5,388.1h0 M91.6,381.7h0 M93.8,382.7h0 M69.1,353.0h0 M106.9,393.8h0 M82.2,382.5h0 M123.5,395.1h0 M137.0,386.5h0 M132.3,338.0h0 M106.0,384.7h0 M79.0,331.6h0 M128.4,357.4h0 M111.9,395.8h0 M120.5,358.0h0 M87.4,394.4h0 M95.8,340.9h0 M129.8,394.1h0 M143.5,366.1h0 M121.8,341.3h0 M127.7,363.6h0 M91.8,394.4h0 M114.4,344.1h0 M108.6,390.9h0 M79.4,394.9h0 M125.5,377.9h0 M89.2,332.4h0 M133.1,368.7h0 M76.4,368.1h0 M125.1,359.2h0 M109.4,342.0h0 M92.4,324.1h0 M109.4,388.3h0 M91.7,388.7h0 M101.7,333.2h0 M119.7,344.1h0 M79.4,356.2h0 M102.0,397.4h0 M96.4,342.2h0 M79.5,389.8h0 M104.7,334.7h0 M71.3,355.3h0 M84.3,399.6h0 M71.7,374.3h0 M128.1,354.4h0 M122.4,381.4h0 M112.1,395.0h0 M81.8,351.5h0 M98.6,400.2h0 M94.3,330.8h0 M129.7,388.6h0 M139.7,383.5h0 M140.6,364.2h0 M75.1,365.2h0 M76.5,355.9h0 M76.6,344.0h0 M79.7,383.1h0 M84.8,328.1h0 M133.1,385.1h0 M117.6,391.4h0 M83.5,343.3h0 M74.2,376.5h0 M122.3,349.5h0 M75.9,362.6h0 M120.9,401.8h0 M126.3,337.7h0 M72.0,387.7h0 M109.1,404.3h0 M92.8,404.5h0 M98.7,323.4h0 M90.5,397.3h0 M123.6,341.4h0 M137.8,375.0h0 M115.5,402.3h0 M130.2,387.1h0 M121.3,347.7h0 M83.7,342.7h0 M88.4,346.4h0 M120.1,346.7h0 M101.0,323.7h0 M108.7,327.9h0 M118.1,324.1h0 M79.8,365.8h0 M76.6,349.9h0 M86.4,393.1h0 M108.3,331.0h0 M69.8,367.7h0 M93.9,340.0h0 M112.3,388.1h0 M92.3,335.9h0 M115.9,333.3h0 M75.1,381.1h0 M73.6,368.0h0 M104.4,322.9h0 M141.5,355.1h0 M74.1,387.3h0 M113.9,341.9h0 M133.7,367.2h0 M141.9,348.4h0 M105.8,327.2h0 M96.2,327.6h0 M137.8,377.2h0 M75.4,385.1h0 M79.4,353.1h0 M111.8,328.9h0 M121.6,351.3h0 M112.7,324.3h0 M78.3,383.7h0 M95.7,399.6h0 M83.0,336.5h0 M133.8,343.4h0 M104.6,335.0h0 M102.9,324.8h0 M122.4,362.4h0 M83.8,376.3h0 M83.1,371.3h0 M121.3,378.4h0 M119.5,335.5h0 M103.9,404.8h0 M113.3,329.1h0 M86.9,347.2h0 M90.2,400.7h0 M104.9,394.6h0 M76.2,344.9h0 M119.0,375.3h0 M75.2,353.0h0 M126.0,333.3h0 M71.8,368.4h0 M74.9,384.9h0 M97.2,342.6h0 M91.8,382.8h0 M139.0,381.9h0 M94.7,399.7h0 M116.7,335.5h0 M85.8,324.4h0 M135.3,370.9h0 M105.5,324.4h0 M99.1,391.7h0 M123.2,386.1h0 M70.6,365.1h0 M118.3,328.2h0 M77.7,329.2h0 M78.7,355.8h0 M95.8,404.2h0 M86.9,395.3h0 M73.8,376.0h0 M128.7,370.0h0 M128.8,392.2h0 M98.6,339.3h0 M127.5,377.0h0 M75.0,342.4h0 M72.7,336.8h0 M134.9,340.5h0 M80.3,380.0h0 M98.6,340.1h0 M128.1,356.2h0 M133.9,355.2h0 M98.6,405.9h0 M75.1,390.3h0 M90.4,391.3h0 M118.2,375.8h0 M126.1,341.1h0 M69.5,376.4h0 M72.8,371.9h0 M130.2,361.7h0 M128.5,367.6h0 M116.4,327.0h0 M78.2,373.9h0 M77.6,335.5h0 M128.2,349.0h0 M136.9,370.2h0 M126.1,375.3h0 M78.4,387.6h0 M125.1,390.8h0 M85.1,399.9h0 M128.8,349.0h0 M112.6,403.7h0 M137.6,371.8h0 M125.2,368.5h0 M138.2,342.8h0 M72.8,385.6h0 M119.9,382.2h0 M99.2,387.5h0 M81.4,388.8h0 M107.0,338.9h0 M122.7,334.0h0 M80.3,350.0h0 M78.3,383.0h0 M96.5,404.3h0 M132.5,372.0h0 M77.3,349.3h0 M122.8,364.1h0 M71.4,359.1h0 M71.8,358.5h0 M132.3,389.4h0 M76.0,376.1h0" stroke="#4b3d96" stroke-width="2.30" stroke-linecap="round" fill="none" opacity="0.50"/>
<path d="M69.6,367.2h0 M71.4,344.9h0 M74.4,371.7h0 M70.7,370.0h0 M73.0,359.1h0 M78.7,373.9h0 M68.5,356.5h0 M73.1,369.1h0 M81.0,360.0h0 M68.4,351.3h0 M73.9,355.8h0 M72.5,359.3h0 M73.3,362.8h0 M72.7,360.9h0 M73.9,367.6h0 M72.9,367.4h0 M83.2,379.1h0 M68.4,368.9h0 M72.0,365.5h0 M72.1,366.4h0 M68.8,357.1h0 M79.0,364.0h0 M69.5,371.7h0 M76.1,348.0h0 M78.7,363.3h0 M70.9,358.3h0 M69.8,360.2h0 M74.6,361.1h0 M72.7,347.9h0 M68.1,361.9h0 M70.6,357.6h0 M75.4,355.4h0 M68.9,356.5h0 M75.8,360.9h0 M77.3,358.4h0 M71.1,368.6h0 M71.0,361.9h0 M78.2,366.4h0 M68.3,354.2h0 M74.6,366.1h0 M70.6,349.3h0 M69.6,370.6h0 M75.4,369.5h0 M69.6,349.7h0 M69.7,356.1h0 M68.1,362.0h0 M71.2,356.1h0 M70.9,357.0h0 M74.2,362.5h0 M78.7,358.9h0 M74.8,351.6h0 M70.3,363.9h0 M79.3,366.7h0 M73.7,365.9h0 M69.8,377.3h0 M76.4,367.1h0 M68.0,349.1h0 M77.2,360.7h0 M68.1,358.4h0 M76.9,355.8h0 M70.3,357.1h0 M74.1,353.3h0 M73.0,363.8h0 M72.3,367.8h0 M75.6,357.0h0 M69.7,374.3h0 M68.0,377.0h0 M80.4,360.2h0 M67.9,368.8h0 M75.9,362.4h0 M74.4,352.8h0 M68.1,353.0h0 M69.4,377.9h0 M67.7,356.6h0 M78.7,351.1h0 M68.5,358.0h0 M73.5,380.7h0 M67.9,351.2h0 M67.4,353.0h0 M71.2,363.3h0 M81.2,353.0h0 M73.9,363.2h0 M70.7,352.3h0 M74.3,368.0h0 M68.6,358.0h0 M70.5,372.8h0 M67.6,366.9h0 M81.3,362.4h0 M77.8,360.3h0 M79.1,357.2h0 M71.4,360.5h0 M68.2,347.0h0 M69.9,361.7h0 M74.0,354.2h0 M68.2,362.9h0 M79.4,349.7h0 M74.5,352.3h0 M71.1,363.1h0 M69.7,354.8h0 M69.6,362.3h0 M71.9,347.6h0 M76.1,358.1h0 M70.0,361.0h0 M72.8,367.2h0 M75.2,371.2h0 M68.9,362.0h0 M69.9,360.0h0 M70.6,365.7h0 M72.6,380.6h0 M68.1,370.4h0 M75.0,371.1h0 M68.8,359.2h0 M73.7,346.9h0 M76.3,380.6h0 M71.0,376.3h0 M71.7,363.7h0 M76.6,359.5h0 M73.2,359.4h0 M72.4,373.6h0 M70.2,360.7h0 M72.1,367.4h0 M67.4,357.0h0 M77.1,359.4h0 M68.4,381.6h0 M71.7,351.0h0 M72.0,361.7h0 M68.4,364.2h0 M82.5,351.4h0 M70.1,361.6h0 M67.8,361.7h0 M67.6,370.3h0 M81.9,360.2h0 M73.0,345.6h0 M72.0,377.0h0 M68.4,369.8h0 M74.8,369.5h0 M68.3,348.5h0 M68.9,364.4h0 M70.1,360.5h0 M80.2,374.6h0 M70.6,363.8h0 M79.8,369.0h0 M77.2,366.8h0 M68.5,361.8h0 M72.0,371.2h0 M77.7,361.9h0 M76.5,347.4h0 M68.7,355.8h0 M72.6,369.7h0 M69.0,378.4h0 M73.5,378.2h0 M82.6,375.8h0 M71.6,349.3h0 M73.8,364.0h0 M68.3,368.1h0 M70.4,373.3h0 M70.5,379.6h0 M69.1,377.7h0 M73.8,365.7h0 M72.7,349.5h0 M67.9,360.5h0 M69.5,371.6h0 M72.5,365.4h0 M70.3,367.3h0 M73.1,356.3h0 M78.5,365.6h0 M70.9,369.8h0 M71.0,366.0h0 M77.9,368.0h0 M76.6,364.6h0 M68.4,351.6h0 M76.6,358.2h0 M69.5,372.0h0 M69.7,377.9h0 M72.3,365.7h0 M71.8,369.1h0 M74.3,362.0h0 M77.1,368.7h0 M70.1,371.0h0 M71.3,357.4h0 M73.0,360.6h0 M69.3,363.1h0 M70.2,378.3h0 M75.5,364.7h0 M72.9,344.9h0 M71.5,379.2h0 M67.6,360.8h0 M68.6,351.2h0 M71.3,363.7h0 M70.2,358.7h0 M67.4,370.5h0 M74.2,356.9h0 M70.3,360.0h0 M71.1,373.5h0 M73.2,351.8h0 M79.1,368.6h0 M68.5,357.8h0 M71.9,364.9h0 M69.4,363.2h0 M70.4,367.0h0 M79.3,352.9h0 M77.8,355.7h0 M75.2,366.5h0 M79.5,369.7h0 M71.4,345.0h0 M78.1,366.9h0 M70.4,350.4h0 M77.6,367.6h0 M70.5,356.4h0 M80.8,367.4h0 M70.0,344.1h0 M75.3,354.9h0 M75.2,346.6h0 M72.2,360.7h0 M69.5,342.9h0 M72.3,348.0h0 M82.4,367.0h0 M73.6,359.1h0 M72.6,359.7h0 M79.0,359.3h0 M68.9,364.3h0 M70.5,360.6h0 M73.0,352.0h0 M68.2,367.2h0 M70.6,348.4h0 M71.7,364.9h0 M72.3,365.3h0 M76.3,363.7h0 M70.8,368.1h0 M78.4,368.5h0 M76.9,362.4h0 M73.0,363.4h0 M76.7,355.4h0 M79.7,363.2h0 M73.9,373.9h0 M72.8,360.7h0 M68.8,365.4h0 M68.8,359.7h0 M70.1,378.3h0 M71.9,370.5h0 M71.4,362.8h0 M72.5,357.9h0 M75.6,369.6h0 M67.6,355.8h0 M73.9,352.3h0 M71.5,347.8h0 M81.1,360.8h0 M67.5,356.4h0 M79.0,348.2h0 M76.8,356.3h0 M68.5,372.9h0 M68.2,363.9h0 M70.6,360.6h0 M76.2,382.5h0 M69.3,364.6h0 M68.6,377.8h0 M80.1,373.0h0 M76.4,366.0h0 M75.2,362.7h0 M79.7,353.9h0 M71.3,361.4h0 M68.3,374.7h0 M68.1,360.0h0 M71.8,357.5h0 M68.6,360.7h0 M70.4,376.5h0 M78.2,344.0h0 M77.1,350.1h0 M73.2,360.0h0 M78.3,357.8h0 M76.2,375.9h0 M68.5,371.4h0 M72.1,361.0h0 M72.5,355.1h0 M69.3,376.0h0 M70.3,366.6h0 M68.9,363.1h0 M76.3,363.9h0 M75.5,356.4h0 M73.7,374.0h0 M76.6,362.2h0 M68.5,374.7h0 M68.7,354.8h0 M75.1,355.4h0 M70.3,381.4h0 M72.3,375.9h0 M69.3,371.7h0 M74.7,370.2h0 M73.0,365.7h0 M72.8,347.0h0 M79.3,362.9h0 M71.4,362.3h0 M77.6,354.1h0 M73.9,373.1h0 M76.6,349.7h0 M70.7,354.6h0 M68.9,358.7h0 M68.7,364.8h0 M76.1,355.4h0 M74.1,352.4h0 M70.3,365.0h0 M77.5,367.3h0 M68.2,347.2h0 M77.6,359.2h0 M68.9,368.8h0 M73.8,357.8h0 M73.3,366.3h0 M77.2,369.6h0 M76.9,379.2h0 M71.1,358.9h0 M71.6,348.0h0 M69.0,358.8h0 M68.5,347.0h0 M68.5,365.2h0 M74.2,358.7h0 M69.1,371.3h0 M71.8,355.6h0 M70.3,373.3h0 M70.7,359.9h0 M68.0,359.0h0 M76.1,352.7h0 M71.6,362.4h0 M74.2,380.0h0 M73.2,349.9h0 M79.3,374.7h0 M70.4,368.7h0 M69.4,369.8h0 M74.5,364.8h0 M70.0,356.9h0 M69.0,361.9h0 M72.4,343.0h0 M78.5,359.4h0 M67.7,358.4h0 M72.4,377.9h0 M73.8,368.0h0 M70.9,362.1h0 M77.0,360.3h0 M68.2,352.8h0 M67.7,361.3h0 M71.9,369.9h0 M68.0,364.6h0 M73.9,361.5h0 M72.3,365.5h0 M68.5,369.6h0 M73.7,377.3h0 M67.9,359.0h0 M71.1,370.4h0 M75.6,378.7h0 M69.5,368.3h0 M74.3,370.2h0" stroke="#4b3d96" stroke-width="1.80" stroke-linecap="round" fill="none" opacity="0.60"/>
<path d="M145.20,363.00 L145.19,362.24 L145.17,361.49 L145.14,360.73 L145.09,359.98 L145.04,359.23 L144.96,358.47 L144.88,357.72 L144.78,356.97 L144.67,356.23 L144.54,355.48 L144.40,354.74 L144.25,354.00 L144.09,353.26 L143.91,352.52 L143.72,351.79 L143.52,351.06 L143.31,350.34 L143.08,349.62 L142.84,348.90 L142.59,348.19 L142.32,347.48 L142.05,346.78 L141.76,346.08 L141.46,345.39 L141.14,344.70 L140.82,344.02 L140.48,343.34 L140.13,342.67 L139.77,342.01 L139.40,341.35 L139.02,340.70 L138.62,340.06 L138.21,339.42 L137.79,338.79 L137.36,338.17 L136.92,337.56 L136.47,336.95 L136.01,336.35 L135.53,335.76 L135.05,335.18 L134.56,334.61 L134.05,334.05 L133.54,333.50 L133.02,332.95 L132.48,332.42 L131.94,331.89 L131.39,331.38 L130.83,330.87 L130.26,330.37 L129.69,329.89 L129.10,329.41 L128.51,328.94 L127.91,328.49 L127.30,328.04 L126.68,327.61 L126.06,327.18 L125.43,326.77 L124.79,326.36 L124.15,325.97 L123.50,325.59 L122.84,325.22 L122.18,324.86 L121.51,324.51 L120.84,324.17 L120.16,323.85 L119.47,323.53 L118.78,323.23 L118.08,322.95 L117.38,322.67 L116.68,322.41 L115.96,322.15 L115.25,321.91 L114.53,321.69 L113.81,321.47 L113.08,321.27 L112.35,321.08 L111.62,320.91 L110.88,320.74 L110.14,320.59 L109.40,320.46 L108.66,320.33 L107.91,320.22 L107.16,320.12 L106.42,320.04 L105.67,319.96 L104.91,319.91 L104.16,319.86 L103.41,319.83 L102.65,319.81 L101.90,319.80 L101.15,319.81 L100.39,319.83 L99.64,319.86 L98.89,319.91 L98.13,319.96 L97.38,320.04 L96.64,320.12 L95.89,320.22 L95.14,320.33 L94.40,320.46 L93.66,320.59 L92.92,320.74 L92.18,320.91 L91.45,321.08 L90.72,321.27 L89.99,321.47 L89.27,321.69 L88.55,321.92 L87.85,322.18 L87.15,322.47 L86.46,322.77 L85.78,323.10 L85.11,323.44 L84.45,323.80 L83.80,324.17 L83.15,324.57 L82.52,324.97 L81.90,325.39 L81.29,325.82 L80.69,326.26 L80.09,326.71 L79.51,327.16 L78.94,327.64 L78.39,328.14 L77.85,328.65 L77.33,329.18 L76.83,329.73 L76.34,330.28 L75.86,330.85 L75.40,331.42 L74.96,332.01 L74.52,332.59 L74.10,333.19 L73.69,333.79 L73.29,334.39 L72.89,334.99 L72.51,335.59 L72.13,336.20 L71.76,336.80 L71.41,337.41 L71.06,338.03 L70.72,338.64 L70.40,339.26 L70.09,339.89 L69.79,340.51 L69.50,341.15 L69.23,341.78 L68.98,342.43 L68.74,343.07 L68.51,343.72 L68.31,344.38 L68.12,345.04 L67.96,345.71 L67.83,346.38 L67.72,347.06 L67.63,347.74 L67.56,348.42 L67.51,349.11 L67.47,349.78 L67.44,350.46 L67.42,351.13 L67.41,351.79 L67.40,352.45 L67.39,353.10 L67.38,353.75 L67.36,354.39 L67.34,355.02 L67.33,355.65 L67.33,356.28 L67.33,356.90 L67.34,357.53 L67.36,358.15 L67.39,358.76 L67.42,359.38 L67.46,359.99 L67.50,360.59 L67.54,361.20 L67.59,361.80 L67.65,362.40 L67.70,363.00 L67.65,363.60 L67.59,364.20 L67.54,364.80 L67.50,365.41 L67.46,366.01 L67.42,366.62 L67.39,367.24 L67.36,367.85 L67.34,368.47 L67.33,369.10 L67.33,369.72 L67.33,370.35 L67.34,370.98 L67.36,371.61 L67.38,372.25 L67.39,372.90 L67.40,373.55 L67.41,374.21 L67.42,374.87 L67.44,375.54 L67.47,376.22 L67.51,376.89 L67.56,377.58 L67.63,378.26 L67.72,378.94 L67.83,379.62 L67.96,380.29 L68.12,380.96 L68.31,381.62 L68.51,382.28 L68.74,382.93 L68.98,383.57 L69.23,384.22 L69.50,384.85 L69.79,385.49 L70.09,386.11 L70.40,386.74 L70.72,387.36 L71.06,387.97 L71.41,388.59 L71.76,389.20 L72.13,389.80 L72.51,390.41 L72.89,391.01 L73.29,391.61 L73.69,392.21 L74.10,392.81 L74.52,393.41 L74.96,393.99 L75.40,394.58 L75.86,395.15 L76.34,395.72 L76.83,396.27 L77.33,396.82 L77.85,397.35 L78.39,397.86 L78.94,398.36 L79.51,398.84 L80.09,399.29 L80.69,399.74 L81.29,400.18 L81.90,400.61 L82.52,401.03 L83.15,401.43 L83.80,401.83 L84.45,402.20 L85.11,402.56 L85.78,402.90 L86.46,403.23 L87.15,403.53 L87.85,403.82 L88.55,404.08 L89.27,404.31 L89.99,404.53 L90.72,404.73 L91.45,404.92 L92.18,405.09 L92.92,405.26 L93.66,405.41 L94.40,405.54 L95.14,405.67 L95.89,405.78 L96.64,405.88 L97.38,405.96 L98.13,406.04 L98.89,406.09 L99.64,406.14 L100.39,406.17 L101.15,406.19 L101.90,406.20 L102.65,406.19 L103.41,406.17 L104.16,406.14 L104.91,406.09 L105.67,406.04 L106.42,405.96 L107.16,405.88 L107.91,405.78 L108.66,405.67 L109.40,405.54 L110.14,405.41 L110.88,405.26 L111.62,405.09 L112.35,404.92 L113.08,404.73 L113.81,404.53 L114.53,404.31 L115.25,404.09 L115.96,403.85 L116.68,403.59 L117.38,403.33 L118.08,403.05 L118.78,402.77 L119.47,402.47 L120.16,402.15 L120.84,401.83 L121.51,401.49 L122.18,401.14 L122.84,400.78 L123.50,400.41 L124.15,400.03 L124.79,399.64 L125.43,399.23 L126.06,398.82 L126.68,398.39 L127.30,397.96 L127.91,397.51 L128.51,397.06 L129.10,396.59 L129.69,396.11 L130.26,395.63 L130.83,395.13 L131.39,394.62 L131.94,394.11 L132.48,393.58 L133.02,393.05 L133.54,392.50 L134.05,391.95 L134.56,391.39 L135.05,390.82 L135.53,390.24 L136.01,389.65 L136.47,389.05 L136.92,388.44 L137.36,387.83 L137.79,387.21 L138.21,386.58 L138.62,385.94 L139.02,385.30 L139.40,384.65 L139.77,383.99 L140.13,383.33 L140.48,382.66 L140.82,381.98 L141.14,381.30 L141.46,380.61 L141.76,379.92 L142.05,379.22 L142.32,378.52 L142.59,377.81 L142.84,377.10 L143.08,376.38 L143.31,375.66 L143.52,374.94 L143.72,374.21 L143.91,373.48 L144.09,372.74 L144.25,372.00 L144.40,371.26 L144.54,370.52 L144.67,369.77 L144.78,369.03 L144.88,368.28 L144.96,367.53 L145.04,366.77 L145.09,366.02 L145.14,365.27 L145.17,364.51 L145.19,363.76Z" fill="none" stroke="#4b3d96" stroke-width="2.50" stroke-linejoin="round" />
<ellipse cx="101.50" cy="363.00" rx="19.4" ry="20.9" fill="none" stroke="#4b3d96" stroke-width="2.5"/>
<path d="M82.50,357.4 H91.00 A5.6,5.6 0 0 1 91.00,368.6 H82.50 Z" fill="#4b3d96"/>
<circle cx="93.00" cy="363" r="1.3" fill="#fff"/>
<path d="M170.30,363.00 L170.31,362.24 L170.33,361.49 L170.36,360.73 L170.41,359.98 L170.46,359.23 L170.54,358.47 L170.62,357.72 L170.72,356.97 L170.83,356.23 L170.96,355.48 L171.10,354.74 L171.25,354.00 L171.41,353.26 L171.59,352.52 L171.78,351.79 L171.98,351.06 L172.19,350.34 L172.42,349.62 L172.66,348.90 L172.91,348.19 L173.18,347.48 L173.45,346.78 L173.74,346.08 L174.04,345.39 L174.36,344.70 L174.68,344.02 L175.02,343.34 L175.37,342.67 L175.73,342.01 L176.10,341.35 L176.48,340.70 L176.88,340.06 L177.29,339.42 L177.71,338.79 L178.14,338.17 L178.58,337.56 L179.03,336.95 L179.49,336.35 L179.97,335.76 L180.45,335.18 L180.94,334.61 L181.45,334.05 L181.96,333.50 L182.48,332.95 L183.02,332.42 L183.56,331.89 L184.11,331.38 L184.67,330.87 L185.24,330.37 L185.81,329.89 L186.40,329.41 L186.99,328.94 L187.59,328.49 L188.20,328.04 L188.82,327.61 L189.44,327.18 L190.07,326.77 L190.71,326.36 L191.35,325.97 L192.00,325.59 L192.66,325.22 L193.32,324.86 L193.99,324.51 L194.66,324.17 L195.34,323.85 L196.03,323.53 L196.72,323.23 L197.42,322.95 L198.12,322.67 L198.82,322.41 L199.54,322.15 L200.25,321.91 L200.97,321.69 L201.69,321.47 L202.42,321.27 L203.15,321.08 L203.88,320.91 L204.62,320.74 L205.36,320.59 L206.10,320.46 L206.84,320.33 L207.59,320.22 L208.34,320.12 L209.08,320.04 L209.83,319.96 L210.59,319.91 L211.34,319.86 L212.09,319.83 L212.85,319.81 L213.60,319.80 L214.35,319.81 L215.11,319.83 L215.86,319.86 L216.61,319.91 L217.37,319.96 L218.12,320.04 L218.86,320.12 L219.61,320.22 L220.36,320.33 L221.10,320.46 L221.84,320.59 L222.58,320.74 L223.32,320.91 L224.05,321.08 L224.78,321.27 L225.51,321.47 L226.23,321.69 L226.95,321.92 L227.65,322.18 L228.35,322.47 L229.04,322.77 L229.72,323.10 L230.39,323.44 L231.05,323.80 L231.70,324.17 L232.35,324.57 L232.98,324.97 L233.60,325.39 L234.21,325.82 L234.81,326.26 L235.41,326.71 L235.99,327.16 L236.56,327.64 L237.11,328.14 L237.65,328.65 L238.17,329.18 L238.67,329.73 L239.16,330.28 L239.64,330.85 L240.10,331.42 L240.54,332.01 L240.98,332.59 L241.40,333.19 L241.81,333.79 L242.21,334.39 L242.61,334.99 L242.99,335.59 L243.37,336.20 L243.74,336.80 L244.09,337.41 L244.44,338.03 L244.78,338.64 L245.10,339.26 L245.41,339.89 L245.71,340.51 L246.00,341.15 L246.27,341.78 L246.52,342.43 L246.76,343.07 L246.99,343.72 L247.19,344.38 L247.38,345.04 L247.54,345.71 L247.67,346.38 L247.78,347.06 L247.87,347.74 L247.94,348.42 L247.99,349.11 L248.03,349.78 L248.06,350.46 L248.08,351.13 L248.09,351.79 L248.10,352.45 L248.11,353.10 L248.12,353.75 L248.14,354.39 L248.16,355.02 L248.17,355.65 L248.17,356.28 L248.17,356.90 L248.16,357.53 L248.14,358.15 L248.11,358.76 L248.08,359.38 L248.04,359.99 L248.00,360.59 L247.96,361.20 L247.91,361.80 L247.85,362.40 L247.80,363.00 L247.85,363.60 L247.91,364.20 L247.96,364.80 L248.00,365.41 L248.04,366.01 L248.08,366.62 L248.11,367.24 L248.14,367.85 L248.16,368.47 L248.17,369.10 L248.17,369.72 L248.17,370.35 L248.16,370.98 L248.14,371.61 L248.12,372.25 L248.11,372.90 L248.10,373.55 L248.09,374.21 L248.08,374.87 L248.06,375.54 L248.03,376.22 L247.99,376.89 L247.94,377.58 L247.87,378.26 L247.78,378.94 L247.67,379.62 L247.54,380.29 L247.38,380.96 L247.19,381.62 L246.99,382.28 L246.76,382.93 L246.52,383.57 L246.27,384.22 L246.00,384.85 L245.71,385.49 L245.41,386.11 L245.10,386.74 L244.78,387.36 L244.44,387.97 L244.09,388.59 L243.74,389.20 L243.37,389.80 L242.99,390.41 L242.61,391.01 L242.21,391.61 L241.81,392.21 L241.40,392.81 L240.98,393.41 L240.54,393.99 L240.10,394.58 L239.64,395.15 L239.16,395.72 L238.67,396.27 L238.17,396.82 L237.65,397.35 L237.11,397.86 L236.56,398.36 L235.99,398.84 L235.41,399.29 L234.81,399.74 L234.21,400.18 L233.60,400.61 L232.98,401.03 L232.35,401.43 L231.70,401.83 L231.05,402.20 L230.39,402.56 L229.72,402.90 L229.04,403.23 L228.35,403.53 L227.65,403.82 L226.95,404.08 L226.23,404.31 L225.51,404.53 L224.78,404.73 L224.05,404.92 L223.32,405.09 L222.58,405.26 L221.84,405.41 L221.10,405.54 L220.36,405.67 L219.61,405.78 L218.86,405.88 L218.12,405.96 L217.37,406.04 L216.61,406.09 L215.86,406.14 L215.11,406.17 L214.35,406.19 L213.60,406.20 L212.85,406.19 L212.09,406.17 L211.34,406.14 L210.59,406.09 L209.83,406.04 L209.08,405.96 L208.34,405.88 L207.59,405.78 L206.84,405.67 L206.10,405.54 L205.36,405.41 L204.62,405.26 L203.88,405.09 L203.15,404.92 L202.42,404.73 L201.69,404.53 L200.97,404.31 L200.25,404.09 L199.54,403.85 L198.82,403.59 L198.12,403.33 L197.42,403.05 L196.72,402.77 L196.03,402.47 L195.34,402.15 L194.66,401.83 L193.99,401.49 L193.32,401.14 L192.66,400.78 L192.00,400.41 L191.35,400.03 L190.71,399.64 L190.07,399.23 L189.44,398.82 L188.82,398.39 L188.20,397.96 L187.59,397.51 L186.99,397.06 L186.40,396.59 L185.81,396.11 L185.24,395.63 L184.67,395.13 L184.11,394.62 L183.56,394.11 L183.02,393.58 L182.48,393.05 L181.96,392.50 L181.45,391.95 L180.94,391.39 L180.45,390.82 L179.97,390.24 L179.49,389.65 L179.03,389.05 L178.58,388.44 L178.14,387.83 L177.71,387.21 L177.29,386.58 L176.88,385.94 L176.48,385.30 L176.10,384.65 L175.73,383.99 L175.37,383.33 L175.02,382.66 L174.68,381.98 L174.36,381.30 L174.04,380.61 L173.74,379.92 L173.45,379.22 L173.18,378.52 L172.91,377.81 L172.66,377.10 L172.42,376.38 L172.19,375.66 L171.98,374.94 L171.78,374.21 L171.59,373.48 L171.41,372.74 L171.25,372.00 L171.10,371.26 L170.96,370.52 L170.83,369.77 L170.72,369.03 L170.62,368.28 L170.54,367.53 L170.46,366.77 L170.41,366.02 L170.36,365.27 L170.33,364.51 L170.31,363.76Z M194.70,363.00 a19.30,20.90 0 1,0 38.60,0 a19.30,20.90 0 1,0 -38.60,0Z" fill="#d8709a" fill-opacity="0.12" fill-rule="evenodd"/>
<path d="M209.9,400.0h0 M198.7,331.6h0 M176.6,367.6h0 M184.3,372.5h0 M201.5,388.7h0 M244.0,348.2h0 M206.9,338.1h0 M220.0,336.2h0 M233.8,358.8h0 M231.4,392.3h0 M230.2,331.5h0 M198.5,328.7h0 M204.3,339.5h0 M176.1,381.3h0 M233.0,384.9h0 M191.5,380.3h0 M192.3,373.5h0 M246.7,363.0h0 M240.3,363.1h0 M237.5,328.6h0 M239.0,346.4h0 M180.4,388.5h0 M212.3,394.4h0 M240.1,375.7h0 M243.2,340.6h0 M189.2,355.9h0 M189.3,345.1h0 M235.8,372.2h0 M187.9,340.8h0 M172.4,352.7h0 M210.4,393.6h0 M232.9,339.1h0 M193.9,358.1h0 M217.8,321.8h0 M214.5,331.2h0 M194.3,384.5h0 M186.8,339.0h0 M234.1,378.0h0 M240.1,363.0h0 M170.7,360.4h0 M192.8,393.0h0 M193.9,328.3h0 M202.4,324.2h0 M230.7,326.9h0 M240.6,368.6h0 M191.8,354.3h0 M186.1,383.0h0 M246.3,367.0h0 M197.6,323.1h0 M192.9,349.0h0 M191.6,338.6h0 M175.0,344.3h0 M205.2,397.4h0 M182.0,372.3h0 M245.0,362.6h0 M192.8,369.4h0 M247.5,373.1h0 M183.0,344.8h0 M208.4,324.1h0 M205.8,333.2h0 M205.9,386.7h0 M180.2,342.5h0 M177.7,372.3h0 M195.3,339.6h0 M219.6,339.5h0 M214.4,321.8h0 M195.5,375.2h0 M214.8,323.9h0 M207.7,322.5h0 M202.1,330.0h0 M197.5,330.6h0 M224.3,397.2h0 M244.0,377.1h0 M193.0,367.2h0 M189.9,373.0h0 M226.6,391.6h0 M237.2,349.1h0 M177.0,368.2h0 M229.7,343.8h0 M196.5,376.8h0 M202.2,345.0h0 M190.9,392.9h0 M200.0,399.0h0 M233.4,331.4h0 M172.7,373.2h0 M234.4,352.9h0 M216.6,393.9h0 M205.8,321.6h0 M222.4,389.6h0 M241.1,374.5h0 M194.0,355.8h0 M174.6,368.7h0 M190.9,348.6h0 M234.6,338.0h0 M236.6,379.8h0 M192.2,373.8h0 M180.5,374.5h0 M236.6,370.7h0 M218.8,329.3h0 M243.4,378.9h0 M200.4,390.0h0 M192.7,378.0h0 M183.1,354.3h0 M236.8,397.5h0 M240.7,364.5h0 M197.0,342.0h0 M171.8,372.2h0 M180.8,378.9h0 M243.4,361.0h0 M196.2,350.8h0 M221.1,339.2h0 M220.3,340.7h0 M194.2,328.4h0 M222.8,383.4h0 M235.4,361.2h0 M229.9,380.2h0 M231.1,390.1h0 M217.0,395.8h0 M228.1,389.9h0 M236.9,339.9h0 M183.1,346.4h0 M233.9,352.5h0 M192.1,350.0h0 M182.5,380.0h0 M230.3,380.9h0 M229.2,402.7h0 M241.2,344.1h0 M222.6,404.1h0 M222.2,335.9h0 M241.6,385.1h0 M180.8,347.5h0 M198.6,343.7h0 M236.9,357.6h0 M197.5,375.5h0 M205.6,322.3h0 M212.3,327.3h0 M247.2,381.6h0 M182.9,350.3h0 M203.4,338.3h0 M234.8,353.1h0 M216.1,393.5h0 M193.4,359.2h0 M192.6,327.0h0 M209.4,332.5h0 M196.8,379.3h0 M212.6,393.1h0 M206.0,342.5h0 M241.2,369.2h0 M233.3,349.2h0 M193.4,337.6h0 M185.6,348.9h0 M208.4,324.6h0 M237.4,371.0h0 M177.2,359.9h0 M227.8,402.6h0 M230.6,331.1h0 M228.6,347.2h0 M221.0,399.4h0 M230.3,342.6h0 M177.5,381.8h0 M193.7,389.4h0 M184.6,370.0h0 M191.3,375.2h0 M233.8,389.4h0 M203.9,325.5h0 M180.0,367.9h0 M199.6,334.7h0 M234.0,352.5h0 M192.3,345.3h0 M189.7,343.5h0 M189.9,351.2h0 M248.1,357.8h0 M210.7,396.9h0 M230.6,328.2h0 M193.8,394.2h0 M188.5,370.0h0 M231.5,392.5h0 M235.2,338.1h0 M179.7,351.5h0 M236.3,347.9h0 M185.8,360.7h0 M212.1,326.0h0 M201.5,336.7h0 M224.3,391.1h0 M205.5,385.9h0 M181.8,387.4h0 M243.1,344.3h0 M177.6,375.6h0 M232.8,373.0h0 M215.9,393.4h0 M208.4,338.3h0 M181.3,373.5h0 M178.8,354.5h0 M245.1,377.0h0 M191.0,393.8h0 M198.7,398.3h0 M214.6,324.2h0 M230.7,374.4h0 M178.0,361.0h0 M186.7,395.3h0 M179.4,342.6h0 M230.1,390.8h0 M199.3,331.0h0 M200.0,347.3h0 M190.6,327.6h0 M239.7,382.5h0 M235.1,333.6h0 M223.5,391.6h0 M205.4,395.6h0 M195.3,368.6h0 M217.4,387.3h0 M228.5,391.8h0 M229.8,327.4h0 M195.8,344.1h0 M196.5,334.8h0 M234.0,351.3h0 M227.0,335.2h0 M176.9,355.1h0 M240.5,373.7h0 M207.4,340.9h0 M181.8,367.2h0 M218.0,327.7h0 M184.0,384.9h0 M185.9,391.9h0 M243.4,355.0h0 M234.3,362.7h0 M190.8,358.7h0 M184.7,359.1h0 M191.6,352.2h0 M176.9,347.1h0 M215.8,334.3h0 M247.2,369.5h0 M188.2,334.0h0 M189.7,363.0h0 M214.1,326.4h0 M235.0,389.1h0 M177.0,357.9h0 M207.7,384.2h0 M191.9,351.4h0 M235.4,393.4h0 M201.6,325.9h0 M205.3,342.8h0 M193.5,400.6h0 M184.7,364.5h0 M182.8,373.8h0 M180.9,390.6h0 M235.2,380.8h0 M201.8,340.2h0 M238.0,378.4h0 M232.7,375.4h0 M223.5,323.0h0 M182.1,342.9h0 M188.7,362.6h0 M237.3,329.6h0 M201.9,342.6h0 M213.4,334.2h0 M230.2,402.0h0 M170.9,357.2h0 M210.7,404.7h0 M187.8,342.7h0 M223.0,334.4h0 M231.4,331.3h0 M244.1,355.7h0 M192.3,394.2h0 M200.1,402.8h0 M216.8,404.7h0 M202.4,331.5h0 M202.6,391.8h0 M186.6,351.0h0 M198.5,385.0h0 M195.2,381.4h0 M216.1,320.2h0 M182.8,360.0h0 M211.0,403.9h0 M230.4,338.2h0 M180.5,352.4h0 M198.5,340.7h0 M235.7,336.2h0 M194.7,396.1h0 M210.5,331.6h0 M186.7,345.1h0 M201.7,342.9h0 M185.2,392.4h0 M224.7,333.8h0 M190.8,390.8h0 M202.9,382.0h0 M247.2,345.3h0 M181.4,358.5h0 M209.3,333.0h0 M243.9,386.3h0 M242.4,365.9h0 M238.1,350.4h0 M191.9,359.8h0 M184.0,353.8h0 M210.2,322.1h0 M219.2,403.6h0 M233.2,396.2h0 M186.2,381.7h0 M240.5,389.5h0 M182.6,366.2h0 M175.8,375.5h0 M202.4,391.1h0 M191.4,364.8h0 M196.4,385.4h0 M219.9,325.0h0 M191.7,366.7h0 M247.3,372.8h0 M207.8,388.3h0 M197.8,388.6h0 M238.7,341.0h0 M185.1,364.3h0 M192.2,329.5h0 M211.8,322.0h0 M228.5,346.1h0 M189.4,395.9h0 M198.2,347.6h0 M215.5,340.9h0 M192.0,351.9h0 M210.3,339.8h0 M235.0,375.3h0 M238.2,375.0h0 M232.0,371.7h0 M192.2,374.4h0 M194.0,373.2h0 M192.3,365.2h0 M207.0,339.5h0 M229.4,384.8h0 M245.9,348.2h0 M203.6,387.6h0 M200.1,382.1h0 M186.6,384.8h0 M209.2,332.5h0 M192.3,390.9h0 M218.2,333.7h0 M227.9,326.6h0 M212.1,332.0h0 M189.8,350.4h0 M231.2,324.5h0 M211.3,331.5h0 M187.1,390.8h0 M207.1,331.1h0 M178.2,361.7h0 M192.7,358.3h0 M241.3,355.3h0 M179.7,356.4h0 M186.6,333.3h0 M207.0,405.6h0 M183.2,334.9h0 M215.4,332.6h0 M174.6,362.7h0 M198.5,393.4h0 M234.2,346.5h0 M183.0,349.5h0 M188.6,342.2h0 M240.9,343.3h0 M229.0,325.5h0 M246.3,369.9h0 M177.0,348.9h0 M186.6,387.8h0 M198.5,396.2h0 M176.6,369.0h0 M177.3,340.8h0 M198.5,339.0h0 M189.4,396.0h0 M185.7,352.5h0 M227.5,343.0h0 M196.0,380.0h0 M205.8,394.8h0 M218.4,392.8h0 M201.5,342.6h0 M235.0,353.7h0 M199.4,347.7h0 M244.0,342.1h0 M170.9,368.4h0 M193.1,347.6h0 M195.3,388.3h0 M190.2,398.1h0 M230.3,379.7h0 M209.2,392.9h0 M198.9,387.6h0 M234.6,331.5h0 M221.3,338.0h0 M232.5,398.6h0 M231.5,344.2h0 M231.2,375.8h0 M170.9,366.5h0 M209.9,325.1h0 M181.9,387.5h0 M240.1,343.5h0 M180.5,373.4h0 M200.5,403.9h0 M183.0,387.9h0 M231.3,332.0h0 M192.4,326.8h0 M178.2,352.9h0 M193.8,327.8h0 M225.1,322.6h0 M187.3,363.4h0 M198.6,402.0h0 M195.5,389.4h0 M229.9,327.5h0 M187.6,357.1h0 M185.9,357.9h0 M177.3,370.3h0 M187.9,357.8h0 M231.7,347.0h0 M237.4,372.2h0 M192.0,364.3h0 M192.0,378.4h0 M241.0,376.7h0 M223.2,336.8h0 M186.4,362.1h0 M189.3,338.3h0 M197.6,342.5h0 M242.2,385.2h0 M182.3,389.5h0 M200.8,328.3h0 M213.9,394.0h0 M196.5,333.3h0 M242.3,390.1h0 M175.8,383.6h0 M246.7,366.2h0 M188.4,367.5h0 M227.5,325.7h0 M217.8,398.7h0 M220.5,333.2h0 M182.0,371.2h0 M182.7,368.1h0 M199.6,383.4h0 M191.5,389.4h0 M228.3,325.3h0 M242.1,389.0h0 M227.2,393.3h0 M220.3,341.3h0 M224.9,336.6h0 M179.5,339.9h0 M198.0,384.3h0 M246.0,342.7h0 M238.3,358.4h0 M237.1,331.9h0 M235.4,346.8h0 M226.6,322.2h0 M219.7,387.7h0 M206.1,341.8h0 M241.4,339.4h0 M241.4,392.6h0 M189.0,342.8h0 M190.3,395.7h0 M223.4,337.1h0 M192.1,351.1h0 M209.2,338.0h0 M242.3,338.1h0 M209.3,393.1h0 M190.3,373.6h0 M196.8,334.8h0 M221.8,388.9h0 M221.1,334.9h0 M247.5,376.2h0 M228.5,340.7h0 M174.4,355.9h0 M187.1,370.1h0 M233.5,360.1h0 M177.9,355.3h0 M203.2,340.3h0 M195.4,356.3h0 M194.1,356.4h0 M210.9,328.1h0 M239.0,392.5h0 M179.2,362.0h0 M183.9,391.4h0 M193.3,325.7h0 M184.5,354.0h0 M220.2,341.3h0 M184.8,369.4h0 M212.6,387.4h0 M231.8,387.4h0 M205.5,335.7h0 M183.2,389.4h0 M191.5,369.2h0 M193.6,370.0h0 M176.7,355.3h0 M179.9,370.4h0 M172.3,368.8h0 M198.0,328.5h0 M224.2,404.3h0 M188.8,354.2h0 M191.5,341.7h0 M236.0,361.3h0 M205.6,323.4h0 M183.3,357.5h0 M189.2,339.0h0 M202.6,379.9h0 M182.1,384.0h0 M200.0,338.7h0 M186.5,337.7h0 M206.4,325.0h0 M211.3,337.4h0 M223.4,384.0h0 M192.9,390.8h0 M238.8,353.7h0 M222.1,335.3h0 M189.5,343.4h0 M182.0,349.4h0 M243.6,369.3h0 M194.6,364.8h0 M182.1,389.2h0 M201.9,333.8h0 M197.2,392.4h0 M203.4,328.9h0 M240.2,365.0h0 M224.2,397.1h0 M237.4,340.6h0 M183.6,349.1h0 M211.0,400.0h0 M218.8,320.6h0 M186.9,365.3h0 M237.2,391.5h0 M192.6,367.3h0 M233.3,330.4h0 M189.8,347.5h0 M208.7,387.7h0 M204.1,402.5h0 M185.7,345.2h0 M234.1,331.3h0 M194.0,356.2h0 M230.8,339.9h0 M210.4,335.0h0 M242.1,354.9h0 M197.7,336.3h0 M188.9,385.0h0 M202.0,337.5h0 M232.6,330.8h0 M175.3,372.0h0 M226.6,390.4h0 M190.2,379.0h0 M202.3,328.5h0 M220.1,322.5h0 M228.5,349.2h0 M171.7,360.5h0 M219.1,405.3h0 M244.8,344.6h0 M221.9,402.7h0 M178.1,341.2h0 M206.7,385.8h0 M188.3,397.6h0 M188.6,329.7h0 M187.9,381.2h0 M239.4,335.5h0 M214.3,329.0h0 M241.0,370.4h0 M219.2,405.6h0 M212.2,338.5h0 M241.2,373.3h0 M194.2,338.0h0 M210.9,387.2h0 M197.0,397.2h0 M235.4,347.7h0 M187.4,388.2h0 M197.0,376.3h0 M216.6,402.2h0 M200.2,397.3h0 M189.7,353.4h0 M190.9,397.9h0 M184.1,384.2h0 M229.5,334.3h0 M236.3,354.4h0 M205.9,338.6h0 M202.1,384.6h0 M193.9,399.1h0 M234.8,354.6h0 M203.0,392.2h0 M201.5,326.3h0 M231.1,328.6h0 M186.5,367.1h0 M173.5,356.9h0 M187.7,396.3h0 M221.1,386.4h0 M224.9,322.7h0 M192.8,393.3h0 M222.0,394.0h0 M220.8,327.4h0 M200.9,331.5h0 M196.4,346.7h0 M206.9,393.1h0 M216.2,338.1h0 M235.1,378.4h0 M190.0,331.6h0 M228.8,392.8h0 M229.2,383.9h0 M222.0,333.5h0 M238.2,359.2h0 M241.8,338.2h0 M202.7,398.7h0 M203.9,331.7h0 M236.1,328.5h0 M192.8,355.8h0 M194.8,342.6h0 M172.2,374.9h0 M176.5,343.1h0 M232.6,329.1h0 M181.4,338.0h0 M229.4,344.8h0 M231.1,338.6h0 M225.1,387.6h0 M200.4,327.4h0 M205.7,339.6h0 M180.5,379.2h0 M189.2,346.4h0 M233.6,327.7h0 M246.5,371.8h0 M174.6,348.6h0 M243.5,379.5h0 M186.6,349.9h0 M226.0,336.6h0 M205.5,329.1h0 M188.2,360.9h0 M238.9,367.4h0 M187.3,395.6h0 M185.3,344.9h0 M196.4,395.0h0 M183.8,383.4h0 M227.8,337.9h0 M242.7,349.3h0 M243.2,361.9h0 M190.8,371.3h0 M237.7,349.4h0 M241.0,351.1h0 M173.4,366.3h0 M179.8,387.0h0 M185.4,384.0h0 M186.0,367.3h0 M220.4,326.0h0 M198.0,376.8h0 M241.7,388.1h0 M220.8,324.4h0 M193.0,382.0h0 M209.3,400.9h0 M179.2,368.9h0 M207.0,320.9h0 M222.1,330.1h0 M201.9,401.8h0 M235.3,348.7h0 M227.2,382.6h0 M209.1,399.5h0 M247.3,365.1h0 M233.8,384.4h0 M224.1,335.7h0 M244.1,373.0h0 M224.4,335.6h0 M205.3,386.6h0 M211.3,387.2h0 M232.9,353.4h0 M208.4,338.9h0 M233.5,396.6h0 M189.8,392.2h0 M206.1,383.8h0 M242.6,388.3h0 M205.9,324.1h0 M185.5,356.6h0 M177.0,346.3h0 M228.9,339.1h0 M185.1,393.8h0 M235.3,378.2h0 M245.3,348.3h0 M240.4,339.1h0 M199.8,345.0h0 M209.9,338.8h0 M182.9,340.2h0 M215.8,387.1h0 M233.8,379.7h0 M235.4,344.3h0 M237.3,337.5h0 M188.2,331.4h0 M225.4,401.0h0 M239.4,393.9h0 M228.0,388.1h0 M180.9,349.4h0 M189.6,361.0h0 M208.2,322.6h0 M192.5,380.0h0 M185.1,349.7h0 M190.7,327.6h0 M186.3,355.3h0 M229.9,325.5h0 M185.7,345.8h0 M239.8,378.6h0 M214.5,393.2h0 M241.1,341.8h0 M231.8,328.7h0 M232.1,328.9h0 M199.1,395.0h0 M236.9,391.6h0 M222.2,402.5h0 M178.1,385.9h0 M222.9,325.6h0 M183.5,368.1h0 M182.4,354.2h0 M179.7,354.8h0 M173.7,372.4h0 M228.7,341.5h0 M204.9,331.7h0 M191.2,348.5h0 M202.4,385.5h0 M219.4,341.0h0 M195.4,399.0h0 M185.6,388.2h0 M174.5,359.1h0 M182.0,350.7h0 M244.8,375.9h0 M192.0,337.2h0 M240.4,370.4h0 M215.5,320.8h0 M240.2,393.9h0 M171.9,368.6h0 M223.2,341.1h0 M198.8,391.9h0 M228.1,327.0h0 M234.6,375.4h0 M245.2,370.1h0 M246.0,359.9h0 M244.9,346.1h0 M224.8,323.3h0 M173.7,355.3h0 M217.0,321.5h0 M217.0,386.9h0 M228.5,394.1h0 M182.2,338.9h0 M182.0,390.9h0 M189.7,398.7h0 M234.6,388.4h0 M224.1,387.6h0 M247.2,370.6h0 M194.7,393.3h0 M184.8,369.9h0 M179.8,354.8h0 M199.6,343.6h0 M181.1,366.5h0 M216.4,395.5h0 M190.7,329.0h0 M197.7,383.4h0 M223.7,336.7h0 M184.0,364.3h0 M216.7,397.5h0 M228.0,343.5h0 M237.4,357.4h0 M230.0,383.9h0 M240.6,358.6h0 M237.3,330.2h0 M179.5,384.4h0 M202.9,345.8h0 M228.2,378.2h0 M245.2,378.2h0 M204.6,397.1h0 M214.8,333.6h0 M221.3,338.8h0 M189.4,350.0h0 M215.4,321.3h0 M237.7,380.2h0 M201.7,389.3h0 M200.5,386.8h0 M184.7,389.7h0 M199.1,381.5h0 M247.6,372.1h0 M176.1,378.5h0 M221.9,394.0h0 M204.4,389.5h0 M189.7,364.0h0 M193.5,386.5h0 M233.2,366.8h0 M243.8,341.9h0 M188.1,335.8h0 M207.9,405.7h0 M214.1,331.0h0 M186.9,391.2h0 M211.6,401.3h0 M181.8,336.3h0 M209.3,320.7h0 M173.4,351.2h0 M175.7,355.9h0 M178.6,354.2h0 M224.0,323.2h0 M242.4,335.9h0 M219.2,323.0h0 M212.0,397.7h0 M191.0,397.8h0 M202.5,333.0h0 M226.1,397.3h0 M228.6,379.3h0 M177.4,384.4h0 M234.0,354.8h0 M193.9,337.0h0 M189.7,367.8h0 M176.8,372.1h0 M236.7,385.5h0 M202.3,385.8h0 M175.0,372.5h0 M194.7,349.8h0 M183.5,377.2h0 M173.5,362.7h0 M179.4,346.5h0" stroke="#d8709a" stroke-width="2.30" stroke-linecap="round" fill="none" opacity="0.55"/>
<path d="M247.4,357.3h0 M244.2,365.5h0 M243.0,362.2h0 M244.7,373.1h0 M242.1,353.0h0 M242.6,356.6h0 M235.3,366.7h0 M244.1,366.5h0 M244.8,348.6h0 M242.8,369.4h0 M242.9,351.1h0 M238.7,358.7h0 M247.8,350.7h0 M240.9,369.4h0 M247.6,376.5h0 M238.4,365.2h0 M239.5,355.3h0 M240.5,355.8h0 M247.7,356.6h0 M244.1,361.7h0 M245.5,350.9h0 M243.4,352.0h0 M246.9,361.1h0 M241.7,359.8h0 M237.1,360.0h0 M240.7,359.9h0 M239.0,347.1h0 M244.4,361.5h0 M238.9,361.1h0 M246.6,353.1h0 M244.8,363.7h0 M245.3,369.4h0 M241.8,364.1h0 M240.2,353.1h0 M235.5,351.3h0 M239.1,359.9h0 M246.8,363.4h0 M235.0,364.0h0 M242.9,362.8h0 M235.5,355.5h0 M245.5,364.5h0 M245.0,349.7h0 M245.5,370.0h0 M245.9,363.9h0 M240.9,368.7h0 M240.3,369.7h0 M237.3,362.3h0 M236.4,346.7h0 M245.4,349.9h0 M245.5,377.0h0 M247.3,346.4h0 M247.0,367.1h0 M243.7,374.8h0 M235.7,373.4h0 M245.5,345.2h0 M244.7,362.2h0 M243.5,348.2h0 M241.6,361.5h0 M243.1,362.3h0 M246.4,356.2h0 M245.6,362.4h0 M233.9,349.9h0 M237.8,360.4h0 M235.0,355.0h0 M238.0,362.2h0 M240.6,358.8h0 M246.9,363.1h0 M239.6,371.6h0 M238.5,355.6h0 M243.7,357.7h0 M243.1,366.7h0 M243.3,373.3h0 M236.1,369.8h0 M236.4,366.0h0 M247.1,375.7h0 M247.0,362.6h0 M244.2,371.1h0 M242.5,377.5h0 M244.5,350.0h0 M245.4,346.6h0 M236.3,367.4h0 M240.7,364.7h0 M245.5,360.0h0 M246.7,360.4h0 M239.9,353.4h0 M244.1,358.1h0 M234.8,359.1h0 M244.3,378.1h0 M236.7,363.9h0 M245.3,370.2h0 M238.9,375.6h0 M242.5,347.5h0 M243.7,358.5h0 M244.1,348.9h0 M238.6,376.4h0 M243.7,372.7h0 M233.2,352.2h0 M241.6,351.1h0 M246.4,368.8h0 M242.3,371.9h0 M244.3,358.5h0 M244.8,359.0h0 M239.9,348.9h0 M244.4,360.0h0 M242.6,352.9h0 M246.9,356.6h0 M247.2,354.7h0 M236.3,355.1h0 M243.1,361.3h0 M232.5,376.6h0 M242.7,351.8h0 M246.3,368.7h0 M236.4,357.3h0 M247.0,367.8h0 M243.2,349.7h0 M238.3,354.6h0 M243.5,356.5h0 M241.8,346.7h0 M243.0,364.5h0 M241.3,367.7h0 M236.8,361.8h0 M247.6,363.6h0 M239.6,352.7h0 M241.3,374.2h0 M243.6,359.9h0 M237.9,348.7h0 M246.4,367.7h0 M241.1,355.8h0 M243.2,369.2h0 M234.2,365.1h0 M237.5,351.9h0 M246.6,362.0h0 M244.9,367.8h0 M244.3,364.3h0 M242.5,365.5h0 M239.0,355.1h0 M240.5,359.5h0 M234.7,374.7h0 M236.2,363.0h0 M244.2,364.5h0 M246.7,361.7h0 M242.2,358.5h0 M237.9,361.4h0 M245.3,356.0h0 M247.0,360.6h0 M246.4,356.8h0 M235.8,365.5h0 M246.1,354.0h0 M237.9,370.4h0 M237.1,362.2h0 M239.6,359.8h0 M246.1,371.4h0 M242.0,363.4h0 M242.4,356.7h0 M238.1,366.9h0 M239.0,364.9h0 M238.9,382.3h0 M245.9,351.8h0 M236.5,379.3h0 M234.6,376.3h0 M244.1,366.3h0 M247.6,375.0h0 M246.9,360.4h0 M246.9,359.2h0 M241.4,360.5h0 M239.5,368.7h0 M244.7,367.5h0 M246.6,370.5h0 M246.7,354.3h0 M247.3,368.7h0 M242.5,361.4h0 M241.6,366.7h0 M239.8,369.4h0 M241.7,364.8h0 M240.5,373.8h0 M241.7,378.9h0 M237.8,356.3h0 M234.6,350.2h0 M243.5,357.6h0 M241.9,357.0h0 M245.5,364.1h0 M242.7,350.4h0 M244.6,365.2h0 M240.5,367.0h0 M246.8,350.7h0 M246.5,376.9h0 M241.0,344.5h0 M244.9,364.6h0 M245.6,355.5h0 M240.0,362.9h0 M244.5,344.9h0 M245.4,355.8h0 M246.4,354.8h0 M243.5,360.9h0 M242.9,381.9h0 M236.3,369.6h0 M246.3,364.4h0 M241.4,375.7h0 M235.9,364.8h0 M244.0,355.1h0 M245.4,364.4h0 M244.1,361.8h0 M243.2,371.7h0 M247.0,364.5h0 M240.3,349.4h0 M238.0,376.1h0 M244.6,364.7h0 M246.1,358.2h0 M246.4,359.0h0 M239.5,380.0h0 M242.5,362.9h0 M247.0,360.3h0 M244.2,377.3h0 M248.0,366.5h0 M246.8,361.9h0 M244.9,376.3h0 M246.4,368.8h0 M248.0,359.7h0 M246.3,357.8h0 M237.2,366.5h0 M247.5,366.5h0 M245.8,366.8h0 M243.6,349.3h0 M236.6,378.1h0 M238.2,362.1h0 M240.1,366.8h0 M237.5,369.3h0 M243.3,366.2h0 M247.1,357.4h0 M240.8,355.6h0 M247.4,372.6h0 M247.6,357.6h0 M244.5,368.8h0 M239.0,364.4h0 M242.8,359.9h0 M241.5,359.5h0 M248.1,359.1h0 M241.8,362.9h0 M240.3,357.9h0 M236.5,383.5h0 M242.6,374.3h0 M237.9,362.1h0 M247.0,374.8h0 M244.8,344.7h0 M240.2,361.0h0 M235.3,361.3h0 M236.7,374.2h0 M241.0,369.4h0 M239.5,365.1h0 M239.3,347.6h0 M246.6,355.1h0 M237.3,371.0h0 M239.6,372.4h0 M242.2,354.5h0 M246.0,360.3h0 M247.7,369.9h0 M235.2,348.6h0 M243.7,372.6h0 M245.1,381.8h0 M242.6,373.5h0 M234.9,361.2h0 M239.0,347.8h0 M245.4,375.5h0 M242.5,367.4h0 M239.6,352.2h0 M238.3,362.5h0 M243.5,347.5h0 M244.4,373.2h0 M236.1,366.6h0 M246.6,352.4h0 M242.7,353.7h0 M234.8,368.0h0 M247.0,371.7h0 M245.7,362.5h0 M240.5,377.1h0 M241.7,372.2h0 M244.2,359.2h0 M246.8,348.1h0 M233.9,357.3h0 M243.8,377.5h0 M245.6,379.0h0 M236.8,355.2h0 M241.2,347.5h0 M244.2,363.9h0 M246.3,343.3h0 M246.3,368.6h0 M242.4,356.1h0 M244.9,364.5h0 M243.2,362.1h0 M232.4,370.9h0 M243.0,365.3h0 M237.5,351.7h0 M244.8,350.7h0 M238.2,364.0h0 M239.5,363.5h0 M243.6,352.7h0 M247.8,351.9h0 M245.2,366.1h0 M236.2,370.6h0 M242.9,364.2h0 M245.3,352.4h0 M246.5,366.5h0 M235.5,368.2h0 M245.4,376.0h0 M238.7,354.3h0 M241.1,371.0h0 M240.2,367.5h0 M245.2,363.9h0 M238.8,361.8h0 M240.6,362.1h0 M236.1,345.8h0 M247.5,362.9h0 M244.4,368.8h0 M234.2,360.7h0 M246.3,355.2h0 M239.8,359.8h0 M244.4,351.1h0 M237.6,373.1h0 M234.4,352.3h0 M247.5,359.5h0 M240.3,367.1h0 M245.4,376.9h0 M247.6,348.9h0 M243.4,376.8h0 M241.5,347.3h0 M239.2,367.9h0 M234.7,360.3h0 M241.9,366.4h0 M236.3,362.5h0 M246.2,366.6h0 M246.8,347.3h0 M245.0,362.6h0 M242.8,353.2h0 M243.9,365.4h0 M248.0,356.3h0 M239.9,355.5h0 M245.5,380.1h0 M240.9,357.9h0 M233.4,347.6h0 M242.6,363.8h0 M242.5,352.2h0 M244.6,361.9h0 M237.3,372.1h0 M243.5,365.3h0 M242.9,353.8h0 M238.5,357.9h0 M245.5,346.9h0 M247.2,349.0h0 M238.2,376.7h0 M246.8,373.1h0" stroke="#d8709a" stroke-width="1.80" stroke-linecap="round" fill="none" opacity="0.60"/>
<path d="M170.30,363.00 L170.31,362.24 L170.33,361.49 L170.36,360.73 L170.41,359.98 L170.46,359.23 L170.54,358.47 L170.62,357.72 L170.72,356.97 L170.83,356.23 L170.96,355.48 L171.10,354.74 L171.25,354.00 L171.41,353.26 L171.59,352.52 L171.78,351.79 L171.98,351.06 L172.19,350.34 L172.42,349.62 L172.66,348.90 L172.91,348.19 L173.18,347.48 L173.45,346.78 L173.74,346.08 L174.04,345.39 L174.36,344.70 L174.68,344.02 L175.02,343.34 L175.37,342.67 L175.73,342.01 L176.10,341.35 L176.48,340.70 L176.88,340.06 L177.29,339.42 L177.71,338.79 L178.14,338.17 L178.58,337.56 L179.03,336.95 L179.49,336.35 L179.97,335.76 L180.45,335.18 L180.94,334.61 L181.45,334.05 L181.96,333.50 L182.48,332.95 L183.02,332.42 L183.56,331.89 L184.11,331.38 L184.67,330.87 L185.24,330.37 L185.81,329.89 L186.40,329.41 L186.99,328.94 L187.59,328.49 L188.20,328.04 L188.82,327.61 L189.44,327.18 L190.07,326.77 L190.71,326.36 L191.35,325.97 L192.00,325.59 L192.66,325.22 L193.32,324.86 L193.99,324.51 L194.66,324.17 L195.34,323.85 L196.03,323.53 L196.72,323.23 L197.42,322.95 L198.12,322.67 L198.82,322.41 L199.54,322.15 L200.25,321.91 L200.97,321.69 L201.69,321.47 L202.42,321.27 L203.15,321.08 L203.88,320.91 L204.62,320.74 L205.36,320.59 L206.10,320.46 L206.84,320.33 L207.59,320.22 L208.34,320.12 L209.08,320.04 L209.83,319.96 L210.59,319.91 L211.34,319.86 L212.09,319.83 L212.85,319.81 L213.60,319.80 L214.35,319.81 L215.11,319.83 L215.86,319.86 L216.61,319.91 L217.37,319.96 L218.12,320.04 L218.86,320.12 L219.61,320.22 L220.36,320.33 L221.10,320.46 L221.84,320.59 L222.58,320.74 L223.32,320.91 L224.05,321.08 L224.78,321.27 L225.51,321.47 L226.23,321.69 L226.95,321.92 L227.65,322.18 L228.35,322.47 L229.04,322.77 L229.72,323.10 L230.39,323.44 L231.05,323.80 L231.70,324.17 L232.35,324.57 L232.98,324.97 L233.60,325.39 L234.21,325.82 L234.81,326.26 L235.41,326.71 L235.99,327.16 L236.56,327.64 L237.11,328.14 L237.65,328.65 L238.17,329.18 L238.67,329.73 L239.16,330.28 L239.64,330.85 L240.10,331.42 L240.54,332.01 L240.98,332.59 L241.40,333.19 L241.81,333.79 L242.21,334.39 L242.61,334.99 L242.99,335.59 L243.37,336.20 L243.74,336.80 L244.09,337.41 L244.44,338.03 L244.78,338.64 L245.10,339.26 L245.41,339.89 L245.71,340.51 L246.00,341.15 L246.27,341.78 L246.52,342.43 L246.76,343.07 L246.99,343.72 L247.19,344.38 L247.38,345.04 L247.54,345.71 L247.67,346.38 L247.78,347.06 L247.87,347.74 L247.94,348.42 L247.99,349.11 L248.03,349.78 L248.06,350.46 L248.08,351.13 L248.09,351.79 L248.10,352.45 L248.11,353.10 L248.12,353.75 L248.14,354.39 L248.16,355.02 L248.17,355.65 L248.17,356.28 L248.17,356.90 L248.16,357.53 L248.14,358.15 L248.11,358.76 L248.08,359.38 L248.04,359.99 L248.00,360.59 L247.96,361.20 L247.91,361.80 L247.85,362.40 L247.80,363.00 L247.85,363.60 L247.91,364.20 L247.96,364.80 L248.00,365.41 L248.04,366.01 L248.08,366.62 L248.11,367.24 L248.14,367.85 L248.16,368.47 L248.17,369.10 L248.17,369.72 L248.17,370.35 L248.16,370.98 L248.14,371.61 L248.12,372.25 L248.11,372.90 L248.10,373.55 L248.09,374.21 L248.08,374.87 L248.06,375.54 L248.03,376.22 L247.99,376.89 L247.94,377.58 L247.87,378.26 L247.78,378.94 L247.67,379.62 L247.54,380.29 L247.38,380.96 L247.19,381.62 L246.99,382.28 L246.76,382.93 L246.52,383.57 L246.27,384.22 L246.00,384.85 L245.71,385.49 L245.41,386.11 L245.10,386.74 L244.78,387.36 L244.44,387.97 L244.09,388.59 L243.74,389.20 L243.37,389.80 L242.99,390.41 L242.61,391.01 L242.21,391.61 L241.81,392.21 L241.40,392.81 L240.98,393.41 L240.54,393.99 L240.10,394.58 L239.64,395.15 L239.16,395.72 L238.67,396.27 L238.17,396.82 L237.65,397.35 L237.11,397.86 L236.56,398.36 L235.99,398.84 L235.41,399.29 L234.81,399.74 L234.21,400.18 L233.60,400.61 L232.98,401.03 L232.35,401.43 L231.70,401.83 L231.05,402.20 L230.39,402.56 L229.72,402.90 L229.04,403.23 L228.35,403.53 L227.65,403.82 L226.95,404.08 L226.23,404.31 L225.51,404.53 L224.78,404.73 L224.05,404.92 L223.32,405.09 L222.58,405.26 L221.84,405.41 L221.10,405.54 L220.36,405.67 L219.61,405.78 L218.86,405.88 L218.12,405.96 L217.37,406.04 L216.61,406.09 L215.86,406.14 L215.11,406.17 L214.35,406.19 L213.60,406.20 L212.85,406.19 L212.09,406.17 L211.34,406.14 L210.59,406.09 L209.83,406.04 L209.08,405.96 L208.34,405.88 L207.59,405.78 L206.84,405.67 L206.10,405.54 L205.36,405.41 L204.62,405.26 L203.88,405.09 L203.15,404.92 L202.42,404.73 L201.69,404.53 L200.97,404.31 L200.25,404.09 L199.54,403.85 L198.82,403.59 L198.12,403.33 L197.42,403.05 L196.72,402.77 L196.03,402.47 L195.34,402.15 L194.66,401.83 L193.99,401.49 L193.32,401.14 L192.66,400.78 L192.00,400.41 L191.35,400.03 L190.71,399.64 L190.07,399.23 L189.44,398.82 L188.82,398.39 L188.20,397.96 L187.59,397.51 L186.99,397.06 L186.40,396.59 L185.81,396.11 L185.24,395.63 L184.67,395.13 L184.11,394.62 L183.56,394.11 L183.02,393.58 L182.48,393.05 L181.96,392.50 L181.45,391.95 L180.94,391.39 L180.45,390.82 L179.97,390.24 L179.49,389.65 L179.03,389.05 L178.58,388.44 L178.14,387.83 L177.71,387.21 L177.29,386.58 L176.88,385.94 L176.48,385.30 L176.10,384.65 L175.73,383.99 L175.37,383.33 L175.02,382.66 L174.68,381.98 L174.36,381.30 L174.04,380.61 L173.74,379.92 L173.45,379.22 L173.18,378.52 L172.91,377.81 L172.66,377.10 L172.42,376.38 L172.19,375.66 L171.98,374.94 L171.78,374.21 L171.59,373.48 L171.41,372.74 L171.25,372.00 L171.10,371.26 L170.96,370.52 L170.83,369.77 L170.72,369.03 L170.62,368.28 L170.54,367.53 L170.46,366.77 L170.41,366.02 L170.36,365.27 L170.33,364.51 L170.31,363.76Z" fill="none" stroke="#d8709a" stroke-width="2.50" stroke-linejoin="round" />
<ellipse cx="214.00" cy="363.00" rx="19.4" ry="20.9" fill="none" stroke="#d8709a" stroke-width="2.5"/>
<path d="M233.00,357.4 H224.50 A5.6,5.6 0 0 0 224.50,368.6 H233.00 Z" fill="#d8709a"/>
<circle cx="222.50" cy="363" r="1.3" fill="#fff"/>
<path d="M120,363 H149" stroke="#4b3d96" stroke-width="1.6" stroke-dasharray="1.6,1.6" opacity="0.35"/>
<path d="M96.4,362.8 V333.3 M96.4,362.8 H127.3" stroke="#111" stroke-width="1.60" stroke-dasharray="4.4,2.5" fill="none"/>
<path d="M219.1,362.8 V333.3 M219.1,362.8 H250.5" stroke="#111" stroke-width="1.60" stroke-dasharray="4.4,2.5" fill="none"/>
<text x="81.40" y="316.40" font-size="12.50" fill="#4b3d96" stroke="#4b3d96" stroke-width="0.12" text-anchor="start" textLength="41.6" lengthAdjust="spacingAndGlyphs" ><tspan font-style="italic">&#947;</tspan> = 0.7</text>
<text x="198.00" y="316.40" font-size="12.50" fill="#d8709a" stroke="#d8709a" stroke-width="0.12" text-anchor="start" textLength="30.5" lengthAdjust="spacingAndGlyphs" >&#8722;0.7</text>
<text x="90.50" y="417.50" font-size="12.50" fill="#111" stroke="#111" stroke-width="0.12" text-anchor="start" textLength="120.0" lengthAdjust="spacingAndGlyphs" ><tspan font-style="italic">&#945;</tspan> = 0.5, <tspan font-style="italic">c</tspan> = 0, <tspan font-style="italic">d</tspan> = 2</text>
<line x1="326.2" y1="312.5" x2="326.2" y2="426.5" stroke="#262626" stroke-width="1.1"/>
<line x1="326.2" y1="426.5" x2="639" y2="426.5" stroke="#262626" stroke-width="1.1"/>
<line x1="322.8" y1="426.5" x2="326.2" y2="426.5" stroke="#262626" stroke-width="1"/>
<text x="320.20" y="431.20" font-size="10.20" fill="#262626" stroke="#262626" stroke-width="0.12" text-anchor="end" >0</text>
<line x1="322.8" y1="388.7" x2="326.2" y2="388.7" stroke="#262626" stroke-width="1"/>
<text x="320.20" y="392.40" font-size="10.20" fill="#262626" stroke="#262626" stroke-width="0.12" text-anchor="end" >1</text>
<line x1="322.8" y1="350.9" x2="326.2" y2="350.9" stroke="#262626" stroke-width="1"/>
<text x="320.20" y="354.60" font-size="10.20" fill="#262626" stroke="#262626" stroke-width="0.12" text-anchor="end" >2</text>
<line x1="322.8" y1="313.0" x2="326.2" y2="313.0" stroke="#262626" stroke-width="1"/>
<text x="320.20" y="316.70" font-size="10.20" fill="#262626" stroke="#262626" stroke-width="0.12" text-anchor="end" >3</text>
<line x1="340.2" y1="426.5" x2="340.2" y2="429.9" stroke="#262626" stroke-width="1"/>
<text x="340.25" y="440.60" font-size="10.20" fill="#262626" stroke="#262626" stroke-width="0.12" text-anchor="middle" textLength="16.0" lengthAdjust="spacingAndGlyphs" >0.0</text>
<line x1="434.9" y1="426.5" x2="434.9" y2="429.9" stroke="#262626" stroke-width="1"/>
<text x="434.95" y="440.60" font-size="10.20" fill="#262626" stroke="#262626" stroke-width="0.12" text-anchor="middle" textLength="16.0" lengthAdjust="spacingAndGlyphs" >0.5</text>
<line x1="529.6" y1="426.5" x2="529.6" y2="429.9" stroke="#262626" stroke-width="1"/>
<text x="529.65" y="440.60" font-size="10.20" fill="#262626" stroke="#262626" stroke-width="0.12" text-anchor="middle" textLength="16.0" lengthAdjust="spacingAndGlyphs" >1.0</text>
<line x1="624.4" y1="426.5" x2="624.4" y2="429.9" stroke="#262626" stroke-width="1"/>
<text x="624.35" y="440.60" font-size="10.20" fill="#262626" stroke="#262626" stroke-width="0.12" text-anchor="middle" textLength="16.0" lengthAdjust="spacingAndGlyphs" >1.5</text>
<text x="333.60" y="325.40" font-size="15.00" fill="#262626" stroke="#262626" stroke-width="0.12" text-anchor="start" textLength="17.6" lengthAdjust="spacingAndGlyphs" >(e)</text>
<text x="303.20" y="369.00" font-size="13.00" fill="#262626" stroke="#262626" stroke-width="0.12" text-anchor="middle" textLength="69.0" lengthAdjust="spacingAndGlyphs" transform="rotate(-90 303.2 369)" dy="4.6">Right edge</text>
<text x="483.10" y="453.00" font-size="13.50" fill="#262626" stroke="#262626" stroke-width="0.12" text-anchor="middle" ><tspan font-style="italic">&#947;</tspan></text>
<path d="M340.2,388.9 H625" stroke="#111" stroke-width="1.6" stroke-dasharray="4.4,2.5"/>
<path d="M348.40,424.50 L353.09,423.52 L357.78,422.54 L362.46,421.56 L367.15,420.57 L371.84,419.59 L376.53,418.61 L381.22,417.63 L385.91,416.65 L390.59,415.67 L395.28,414.69 L399.97,413.71 L404.66,412.72 L409.35,411.74 L414.03,410.76 L418.72,409.78 L423.41,408.80 L428.10,407.82 L432.79,406.84 L437.47,405.85 L442.16,404.87 L446.85,403.89 L451.54,402.91 L456.23,401.93 L460.92,400.95 L465.60,399.97 L470.29,398.98 L474.98,398.00 L479.67,397.02 L484.36,396.04 L489.04,395.06 L493.73,394.08 L498.42,393.10 L503.11,392.12 L507.80,391.13 L512.48,390.15 L517.17,389.17 L521.86,388.19 L526.55,387.21 L531.24,386.23 L535.93,385.25 L540.61,384.26 L545.30,383.28 L549.99,382.30 L554.68,381.32 L559.37,380.34 L564.05,379.36 L568.74,378.38 L573.43,377.39 L578.12,376.41 L582.81,375.43 L587.49,374.45 L592.18,373.47 L596.87,372.49 L601.56,371.51 L606.25,370.53 L610.94,369.54 L615.62,368.56 L620.31,367.58 L625.00,366.60" fill="none" stroke="#cd5c5c" stroke-width="2.50" stroke-linejoin="round"/>
<path d="M348.40,393.70 L353.09,393.44 L357.78,393.14 L362.46,392.79 L367.15,392.39 L371.84,391.95 L376.53,391.48 L381.22,390.98 L385.91,390.44 L390.59,389.88 L395.28,389.30 L399.97,388.70 L404.66,388.05 L409.35,387.29 L414.03,386.46 L418.72,385.56 L423.41,384.61 L428.10,383.62 L432.79,382.60 L437.47,381.56 L442.16,380.53 L446.85,379.50 L451.54,378.51 L456.23,377.55 L460.92,376.63 L465.60,375.72 L470.29,374.80 L474.98,373.90 L479.67,372.99 L484.36,372.09 L489.04,371.18 L493.73,370.28 L498.42,369.38 L503.11,368.47 L507.80,367.56 L512.48,366.65 L517.17,365.74 L521.86,364.82 L526.55,363.89 L531.24,362.96 L535.93,362.02 L540.61,361.08 L545.30,360.12 L549.99,359.17 L554.68,358.21 L559.37,357.24 L564.05,356.27 L568.74,355.30 L573.43,354.32 L578.12,353.34 L582.81,352.35 L587.49,351.36 L592.18,350.37 L596.87,349.37 L601.56,348.37 L606.25,347.36 L610.94,346.35 L615.62,345.34 L620.31,344.32 L625.00,343.30" fill="none" stroke="#008b8b" stroke-width="2.50" stroke-linejoin="round"/>
<path d="M348.40,360.80 L353.09,360.78 L357.78,360.71 L362.46,360.60 L367.15,360.46 L371.84,360.31 L376.53,360.13 L381.22,359.95 L385.91,359.71 L390.59,359.39 L395.28,359.01 L399.97,358.58 L404.66,358.11 L409.35,357.61 L414.03,357.08 L418.72,356.55 L423.41,355.99 L428.10,355.36 L432.79,354.67 L437.47,353.93 L442.16,353.16 L446.85,352.37 L451.54,351.58 L456.23,350.80 L460.92,350.00 L465.60,349.17 L470.29,348.33 L474.98,347.48 L479.67,346.61 L484.36,345.74 L489.04,344.88 L493.73,344.01 L498.42,343.14 L503.11,342.26 L507.80,341.37 L512.48,340.48 L517.17,339.59 L521.86,338.70 L526.55,337.80 L531.24,336.90 L535.93,336.00 L540.61,335.10 L545.30,334.20 L549.99,333.31 L554.68,332.41 L559.37,331.52 L564.05,330.63 L568.74,329.74 L573.43,328.85 L578.12,327.97 L582.81,327.08 L587.49,326.19 L592.18,325.30 L596.87,324.42 L601.56,323.53 L606.25,322.64 L610.94,321.76 L615.62,320.87 L620.31,319.99 L625.00,319.10" fill="none" stroke="#2f4f4f" stroke-width="2.50" stroke-linejoin="round"/>
<path d="M348.40,422.10 L352.48,420.25 L356.56,418.40 L360.63,416.55 L364.71,414.70 L368.79,412.85 L372.87,411.01 L376.95,409.16 L381.02,407.31 L385.10,405.46 L389.18,403.61 L393.26,401.76 L397.34,399.91 L401.41,398.06 L405.49,396.21 L409.57,394.36 L413.65,392.51 L417.73,390.66 L421.80,388.82 L425.88,386.97 L429.96,385.12 L434.04,383.27 L438.12,381.42 L442.19,379.57 L446.27,377.72 L450.35,375.87 L454.43,374.02 L458.51,372.17 L462.58,370.32 L466.66,368.47 L470.74,366.63 L474.82,364.78 L478.89,362.93 L482.97,361.08 L487.05,359.23 L491.13,357.38 L495.21,355.53 L499.28,353.68 L503.36,351.83 L507.44,349.98 L511.52,348.13 L515.60,346.28 L519.67,344.44 L523.75,342.59 L527.83,340.74 L531.91,338.89 L535.99,337.04 L540.06,335.19 L544.14,333.34 L548.22,331.49 L552.30,329.64 L556.38,327.79 L560.45,325.94 L564.53,324.09 L568.61,322.25 L572.69,320.40 L576.77,318.55 L580.84,316.70 L584.92,314.85 L589.00,313.00" fill="none" stroke="#483d8b" stroke-width="2.50" stroke-linejoin="round"/>
<text x="360.00" y="357.70" font-size="12.60" fill="#2f4f4f" stroke="#2f4f4f" stroke-width="0.12" text-anchor="start" textLength="115.0" lengthAdjust="spacingAndGlyphs" transform="rotate(-6.30 360.00 357.70)"><tspan font-style="italic">&#945;</tspan> = 0.1, c = 1, d=1</text>
<text x="342.80" y="414.90" font-size="12.60" fill="#483d8b" stroke="#483d8b" stroke-width="0.12" text-anchor="start" textLength="112.0" lengthAdjust="spacingAndGlyphs" transform="rotate(-23.70 342.80 414.90)"><tspan font-style="italic">&#945;</tspan> = 0.5, c = 0, d=2</text>
<text x="475.00" y="370.80" font-size="12.60" fill="#008b8b" stroke="#008b8b" stroke-width="0.12" text-anchor="start" textLength="125.0" lengthAdjust="spacingAndGlyphs" transform="rotate(-11.10 475.00 370.80)"><tspan font-style="italic">&#945;</tspan> = 0.1, c = 0.5, d=1</text>
<text x="474.80" y="417.20" font-size="12.60" fill="#cd5c5c" stroke="#cd5c5c" stroke-width="0.12" text-anchor="start" textLength="115.5" lengthAdjust="spacingAndGlyphs" transform="rotate(-13.70 474.80 417.20)"><tspan font-style="italic">&#945;</tspan> = 0.1, c = 0, d=1</text>
</g></svg></body></html>
